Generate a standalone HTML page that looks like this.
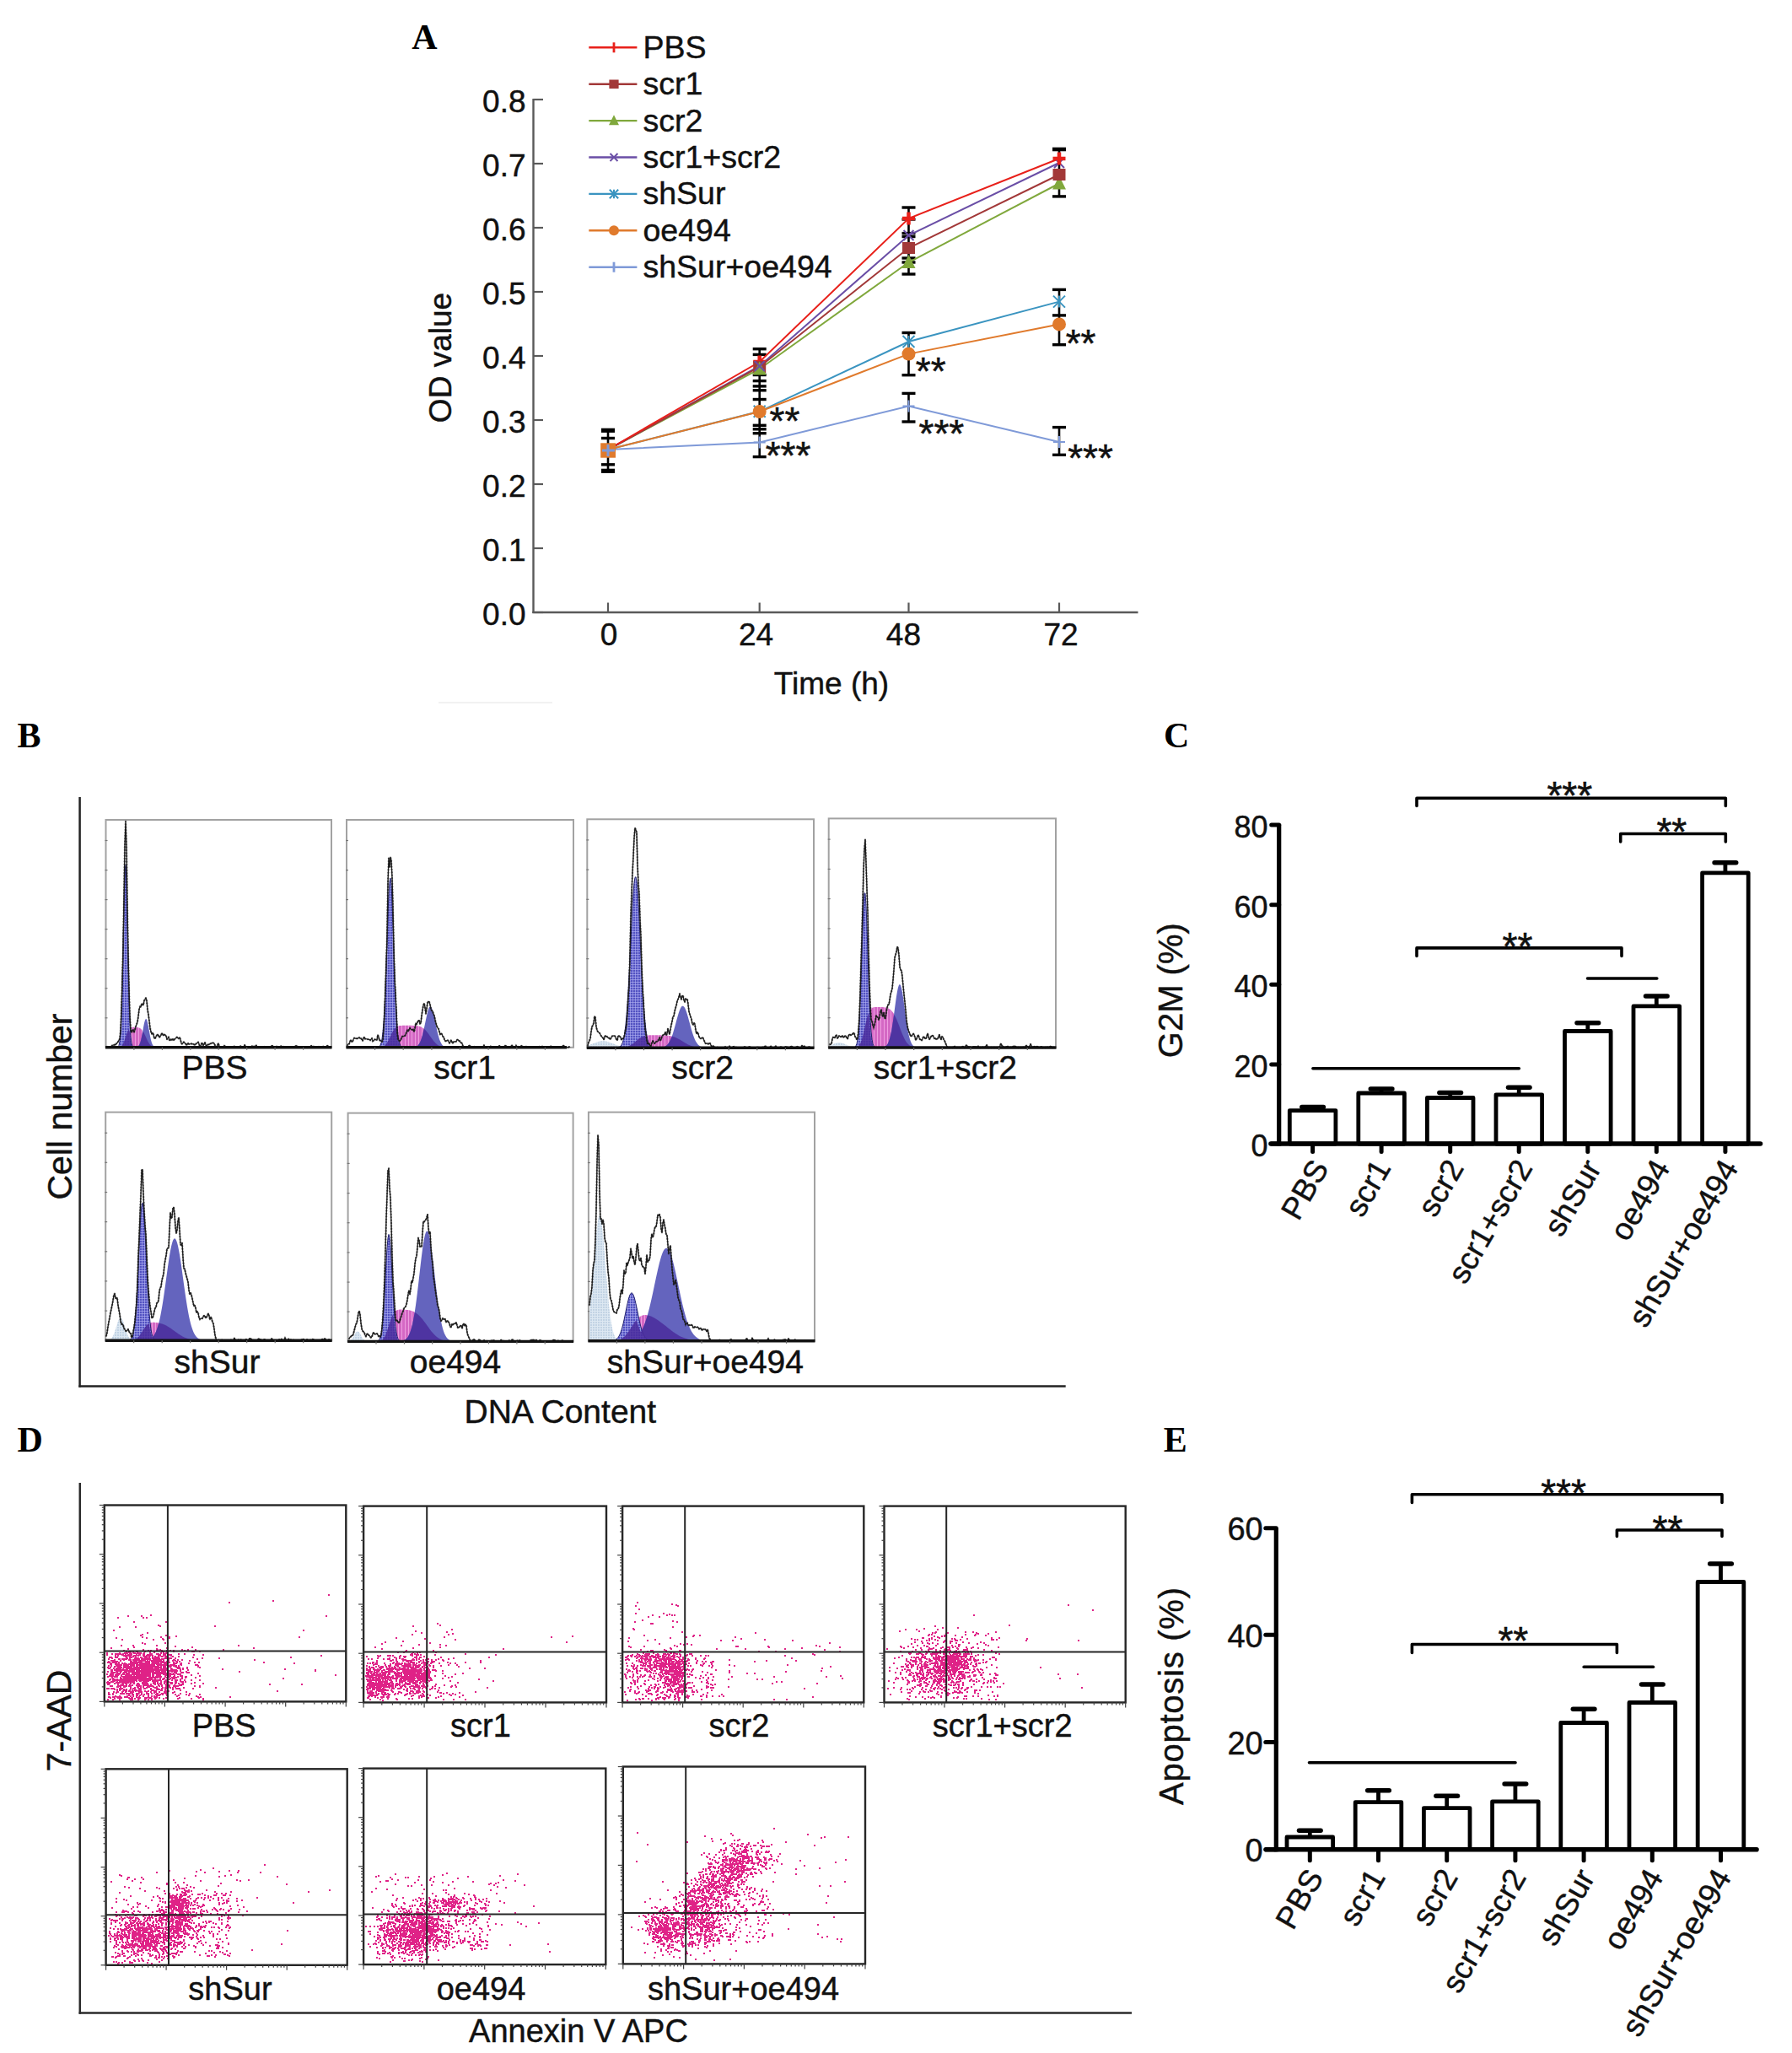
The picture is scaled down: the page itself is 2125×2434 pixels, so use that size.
<!DOCTYPE html>
<html><head><meta charset="utf-8"><style>
html,body{margin:0;padding:0;background:#fff;}
svg{display:block;}
</style></head><body>
<svg width="2125" height="2434" viewBox="0 0 2125 2434">
<rect width="2125" height="2434" fill="#fff"/>
<text x="488.2" y="57.7" font-size="42" text-anchor="start" fill="#000" style="font-family:'Liberation Serif',serif;font-weight:bold">A</text>
<text x="20.4" y="885.6" font-size="42" text-anchor="start" fill="#000" style="font-family:'Liberation Serif',serif;font-weight:bold">B</text>
<text x="1380.1" y="885.6" font-size="42" text-anchor="start" fill="#000" style="font-family:'Liberation Serif',serif;font-weight:bold">C</text>
<text x="20.4" y="1720.6" font-size="42" text-anchor="start" fill="#000" style="font-family:'Liberation Serif',serif;font-weight:bold">D</text>
<text x="1379.8" y="1720.6" font-size="42" text-anchor="start" fill="#000" style="font-family:'Liberation Serif',serif;font-weight:bold">E</text>
<line x1="632.5" y1="117.0" x2="632.5" y2="727.0" stroke="#5a5a5a" stroke-width="2.4" stroke-linecap="butt"/>
<line x1="631.3" y1="726.0" x2="1349.5" y2="726.0" stroke="#5a5a5a" stroke-width="2.4" stroke-linecap="butt"/>
<line x1="632.5" y1="726.0" x2="644.0" y2="726.0" stroke="#5a5a5a" stroke-width="2.2" stroke-linecap="butt"/>
<text x="623.5" y="741.0" font-size="37" text-anchor="end" fill="#111" style="font-family:'Liberation Sans',sans-serif" stroke="#111" stroke-width="0.45">0.0</text>
<line x1="632.5" y1="650.0" x2="644.0" y2="650.0" stroke="#5a5a5a" stroke-width="2.2" stroke-linecap="butt"/>
<text x="623.5" y="665.0" font-size="37" text-anchor="end" fill="#111" style="font-family:'Liberation Sans',sans-serif" stroke="#111" stroke-width="0.45">0.1</text>
<line x1="632.5" y1="574.0" x2="644.0" y2="574.0" stroke="#5a5a5a" stroke-width="2.2" stroke-linecap="butt"/>
<text x="623.5" y="589.0" font-size="37" text-anchor="end" fill="#111" style="font-family:'Liberation Sans',sans-serif" stroke="#111" stroke-width="0.45">0.2</text>
<line x1="632.5" y1="498.0" x2="644.0" y2="498.0" stroke="#5a5a5a" stroke-width="2.2" stroke-linecap="butt"/>
<text x="623.5" y="513.0" font-size="37" text-anchor="end" fill="#111" style="font-family:'Liberation Sans',sans-serif" stroke="#111" stroke-width="0.45">0.3</text>
<line x1="632.5" y1="422.0" x2="644.0" y2="422.0" stroke="#5a5a5a" stroke-width="2.2" stroke-linecap="butt"/>
<text x="623.5" y="437.0" font-size="37" text-anchor="end" fill="#111" style="font-family:'Liberation Sans',sans-serif" stroke="#111" stroke-width="0.45">0.4</text>
<line x1="632.5" y1="346.0" x2="644.0" y2="346.0" stroke="#5a5a5a" stroke-width="2.2" stroke-linecap="butt"/>
<text x="623.5" y="361.0" font-size="37" text-anchor="end" fill="#111" style="font-family:'Liberation Sans',sans-serif" stroke="#111" stroke-width="0.45">0.5</text>
<line x1="632.5" y1="270.0" x2="644.0" y2="270.0" stroke="#5a5a5a" stroke-width="2.2" stroke-linecap="butt"/>
<text x="623.5" y="285.0" font-size="37" text-anchor="end" fill="#111" style="font-family:'Liberation Sans',sans-serif" stroke="#111" stroke-width="0.45">0.6</text>
<line x1="632.5" y1="194.0" x2="644.0" y2="194.0" stroke="#5a5a5a" stroke-width="2.2" stroke-linecap="butt"/>
<text x="623.5" y="209.0" font-size="37" text-anchor="end" fill="#111" style="font-family:'Liberation Sans',sans-serif" stroke="#111" stroke-width="0.45">0.7</text>
<line x1="632.5" y1="118.0" x2="644.0" y2="118.0" stroke="#5a5a5a" stroke-width="2.2" stroke-linecap="butt"/>
<text x="623.5" y="133.0" font-size="37" text-anchor="end" fill="#111" style="font-family:'Liberation Sans',sans-serif" stroke="#111" stroke-width="0.45">0.8</text>
<line x1="721.0" y1="714.5" x2="721.0" y2="726.0" stroke="#5a5a5a" stroke-width="2.2" stroke-linecap="butt"/>
<text x="722.0" y="765.0" font-size="37" text-anchor="middle" fill="#111" style="font-family:'Liberation Sans',sans-serif" stroke="#111" stroke-width="0.45">0</text>
<line x1="900.7" y1="714.5" x2="900.7" y2="726.0" stroke="#5a5a5a" stroke-width="2.2" stroke-linecap="butt"/>
<text x="896.6" y="765.0" font-size="37" text-anchor="middle" fill="#111" style="font-family:'Liberation Sans',sans-serif" stroke="#111" stroke-width="0.45">24</text>
<line x1="1077.5" y1="714.5" x2="1077.5" y2="726.0" stroke="#5a5a5a" stroke-width="2.2" stroke-linecap="butt"/>
<text x="1071.4" y="765.0" font-size="37" text-anchor="middle" fill="#111" style="font-family:'Liberation Sans',sans-serif" stroke="#111" stroke-width="0.45">48</text>
<line x1="1256.0" y1="714.5" x2="1256.0" y2="726.0" stroke="#5a5a5a" stroke-width="2.2" stroke-linecap="butt"/>
<text x="1258.0" y="765.0" font-size="37" text-anchor="middle" fill="#111" style="font-family:'Liberation Sans',sans-serif" stroke="#111" stroke-width="0.45">72</text>
<text x="986.0" y="823.0" font-size="37" text-anchor="middle" fill="#111" style="font-family:'Liberation Sans',sans-serif" stroke="#111" stroke-width="0.45">Time (h)</text>
<text x="535.0" y="424.0" font-size="37" text-anchor="middle" fill="#111" style="font-family:'Liberation Sans',sans-serif" transform="rotate(-90 535.0 424.0)" stroke="#111" stroke-width="0.45">OD value</text>
<line x1="698.3" y1="56.3" x2="755.4" y2="56.3" stroke="#e8201a" stroke-width="2.4" stroke-linecap="butt"/>
<line x1="728.0" y1="50.3" x2="728.0" y2="62.3" stroke="#e8201a" stroke-width="2.8" stroke-linecap="butt"/>
<text x="762.5" y="68.7" font-size="37.5" text-anchor="start" fill="#111" style="font-family:'Liberation Sans',sans-serif" stroke="#111" stroke-width="0.45">PBS</text>
<line x1="698.3" y1="99.7" x2="755.4" y2="99.7" stroke="#a23838" stroke-width="2.4" stroke-linecap="butt"/>
<rect x="722.4" y="94.5" width="11.2" height="10.5" fill="#a23838"/>
<text x="762.5" y="112.1" font-size="37.5" text-anchor="start" fill="#111" style="font-family:'Liberation Sans',sans-serif" stroke="#111" stroke-width="0.45">scr1</text>
<line x1="698.3" y1="143.1" x2="755.4" y2="143.1" stroke="#80a83c" stroke-width="2.4" stroke-linecap="butt"/>
<path d="M728.0 136.3L734.0 148.3H722.0Z" fill="#80a83c"/>
<text x="762.5" y="155.5" font-size="37.5" text-anchor="start" fill="#111" style="font-family:'Liberation Sans',sans-serif" stroke="#111" stroke-width="0.45">scr2</text>
<line x1="698.3" y1="186.5" x2="755.4" y2="186.5" stroke="#6a4ea6" stroke-width="2.4" stroke-linecap="butt"/>
<path d="M723.5 182.0L732.5 191.0M732.5 182.0L723.5 191.0" stroke="#6a4ea6" stroke-width="2"/>
<text x="762.5" y="198.9" font-size="37.5" text-anchor="start" fill="#111" style="font-family:'Liberation Sans',sans-serif" stroke="#111" stroke-width="0.45">scr1+scr2</text>
<line x1="698.3" y1="229.9" x2="755.4" y2="229.9" stroke="#3a94c0" stroke-width="2.4" stroke-linecap="butt"/>
<path d="M722.8 224.7L733.2 235.2M733.2 224.7L722.8 235.2M728.0 224.7V235.2" stroke="#3a94c0" stroke-width="2"/>
<text x="762.5" y="242.3" font-size="37.5" text-anchor="start" fill="#111" style="font-family:'Liberation Sans',sans-serif" stroke="#111" stroke-width="0.45">shSur</text>
<line x1="698.3" y1="273.3" x2="755.4" y2="273.3" stroke="#e07a2c" stroke-width="2.4" stroke-linecap="butt"/>
<circle cx="728.0" cy="273.3" r="6.0" fill="#e07a2c"/>
<text x="762.5" y="285.7" font-size="37.5" text-anchor="start" fill="#111" style="font-family:'Liberation Sans',sans-serif" stroke="#111" stroke-width="0.45">oe494</text>
<line x1="698.3" y1="316.7" x2="755.4" y2="316.7" stroke="#7f9ad8" stroke-width="2.4" stroke-linecap="butt"/>
<line x1="728.0" y1="310.7" x2="728.0" y2="322.7" stroke="#7f9ad8" stroke-width="2.8" stroke-linecap="butt"/>
<text x="762.5" y="329.1" font-size="37.5" text-anchor="start" fill="#111" style="font-family:'Liberation Sans',sans-serif" stroke="#111" stroke-width="0.45">shSur+oe494</text>
<line x1="721.0" y1="510.0" x2="721.0" y2="558.5" stroke="#000" stroke-width="2.6" stroke-linecap="butt"/>
<line x1="713.0" y1="510.3" x2="729.0" y2="510.3" stroke="#000" stroke-width="5.2" stroke-linecap="butt"/>
<line x1="713.0" y1="519.5" x2="729.0" y2="519.5" stroke="#000" stroke-width="3.4" stroke-linecap="butt"/>
<line x1="713.0" y1="550.8" x2="729.0" y2="550.8" stroke="#000" stroke-width="3.4" stroke-linecap="butt"/>
<line x1="713.0" y1="558.3" x2="729.0" y2="558.3" stroke="#000" stroke-width="5.2" stroke-linecap="butt"/>
<line x1="900.7" y1="413.7" x2="900.7" y2="541.6" stroke="#000" stroke-width="2.6" stroke-linecap="butt"/>
<line x1="892.7" y1="413.7" x2="908.7" y2="413.7" stroke="#000" stroke-width="3.4" stroke-linecap="butt"/>
<line x1="892.7" y1="420.4" x2="908.7" y2="420.4" stroke="#000" stroke-width="3.4" stroke-linecap="butt"/>
<line x1="892.7" y1="444.5" x2="908.7" y2="444.5" stroke="#000" stroke-width="3.4" stroke-linecap="butt"/>
<line x1="892.7" y1="451.6" x2="908.7" y2="451.6" stroke="#000" stroke-width="3.4" stroke-linecap="butt"/>
<line x1="892.7" y1="457.9" x2="908.7" y2="457.9" stroke="#000" stroke-width="3.4" stroke-linecap="butt"/>
<line x1="892.7" y1="462.8" x2="908.7" y2="462.8" stroke="#000" stroke-width="3.4" stroke-linecap="butt"/>
<line x1="892.7" y1="473.5" x2="908.7" y2="473.5" stroke="#000" stroke-width="3.4" stroke-linecap="butt"/>
<line x1="892.7" y1="504.3" x2="908.7" y2="504.3" stroke="#000" stroke-width="3.4" stroke-linecap="butt"/>
<line x1="892.7" y1="508.8" x2="908.7" y2="508.8" stroke="#000" stroke-width="3.4" stroke-linecap="butt"/>
<line x1="892.7" y1="513.7" x2="908.7" y2="513.7" stroke="#000" stroke-width="3.4" stroke-linecap="butt"/>
<line x1="892.7" y1="541.6" x2="908.7" y2="541.6" stroke="#000" stroke-width="3.4" stroke-linecap="butt"/>
<line x1="1077.5" y1="246.0" x2="1077.5" y2="325.0" stroke="#000" stroke-width="2.6" stroke-linecap="butt"/>
<line x1="1069.5" y1="246.0" x2="1085.5" y2="246.0" stroke="#000" stroke-width="3.4" stroke-linecap="butt"/>
<line x1="1069.5" y1="260.0" x2="1085.5" y2="260.0" stroke="#000" stroke-width="3.4" stroke-linecap="butt"/>
<line x1="1069.5" y1="276.6" x2="1085.5" y2="276.6" stroke="#000" stroke-width="3.4" stroke-linecap="butt"/>
<line x1="1069.5" y1="280.5" x2="1085.5" y2="280.5" stroke="#000" stroke-width="3.4" stroke-linecap="butt"/>
<line x1="1069.5" y1="306.0" x2="1085.5" y2="306.0" stroke="#000" stroke-width="3.4" stroke-linecap="butt"/>
<line x1="1069.5" y1="311.0" x2="1085.5" y2="311.0" stroke="#000" stroke-width="3.4" stroke-linecap="butt"/>
<line x1="1069.5" y1="325.0" x2="1085.5" y2="325.0" stroke="#000" stroke-width="3.4" stroke-linecap="butt"/>
<line x1="1077.5" y1="394.5" x2="1077.5" y2="444.7" stroke="#000" stroke-width="2.6" stroke-linecap="butt"/>
<line x1="1069.5" y1="394.5" x2="1085.5" y2="394.5" stroke="#000" stroke-width="3.4" stroke-linecap="butt"/>
<line x1="1069.5" y1="444.7" x2="1085.5" y2="444.7" stroke="#000" stroke-width="3.4" stroke-linecap="butt"/>
<line x1="1077.5" y1="466.4" x2="1077.5" y2="500.0" stroke="#000" stroke-width="2.6" stroke-linecap="butt"/>
<line x1="1069.5" y1="466.4" x2="1085.5" y2="466.4" stroke="#000" stroke-width="3.4" stroke-linecap="butt"/>
<line x1="1069.5" y1="500.0" x2="1085.5" y2="500.0" stroke="#000" stroke-width="3.4" stroke-linecap="butt"/>
<line x1="1256.0" y1="176.4" x2="1256.0" y2="232.9" stroke="#000" stroke-width="2.6" stroke-linecap="butt"/>
<line x1="1248.0" y1="177.0" x2="1264.0" y2="177.0" stroke="#000" stroke-width="4.6" stroke-linecap="butt"/>
<line x1="1248.0" y1="232.9" x2="1264.0" y2="232.9" stroke="#000" stroke-width="3.4" stroke-linecap="butt"/>
<line x1="1256.0" y1="343.4" x2="1256.0" y2="408.7" stroke="#000" stroke-width="2.6" stroke-linecap="butt"/>
<line x1="1248.0" y1="343.4" x2="1264.0" y2="343.4" stroke="#000" stroke-width="3.4" stroke-linecap="butt"/>
<line x1="1248.0" y1="373.9" x2="1264.0" y2="373.9" stroke="#000" stroke-width="3.4" stroke-linecap="butt"/>
<line x1="1248.0" y1="408.7" x2="1264.0" y2="408.7" stroke="#000" stroke-width="3.4" stroke-linecap="butt"/>
<line x1="1256.0" y1="506.6" x2="1256.0" y2="539.3" stroke="#000" stroke-width="2.6" stroke-linecap="butt"/>
<line x1="1248.0" y1="506.6" x2="1264.0" y2="506.6" stroke="#000" stroke-width="3.4" stroke-linecap="butt"/>
<line x1="1248.0" y1="539.3" x2="1264.0" y2="539.3" stroke="#000" stroke-width="3.4" stroke-linecap="butt"/>
<polyline points="721.0,533.0 900.7,524.4 1077.5,481.5 1256.0,524.0" fill="none" stroke="#7f9ad8" stroke-width="2"/>
<polyline points="721.0,533.0 900.7,487.8 1077.5,405.0 1256.0,357.6" fill="none" stroke="#3a94c0" stroke-width="2"/>
<polyline points="721.0,533.0 900.7,488.0 1077.5,419.6 1256.0,384.4" fill="none" stroke="#e07a2c" stroke-width="2"/>
<polyline points="721.0,533.0 900.7,437.5 1077.5,311.0 1256.0,217.5" fill="none" stroke="#80a83c" stroke-width="2"/>
<polyline points="721.0,533.0 900.7,434.0 1077.5,279.0 1256.0,193.0" fill="none" stroke="#6a4ea6" stroke-width="2"/>
<polyline points="721.0,533.0 900.7,435.0 1077.5,294.0 1256.0,207.0" fill="none" stroke="#a23838" stroke-width="2"/>
<polyline points="721.0,533.0 900.7,429.0 1077.5,259.0 1256.0,188.0" fill="none" stroke="#e8201a" stroke-width="2"/>
<path d="M893.2 429.0H908.2M900.7 421.5V436.5" stroke="#e8201a" stroke-width="4.5"/>
<rect x="893.2" y="428.0" width="15.0" height="14.0" fill="#a23838"/>
<path d="M900.7 428.5L908.7 444.5H892.7Z" fill="#80a83c"/>
<path d="M894.7 428.0L906.7 440.0M906.7 428.0L894.7 440.0" stroke="#6a4ea6" stroke-width="2"/>
<path d="M893.7 480.8L907.7 494.8M907.7 480.8L893.7 494.8M900.7 480.8V494.8" stroke="#3a94c0" stroke-width="2"/>
<circle cx="900.7" cy="488.0" r="8.0" fill="#e07a2c"/>
<path d="M893.7 524.4H907.7M900.7 517.4V531.4" stroke="#7f9ad8" stroke-width="2"/>
<path d="M1070.5 481.5H1084.5M1077.5 474.5V488.5" stroke="#7f9ad8" stroke-width="2"/>
<path d="M1249.0 524.0H1263.0M1256.0 517.0V531.0" stroke="#7f9ad8" stroke-width="2"/>
<circle cx="1077.5" cy="419.6" r="8.0" fill="#e07a2c"/>
<circle cx="1256.0" cy="384.4" r="8.0" fill="#e07a2c"/>
<path d="M1070.5 398.0L1084.5 412.0M1084.5 398.0L1070.5 412.0M1077.5 398.0V412.0" stroke="#3a94c0" stroke-width="2"/>
<path d="M1249.0 350.6L1263.0 364.6M1263.0 350.6L1249.0 364.6M1256.0 350.6V364.6" stroke="#3a94c0" stroke-width="2"/>
<path d="M1077.5 302.0L1085.5 318.0H1069.5Z" fill="#80a83c"/>
<path d="M1256.0 208.5L1264.0 224.5H1248.0Z" fill="#80a83c"/>
<rect x="1070.0" y="287.0" width="15.0" height="14.0" fill="#a23838"/>
<rect x="1248.5" y="200.0" width="15.0" height="14.0" fill="#a23838"/>
<path d="M1071.5 273.0L1083.5 285.0M1083.5 273.0L1071.5 285.0" stroke="#6a4ea6" stroke-width="2"/>
<path d="M1250.0 187.0L1262.0 199.0M1262.0 187.0L1250.0 199.0" stroke="#6a4ea6" stroke-width="2"/>
<path d="M1070.0 259.0H1085.0M1077.5 251.5V266.5" stroke="#e8201a" stroke-width="4.5"/>
<path d="M1248.5 188.0H1263.5M1256.0 180.5V195.5" stroke="#e8201a" stroke-width="4.5"/>
<rect x="712.2" y="525.3" width="17.8" height="17.4" fill="#e07a2c"/>
<path d="M714 534H729M721 527V541" stroke="#7f9ad8" stroke-width="3"/>
<text x="912.6" y="515.2" font-size="46" text-anchor="start" fill="#111" style="font-family:'Liberation Sans',sans-serif" stroke="#111" stroke-width="0.5">**</text>
<text x="907.7" y="556.2" font-size="46" text-anchor="start" fill="#111" style="font-family:'Liberation Sans',sans-serif" stroke="#111" stroke-width="0.5">***</text>
<text x="1085.8" y="456.4" font-size="46" text-anchor="start" fill="#111" style="font-family:'Liberation Sans',sans-serif" stroke="#111" stroke-width="0.5">**</text>
<text x="1089.5" y="529.9" font-size="46" text-anchor="start" fill="#111" style="font-family:'Liberation Sans',sans-serif" stroke="#111" stroke-width="0.5">***</text>
<text x="1263.7" y="423.4" font-size="46" text-anchor="start" fill="#111" style="font-family:'Liberation Sans',sans-serif" stroke="#111" stroke-width="0.5">**</text>
<text x="1266.2" y="559.2" font-size="46" text-anchor="start" fill="#111" style="font-family:'Liberation Sans',sans-serif" stroke="#111" stroke-width="0.5">***</text>
<line x1="520.0" y1="833.0" x2="655.0" y2="833.0" stroke="#eeeeee" stroke-width="1.5" stroke-linecap="butt"/>
<defs>
<pattern id="grid" width="3" height="3" patternUnits="userSpaceOnUse">
<rect width="3" height="3" fill="#5252c2"/><path d="M0 0.35H3M0.35 0V3" stroke="#b4b4f4" stroke-width="0.7"/></pattern>
<pattern id="grid2" width="3" height="3" patternUnits="userSpaceOnUse">
<rect width="3" height="3" fill="#c2d3e4"/><path d="M0 0.5H3M0.5 0V3" stroke="#dde8f2" stroke-width="1"/></pattern>
<pattern id="vstripe" width="4" height="4" patternUnits="userSpaceOnUse">
<rect width="4" height="4" fill="#d468c4"/><path d="M0.5 0V4" stroke="#ee9ee0" stroke-width="1"/></pattern>
</defs>
<rect x="125.5" y="972.0" width="267.5" height="269.8" fill="none" stroke="#a2a2a2" stroke-width="2"/>
<line x1="124.5" y1="1206.8" x2="127.5" y2="1206.8" stroke="#777" stroke-width="1.2" stroke-linecap="butt"/>
<line x1="124.5" y1="1171.7" x2="127.5" y2="1171.7" stroke="#777" stroke-width="1.2" stroke-linecap="butt"/>
<line x1="124.5" y1="1136.7" x2="127.5" y2="1136.7" stroke="#777" stroke-width="1.2" stroke-linecap="butt"/>
<line x1="124.5" y1="1101.6" x2="127.5" y2="1101.6" stroke="#777" stroke-width="1.2" stroke-linecap="butt"/>
<line x1="124.5" y1="1066.6" x2="127.5" y2="1066.6" stroke="#777" stroke-width="1.2" stroke-linecap="butt"/>
<line x1="124.5" y1="1031.6" x2="127.5" y2="1031.6" stroke="#777" stroke-width="1.2" stroke-linecap="butt"/>
<line x1="124.5" y1="996.5" x2="127.5" y2="996.5" stroke="#777" stroke-width="1.2" stroke-linecap="butt"/>
<path d="M141 1241.8L141 1241.7 142 1241.4 143 1241 144 1240.3 145 1239.1 146 1237.4 147 1235 148 1232.2 149 1229.2 150 1226.2 151 1223.6 152 1221.5 153 1219.9 154 1218.9 155 1218.4 156 1218.1 157 1217.9 158 1217.8 159 1217.8 160 1217.8 161 1217.9 162 1217.9 163 1218 164 1218.2 165 1218.5 166 1219 167 1219.7 168 1220.7 169 1221.9 170 1223.5 171 1225.3 172 1227.4 173 1229.6 174 1231.8 175 1233.9 176 1235.8 177 1237.4 178 1238.7 179 1239.7 180 1240.5 181 1241 182 1241.3 183 1241.5 184 1241.7L184 1241.8Z" fill="url(#vstripe)"/>
<path d="M161 1241.8L161 1241.7 162 1241.5 163 1241.1 164 1240.4 165 1239.1 166 1236.9 167 1233.7 168 1229.3 169 1224 170 1218.3 171 1213.1 172 1209.4 173 1207.8 174 1208.8 175 1212.2 176 1217.2 177 1222.9 178 1228.3 179 1232.9 180 1236.4 181 1238.7 182 1240.2 183 1241 184 1241.5 185 1241.7L185 1241.8Z" fill="#6464be"/>
<path d="M139 1241.8L139 1241.6 140 1241.1 141 1239.4 142 1234.7 143 1223.8 144 1202.3 145 1167.2 146 1120.3 147 1071 148 1034.8 149 1025.4 150 1046.7 151 1090.1 152 1140.1 153 1182.9 154 1212.4 155 1229.2 156 1237.1 157 1240.3 158 1241.4 159 1241.7L159 1241.8Z" fill="url(#grid)" stroke="#23236e" stroke-width="1"/>
<path d="M141 1241.8L141 1241.7 142 1241.4 143 1241 144 1240.3 145 1239.1 146 1237.4 147 1235 148 1232.2 149 1229.2 150 1226.2 151 1223.6 152 1221.5 153 1219.9 154 1224.2 155 1234.2 156 1239 157 1240.9 158 1241.6 159 1241.7 160 1241.8 161 1241.7 162 1241.5 163 1241.1 164 1240.4 165 1239.1 166 1236.9 167 1233.7 168 1229.3 169 1224 170 1223.5 171 1225.3 172 1227.4 173 1229.6 174 1231.8 175 1233.9 176 1235.8 177 1237.4 178 1238.7 179 1239.7 180 1240.5 181 1241 182 1241.3 183 1241.5 184 1241.7L184 1241.8Z" fill="#4a2c9c" fill-opacity="0.85"/>
<defs><path id="o10" d="M127 1241 128 1241.6 129 1241.8 130 1241.8 131 1241.8 132 1241.3 133 1239.3 134 1239.2 135 1239.2 136 1238.3 137 1238.8 138 1237.2 139 1236.5 140 1235.1 141 1233.4 142 1231.7 143 1221.9 144 1197.5 145 1161.2 146 1123.3 147 1065 148 1002.1 149 973.9 150 1003.5 151 1075.7 152 1130.2 153 1172 154 1205.4 155 1220.6 156 1224.2 157 1221 158 1221.1 159 1223.9 160 1221.1 161 1216.9 162 1214.4 163 1211.5 164 1204.9 165 1196.8 166 1193.6 167 1194 168 1189.9 169 1190.9 170 1191.7 171 1186.2 172 1185 173 1183.1 174 1186.6 175 1197.4 176 1202.6 177 1210.5 178 1218.9 179 1223.2 180 1225.9 181 1224.4 182 1226.4 183 1231.2 184 1231.2 185 1228.9 186 1227.4 187 1226.3 188 1227.9 189 1230 190 1228.5 191 1227.1 192 1224.8 193 1226.8 194 1227.8 195 1226.5 196 1226.9 197 1228.3 198 1232.1 199 1230.8 200 1229.4 201 1233.7 202 1233.3 203 1232.2 204 1233.2 205 1232 206 1233.5 207 1232.1 208 1231.1 209 1230.5 210 1229.3 211 1230.7 212 1231.2 213 1229.8 214 1232.3 215 1236.9 216 1237.8 217 1236.6 218 1235.2 219 1236.5 220 1237.4 221 1239.2 222 1238 223 1236.5 224 1237.9 225 1238 226 1237.5 227 1237.4 228 1237.9 229 1237.6 230 1238.3 231 1239 232 1238 233 1237 234 1236.7 235 1235.5 236 1237.6 237 1241 238 1240.1 239 1236.9 240 1236.5 241 1239.7 242 1238 243 1235.6 244 1238.8 245 1240.2 246 1238.6 247 1238.3 248 1238.5 249 1237.4 250 1237.3 251 1236.4 252 1236.6 253 1236.5 254 1236.9 255 1239.6 256 1241.2 257 1240.9 258 1238.7 259 1236.9 260 1240.8 261 1241.8 262 1240.8 263 1241 264 1241.2 265 1241.8 266 1239.8 267 1240.1 268 1241.8 269 1241.1 270 1240.7 271 1241.7 272 1241.8 273 1241.8 274 1241.8 275 1241.8 276 1241.1 277 1241.3 278 1240.1 279 1241.2 280 1241.8 281 1241.4 282 1241.8 283 1241.8 284 1240.6 285 1240.1 286 1241 287 1241.4 288 1241.8 289 1241.1 290 1238.9 291 1240.1 292 1241.5 293 1241.8 294 1241.8 295 1241.8 296 1241.8 297 1241.8 298 1241.5 299 1240 300 1240.7 301 1240.4 302 1241.6 303 1240.3 304 1239.1 305 1241.8 306 1241.8 307 1241.8 308 1241.8 309 1240.6 310 1240.9 311 1241.5 312 1241.8 313 1241.8 314 1241 315 1241.8 316 1241.8 317 1241.1 318 1241.8 319 1241.6 320 1241.8 321 1241.8 322 1240.2 323 1239.6 324 1240.5 325 1241.3 326 1241.5 327 1241.6 328 1240.8 329 1240.8 330 1241.8 331 1241.8 332 1241 333 1240.1 334 1240.7 335 1241.8 336 1241.3 337 1240.7 338 1241.8 339 1241.8 340 1241.2 341 1241.3 342 1241.8 343 1241.8 344 1241.8 345 1241.8 346 1241.8 347 1241.8 348 1241.8 349 1241.8 350 1240.1 351 1239.9 352 1240.3 353 1240.5 354 1241.8 355 1241.8 356 1241.8 357 1241.8 358 1241.8 359 1241.8 360 1241.7 361 1241.8 362 1241.4 363 1241.1 364 1241.8 365 1241.3 366 1241.7 367 1241.7 368 1240.9 369 1239.6 370 1241.3 371 1241.3 372 1240.6 373 1241.8 374 1241.4 375 1241.7 376 1241.8 377 1241.3 378 1241 379 1241.8 380 1241.8 381 1241.8 382 1241.7 383 1240.4 384 1241.3 385 1241.8 386 1241.8 387 1240.6 388 1239.4 389 1240.5 390 1241.8"/></defs>
<use href="#o10" fill="none" stroke="#2a2a2a" stroke-width="1.3" stroke-linejoin="round"/>
<use href="#o10" fill="none" stroke="#111" stroke-width="2.4" stroke-dasharray="0.1 3.3" stroke-linecap="round" opacity="0.6"/>
<line x1="125.0" y1="1241.8" x2="393.5" y2="1241.8" stroke="#111" stroke-width="3.4" stroke-linecap="butt"/>
<line x1="158.9" y1="1241.8" x2="158.9" y2="1244.8" stroke="#666" stroke-width="1.2" stroke-linecap="butt"/>
<line x1="192.4" y1="1241.8" x2="192.4" y2="1244.8" stroke="#666" stroke-width="1.2" stroke-linecap="butt"/>
<line x1="225.8" y1="1241.8" x2="225.8" y2="1244.8" stroke="#666" stroke-width="1.2" stroke-linecap="butt"/>
<line x1="259.2" y1="1241.8" x2="259.2" y2="1244.8" stroke="#666" stroke-width="1.2" stroke-linecap="butt"/>
<line x1="292.7" y1="1241.8" x2="292.7" y2="1244.8" stroke="#666" stroke-width="1.2" stroke-linecap="butt"/>
<line x1="326.1" y1="1241.8" x2="326.1" y2="1244.8" stroke="#666" stroke-width="1.2" stroke-linecap="butt"/>
<line x1="359.6" y1="1241.8" x2="359.6" y2="1244.8" stroke="#666" stroke-width="1.2" stroke-linecap="butt"/>
<rect x="411.0" y="972.0" width="269.0" height="269.8" fill="none" stroke="#a2a2a2" stroke-width="2"/>
<line x1="410.0" y1="1206.8" x2="413.0" y2="1206.8" stroke="#777" stroke-width="1.2" stroke-linecap="butt"/>
<line x1="410.0" y1="1171.7" x2="413.0" y2="1171.7" stroke="#777" stroke-width="1.2" stroke-linecap="butt"/>
<line x1="410.0" y1="1136.7" x2="413.0" y2="1136.7" stroke="#777" stroke-width="1.2" stroke-linecap="butt"/>
<line x1="410.0" y1="1101.6" x2="413.0" y2="1101.6" stroke="#777" stroke-width="1.2" stroke-linecap="butt"/>
<line x1="410.0" y1="1066.6" x2="413.0" y2="1066.6" stroke="#777" stroke-width="1.2" stroke-linecap="butt"/>
<line x1="410.0" y1="1031.6" x2="413.0" y2="1031.6" stroke="#777" stroke-width="1.2" stroke-linecap="butt"/>
<line x1="410.0" y1="996.5" x2="413.0" y2="996.5" stroke="#777" stroke-width="1.2" stroke-linecap="butt"/>
<path d="M451 1241.8L451 1241.6 452 1241.5 453 1241.3 454 1240.9 455 1240.4 456 1239.8 457 1238.9 458 1237.7 459 1236.2 460 1234.5 461 1232.6 462 1230.5 463 1228.4 464 1226.2 465 1224.2 466 1222.4 467 1220.8 468 1219.4 469 1218.4 470 1217.5 471 1216.9 472 1216.5 473 1216.2 474 1216.1 475 1215.9 476 1215.9 477 1215.8 478 1215.8 479 1215.8 480 1215.8 481 1215.8 482 1215.8 483 1215.8 484 1215.8 485 1215.8 486 1215.8 487 1215.8 488 1215.8 489 1215.8 490 1215.9 491 1215.9 492 1215.9 493 1216 494 1216.1 495 1216.2 496 1216.4 497 1216.6 498 1216.9 499 1217.3 500 1217.8 501 1218.4 502 1219 503 1219.8 504 1220.8 505 1221.8 506 1223 507 1224.2 508 1225.5 509 1226.9 510 1228.4 511 1229.8 512 1231.2 513 1232.6 514 1233.9 515 1235.1 516 1236.2 517 1237.2 518 1238.1 519 1238.9 520 1239.5 521 1240 522 1240.4 523 1240.8 524 1241.1 525 1241.3 526 1241.4 527 1241.5 528 1241.6L528 1241.8Z" fill="url(#vstripe)"/>
<path d="M490 1241.8L490 1241.6 491 1241.5 492 1241.3 493 1241 494 1240.6 495 1239.9 496 1239 497 1237.6 498 1235.9 499 1233.6 500 1230.7 501 1227.2 502 1223.1 503 1218.6 504 1213.8 505 1208.9 506 1204.2 507 1200 508 1196.6 509 1194.3 510 1193.3 511 1193.5 512 1195.1 513 1197.9 514 1201.6 515 1206 516 1210.8 517 1215.7 518 1220.5 519 1224.8 520 1228.6 521 1231.9 522 1234.5 523 1236.6 524 1238.2 525 1239.4 526 1240.2 527 1240.8 528 1241.2 529 1241.4 530 1241.6L530 1241.8Z" fill="#6464be"/>
<path d="M448 1241.8L448 1241.6 449 1241.3 450 1240.6 451 1239.2 452 1236.5 453 1231.8 454 1223.9 455 1211.8 456 1194.4 457 1171.6 458 1144 459 1113.8 460 1084.5 461 1060.2 462 1044.8 463 1041.1 464 1049.6 465 1069 466 1095.8 467 1126 468 1155.5 469 1181.3 470 1202 471 1217.2 472 1227.5 473 1234 474 1237.8 475 1239.9 476 1240.9 477 1241.4 478 1241.7L478 1241.8Z" fill="url(#grid)" stroke="#23236e" stroke-width="1"/>
<path d="M451 1241.8L451 1241.6 452 1241.5 453 1241.3 454 1240.9 455 1240.4 456 1239.8 457 1238.9 458 1237.7 459 1236.2 460 1234.5 461 1232.6 462 1230.5 463 1228.4 464 1226.2 465 1224.2 466 1222.4 467 1220.8 468 1219.4 469 1218.4 470 1217.9 471 1227.1 472 1233.2 473 1237.1 474 1239.4 475 1240.6 476 1241.3 477 1241.6 478 1241.7 479 1241.8 480 1241.8 481 1241.8 482 1241.8 483 1241.8 484 1241.8 485 1241.8 486 1241.8 487 1241.8 488 1241.8 489 1241.7 490 1241.6 491 1241.5 492 1241.3 493 1241 494 1240.6 495 1239.9 496 1239 497 1237.6 498 1235.9 499 1233.6 500 1230.7 501 1227.2 502 1223.1 503 1219.8 504 1220.8 505 1221.8 506 1223 507 1224.2 508 1225.5 509 1226.9 510 1228.4 511 1229.8 512 1231.2 513 1232.6 514 1233.9 515 1235.1 516 1236.2 517 1237.2 518 1238.1 519 1238.9 520 1239.5 521 1240 522 1240.4 523 1240.8 524 1241.1 525 1241.3 526 1241.4 527 1241.5 528 1241.6L528 1241.8Z" fill="#4a2c9c" fill-opacity="0.85"/>
<defs><path id="o11" d="M412 1239.5 413 1237.6 414 1237.7 415 1235.1 416 1232.8 417 1235.2 418 1235.2 419 1232.4 420 1230.7 421 1230.8 422 1231.5 423 1231.2 424 1231.5 425 1230.6 426 1230.1 427 1231.2 428 1230.8 429 1232.4 430 1234 431 1230.8 432 1229.5 433 1231.7 434 1231.7 435 1232 436 1232.1 437 1232.3 438 1232.3 439 1233.4 440 1232.1 441 1230.8 442 1234.4 443 1234.1 444 1232.5 445 1232.1 446 1233.1 447 1232.8 448 1226.9 449 1229.2 450 1233.7 451 1233.4 452 1234.3 453 1235.3 454 1232.8 455 1220.1 456 1201.3 457 1172.7 458 1141.5 459 1110.5 460 1047.1 461 1017.5 462 1027.9 463 1016.1 464 1020.4 465 1040.5 466 1076.6 467 1125 468 1159.5 469 1178.2 470 1198.9 471 1223.2 472 1232.5 473 1233.6 474 1234.1 475 1233.4 476 1231.1 477 1228.7 478 1228.7 479 1228.3 480 1228.2 481 1226.7 482 1223.4 483 1221.7 484 1223 485 1220.6 486 1218.7 487 1219.9 488 1220.8 489 1220.9 490 1219.9 491 1223.3 492 1219.7 493 1213 494 1214.3 495 1212.4 496 1209.9 497 1209.6 498 1213.7 499 1213.1 500 1204.4 501 1197.7 502 1191.9 503 1189.5 504 1194.4 505 1201.8 506 1195.7 507 1188.7 508 1187.2 509 1187.9 510 1191 511 1196.4 512 1198.2 513 1198.6 514 1202.3 515 1204.2 516 1209.2 517 1213.3 518 1216.6 519 1218.6 520 1219.7 521 1223.2 522 1226.5 523 1225 524 1226.1 525 1228.7 526 1229.3 527 1232.3 528 1234.4 529 1234.2 530 1233.4 531 1233.1 532 1235.1 533 1236.7 534 1235.4 535 1233 536 1235.6 537 1237 538 1234.9 539 1234.9 540 1234.9 541 1234.9 542 1232.6 543 1232.6 544 1234 545 1234.1 546 1235.8 547 1236.3 548 1237.1 549 1240.2 550 1241.3 551 1241.5 552 1241.1 553 1241.1 554 1241.8 555 1241 556 1239.6 557 1239.8 558 1240.1 559 1241.4 560 1241.8 561 1241.8 562 1241.2 563 1240.8 564 1241.8 565 1241.8 566 1241.8 567 1241.8 568 1241.8 569 1241.8 570 1241.8 571 1241.8 572 1241.8 573 1241.8 574 1239.2 575 1241.2 576 1241.5 577 1240.8 578 1241.8 579 1241.8 580 1241.8 581 1241.8 582 1240.2 583 1241.8 584 1241.8 585 1241.8 586 1241.8 587 1241.3 588 1241.8 589 1241.8 590 1241.8 591 1240.7 592 1239.6 593 1241 594 1241.8 595 1241.8 596 1241.7 597 1241.8 598 1241.1 599 1239.3 600 1240 601 1241.7 602 1241.5 603 1241.8 604 1241.8 605 1241.8 606 1240.6 607 1239 608 1241 609 1241.8 610 1241.8 611 1241.8 612 1239.7 613 1241 614 1241.8 615 1240.5 616 1241.8 617 1241.8 618 1239.7 619 1240.4 620 1241.7 621 1241.1 622 1241.8 623 1241.8 624 1240.8 625 1241.8 626 1241.8 627 1241.3 628 1241.8 629 1241.8 630 1241.8 631 1241.8 632 1241.8 633 1241.8 634 1241.5 635 1241.8 636 1241.8 637 1241.8 638 1241 639 1240.5 640 1241.8 641 1241.8 642 1241.8 643 1240.1 644 1241.4 645 1241.8 646 1241.8 647 1241.8 648 1241.8 649 1241.8 650 1241.2 651 1241.8 652 1241.8 653 1240.4 654 1240.9 655 1240.7 656 1241.1 657 1241.8 658 1241.5 659 1241.4 660 1241.1 661 1241.8 662 1241.6 663 1241.2 664 1241.8 665 1241.8 666 1241.8 667 1240.1 668 1239.7 669 1240.1 670 1241.8 671 1241.8 672 1241.8 673 1241.8 674 1241.6 675 1240.6 676 1241.7"/></defs>
<use href="#o11" fill="none" stroke="#2a2a2a" stroke-width="1.3" stroke-linejoin="round"/>
<use href="#o11" fill="none" stroke="#111" stroke-width="2.4" stroke-dasharray="0.1 3.3" stroke-linecap="round" opacity="0.6"/>
<line x1="410.5" y1="1241.8" x2="672.0" y2="1241.8" stroke="#111" stroke-width="3.4" stroke-linecap="butt"/>
<line x1="444.6" y1="1241.8" x2="444.6" y2="1244.8" stroke="#666" stroke-width="1.2" stroke-linecap="butt"/>
<line x1="478.2" y1="1241.8" x2="478.2" y2="1244.8" stroke="#666" stroke-width="1.2" stroke-linecap="butt"/>
<line x1="511.9" y1="1241.8" x2="511.9" y2="1244.8" stroke="#666" stroke-width="1.2" stroke-linecap="butt"/>
<line x1="545.5" y1="1241.8" x2="545.5" y2="1244.8" stroke="#666" stroke-width="1.2" stroke-linecap="butt"/>
<line x1="579.1" y1="1241.8" x2="579.1" y2="1244.8" stroke="#666" stroke-width="1.2" stroke-linecap="butt"/>
<line x1="612.8" y1="1241.8" x2="612.8" y2="1244.8" stroke="#666" stroke-width="1.2" stroke-linecap="butt"/>
<line x1="646.4" y1="1241.8" x2="646.4" y2="1244.8" stroke="#666" stroke-width="1.2" stroke-linecap="butt"/>
<rect x="696.3" y="971.3" width="268.7" height="270.9" fill="none" stroke="#a2a2a2" stroke-width="2"/>
<line x1="695.3" y1="1207.0" x2="698.3" y2="1207.0" stroke="#777" stroke-width="1.2" stroke-linecap="butt"/>
<line x1="695.3" y1="1171.8" x2="698.3" y2="1171.8" stroke="#777" stroke-width="1.2" stroke-linecap="butt"/>
<line x1="695.3" y1="1136.7" x2="698.3" y2="1136.7" stroke="#777" stroke-width="1.2" stroke-linecap="butt"/>
<line x1="695.3" y1="1101.5" x2="698.3" y2="1101.5" stroke="#777" stroke-width="1.2" stroke-linecap="butt"/>
<line x1="695.3" y1="1066.3" x2="698.3" y2="1066.3" stroke="#777" stroke-width="1.2" stroke-linecap="butt"/>
<line x1="695.3" y1="1031.1" x2="698.3" y2="1031.1" stroke="#777" stroke-width="1.2" stroke-linecap="butt"/>
<line x1="695.3" y1="995.9" x2="698.3" y2="995.9" stroke="#777" stroke-width="1.2" stroke-linecap="butt"/>
<path d="M697 1242.2L697 1239.6 698 1239.3 699 1238.9 700 1238.5 701 1238.1 702 1237.8 703 1237.3 704 1236.9 705 1236.5 706 1236.2 707 1235.8 708 1235.5 709 1235.1 710 1234.9 711 1234.6 712 1234.4 713 1234.3 714 1234.2 715 1234.2 716 1234.2 717 1234.3 718 1234.4 719 1234.6 720 1234.9 721 1235.1 722 1235.5 723 1235.8 724 1236.2 725 1236.5 726 1236.9 727 1237.3 728 1237.8 729 1238.1 730 1238.5 731 1238.9 732 1239.3 733 1239.6 734 1239.9 735 1240.2 736 1240.5 737 1240.7 738 1240.9 739 1241.1 740 1241.3 741 1241.4 742 1241.6 743 1241.7 744 1241.8 745 1241.8 746 1241.9 747 1242L747 1242.2Z" fill="url(#grid2)"/>
<path d="M738 1242.2L738 1242 739 1241.9 740 1241.8 741 1241.7 742 1241.5 743 1241.2 744 1240.9 745 1240.6 746 1240.1 747 1239.6 748 1239 749 1238.4 750 1237.7 751 1236.9 752 1236.1 753 1235.2 754 1234.4 755 1233.5 756 1232.7 757 1231.9 758 1231.2 759 1230.5 760 1229.9 761 1229.4 762 1228.9 763 1228.5 764 1228.2 765 1228 766 1227.8 767 1227.6 768 1227.5 769 1227.4 770 1227.3 771 1227.3 772 1227.3 773 1227.2 774 1227.2 775 1227.2 776 1227.2 777 1227.2 778 1227.2 779 1227.2 780 1227.2 781 1227.2 782 1227.2 783 1227.2 784 1227.3 785 1227.3 786 1227.3 787 1227.3 788 1227.4 789 1227.4 790 1227.5 791 1227.6 792 1227.7 793 1227.8 794 1228 795 1228.2 796 1228.4 797 1228.6 798 1228.9 799 1229.2 800 1229.6 801 1230 802 1230.4 803 1230.9 804 1231.4 805 1231.9 806 1232.5 807 1233.1 808 1233.7 809 1234.3 810 1234.9 811 1235.6 812 1236.2 813 1236.8 814 1237.3 815 1237.9 816 1238.4 817 1238.9 818 1239.3 819 1239.7 820 1240.1 821 1240.4 822 1240.7 823 1241 824 1241.2 825 1241.4 826 1241.5 827 1241.7 828 1241.8 829 1241.9 830 1241.9 831 1242L831 1242.2Z" fill="url(#vstripe)"/>
<path d="M783 1242.2L783 1242 784 1241.9 785 1241.8 786 1241.6 787 1241.3 788 1240.9 789 1240.4 790 1239.7 791 1238.9 792 1237.8 793 1236.4 794 1234.8 795 1232.8 796 1230.5 797 1227.9 798 1224.9 799 1221.6 800 1218.1 801 1214.4 802 1210.6 803 1206.9 804 1203.4 805 1200.2 806 1197.4 807 1195.2 808 1193.6 809 1192.7 810 1192.7 811 1193.4 812 1194.8 813 1196.9 814 1199.6 815 1202.7 816 1206.2 817 1209.9 818 1213.6 819 1217.3 820 1220.9 821 1224.2 822 1227.3 823 1230 824 1232.4 825 1234.4 826 1236.1 827 1237.5 828 1238.7 829 1239.6 830 1240.3 831 1240.8 832 1241.2 833 1241.5 834 1241.7 835 1241.9 836 1242L836 1242.2Z" fill="#6464be"/>
<path d="M732 1242.2L732 1242 733 1241.8 734 1241.5 735 1241 736 1240.2 737 1238.8 738 1236.7 739 1233.7 740 1229.2 741 1223 742 1214.7 743 1204 744 1190.6 745 1174.6 746 1156.2 747 1136 748 1114.8 749 1094 750 1074.8 751 1058.6 752 1046.8 753 1040.3 754 1039.7 755 1045 756 1055.9 757 1071.2 758 1090 759 1110.6 760 1131.8 761 1152.2 762 1171.1 763 1187.6 764 1201.5 765 1212.8 766 1221.5 767 1228.1 768 1232.9 769 1236.2 770 1238.5 771 1239.9 772 1240.9 773 1241.4 774 1241.8 775 1242L775 1242.2Z" fill="url(#grid)" stroke="#23236e" stroke-width="1"/>
<path d="M738 1242.2L738 1242 739 1241.9 740 1241.8 741 1241.7 742 1241.5 743 1241.2 744 1240.9 745 1240.6 746 1240.1 747 1239.6 748 1239 749 1238.4 750 1237.7 751 1236.9 752 1236.1 753 1235.2 754 1234.4 755 1233.5 756 1232.7 757 1231.9 758 1231.2 759 1230.5 760 1229.9 761 1229.4 762 1228.9 763 1228.5 764 1228.2 765 1228 766 1229.8 767 1233.8 768 1236.6 769 1238.6 770 1240 771 1240.8 772 1241.4 773 1241.7 774 1241.9 775 1242.1 776 1242.1 777 1242.2 778 1242.2 779 1242.2 780 1242.1 781 1242.1 782 1242.1 783 1242 784 1241.9 785 1241.8 786 1241.6 787 1241.3 788 1240.9 789 1240.4 790 1239.7 791 1238.9 792 1237.8 793 1236.4 794 1234.8 795 1232.8 796 1230.5 797 1228.6 798 1228.9 799 1229.2 800 1229.6 801 1230 802 1230.4 803 1230.9 804 1231.4 805 1231.9 806 1232.5 807 1233.1 808 1233.7 809 1234.3 810 1234.9 811 1235.6 812 1236.2 813 1236.8 814 1237.3 815 1237.9 816 1238.4 817 1238.9 818 1239.3 819 1239.7 820 1240.1 821 1240.4 822 1240.7 823 1241 824 1241.2 825 1241.4 826 1241.5 827 1241.7 828 1241.8 829 1241.9 830 1241.9 831 1242L831 1242.2Z" fill="#4a2c9c" fill-opacity="0.85"/>
<defs><path id="o12" d="M697 1239.6 698 1235.7 699 1233.7 700 1231.2 701 1223.2 702 1217.3 703 1215.6 704 1213.2 705 1204.9 706 1206.4 707 1217.3 708 1221.2 709 1223.4 710 1223.9 711 1224.7 712 1226.6 713 1228.4 714 1229.5 715 1230.5 716 1232.7 717 1229.2 718 1227.8 719 1229.2 720 1229 721 1230.5 722 1230.3 723 1232 724 1231.9 725 1229.6 726 1228.4 727 1228.2 728 1228 729 1228.2 730 1229.6 731 1232.6 732 1233.3 733 1228.6 734 1227.8 735 1228.9 736 1229.8 737 1232.8 738 1231.5 739 1231 740 1229.9 741 1225 742 1220.1 743 1215 744 1200.8 745 1181.4 746 1168.9 747 1132.2 748 1086.8 749 1059.1 750 1034.7 751 1015.6 752 993.7 753 981.6 754 984 755 986.9 756 1026.7 757 1047.4 758 1060.6 759 1090.8 760 1111 761 1146.9 762 1171.9 763 1186.9 764 1206.1 765 1219.8 766 1226.2 767 1233.7 768 1237.5 769 1236.7 770 1237.7 771 1240 772 1239.9 773 1236.3 774 1234 775 1235.3 776 1237.1 777 1236.4 778 1234.8 779 1234.9 780 1234.7 781 1232.4 782 1230.1 783 1233.3 784 1232.6 785 1228.4 786 1227.4 787 1226.7 788 1226.7 789 1223.3 790 1227.1 791 1225.9 792 1219.4 793 1223.2 794 1226.3 795 1220.5 796 1215.1 797 1211 798 1205.4 799 1204.5 800 1199.3 801 1195 802 1192.1 803 1186.9 804 1184.8 805 1182.1 806 1178.2 807 1182.8 808 1184.8 809 1180.4 810 1180.7 811 1186 812 1187.9 813 1184.2 814 1184.7 815 1184.6 816 1190.5 817 1199.2 818 1202.7 819 1205.5 820 1208.3 821 1214.1 822 1214.9 823 1212.6 824 1214.5 825 1221.1 826 1225.7 827 1223.6 828 1225.6 829 1229.4 830 1230.8 831 1231.2 832 1230.7 833 1230 834 1231.2 835 1233.8 836 1236.1 837 1237.4 838 1237 839 1237.1 840 1237.9 841 1236.6 842 1236.9 843 1239.1 844 1240.7 845 1241.8 846 1239.8 847 1241.2 848 1242.2 849 1241.9 850 1242 851 1241.6 852 1242.2 853 1242.2 854 1242.2 855 1242.2 856 1242.2 857 1242.2 858 1242 859 1242.2 860 1241.1 861 1242.2 862 1242.2 863 1242 864 1242.2 865 1240.3 866 1241.5 867 1242.2 868 1242.2 869 1241 870 1240.5 871 1242.2 872 1242.2 873 1241.6 874 1242.2 875 1242.2 876 1242.2 877 1242.2 878 1242.2 879 1242.2 880 1242.2 881 1242.2 882 1242.2 883 1240.9 884 1241.1 885 1242.2 886 1242.2 887 1242.2 888 1241.5 889 1240.9 890 1241.3 891 1242.2 892 1242.1 893 1242.2 894 1242.2 895 1242.2 896 1242.2 897 1242.2 898 1241.6 899 1241.3 900 1241.6 901 1242.2 902 1242.2 903 1242.2 904 1241.9 905 1241.3 906 1241.8 907 1240.5 908 1240 909 1242 910 1242.2 911 1242.2 912 1242.2 913 1241.2 914 1240.2 915 1241.9 916 1242.2 917 1242.2 918 1242.2 919 1241.2 920 1240.2 921 1241.5 922 1242.1 923 1242.2 924 1242.2 925 1241.7 926 1241.1 927 1241.1 928 1242.2 929 1242.2 930 1242.2 931 1241.5 932 1240.7 933 1241.5 934 1241.5 935 1242.1 936 1242 937 1241.5 938 1240.4 939 1240.5 940 1241.7 941 1242.2 942 1242.2 943 1242.2 944 1241.2 945 1240.8 946 1241.1 947 1241.4 948 1242.2 949 1242.2 950 1242.2 951 1239.4 952 1240.4 953 1240.9 954 1240 955 1241.9 956 1242 957 1242.1 958 1242.2 959 1241.2 960 1240.8 961 1242.2"/></defs>
<use href="#o12" fill="none" stroke="#2a2a2a" stroke-width="1.3" stroke-linejoin="round"/>
<use href="#o12" fill="none" stroke="#111" stroke-width="2.4" stroke-dasharray="0.1 3.3" stroke-linecap="round" opacity="0.6"/>
<line x1="695.8" y1="1242.2" x2="965.5" y2="1242.2" stroke="#111" stroke-width="3.4" stroke-linecap="butt"/>
<line x1="729.9" y1="1242.2" x2="729.9" y2="1245.2" stroke="#666" stroke-width="1.2" stroke-linecap="butt"/>
<line x1="763.5" y1="1242.2" x2="763.5" y2="1245.2" stroke="#666" stroke-width="1.2" stroke-linecap="butt"/>
<line x1="797.1" y1="1242.2" x2="797.1" y2="1245.2" stroke="#666" stroke-width="1.2" stroke-linecap="butt"/>
<line x1="830.6" y1="1242.2" x2="830.6" y2="1245.2" stroke="#666" stroke-width="1.2" stroke-linecap="butt"/>
<line x1="864.2" y1="1242.2" x2="864.2" y2="1245.2" stroke="#666" stroke-width="1.2" stroke-linecap="butt"/>
<line x1="897.8" y1="1242.2" x2="897.8" y2="1245.2" stroke="#666" stroke-width="1.2" stroke-linecap="butt"/>
<line x1="931.4" y1="1242.2" x2="931.4" y2="1245.2" stroke="#666" stroke-width="1.2" stroke-linecap="butt"/>
<rect x="982.7" y="970.4" width="269.3" height="271.6" fill="none" stroke="#a2a2a2" stroke-width="2"/>
<line x1="981.7" y1="1206.7" x2="984.7" y2="1206.7" stroke="#777" stroke-width="1.2" stroke-linecap="butt"/>
<line x1="981.7" y1="1171.5" x2="984.7" y2="1171.5" stroke="#777" stroke-width="1.2" stroke-linecap="butt"/>
<line x1="981.7" y1="1136.2" x2="984.7" y2="1136.2" stroke="#777" stroke-width="1.2" stroke-linecap="butt"/>
<line x1="981.7" y1="1100.9" x2="984.7" y2="1100.9" stroke="#777" stroke-width="1.2" stroke-linecap="butt"/>
<line x1="981.7" y1="1065.6" x2="984.7" y2="1065.6" stroke="#777" stroke-width="1.2" stroke-linecap="butt"/>
<line x1="981.7" y1="1030.4" x2="984.7" y2="1030.4" stroke="#777" stroke-width="1.2" stroke-linecap="butt"/>
<line x1="981.7" y1="995.1" x2="984.7" y2="995.1" stroke="#777" stroke-width="1.2" stroke-linecap="butt"/>
<path d="M984 1242L984 1239.7 985 1239.3 986 1238.8 987 1238.4 988 1237.9 989 1237.5 990 1237.1 991 1236.7 992 1236.4 993 1236.2 994 1236 995 1236 996 1236 997 1236.2 998 1236.4 999 1236.7 1000 1237.1 1001 1237.5 1002 1237.9 1003 1238.4 1004 1238.8 1005 1239.3 1006 1239.7 1007 1240.1 1008 1240.4 1009 1240.7 1010 1241 1011 1241.2 1012 1241.4 1013 1241.5 1014 1241.6 1015 1241.7 1016 1241.8L1016 1242Z" fill="url(#grid2)"/>
<path d="M1014 1242L1014 1241.9 1015 1241.7 1016 1241.4 1017 1241 1018 1240.2 1019 1239.1 1020 1237.4 1021 1235.2 1022 1232.3 1023 1228.8 1024 1224.7 1025 1220.3 1026 1215.7 1027 1211.3 1028 1207.2 1029 1203.7 1030 1200.8 1031 1198.6 1032 1196.9 1033 1195.8 1034 1195 1035 1194.6 1036 1194.3 1037 1194.1 1038 1194.1 1039 1194 1040 1194 1041 1194 1042 1194 1043 1194 1044 1194 1045 1194.1 1046 1194.1 1047 1194.1 1048 1194.2 1049 1194.3 1050 1194.5 1051 1194.7 1052 1194.9 1053 1195.3 1054 1195.8 1055 1196.4 1056 1197.1 1057 1198.1 1058 1199.2 1059 1200.5 1060 1202.1 1061 1203.9 1062 1205.9 1063 1208.1 1064 1210.5 1065 1213 1066 1215.6 1067 1218.3 1068 1220.9 1069 1223.5 1070 1226 1071 1228.3 1072 1230.5 1073 1232.5 1074 1234.2 1075 1235.7 1076 1237 1077 1238.1 1078 1239 1079 1239.8 1080 1240.3 1081 1240.8 1082 1241.1 1083 1241.4 1084 1241.6 1085 1241.7 1086 1241.8L1086 1242Z" fill="url(#vstripe)"/>
<path d="M1046 1242L1046 1241.8 1047 1241.7 1048 1241.5 1049 1241.1 1050 1240.6 1051 1239.8 1052 1238.6 1053 1236.9 1054 1234.6 1055 1231.5 1056 1227.6 1057 1222.8 1058 1217 1059 1210.5 1060 1203.3 1061 1195.8 1062 1188.3 1063 1181.3 1064 1175.3 1065 1170.7 1066 1167.8 1067 1167 1068 1168.2 1069 1171.5 1070 1176.4 1071 1182.6 1072 1189.7 1073 1197.3 1074 1204.8 1075 1211.8 1076 1218.3 1077 1223.8 1078 1228.5 1079 1232.2 1080 1235.1 1081 1237.3 1082 1238.8 1083 1240 1084 1240.7 1085 1241.2 1086 1241.5 1087 1241.7 1088 1241.8L1088 1242Z" fill="#6464be"/>
<path d="M1012 1242L1012 1241.9 1013 1241.7 1014 1241.2 1015 1239.9 1016 1237.4 1017 1232.3 1018 1223.4 1019 1209 1020 1188.2 1021 1161.1 1022 1129.8 1023 1098.7 1024 1073.2 1025 1058.9 1026 1058.9 1027 1073.2 1028 1098.7 1029 1129.8 1030 1161.1 1031 1188.2 1032 1209 1033 1223.4 1034 1232.3 1035 1237.4 1036 1239.9 1037 1241.2 1038 1241.7 1039 1241.9L1039 1242Z" fill="url(#grid)" stroke="#23236e" stroke-width="1"/>
<path d="M1014 1242L1014 1241.9 1015 1241.7 1016 1241.4 1017 1241 1018 1240.2 1019 1239.1 1020 1237.4 1021 1235.2 1022 1232.3 1023 1228.8 1024 1224.7 1025 1220.3 1026 1215.7 1027 1211.3 1028 1207.2 1029 1203.7 1030 1200.8 1031 1209.7 1032 1222.2 1033 1230.8 1034 1236.2 1035 1239.2 1036 1240.8 1037 1241.5 1038 1241.8 1039 1241.9 1040 1242 1041 1242 1042 1242 1043 1242 1044 1241.9 1045 1241.9 1046 1241.8 1047 1241.7 1048 1241.5 1049 1241.1 1050 1240.6 1051 1239.8 1052 1238.6 1053 1236.9 1054 1234.6 1055 1231.5 1056 1227.6 1057 1222.8 1058 1217 1059 1210.5 1060 1203.3 1061 1203.9 1062 1205.9 1063 1208.1 1064 1210.5 1065 1213 1066 1215.6 1067 1218.3 1068 1220.9 1069 1223.5 1070 1226 1071 1228.3 1072 1230.5 1073 1232.5 1074 1234.2 1075 1235.7 1076 1237 1077 1238.1 1078 1239 1079 1239.8 1080 1240.3 1081 1240.8 1082 1241.1 1083 1241.4 1084 1241.6 1085 1241.7 1086 1241.8L1086 1242Z" fill="#4a2c9c" fill-opacity="0.85"/>
<defs><path id="o13" d="M984 1238.3 985 1238.3 986 1237.2 987 1231.6 988 1229.6 989 1230.1 990 1230.6 991 1227.4 992 1227.4 993 1230.8 994 1230.2 995 1228.1 996 1228.3 997 1229.5 998 1228.6 999 1227.7 1000 1230.1 1001 1229.6 1002 1228 1003 1228.1 1004 1230.4 1005 1231.7 1006 1228.7 1007 1226.3 1008 1226.4 1009 1227.5 1010 1226.9 1011 1225.8 1012 1224.4 1013 1225.3 1014 1229.1 1015 1230 1016 1232.6 1017 1231.4 1018 1221.9 1019 1206.6 1020 1178.9 1021 1142.8 1022 1110.7 1023 1071.9 1024 1031.5 1025 1007.3 1026 995.2 1027 1023.1 1028 1054.3 1029 1081.9 1030 1129.6 1031 1165.6 1032 1192.4 1033 1208.9 1034 1210.6 1035 1215.5 1036 1218.1 1037 1215.1 1038 1210 1039 1203.8 1040 1205.5 1041 1206.1 1042 1209.2 1043 1206.5 1044 1198.9 1045 1197.2 1046 1203.2 1047 1205.3 1048 1200.4 1049 1207.1 1050 1207.3 1051 1200.2 1052 1194.7 1053 1191.3 1054 1191.1 1055 1185.8 1056 1178.9 1057 1175.8 1058 1172 1059 1161.8 1060 1149.7 1061 1135.4 1062 1131.9 1063 1128.6 1064 1122.4 1065 1124.3 1066 1132.6 1067 1146.4 1068 1149.9 1069 1150.5 1070 1158.2 1071 1169 1072 1179 1073 1188.4 1074 1198.3 1075 1210 1076 1216.4 1077 1221.1 1078 1223.5 1079 1226.1 1080 1228.7 1081 1228.4 1082 1226.8 1083 1225.5 1084 1226.6 1085 1229.9 1086 1233.2 1087 1231.3 1088 1228.5 1089 1227 1090 1230.4 1091 1232.6 1092 1232.4 1093 1233.5 1094 1231.6 1095 1229 1096 1229.4 1097 1231.6 1098 1231.4 1099 1228.8 1100 1225.2 1101 1228.8 1102 1232.4 1103 1230.9 1104 1229 1105 1227.9 1106 1227.4 1107 1229.3 1108 1231.3 1109 1230.6 1110 1232 1111 1231.7 1112 1231.8 1113 1228.7 1114 1226.6 1115 1230.8 1116 1232.3 1117 1229 1118 1229.5 1119 1232.3 1120 1233.6 1121 1236.3 1122 1238.5 1123 1240.9 1124 1242 1125 1242 1126 1242 1127 1241.9 1128 1242 1129 1242 1130 1242 1131 1241.1 1132 1240.5 1133 1242 1134 1242 1135 1242 1136 1241.5 1137 1242 1138 1242 1139 1242 1140 1242 1141 1241.2 1142 1240.4 1143 1241.9 1144 1242 1145 1240.4 1146 1239.1 1147 1240 1148 1241.2 1149 1241.1 1150 1240.8 1151 1242 1152 1242 1153 1242 1154 1241.2 1155 1240.6 1156 1241.3 1157 1241.2 1158 1241.1 1159 1241.2 1160 1240.4 1161 1242 1162 1242 1163 1242 1164 1242 1165 1241.4 1166 1241.8 1167 1242 1168 1242 1169 1240.3 1170 1238.8 1171 1241.1 1172 1242 1173 1242 1174 1242 1175 1242 1176 1242 1177 1242 1178 1242 1179 1242 1180 1242 1181 1242 1182 1242 1183 1242 1184 1242 1185 1242 1186 1239.4 1187 1237.3 1188 1239.7 1189 1240.1 1190 1241.5 1191 1242 1192 1241.7 1193 1241.3 1194 1241.1 1195 1240.1 1196 1242 1197 1242 1198 1241.9 1199 1241.7 1200 1242 1201 1240.8 1202 1240.5 1203 1240.2 1204 1240.4 1205 1241.8 1206 1242 1207 1242 1208 1242 1209 1242 1210 1242 1211 1242 1212 1242 1213 1241.3 1214 1241.9 1215 1242 1216 1241.2 1217 1239.2 1218 1240.4 1219 1241.8 1220 1241.9 1221 1240.2 1222 1237.9 1223 1239.5 1224 1242 1225 1242 1226 1241.1 1227 1240.5 1228 1242 1229 1240.8 1230 1240.3 1231 1241.6 1232 1242 1233 1242 1234 1241.5 1235 1240.6 1236 1242 1237 1242 1238 1242 1239 1242 1240 1242 1241 1241.4 1242 1241.3 1243 1242 1244 1242 1245 1240.9 1246 1240.7 1247 1240.8 1248 1242 1249 1242 1250 1241"/></defs>
<use href="#o13" fill="none" stroke="#2a2a2a" stroke-width="1.3" stroke-linejoin="round"/>
<use href="#o13" fill="none" stroke="#111" stroke-width="2.4" stroke-dasharray="0.1 3.3" stroke-linecap="round" opacity="0.6"/>
<line x1="982.2" y1="1242.0" x2="1252.5" y2="1242.0" stroke="#111" stroke-width="3.4" stroke-linecap="butt"/>
<line x1="1016.4" y1="1242.0" x2="1016.4" y2="1245.0" stroke="#666" stroke-width="1.2" stroke-linecap="butt"/>
<line x1="1050.0" y1="1242.0" x2="1050.0" y2="1245.0" stroke="#666" stroke-width="1.2" stroke-linecap="butt"/>
<line x1="1083.7" y1="1242.0" x2="1083.7" y2="1245.0" stroke="#666" stroke-width="1.2" stroke-linecap="butt"/>
<line x1="1117.3" y1="1242.0" x2="1117.3" y2="1245.0" stroke="#666" stroke-width="1.2" stroke-linecap="butt"/>
<line x1="1151.0" y1="1242.0" x2="1151.0" y2="1245.0" stroke="#666" stroke-width="1.2" stroke-linecap="butt"/>
<line x1="1184.7" y1="1242.0" x2="1184.7" y2="1245.0" stroke="#666" stroke-width="1.2" stroke-linecap="butt"/>
<line x1="1218.3" y1="1242.0" x2="1218.3" y2="1245.0" stroke="#666" stroke-width="1.2" stroke-linecap="butt"/>
<rect x="125.2" y="1318.6" width="268.0" height="270.6" fill="none" stroke="#a2a2a2" stroke-width="2"/>
<line x1="124.2" y1="1554.1" x2="127.2" y2="1554.1" stroke="#777" stroke-width="1.2" stroke-linecap="butt"/>
<line x1="124.2" y1="1518.9" x2="127.2" y2="1518.9" stroke="#777" stroke-width="1.2" stroke-linecap="butt"/>
<line x1="124.2" y1="1483.8" x2="127.2" y2="1483.8" stroke="#777" stroke-width="1.2" stroke-linecap="butt"/>
<line x1="124.2" y1="1448.6" x2="127.2" y2="1448.6" stroke="#777" stroke-width="1.2" stroke-linecap="butt"/>
<line x1="124.2" y1="1413.5" x2="127.2" y2="1413.5" stroke="#777" stroke-width="1.2" stroke-linecap="butt"/>
<line x1="124.2" y1="1378.3" x2="127.2" y2="1378.3" stroke="#777" stroke-width="1.2" stroke-linecap="butt"/>
<line x1="124.2" y1="1343.2" x2="127.2" y2="1343.2" stroke="#777" stroke-width="1.2" stroke-linecap="butt"/>
<path d="M127 1589.2L127 1589 128 1588.9 129 1588.7 130 1588.3 131 1587.7 132 1586.8 133 1585.5 134 1583.9 135 1581.7 136 1579.1 137 1576.1 138 1572.8 139 1569.6 140 1566.6 141 1564.3 142 1562.7 143 1562.2 144 1562.7 145 1564.3 146 1566.6 147 1569.6 148 1572.8 149 1576.1 150 1579.1 151 1581.7 152 1583.9 153 1585.5 154 1586.8 155 1587.7 156 1588.3 157 1588.7 158 1588.9 159 1589L159 1589.2Z" fill="url(#grid2)"/>
<path d="M156 1589.2L156 1589 157 1588.9 158 1588.7 159 1588.5 160 1588.1 161 1587.6 162 1587 163 1586.2 164 1585.2 165 1584 166 1582.7 167 1581.2 168 1579.7 169 1578.1 170 1576.4 171 1574.9 172 1573.5 173 1572.2 174 1571.1 175 1570.1 176 1569.4 177 1568.8 178 1568.4 179 1568.1 180 1567.9 181 1567.8 182 1567.8 183 1567.8 184 1567.9 185 1568 186 1568.1 187 1568.2 188 1568.4 189 1568.6 190 1568.9 191 1569.2 192 1569.5 193 1569.8 194 1570.2 195 1570.6 196 1571.1 197 1571.6 198 1572.1 199 1572.7 200 1573.3 201 1573.9 202 1574.6 203 1575.3 204 1576 205 1576.7 206 1577.4 207 1578.1 208 1578.9 209 1579.6 210 1580.3 211 1581 212 1581.7 213 1582.3 214 1583 215 1583.6 216 1584.2 217 1584.7 218 1585.2 219 1585.7 220 1586.1 221 1586.5 222 1586.8 223 1587.2 224 1587.5 225 1587.7 226 1587.9 227 1588.1 228 1588.3 229 1588.5 230 1588.6 231 1588.7 232 1588.8 233 1588.9 234 1588.9 235 1589L235 1589.2Z" fill="url(#vstripe)"/>
<path d="M171 1589.2L171 1589 172 1588.9 173 1588.8 174 1588.7 175 1588.5 176 1588.2 177 1587.9 178 1587.4 179 1586.9 180 1586.1 181 1585.2 182 1584 183 1582.6 184 1580.8 185 1578.7 186 1576.1 187 1573.1 188 1569.7 189 1565.7 190 1561.2 191 1556.1 192 1550.5 193 1544.4 194 1537.9 195 1531 196 1523.9 197 1516.5 198 1509.2 199 1502 200 1495.2 201 1488.7 202 1483 203 1478 204 1473.9 205 1470.8 206 1468.9 207 1468.2 208 1468.7 209 1470.4 210 1473.2 211 1477.1 212 1481.9 213 1487.5 214 1493.8 215 1500.6 216 1507.8 217 1515.1 218 1522.4 219 1529.6 220 1536.5 221 1543.1 222 1549.3 223 1555 224 1560.2 225 1564.8 226 1568.9 227 1572.5 228 1575.6 229 1578.2 230 1580.4 231 1582.2 232 1583.7 233 1585 234 1586 235 1586.7 236 1587.3 237 1587.8 238 1588.2 239 1588.5 240 1588.7 241 1588.8 242 1588.9 243 1589L243 1589.2Z" fill="#6464be"/>
<path d="M152 1589.2L152 1589.1 153 1588.9 154 1588.5 155 1587.8 156 1586.5 157 1584.3 158 1580.5 159 1574.7 160 1566.1 161 1554.3 162 1538.9 163 1520.2 164 1499.1 165 1477.2 166 1456.8 167 1440.1 168 1429.4 169 1426.2 170 1431 171 1443 172 1460.6 173 1481.6 174 1503.4 175 1524.2 176 1542.3 177 1556.9 178 1568.1 179 1576.1 180 1581.4 181 1584.8 182 1586.8 183 1588 184 1588.6 185 1588.9 186 1589.1L186 1589.2Z" fill="url(#grid)" stroke="#23236e" stroke-width="1"/>
<path d="M156 1589.2L156 1589 157 1588.9 158 1588.7 159 1588.5 160 1588.1 161 1587.6 162 1587 163 1586.2 164 1585.2 165 1584 166 1582.7 167 1581.2 168 1579.7 169 1578.1 170 1576.4 171 1574.9 172 1573.5 173 1572.2 174 1571.1 175 1570.1 176 1569.4 177 1569.8 178 1576.5 179 1581.3 180 1584.5 181 1585.2 182 1584 183 1582.6 184 1580.8 185 1578.7 186 1576.1 187 1573.1 188 1569.7 189 1568.6 190 1568.9 191 1569.2 192 1569.5 193 1569.8 194 1570.2 195 1570.6 196 1571.1 197 1571.6 198 1572.1 199 1572.7 200 1573.3 201 1573.9 202 1574.6 203 1575.3 204 1576 205 1576.7 206 1577.4 207 1578.1 208 1578.9 209 1579.6 210 1580.3 211 1581 212 1581.7 213 1582.3 214 1583 215 1583.6 216 1584.2 217 1584.7 218 1585.2 219 1585.7 220 1586.1 221 1586.5 222 1586.8 223 1587.2 224 1587.5 225 1587.7 226 1587.9 227 1588.1 228 1588.3 229 1588.5 230 1588.6 231 1588.7 232 1588.8 233 1588.9 234 1588.9 235 1589L235 1589.2Z" fill="#4a2c9c" fill-opacity="0.85"/>
<defs><path id="o14" d="M126 1583.8 127 1580 128 1572.9 129 1567.4 130 1562.4 131 1556.5 132 1551.9 133 1547.3 134 1541.8 135 1535.5 136 1533.7 137 1539.4 138 1539.2 139 1538.6 140 1547.7 141 1553 142 1558.4 143 1566.1 144 1570.2 145 1569.6 146 1571 147 1574.7 148 1576.2 149 1578 150 1578.1 151 1577.2 152 1575.8 153 1578.5 154 1580.4 155 1580.7 156 1585.6 157 1585 158 1578.8 159 1573.2 160 1566.3 161 1555.2 162 1543.7 163 1522.6 164 1489 165 1467.4 166 1441.1 167 1417.4 168 1387.4 169 1386.4 170 1415.8 171 1436.3 172 1452.9 173 1464.1 174 1487.7 175 1513.5 176 1529.1 177 1540.7 178 1549.2 179 1555 180 1562.6 181 1562.3 182 1559.2 183 1554.7 184 1550.7 185 1549.8 186 1544.9 187 1544.4 188 1541.7 189 1530.9 190 1526.8 191 1525.3 192 1517.8 193 1514.1 194 1510.1 195 1499.6 196 1493.5 197 1488.6 198 1480.8 199 1479.7 200 1479.5 201 1457.8 202 1437.5 203 1444.4 204 1443 205 1432.9 206 1431.2 207 1439.6 208 1454.8 209 1462.1 210 1458.2 211 1447.7 212 1443.6 213 1458.9 214 1475.6 215 1476.3 216 1473.7 217 1490.9 218 1503.9 219 1504.2 220 1509.3 221 1512.7 222 1516.2 223 1520 224 1529.3 225 1534.4 226 1532.7 227 1535.4 228 1539.6 229 1544.3 230 1548.7 231 1547.8 232 1550.8 233 1556.3 234 1555 235 1556.4 236 1562.3 237 1564.1 238 1563.1 239 1562.8 240 1563.2 241 1561.3 242 1559.4 243 1560.5 244 1562.6 245 1561.7 246 1559.3 247 1557.2 248 1560.2 249 1564.5 250 1561.2 251 1563.7 252 1567.5 253 1569.3 254 1575.7 255 1583.1 256 1586.9 257 1589.2 258 1588.9 259 1588.3 260 1589.2 261 1589 262 1589 263 1588.8 264 1588.6 265 1589.1 266 1589.2 267 1589.2 268 1589.2 269 1589.2 270 1589.2 271 1589.2 272 1589.2 273 1589.2 274 1588.2 275 1589.2 276 1589.2 277 1588.6 278 1586.4 279 1588.2 280 1589.2 281 1589.2 282 1589.2 283 1588.2 284 1588.9 285 1588.6 286 1588.3 287 1589.2 288 1589.2 289 1589.2 290 1589.2 291 1589.2 292 1587.5 293 1589.2 294 1589.2 295 1589 296 1586.9 297 1586.6 298 1587.6 299 1589.2 300 1589.2 301 1589 302 1589.2 303 1589.2 304 1589 305 1589.2 306 1587.6 307 1587.4 308 1587.6 309 1587.8 310 1589.2 311 1589.2 312 1589.2 313 1588.2 314 1587.7 315 1589.2 316 1589.2 317 1588.7 318 1589.2 319 1589.2 320 1589.2 321 1589.2 322 1586.7 323 1588.3 324 1589.2 325 1589.1 326 1589.2 327 1589.2 328 1589.2 329 1589.2 330 1589.2 331 1588 332 1588.8 333 1589.2 334 1587.4 335 1588.4 336 1589.2 337 1588.1 338 1586.3 339 1587.9 340 1589.2 341 1589.2 342 1587.4 343 1588.4 344 1589.2 345 1588.1 346 1589.2 347 1589.2 348 1588.3 349 1588.6 350 1589.2 351 1589.2 352 1589.2 353 1589.2 354 1589.2 355 1589.2 356 1589.2 357 1588.9 358 1587.8 359 1588.1 360 1587.9 361 1588.5 362 1589.2 363 1589.2 364 1587.7 365 1588.9 366 1589.2 367 1588.9 368 1588.6 369 1589.2 370 1589.2 371 1587.5 372 1587.8 373 1589.2 374 1589.2 375 1589.2 376 1589.2 377 1589.2 378 1589.2 379 1589.1 380 1588.9 381 1588.6 382 1587.5 383 1588.5 384 1588.7 385 1587.1 386 1587.2 387 1589.2 388 1589.2 389 1589.2 390 1588.1 391 1588.4"/></defs>
<use href="#o14" fill="none" stroke="#2a2a2a" stroke-width="1.3" stroke-linejoin="round"/>
<use href="#o14" fill="none" stroke="#111" stroke-width="2.4" stroke-dasharray="0.1 3.3" stroke-linecap="round" opacity="0.6"/>
<line x1="124.7" y1="1589.2" x2="393.7" y2="1589.2" stroke="#111" stroke-width="3.4" stroke-linecap="butt"/>
<line x1="158.7" y1="1589.2" x2="158.7" y2="1592.2" stroke="#666" stroke-width="1.2" stroke-linecap="butt"/>
<line x1="192.2" y1="1589.2" x2="192.2" y2="1592.2" stroke="#666" stroke-width="1.2" stroke-linecap="butt"/>
<line x1="225.7" y1="1589.2" x2="225.7" y2="1592.2" stroke="#666" stroke-width="1.2" stroke-linecap="butt"/>
<line x1="259.2" y1="1589.2" x2="259.2" y2="1592.2" stroke="#666" stroke-width="1.2" stroke-linecap="butt"/>
<line x1="292.7" y1="1589.2" x2="292.7" y2="1592.2" stroke="#666" stroke-width="1.2" stroke-linecap="butt"/>
<line x1="326.2" y1="1589.2" x2="326.2" y2="1592.2" stroke="#666" stroke-width="1.2" stroke-linecap="butt"/>
<line x1="359.7" y1="1589.2" x2="359.7" y2="1592.2" stroke="#666" stroke-width="1.2" stroke-linecap="butt"/>
<rect x="412.6" y="1319.6" width="267.0" height="270.8" fill="none" stroke="#a2a2a2" stroke-width="2"/>
<line x1="411.6" y1="1555.2" x2="414.6" y2="1555.2" stroke="#777" stroke-width="1.2" stroke-linecap="butt"/>
<line x1="411.6" y1="1520.1" x2="414.6" y2="1520.1" stroke="#777" stroke-width="1.2" stroke-linecap="butt"/>
<line x1="411.6" y1="1484.9" x2="414.6" y2="1484.9" stroke="#777" stroke-width="1.2" stroke-linecap="butt"/>
<line x1="411.6" y1="1449.7" x2="414.6" y2="1449.7" stroke="#777" stroke-width="1.2" stroke-linecap="butt"/>
<line x1="411.6" y1="1414.6" x2="414.6" y2="1414.6" stroke="#777" stroke-width="1.2" stroke-linecap="butt"/>
<line x1="411.6" y1="1379.4" x2="414.6" y2="1379.4" stroke="#777" stroke-width="1.2" stroke-linecap="butt"/>
<line x1="411.6" y1="1344.2" x2="414.6" y2="1344.2" stroke="#777" stroke-width="1.2" stroke-linecap="butt"/>
<path d="M414 1590.4L414 1589.9 415 1589.4 416 1588.8 417 1587.8 418 1586.5 419 1584.9 420 1583.1 421 1581.3 422 1579.8 423 1578.8 424 1578.4 425 1578.8 426 1579.8 427 1581.3 428 1583.1 429 1584.9 430 1586.5 431 1587.8 432 1588.8 433 1589.4 434 1589.9 435 1590.1 436 1590.3L436 1590.4Z" fill="url(#grid2)"/>
<path d="M449 1590.4L449 1590.2 450 1590 451 1589.7 452 1589.3 453 1588.7 454 1587.8 455 1586.5 456 1584.9 457 1582.9 458 1580.6 459 1577.8 460 1574.8 461 1571.7 462 1568.6 463 1565.6 464 1562.8 465 1560.3 466 1558.2 467 1556.6 468 1555.3 469 1554.3 470 1553.6 471 1553.2 472 1552.9 473 1552.7 474 1552.6 475 1552.5 476 1552.5 477 1552.5 478 1552.6 479 1552.6 480 1552.7 481 1552.8 482 1552.9 483 1553 484 1553.1 485 1553.3 486 1553.5 487 1553.8 488 1554.1 489 1554.4 490 1554.8 491 1555.3 492 1555.9 493 1556.5 494 1557.2 495 1557.9 496 1558.8 497 1559.7 498 1560.7 499 1561.8 500 1562.9 501 1564.1 502 1565.4 503 1566.7 504 1568.1 505 1569.4 506 1570.8 507 1572.2 508 1573.6 509 1575 510 1576.4 511 1577.7 512 1578.9 513 1580.1 514 1581.2 515 1582.3 516 1583.3 517 1584.2 518 1585 519 1585.8 520 1586.4 521 1587 522 1587.6 523 1588 524 1588.4 525 1588.8 526 1589.1 527 1589.3 528 1589.5 529 1589.7 530 1589.9 531 1590 532 1590.1 533 1590.1 534 1590.2L534 1590.4Z" fill="url(#vstripe)"/>
<path d="M474 1590.4L474 1590.2 475 1590.1 476 1590 477 1589.8 478 1589.5 479 1589.1 480 1588.6 481 1588 482 1587.1 483 1585.9 484 1584.5 485 1582.6 486 1580.4 487 1577.6 488 1574.2 489 1570.2 490 1565.5 491 1560.1 492 1554 493 1547.2 494 1539.7 495 1531.7 496 1523.2 497 1514.5 498 1505.7 499 1497 500 1488.7 501 1481 502 1474.2 503 1468.4 504 1464 505 1461 506 1459.5 507 1459.7 508 1461.5 509 1464.8 510 1469.5 511 1475.4 512 1482.5 513 1490.3 514 1498.7 515 1507.4 516 1516.2 517 1524.9 518 1533.3 519 1541.2 520 1548.6 521 1555.3 522 1561.2 523 1566.5 524 1571 525 1574.9 526 1578.2 527 1580.9 528 1583 529 1584.8 530 1586.2 531 1587.3 532 1588.1 533 1588.7 534 1589.2 535 1589.6 536 1589.8 537 1590 538 1590.1 539 1590.2L539 1590.4Z" fill="#6464be"/>
<path d="M446 1590.4L446 1590.3 447 1590.1 448 1589.8 449 1589.1 450 1587.7 451 1585.2 452 1580.9 453 1574.1 454 1564.1 455 1550.7 456 1534.1 457 1515.3 458 1496.3 459 1479.7 460 1468.1 461 1463.4 462 1466.6 463 1476.9 464 1492.8 465 1511.4 466 1530.4 467 1547.6 468 1561.7 469 1572.3 470 1579.7 471 1584.5 472 1587.3 473 1588.9 474 1589.7 475 1590.1 476 1590.3L476 1590.4Z" fill="url(#grid)" stroke="#23236e" stroke-width="1"/>
<path d="M449 1590.4L449 1590.2 450 1590 451 1589.7 452 1589.3 453 1588.7 454 1587.8 455 1586.5 456 1584.9 457 1582.9 458 1580.6 459 1577.8 460 1574.8 461 1571.7 462 1568.6 463 1565.6 464 1562.8 465 1560.3 466 1558.2 467 1564.7 468 1573.2 469 1579.6 470 1584 471 1586.8 472 1588.5 473 1589.5 474 1590 475 1590.1 476 1590 477 1589.8 478 1589.5 479 1589.1 480 1588.6 481 1588 482 1587.1 483 1585.9 484 1584.5 485 1582.6 486 1580.4 487 1577.6 488 1574.2 489 1570.2 490 1565.5 491 1560.1 492 1555.9 493 1556.5 494 1557.2 495 1557.9 496 1558.8 497 1559.7 498 1560.7 499 1561.8 500 1562.9 501 1564.1 502 1565.4 503 1566.7 504 1568.1 505 1569.4 506 1570.8 507 1572.2 508 1573.6 509 1575 510 1576.4 511 1577.7 512 1578.9 513 1580.1 514 1581.2 515 1582.3 516 1583.3 517 1584.2 518 1585 519 1585.8 520 1586.4 521 1587 522 1587.6 523 1588 524 1588.4 525 1588.8 526 1589.1 527 1589.3 528 1589.5 529 1589.7 530 1589.9 531 1590 532 1590.1 533 1590.1 534 1590.2L534 1590.4Z" fill="#4a2c9c" fill-opacity="0.85"/>
<defs><path id="o15" d="M414 1587.1 415 1585.4 416 1584.7 417 1583.5 418 1583.5 419 1581.7 420 1577.6 421 1573.8 422 1570.1 423 1568.6 424 1563.4 425 1556.8 426 1554.3 427 1558.7 428 1568.4 429 1575.2 430 1578.1 431 1578.8 432 1579.8 433 1583 434 1584.6 435 1581.8 436 1581.1 437 1582.8 438 1583.3 439 1584.8 440 1586 441 1584.7 442 1581.6 443 1579.7 444 1581.3 445 1581.9 446 1581.3 447 1580.9 448 1582.6 449 1584.4 450 1583.4 451 1584.8 452 1583.2 453 1574.5 454 1561.6 455 1542.5 456 1516.6 457 1483.4 458 1445.2 459 1417.3 460 1388.6 461 1385.1 462 1408.3 463 1420.5 464 1451 465 1489.7 466 1518.5 467 1532.4 468 1548.3 469 1564.5 470 1565.7 471 1565.1 472 1567.8 473 1568.5 474 1566.2 475 1562.8 476 1560.1 477 1556.3 478 1554.5 479 1551.2 480 1550.1 481 1549 482 1546.1 483 1541.3 484 1534.4 485 1530 486 1534.4 487 1528.1 488 1518.7 489 1520.4 490 1515 491 1509.6 492 1498.8 493 1491.8 494 1489.4 495 1479.1 496 1467.6 497 1470.8 498 1478.1 499 1478.2 500 1478 501 1462.1 502 1448.1 503 1448.6 504 1447 505 1446.1 506 1443.7 507 1439.6 508 1455.8 509 1462.9 510 1460.4 511 1479.3 512 1491.3 513 1497.9 514 1513.6 515 1519.7 516 1527.3 517 1534.9 518 1540.5 519 1548.2 520 1550.2 521 1555.1 522 1563.1 523 1566.2 524 1565 525 1563 526 1564.5 527 1564 528 1563.6 529 1567.8 530 1566.6 531 1565.8 532 1567.5 533 1569 534 1573.4 535 1573.3 536 1569.9 537 1571 538 1569.5 539 1569.2 540 1569.3 541 1567.8 542 1571.4 543 1574.5 544 1574 545 1572.8 546 1571.3 547 1572.1 548 1574.8 549 1570.6 550 1569.1 551 1572.1 552 1570.1 553 1571.7 554 1580.1 555 1583.5 556 1585.6 557 1587.8 558 1590.2 559 1590.4 560 1589.3 561 1588.2 562 1588.1 563 1588.6 564 1589.4 565 1590.3 566 1590.4 567 1590.3 568 1588 569 1588.3 570 1590.4 571 1590.4 572 1590.4 573 1589.3 574 1588.7 575 1590.4 576 1590.4 577 1589.9 578 1590.1 579 1590.4 580 1590.4 581 1590.4 582 1589.3 583 1589.2 584 1590.4 585 1589 586 1589.3 587 1590.4 588 1590.4 589 1590.4 590 1590.4 591 1590.4 592 1590.4 593 1590.4 594 1588.6 595 1589.1 596 1589.9 597 1589.7 598 1590.4 599 1590.4 600 1590.4 601 1590.4 602 1590.4 603 1590.2 604 1589 605 1589.7 606 1590.2 607 1588 608 1588.3 609 1590 610 1590.4 611 1589.8 612 1590.3 613 1589.6 614 1589.5 615 1590.1 616 1589.1 617 1589.4 618 1590.4 619 1590.4 620 1590.4 621 1590.4 622 1590.4 623 1590.4 624 1590.4 625 1590.4 626 1590.4 627 1590.4 628 1590.3 629 1589.3 630 1588.5 631 1588.4 632 1588.9 633 1588.2 634 1589.3 635 1589.6 636 1588.2 637 1590.4 638 1590.4 639 1590.4 640 1588.6 641 1589 642 1590.4 643 1590.4 644 1590.4 645 1589.8 646 1590.4 647 1590.4 648 1590.4 649 1589.6 650 1590.4 651 1590.4 652 1589.7 653 1589.9 654 1590.4 655 1590.4 656 1588.9 657 1588.4 658 1588.8 659 1589.9 660 1590.4 661 1589.9 662 1589.5 663 1590.4 664 1590.4 665 1590.4 666 1589.2 667 1589.2 668 1590.4 669 1590.4 670 1590.4 671 1590.4 672 1590.3 673 1590.4 674 1590.4 675 1590.4 676 1590.4 677 1590.4 678 1589.4"/></defs>
<use href="#o15" fill="none" stroke="#2a2a2a" stroke-width="1.3" stroke-linejoin="round"/>
<use href="#o15" fill="none" stroke="#111" stroke-width="2.4" stroke-dasharray="0.1 3.3" stroke-linecap="round" opacity="0.6"/>
<line x1="412.1" y1="1590.4" x2="680.1" y2="1590.4" stroke="#111" stroke-width="3.4" stroke-linecap="butt"/>
<line x1="446.0" y1="1590.4" x2="446.0" y2="1593.4" stroke="#666" stroke-width="1.2" stroke-linecap="butt"/>
<line x1="479.4" y1="1590.4" x2="479.4" y2="1593.4" stroke="#666" stroke-width="1.2" stroke-linecap="butt"/>
<line x1="512.7" y1="1590.4" x2="512.7" y2="1593.4" stroke="#666" stroke-width="1.2" stroke-linecap="butt"/>
<line x1="546.1" y1="1590.4" x2="546.1" y2="1593.4" stroke="#666" stroke-width="1.2" stroke-linecap="butt"/>
<line x1="579.5" y1="1590.4" x2="579.5" y2="1593.4" stroke="#666" stroke-width="1.2" stroke-linecap="butt"/>
<line x1="612.9" y1="1590.4" x2="612.9" y2="1593.4" stroke="#666" stroke-width="1.2" stroke-linecap="butt"/>
<line x1="646.2" y1="1590.4" x2="646.2" y2="1593.4" stroke="#666" stroke-width="1.2" stroke-linecap="butt"/>
<rect x="697.9" y="1318.6" width="268.1" height="271.2" fill="none" stroke="#a2a2a2" stroke-width="2"/>
<line x1="696.9" y1="1554.6" x2="699.9" y2="1554.6" stroke="#777" stroke-width="1.2" stroke-linecap="butt"/>
<line x1="696.9" y1="1519.4" x2="699.9" y2="1519.4" stroke="#777" stroke-width="1.2" stroke-linecap="butt"/>
<line x1="696.9" y1="1484.1" x2="699.9" y2="1484.1" stroke="#777" stroke-width="1.2" stroke-linecap="butt"/>
<line x1="696.9" y1="1448.9" x2="699.9" y2="1448.9" stroke="#777" stroke-width="1.2" stroke-linecap="butt"/>
<line x1="696.9" y1="1413.7" x2="699.9" y2="1413.7" stroke="#777" stroke-width="1.2" stroke-linecap="butt"/>
<line x1="696.9" y1="1378.5" x2="699.9" y2="1378.5" stroke="#777" stroke-width="1.2" stroke-linecap="butt"/>
<line x1="696.9" y1="1343.3" x2="699.9" y2="1343.3" stroke="#777" stroke-width="1.2" stroke-linecap="butt"/>
<path d="M699 1589.8L699 1555.5 700 1546.5 701 1536.1 702 1524.6 703 1512.3 704 1499.4 705 1486.6 706 1474.3 707 1463.2 708 1453.9 709 1446.8 710 1442.3 711 1440.8 712 1442.3 713 1446.8 714 1453.9 715 1463.2 716 1474.3 717 1486.6 718 1499.4 719 1512.3 720 1524.6 721 1536.1 722 1546.5 723 1555.5 724 1563.2 725 1569.6 726 1574.8 727 1578.9 728 1582 729 1584.3 730 1586.1 731 1587.3 732 1588.1 733 1588.7 734 1589.1 735 1589.4 736 1589.5 737 1589.6L737 1589.8Z" fill="url(#grid2)"/>
<path d="M728 1589.8L728 1589.6 729 1589.5 730 1589.4 731 1589.3 732 1589.1 733 1588.8 734 1588.6 735 1588.2 736 1587.8 737 1587.2 738 1586.6 739 1585.9 740 1585 741 1584.1 742 1583 743 1581.8 744 1580.5 745 1579.1 746 1577.7 747 1576.2 748 1574.6 749 1573 750 1571.5 751 1569.9 752 1568.4 753 1567 754 1565.7 755 1564.5 756 1563.4 757 1562.4 758 1561.6 759 1560.9 760 1560.3 761 1559.8 762 1559.5 763 1559.2 764 1559.1 765 1559 766 1559.1 767 1559.2 768 1559.4 769 1559.6 770 1559.9 771 1560.3 772 1560.6 773 1561.1 774 1561.5 775 1562 776 1562.6 777 1563.2 778 1563.8 779 1564.4 780 1565 781 1565.7 782 1566.4 783 1567.2 784 1567.9 785 1568.7 786 1569.4 787 1570.2 788 1571 789 1571.8 790 1572.6 791 1573.4 792 1574.3 793 1575.1 794 1575.8 795 1576.6 796 1577.4 797 1578.1 798 1578.9 799 1579.6 800 1580.3 801 1581 802 1581.6 803 1582.2 804 1582.8 805 1583.4 806 1583.9 807 1584.4 808 1584.9 809 1585.3 810 1585.7 811 1586.1 812 1586.5 813 1586.8 814 1587.1 815 1587.4 816 1587.7 817 1587.9 818 1588.1 819 1588.3 820 1588.5 821 1588.7 822 1588.8 823 1588.9 824 1589 825 1589.1 826 1589.2 827 1589.3 828 1589.4 829 1589.4 830 1589.5 831 1589.5 832 1589.6L832 1589.8Z" fill="url(#vstripe)"/>
<path d="M741 1589.8L741 1589.6 742 1589.5 743 1589.4 744 1589.3 745 1589.2 746 1589 747 1588.9 748 1588.6 749 1588.4 750 1588 751 1587.6 752 1587.1 753 1586.6 754 1585.9 755 1585.1 756 1584.2 757 1583.2 758 1582 759 1580.6 760 1579.1 761 1577.3 762 1575.3 763 1573.1 764 1570.7 765 1568 766 1565.1 767 1561.9 768 1558.5 769 1554.8 770 1551 771 1546.8 772 1542.5 773 1538.1 774 1533.5 775 1528.8 776 1524 777 1519.3 778 1514.6 779 1509.9 780 1505.4 781 1501.2 782 1497.1 783 1493.4 784 1490.1 785 1487.1 786 1484.6 787 1482.6 788 1481.1 789 1480.2 790 1479.8 791 1480 792 1480.7 793 1482 794 1483.8 795 1486.1 796 1488.8 797 1492 798 1495.6 799 1499.5 800 1503.7 801 1508.1 802 1512.7 803 1517.4 804 1522.1 805 1526.9 806 1531.6 807 1536.3 808 1540.8 809 1545.2 810 1549.3 811 1553.3 812 1557.1 813 1560.6 814 1563.9 815 1566.9 816 1569.7 817 1572.2 818 1574.5 819 1576.5 820 1578.4 821 1580 822 1581.5 823 1582.7 824 1583.8 825 1584.8 826 1585.6 827 1586.3 828 1586.9 829 1587.4 830 1587.9 831 1588.2 832 1588.5 833 1588.8 834 1589 835 1589.1 836 1589.3 837 1589.4 838 1589.5 839 1589.5 840 1589.6L840 1589.8Z" fill="#6464be"/>
<path d="M725 1589.8L725 1589.6 726 1589.5 727 1589.4 728 1589.2 729 1588.8 730 1588.4 731 1587.7 732 1586.8 733 1585.6 734 1584.1 735 1582.1 736 1579.6 737 1576.7 738 1573.2 739 1569.3 740 1564.9 741 1560.1 742 1555.2 743 1550.3 744 1545.6 745 1541.4 746 1537.8 747 1535.1 748 1533.4 749 1532.8 750 1533.4 751 1535.1 752 1537.8 753 1541.4 754 1545.6 755 1550.3 756 1555.2 757 1560.1 758 1564.9 759 1569.3 760 1573.2 761 1576.7 762 1579.6 763 1582.1 764 1584.1 765 1585.6 766 1586.8 767 1587.7 768 1588.4 769 1588.8 770 1589.2 771 1589.4 772 1589.5 773 1589.6L773 1589.8Z" fill="url(#grid)" stroke="#23236e" stroke-width="1"/>
<path d="M728 1589.8L728 1589.6 729 1589.5 730 1589.4 731 1589.3 732 1589.1 733 1588.8 734 1588.6 735 1588.2 736 1587.8 737 1587.2 738 1586.6 739 1585.9 740 1585 741 1584.1 742 1583 743 1581.8 744 1580.5 745 1579.1 746 1577.7 747 1576.2 748 1574.6 749 1573 750 1571.5 751 1569.9 752 1568.4 753 1567 754 1565.7 755 1566.1 756 1569.1 757 1572 758 1574.8 759 1577.5 760 1579.1 761 1577.3 762 1575.3 763 1573.1 764 1570.7 765 1568 766 1565.1 767 1561.9 768 1559.4 769 1559.6 770 1559.9 771 1560.3 772 1560.6 773 1561.1 774 1561.5 775 1562 776 1562.6 777 1563.2 778 1563.8 779 1564.4 780 1565 781 1565.7 782 1566.4 783 1567.2 784 1567.9 785 1568.7 786 1569.4 787 1570.2 788 1571 789 1571.8 790 1572.6 791 1573.4 792 1574.3 793 1575.1 794 1575.8 795 1576.6 796 1577.4 797 1578.1 798 1578.9 799 1579.6 800 1580.3 801 1581 802 1581.6 803 1582.2 804 1582.8 805 1583.4 806 1583.9 807 1584.4 808 1584.9 809 1585.3 810 1585.7 811 1586.1 812 1586.5 813 1586.8 814 1587.1 815 1587.4 816 1587.7 817 1587.9 818 1588.1 819 1588.3 820 1588.5 821 1588.7 822 1588.8 823 1588.9 824 1589 825 1589.1 826 1589.2 827 1589.3 828 1589.4 829 1589.4 830 1589.5 831 1589.5 832 1589.6L832 1589.8Z" fill="#4a2c9c" fill-opacity="0.85"/>
<defs><path id="o16" d="M699 1547.1 700 1537.6 701 1533.7 702 1525.1 703 1506.3 704 1498.1 705 1494.1 706 1470.6 707 1434.6 708 1380.1 709 1345.6 710 1357.9 711 1412.9 712 1445.4 713 1445 714 1451.1 715 1446 716 1451.3 717 1467.5 718 1472.7 719 1474.2 720 1492.3 721 1507.3 722 1515.5 723 1532 724 1540.5 725 1542.1 726 1546.9 727 1552.9 728 1555 729 1556 730 1556.5 731 1556.8 732 1552.4 733 1551.9 734 1548.8 735 1540.1 736 1533.1 737 1528.8 738 1533.5 739 1523.2 740 1506.3 741 1510.5 742 1509 743 1497.3 744 1500.2 745 1496.4 746 1494 747 1490.8 748 1480.5 749 1485.8 750 1491.9 751 1489.3 752 1496.1 753 1499.5 754 1491.3 755 1479 756 1474.5 757 1484.1 758 1494.2 759 1494.6 760 1491.5 761 1499.6 762 1501.6 763 1501.9 764 1502.7 765 1510.3 766 1501.1 767 1487.6 768 1496.4 769 1494.3 770 1494 771 1488.3 772 1469.7 773 1462.8 774 1466.9 775 1464.5 776 1457.5 777 1454.5 778 1454.5 779 1448.6 780 1440.4 781 1441.5 782 1439.8 783 1443.1 784 1456.3 785 1461.7 786 1450.2 787 1446.1 788 1452.3 789 1456.8 790 1463.8 791 1464.4 792 1476.2 793 1486.9 794 1480.3 795 1476.6 796 1490.2 797 1504.6 798 1513.8 799 1523.1 800 1521.9 801 1517.7 802 1523 803 1530 804 1538.3 805 1541.5 806 1543.5 807 1551.8 808 1553.6 809 1557.3 810 1564 811 1564.5 812 1566.6 813 1570.3 814 1569 815 1568.2 816 1571 817 1571.2 818 1570.9 819 1571.3 820 1570.8 821 1571.1 822 1574.2 823 1574.3 824 1572.9 825 1573.7 826 1573.7 827 1573.4 828 1573.7 829 1575.6 830 1574.6 831 1574.4 832 1577 833 1576.8 834 1575.6 835 1575.9 836 1575.9 837 1576.8 838 1578.6 839 1576.2 840 1580.1 841 1586.5 842 1587.6 843 1589.6 844 1589.8 845 1589.8 846 1589.8 847 1589.6 848 1589.4 849 1589.8 850 1589.8 851 1589.8 852 1589.8 853 1588.8 854 1588.8 855 1589.5 856 1589.8 857 1589.8 858 1589.6 859 1589.8 860 1589.8 861 1589.2 862 1589.8 863 1589.8 864 1589.6 865 1589.8 866 1588.2 867 1587.5 868 1589.6 869 1589.8 870 1589 871 1589.7 872 1589.8 873 1589.8 874 1589.8 875 1589.8 876 1589.8 877 1589.8 878 1589.8 879 1589.3 880 1589.8 881 1589.8 882 1589.8 883 1589.8 884 1588.4 885 1587.1 886 1587.2 887 1589.5 888 1589.8 889 1589.8 890 1589.8 891 1589.8 892 1586.2 893 1588 894 1589.8 895 1589 896 1589.4 897 1589.7 898 1589.8 899 1589.8 900 1589.8 901 1589.8 902 1589.8 903 1589.8 904 1589.8 905 1589.8 906 1589.3 907 1589.4 908 1589.1 909 1589.8 910 1588.3 911 1587.2 912 1588.5 913 1589.3 914 1589.8 915 1589.1 916 1589.8 917 1589.8 918 1588.2 919 1588.7 920 1589.8 921 1589.8 922 1589.8 923 1589.3 924 1589.5 925 1589.3 926 1589.6 927 1589.8 928 1589 929 1588 930 1588.7 931 1587.9 932 1588.2 933 1589.8 934 1589.2 935 1587.1 936 1588 937 1589.8 938 1589.8 939 1589.8 940 1589.8 941 1589.8 942 1588.3 943 1588.4 944 1588.9 945 1589.8 946 1589.6 947 1589 948 1589.8 949 1589.8 950 1589.8 951 1589.8 952 1589.8 953 1589.8 954 1589.7 955 1589.8 956 1589.8 957 1589.8 958 1589 959 1589.3"/></defs>
<use href="#o16" fill="none" stroke="#2a2a2a" stroke-width="1.3" stroke-linejoin="round"/>
<use href="#o16" fill="none" stroke="#111" stroke-width="2.4" stroke-dasharray="0.1 3.3" stroke-linecap="round" opacity="0.6"/>
<line x1="697.4" y1="1589.8" x2="966.5" y2="1589.8" stroke="#111" stroke-width="3.4" stroke-linecap="butt"/>
<line x1="731.4" y1="1589.8" x2="731.4" y2="1592.8" stroke="#666" stroke-width="1.2" stroke-linecap="butt"/>
<line x1="764.9" y1="1589.8" x2="764.9" y2="1592.8" stroke="#666" stroke-width="1.2" stroke-linecap="butt"/>
<line x1="798.4" y1="1589.8" x2="798.4" y2="1592.8" stroke="#666" stroke-width="1.2" stroke-linecap="butt"/>
<line x1="832.0" y1="1589.8" x2="832.0" y2="1592.8" stroke="#666" stroke-width="1.2" stroke-linecap="butt"/>
<line x1="865.5" y1="1589.8" x2="865.5" y2="1592.8" stroke="#666" stroke-width="1.2" stroke-linecap="butt"/>
<line x1="899.0" y1="1589.8" x2="899.0" y2="1592.8" stroke="#666" stroke-width="1.2" stroke-linecap="butt"/>
<line x1="932.5" y1="1589.8" x2="932.5" y2="1592.8" stroke="#666" stroke-width="1.2" stroke-linecap="butt"/>
<line x1="94.6" y1="945.0" x2="94.6" y2="1644.8" stroke="#222" stroke-width="2.5" stroke-linecap="butt"/>
<line x1="93.4" y1="1643.6" x2="1263.7" y2="1643.6" stroke="#222" stroke-width="2.5" stroke-linecap="butt"/>
<text x="254.6" y="1279.0" font-size="39" text-anchor="middle" fill="#111" style="font-family:'Liberation Sans',sans-serif" stroke="#111" stroke-width="0.45">PBS</text>
<text x="551.0" y="1279.0" font-size="39" text-anchor="middle" fill="#111" style="font-family:'Liberation Sans',sans-serif" stroke="#111" stroke-width="0.45">scr1</text>
<text x="833.0" y="1279.0" font-size="39" text-anchor="middle" fill="#111" style="font-family:'Liberation Sans',sans-serif" stroke="#111" stroke-width="0.45">scr2</text>
<text x="1120.8" y="1279.0" font-size="39" text-anchor="middle" fill="#111" style="font-family:'Liberation Sans',sans-serif" stroke="#111" stroke-width="0.45">scr1+scr2</text>
<text x="257.5" y="1628.0" font-size="39" text-anchor="middle" fill="#111" style="font-family:'Liberation Sans',sans-serif" stroke="#111" stroke-width="0.45">shSur</text>
<text x="540.0" y="1628.0" font-size="39" text-anchor="middle" fill="#111" style="font-family:'Liberation Sans',sans-serif" stroke="#111" stroke-width="0.45">oe494</text>
<text x="836.4" y="1628.0" font-size="39" text-anchor="middle" fill="#111" style="font-family:'Liberation Sans',sans-serif" stroke="#111" stroke-width="0.45">shSur+oe494</text>
<text x="664.3" y="1687.0" font-size="39" text-anchor="middle" fill="#111" style="font-family:'Liberation Sans',sans-serif" stroke="#111" stroke-width="0.45">DNA Content</text>
<text x="85.0" y="1312.0" font-size="41" text-anchor="middle" fill="#111" style="font-family:'Liberation Sans',sans-serif" transform="rotate(-90 85.0 1312.0)" stroke="#111" stroke-width="0.45">Cell number</text>
<line x1="1556.6" y1="1312.5" x2="1556.6" y2="1316.6" stroke="#000" stroke-width="4.8" stroke-linecap="butt"/>
<line x1="1543.8" y1="1312.5" x2="1569.4" y2="1312.5" stroke="#000" stroke-width="5.5" stroke-linecap="round"/>
<rect x="1529.3" y="1316.6" width="54.6" height="39.4" fill="#fff" stroke="#000" stroke-width="4.8" stroke-linejoin="round"/>
<line x1="1556.6" y1="1356.0" x2="1556.6" y2="1365.5" stroke="#000" stroke-width="5" stroke-linecap="round"/>
<line x1="1638.1" y1="1291.0" x2="1638.1" y2="1296.0" stroke="#000" stroke-width="4.8" stroke-linecap="butt"/>
<line x1="1625.3" y1="1291.0" x2="1650.9" y2="1291.0" stroke="#000" stroke-width="5.5" stroke-linecap="round"/>
<rect x="1610.8" y="1296.0" width="54.6" height="60.0" fill="#fff" stroke="#000" stroke-width="4.8" stroke-linejoin="round"/>
<line x1="1638.1" y1="1356.0" x2="1638.1" y2="1365.5" stroke="#000" stroke-width="5" stroke-linecap="round"/>
<line x1="1719.7" y1="1295.5" x2="1719.7" y2="1301.5" stroke="#000" stroke-width="4.8" stroke-linecap="butt"/>
<line x1="1706.9" y1="1295.5" x2="1732.5" y2="1295.5" stroke="#000" stroke-width="5.5" stroke-linecap="round"/>
<rect x="1692.4" y="1301.5" width="54.6" height="54.5" fill="#fff" stroke="#000" stroke-width="4.8" stroke-linejoin="round"/>
<line x1="1719.7" y1="1356.0" x2="1719.7" y2="1365.5" stroke="#000" stroke-width="5" stroke-linecap="round"/>
<line x1="1801.2" y1="1289.2" x2="1801.2" y2="1297.8" stroke="#000" stroke-width="4.8" stroke-linecap="butt"/>
<line x1="1788.5" y1="1289.2" x2="1814.0" y2="1289.2" stroke="#000" stroke-width="5.5" stroke-linecap="round"/>
<rect x="1774.0" y="1297.8" width="54.6" height="58.2" fill="#fff" stroke="#000" stroke-width="4.8" stroke-linejoin="round"/>
<line x1="1801.2" y1="1356.0" x2="1801.2" y2="1365.5" stroke="#000" stroke-width="5" stroke-linecap="round"/>
<line x1="1882.8" y1="1212.8" x2="1882.8" y2="1222.5" stroke="#000" stroke-width="4.8" stroke-linecap="butt"/>
<line x1="1870.0" y1="1212.8" x2="1895.6" y2="1212.8" stroke="#000" stroke-width="5.5" stroke-linecap="round"/>
<rect x="1855.5" y="1222.5" width="54.6" height="133.5" fill="#fff" stroke="#000" stroke-width="4.8" stroke-linejoin="round"/>
<line x1="1882.8" y1="1356.0" x2="1882.8" y2="1365.5" stroke="#000" stroke-width="5" stroke-linecap="round"/>
<line x1="1964.3" y1="1181.0" x2="1964.3" y2="1192.8" stroke="#000" stroke-width="4.8" stroke-linecap="butt"/>
<line x1="1951.5" y1="1181.0" x2="1977.1" y2="1181.0" stroke="#000" stroke-width="5.5" stroke-linecap="round"/>
<rect x="1937.0" y="1192.8" width="54.6" height="163.2" fill="#fff" stroke="#000" stroke-width="4.8" stroke-linejoin="round"/>
<line x1="1964.3" y1="1356.0" x2="1964.3" y2="1365.5" stroke="#000" stroke-width="5" stroke-linecap="round"/>
<line x1="2045.9" y1="1022.7" x2="2045.9" y2="1034.8" stroke="#000" stroke-width="4.8" stroke-linecap="butt"/>
<line x1="2033.1" y1="1022.7" x2="2058.7" y2="1022.7" stroke="#000" stroke-width="5.5" stroke-linecap="round"/>
<rect x="2018.6" y="1034.8" width="54.6" height="321.2" fill="#fff" stroke="#000" stroke-width="4.8" stroke-linejoin="round"/>
<line x1="2045.9" y1="1356.0" x2="2045.9" y2="1365.5" stroke="#000" stroke-width="5" stroke-linecap="round"/>
<line x1="1516.7" y1="977.5" x2="1516.7" y2="1358.5" stroke="#000" stroke-width="5.2" stroke-linecap="butt"/>
<line x1="1507.0" y1="1356.0" x2="2087.5" y2="1356.0" stroke="#000" stroke-width="5.6" stroke-linecap="round"/>
<line x1="1507.7" y1="977.9" x2="1516.7" y2="977.9" stroke="#000" stroke-width="5" stroke-linecap="round"/>
<text x="1503.5" y="992.9" font-size="36" text-anchor="end" fill="#111" style="font-family:'Liberation Sans',sans-serif" stroke="#111" stroke-width="0.45">80</text>
<line x1="1507.7" y1="1072.7" x2="1516.7" y2="1072.7" stroke="#000" stroke-width="5" stroke-linecap="round"/>
<text x="1503.5" y="1087.7" font-size="36" text-anchor="end" fill="#111" style="font-family:'Liberation Sans',sans-serif" stroke="#111" stroke-width="0.45">60</text>
<line x1="1507.7" y1="1167.3" x2="1516.7" y2="1167.3" stroke="#000" stroke-width="5" stroke-linecap="round"/>
<text x="1503.5" y="1182.3" font-size="36" text-anchor="end" fill="#111" style="font-family:'Liberation Sans',sans-serif" stroke="#111" stroke-width="0.45">40</text>
<line x1="1507.7" y1="1262.0" x2="1516.7" y2="1262.0" stroke="#000" stroke-width="5" stroke-linecap="round"/>
<text x="1503.5" y="1277.0" font-size="36" text-anchor="end" fill="#111" style="font-family:'Liberation Sans',sans-serif" stroke="#111" stroke-width="0.45">20</text>
<line x1="1507.7" y1="1356.0" x2="1516.7" y2="1356.0" stroke="#000" stroke-width="5" stroke-linecap="round"/>
<text x="1503.5" y="1371.0" font-size="36" text-anchor="end" fill="#111" style="font-family:'Liberation Sans',sans-serif" stroke="#111" stroke-width="0.45">0</text>
<path d="M1680.0,955.5V946.2H2046.3V955.5" fill="none" stroke="#000" stroke-width="3.6" stroke-linecap="round" stroke-linejoin="round"/>
<text x="1861.3" y="959.0" font-size="46" text-anchor="middle" fill="#111" style="font-family:'Liberation Sans',sans-serif" stroke="#000" stroke-width="0.5">***</text>
<path d="M1921.7,998.0V988.5H2046.3V998.0" fill="none" stroke="#000" stroke-width="3.6" stroke-linecap="round" stroke-linejoin="round"/>
<text x="1982.3" y="1002.0" font-size="46" text-anchor="middle" fill="#111" style="font-family:'Liberation Sans',sans-serif" stroke="#000" stroke-width="0.5">**</text>
<path d="M1680.0,1133.5V1123.9H1923.0V1133.5" fill="none" stroke="#000" stroke-width="3.6" stroke-linecap="round" stroke-linejoin="round"/>
<text x="1799.5" y="1137.5" font-size="46" text-anchor="middle" fill="#111" style="font-family:'Liberation Sans',sans-serif" stroke="#000" stroke-width="0.5">**</text>
<line x1="1882.5" y1="1160.0" x2="1964.8" y2="1160.0" stroke="#000" stroke-width="3.6" stroke-linecap="round"/>
<line x1="1556.9" y1="1266.8" x2="1801.3" y2="1266.8" stroke="#000" stroke-width="3.6" stroke-linecap="round"/>
<text x="1576.7" y="1384.5" font-size="37" text-anchor="end" fill="#111" style="font-family:'Liberation Sans',sans-serif" transform="rotate(-60 1576.7 1384.5)" stroke="#111" stroke-width="0.45">PBS</text>
<text x="1650.4" y="1384.5" font-size="37" text-anchor="end" fill="#111" style="font-family:'Liberation Sans',sans-serif" transform="rotate(-60 1650.4 1384.5)" stroke="#111" stroke-width="0.45">scr1</text>
<text x="1736.7" y="1384.5" font-size="37" text-anchor="end" fill="#111" style="font-family:'Liberation Sans',sans-serif" transform="rotate(-60 1736.7 1384.5)" stroke="#111" stroke-width="0.45">scr2</text>
<text x="1818.2" y="1384.5" font-size="37" text-anchor="end" fill="#111" style="font-family:'Liberation Sans',sans-serif" transform="rotate(-60 1818.2 1384.5)" stroke="#111" stroke-width="0.45">scr1+scr2</text>
<text x="1899.8" y="1384.5" font-size="37" text-anchor="end" fill="#111" style="font-family:'Liberation Sans',sans-serif" transform="rotate(-60 1899.8 1384.5)" stroke="#111" stroke-width="0.45">shSur</text>
<text x="1981.3" y="1384.5" font-size="37" text-anchor="end" fill="#111" style="font-family:'Liberation Sans',sans-serif" transform="rotate(-60 1981.3 1384.5)" stroke="#111" stroke-width="0.45">oe494</text>
<text x="2062.4" y="1384.5" font-size="37" text-anchor="end" fill="#111" style="font-family:'Liberation Sans',sans-serif" transform="rotate(-60 2062.4 1384.5)" stroke="#111" stroke-width="0.45">shSur+oe494</text>
<text x="1402.0" y="1254.2" font-size="40" text-anchor="start" fill="#111" style="font-family:'Liberation Sans',sans-serif" transform="rotate(-90 1402.0 1254.2)" stroke="#111" stroke-width="0.45">G2M (%)</text>
<line x1="1553.3" y1="2170.3" x2="1553.3" y2="2178.0" stroke="#000" stroke-width="4.8" stroke-linecap="butt"/>
<line x1="1540.5" y1="2170.3" x2="1566.1" y2="2170.3" stroke="#000" stroke-width="5.5" stroke-linecap="round"/>
<rect x="1526.0" y="2178.0" width="54.6" height="14.7" fill="#fff" stroke="#000" stroke-width="4.8" stroke-linejoin="round"/>
<line x1="1553.3" y1="2192.7" x2="1553.3" y2="2205.7" stroke="#000" stroke-width="5" stroke-linecap="round"/>
<line x1="1634.5" y1="2122.8" x2="1634.5" y2="2136.7" stroke="#000" stroke-width="4.8" stroke-linecap="butt"/>
<line x1="1621.7" y1="2122.8" x2="1647.3" y2="2122.8" stroke="#000" stroke-width="5.5" stroke-linecap="round"/>
<rect x="1607.2" y="2136.7" width="54.6" height="56.0" fill="#fff" stroke="#000" stroke-width="4.8" stroke-linejoin="round"/>
<line x1="1634.5" y1="2192.7" x2="1634.5" y2="2205.7" stroke="#000" stroke-width="5" stroke-linecap="round"/>
<line x1="1715.7" y1="2129.3" x2="1715.7" y2="2143.6" stroke="#000" stroke-width="4.8" stroke-linecap="butt"/>
<line x1="1702.9" y1="2129.3" x2="1728.5" y2="2129.3" stroke="#000" stroke-width="5.5" stroke-linecap="round"/>
<rect x="1688.4" y="2143.6" width="54.6" height="49.1" fill="#fff" stroke="#000" stroke-width="4.8" stroke-linejoin="round"/>
<line x1="1715.7" y1="2192.7" x2="1715.7" y2="2205.7" stroke="#000" stroke-width="5" stroke-linecap="round"/>
<line x1="1796.9" y1="2115.0" x2="1796.9" y2="2135.8" stroke="#000" stroke-width="4.8" stroke-linecap="butt"/>
<line x1="1784.1" y1="2115.0" x2="1809.7" y2="2115.0" stroke="#000" stroke-width="5.5" stroke-linecap="round"/>
<rect x="1769.6" y="2135.8" width="54.6" height="56.9" fill="#fff" stroke="#000" stroke-width="4.8" stroke-linejoin="round"/>
<line x1="1796.9" y1="2192.7" x2="1796.9" y2="2205.7" stroke="#000" stroke-width="5" stroke-linecap="round"/>
<line x1="1878.1" y1="2026.2" x2="1878.1" y2="2042.5" stroke="#000" stroke-width="4.8" stroke-linecap="butt"/>
<line x1="1865.3" y1="2026.2" x2="1890.9" y2="2026.2" stroke="#000" stroke-width="5.5" stroke-linecap="round"/>
<rect x="1850.8" y="2042.5" width="54.6" height="150.2" fill="#fff" stroke="#000" stroke-width="4.8" stroke-linejoin="round"/>
<line x1="1878.1" y1="2192.7" x2="1878.1" y2="2205.7" stroke="#000" stroke-width="5" stroke-linecap="round"/>
<line x1="1959.3" y1="1997.0" x2="1959.3" y2="2018.5" stroke="#000" stroke-width="4.8" stroke-linecap="butt"/>
<line x1="1946.5" y1="1997.0" x2="1972.1" y2="1997.0" stroke="#000" stroke-width="5.5" stroke-linecap="round"/>
<rect x="1932.0" y="2018.5" width="54.6" height="174.2" fill="#fff" stroke="#000" stroke-width="4.8" stroke-linejoin="round"/>
<line x1="1959.3" y1="2192.7" x2="1959.3" y2="2205.7" stroke="#000" stroke-width="5" stroke-linecap="round"/>
<line x1="2040.5" y1="1854.0" x2="2040.5" y2="1875.5" stroke="#000" stroke-width="4.8" stroke-linecap="butt"/>
<line x1="2027.7" y1="1854.0" x2="2053.3" y2="1854.0" stroke="#000" stroke-width="5.5" stroke-linecap="round"/>
<rect x="2013.2" y="1875.5" width="54.6" height="317.2" fill="#fff" stroke="#000" stroke-width="4.8" stroke-linejoin="round"/>
<line x1="2040.5" y1="2192.7" x2="2040.5" y2="2205.7" stroke="#000" stroke-width="5" stroke-linecap="round"/>
<line x1="1513.3" y1="1811.8" x2="1513.3" y2="2195.2" stroke="#000" stroke-width="5.2" stroke-linecap="butt"/>
<line x1="1501.4" y1="2192.7" x2="2083.0" y2="2192.7" stroke="#000" stroke-width="5.6" stroke-linecap="round"/>
<line x1="1500.8" y1="1811.8" x2="1513.3" y2="1811.8" stroke="#000" stroke-width="5" stroke-linecap="round"/>
<text x="1497.7" y="1826.3" font-size="38" text-anchor="end" fill="#111" style="font-family:'Liberation Sans',sans-serif" stroke="#111" stroke-width="0.45">60</text>
<line x1="1500.8" y1="1938.3" x2="1513.3" y2="1938.3" stroke="#000" stroke-width="5" stroke-linecap="round"/>
<text x="1497.7" y="1952.8" font-size="38" text-anchor="end" fill="#111" style="font-family:'Liberation Sans',sans-serif" stroke="#111" stroke-width="0.45">40</text>
<line x1="1500.8" y1="2065.5" x2="1513.3" y2="2065.5" stroke="#000" stroke-width="5" stroke-linecap="round"/>
<text x="1497.7" y="2080.0" font-size="38" text-anchor="end" fill="#111" style="font-family:'Liberation Sans',sans-serif" stroke="#111" stroke-width="0.45">20</text>
<line x1="1500.8" y1="2192.7" x2="1513.3" y2="2192.7" stroke="#000" stroke-width="5" stroke-linecap="round"/>
<text x="1497.7" y="2207.2" font-size="38" text-anchor="end" fill="#111" style="font-family:'Liberation Sans',sans-serif" stroke="#111" stroke-width="0.45">0</text>
<path d="M1674.4,1781.5V1771.8H2042.0V1781.5" fill="none" stroke="#000" stroke-width="3.6" stroke-linecap="round" stroke-linejoin="round"/>
<text x="1854.0" y="1786.4" font-size="46" text-anchor="middle" fill="#111" style="font-family:'Liberation Sans',sans-serif" stroke="#000" stroke-width="0.5">***</text>
<path d="M1917.4,1821.5V1814.0H2042.0V1821.5" fill="none" stroke="#000" stroke-width="3.6" stroke-linecap="round" stroke-linejoin="round"/>
<text x="1977.4" y="1828.6" font-size="46" text-anchor="middle" fill="#111" style="font-family:'Liberation Sans',sans-serif" stroke="#000" stroke-width="0.5">**</text>
<path d="M1674.4,1959.5V1949.5H1917.4V1959.5" fill="none" stroke="#000" stroke-width="3.6" stroke-linecap="round" stroke-linejoin="round"/>
<text x="1794.3" y="1961.4" font-size="46" text-anchor="middle" fill="#111" style="font-family:'Liberation Sans',sans-serif" stroke="#000" stroke-width="0.5">**</text>
<line x1="1878.2" y1="1976.2" x2="1960.5" y2="1976.2" stroke="#000" stroke-width="3.6" stroke-linecap="round"/>
<line x1="1552.5" y1="2089.8" x2="1797.0" y2="2089.8" stroke="#000" stroke-width="3.6" stroke-linecap="round"/>
<text x="1570.4" y="2225.5" font-size="37" text-anchor="end" fill="#111" style="font-family:'Liberation Sans',sans-serif" transform="rotate(-60 1570.4 2225.5)" stroke="#111" stroke-width="0.45">PBS</text>
<text x="1643.8" y="2225.5" font-size="37" text-anchor="end" fill="#111" style="font-family:'Liberation Sans',sans-serif" transform="rotate(-60 1643.8 2225.5)" stroke="#111" stroke-width="0.45">scr1</text>
<text x="1729.7" y="2225.5" font-size="37" text-anchor="end" fill="#111" style="font-family:'Liberation Sans',sans-serif" transform="rotate(-60 1729.7 2225.5)" stroke="#111" stroke-width="0.45">scr2</text>
<text x="1810.9" y="2225.5" font-size="37" text-anchor="end" fill="#111" style="font-family:'Liberation Sans',sans-serif" transform="rotate(-60 1810.9 2225.5)" stroke="#111" stroke-width="0.45">scr1+scr2</text>
<text x="1892.1" y="2225.5" font-size="37" text-anchor="end" fill="#111" style="font-family:'Liberation Sans',sans-serif" transform="rotate(-60 1892.1 2225.5)" stroke="#111" stroke-width="0.45">shSur</text>
<text x="1973.3" y="2225.5" font-size="37" text-anchor="end" fill="#111" style="font-family:'Liberation Sans',sans-serif" transform="rotate(-60 1973.3 2225.5)" stroke="#111" stroke-width="0.45">oe494</text>
<text x="2054.0" y="2225.5" font-size="37" text-anchor="end" fill="#111" style="font-family:'Liberation Sans',sans-serif" transform="rotate(-60 2054.0 2225.5)" stroke="#111" stroke-width="0.45">shSur+oe494</text>
<text x="1403.0" y="2140.0" font-size="40" text-anchor="start" fill="#111" style="font-family:'Liberation Sans',sans-serif" transform="rotate(-90 1403.0 2140.0)" textLength="258" lengthAdjust="spacing" stroke="#111" stroke-width="0.45">Apoptosis (%)</text>
<path d="M163 2015h2m30 -35h2m-60 -7h2m56 -8h2m-48 19h2m6 21h2m27 -33h2m-32 35h2m8 -7h2m-40 -30h2m51 25h2m-18 11h2m-17 6h2m32 -44h2m-38 38h2m9 -3h2m-25 -30h2m17 3h2m-16 38h2m2 -34h2m34 -5h2m-37 25h2m13 -33h2m35 20h2m-4 -8h2m-19 11h2m-15 3h2m-22 2h2m-10 -11h2m57 26h2m-35 -3h2m-32 5h2m36 -28h2m9 17h2m-14 -17h2m20 -9h2m-66 21h2m34 17h2m-7 -8h2m-31 -30h2m40 -3h2m13 31h2m-21 -4h2m-26 9h2m40 -41h2m-26 41h2m-2 -24h2m16 -9h2m-46 4h2m37 34h2m5 -49h2m-45 13h2m43 23h2m-47 -39h2m-10 0h2m54 1h2m-1 47h2m-1 -31h2m-32 -1h2m-16 27h2m-21 -27h2m44 24h2m4 -21h2m6 -4h2m-42 5h2m-7 -12h2m29 -6h2m10 46h2m9 -1h2m-61 -23h2m22 13h2m28 10h2m-36 -27h2m10 19h2m-43 2h2m45 -39h2m16 4h2m-9 35h2m3 -3h2m-19 -29h2m-32 36h2m36 -1h2m-43 -27h2m44 0h2m-58 -13h2m53 19h2m-50 -19h2m13 25h2m-6 5h2m25 -3h2m-39 -29h2m14 31h2m-31 8h2m17 -35h2m10 26h2m-25 13h2m36 -36h2m-20 41h2m23 3h2m-7 -14h2m-19 9h2m30 -35h2m-19 23h2m11 15h2m-36 -50h2m13 44h2m-28 -33h2m57 32h2m-57 -9h2m-1 9h2m-16 -23h2m12 3h2m35 27h2m-7 -49h2m-44 5h2m16 46h2m2 -3h2m16 -44h2m-18 47h2m8 -40h2m16 36h2m-10 1h2m-28 -51h2m4 0h2m-8 18h2m-21 34h2m5 -8h2m4 -23h2m0 27h2m-2 -31h2m17 2h2m27 -9h2m-16 44h2m-1 -9h2m-5 -20h2m-13 -11h2m21 40h2m-19 -32h2m-15 -11h2m-33 12h2m28 17h2m-22 3h2m-8 -38h2m25 48h2m18 -16h2m-37 -34h2m32 44h2m-20 7h2m-29 -7h2m57 -47h2m-43 26h2m-9 7h2m38 17h2m-55 -22h2m43 -25h2m-42 49h2m13 1h2m-14 -26h2m42 -25h2m-35 45h2m41 -6h2m-27 13h2m3 -55h2m-15 25h2m-17 -9h2m4 -10h2m38 36h2m-56 -23h2m55 -17h2m-19 6h2m-31 38h2m19 -11h2m-21 -23h2m-2 28h2m7 -33h2m-38 31h2m33 -1h2m33 -37h2m-52 29h2m32 12h2m-25 2h2m-19 -3h2m49 10h2m-67 -7h2m19 10h2m49 -29h2m-56 -22h2m41 8h2m-20 6h2m13 -14h2m-15 4h2m-22 24h2m28 -16h2m-56 2h2m29 26h2m-8 7h2m6 0h2m-28 -28h2m5 19h2m23 9h2m-15 -40h2m28 2h2m-16 26h2m17 -22h2m-12 -4h2m-11 10h2m-25 -20h2m34 24h2m-41 -22h2m-15 11h2m63 -2h2m-33 7h2m15 -12h2m-19 20h2m4 12h2m-45 -20h2m10 34h2m33 -4h2m-9 -32h2m-32 -15h2m55 42h2m-60 -30h2m24 5h2m-28 14h2m7 -16h2m-12 10h2m-9 9h2m8 3h2m-1 -27h2m23 22h2m-8 -3h2m35 7h2m-2 -31h2m-14 0h2m-11 49h2m11 -9h2m5 0h2m-69 6h2m5 2h2m15 -33h2m-21 21h2m35 -6h2m-27 -5h2m-2 7h2m0 -21h2m-16 31h2m45 -26h2m-9 -15h2m-5 -7h2m-44 35h2m27 -23h2m17 41h2m-41 -43h2m15 7h2m-29 38h2m3 -26h2m8 23h2m12 -8h2m2 -38h2m29 5h2m-44 10h2m-23 28h2m56 -31h2m-57 7h2m0 1h2m61 -8h2m-17 26h2m-32 -42h2m-17 10h2m16 34h2m-5 -12h2m37 -6h2m-35 -8h2m-27 -14h2m60 19h2m-25 30h2m-38 -22h2m-3 -1h2m-3 17h2m36 4h2m-45 -16h2m55 -21h2m-4 19h2m8 -16h2m-20 26h2m0 -38h2m-41 18h2m-12 22h2m1 -22h2m63 8h2m-25 -28h2m20 10h2m-45 38h2m27 -17h2m-52 -16h2m5 8h2m6 15h2m18 1h2m-1 2h2m-7 -30h2m-7 -3h2m9 22h2m27 -6h2m-40 2h2m26 -20h2m-59 6h2m22 25h2m11 -23h2m2 23h2m-29 -40h2m9 51h2m38 -42h2m-24 15h2m-6 25h2m-40 -38h2m-3 -1h2m9 43h2m-7 -4h2m60 -22h2m-74 -27h2m25 31h2m-25 -20h2m41 -2h2m-46 41h2m0 -18h2m-1 -10h2m12 -21h2m20 17h2m15 28h2m-41 -32h2m-1 1h2m37 17h2m-8 -21h2m-47 18h2m48 12h2m0 -28h2m-50 11h2m31 6h2m-34 -12h2m2 -8h2m16 -6h2m0 25h2m-5 21h2m3 -52h2m-26 48h2m39 6h2m-39 -24h2m45 24h2m-31 -15h2m-18 -9h2m-11 -5h2m20 1h2m-10 12h2m16 -26h2m-11 28h2m-35 -13h2m56 10h2m-59 16h2m54 -41h2m-3 10h2m6 -7h2m-20 -13h2m-39 32h2m18 1h2m12 -2h2m-20 -11h2m19 28h2m-36 -50h2m9 16h2m12 26h2m-11 -34h2m-24 12h2m60 27h2m-23 -28h2m9 -6h2m-37 37h2m41 -47h2m-12 45h2m11 -31h2m-60 -6h2m19 16h2m-9 0h2m15 27h2m-29 -12h2m-13 -17h2m26 6h2m10 -14h2m-21 38h2m42 -34h2m-44 28h2m-10 -13h2m35 15h2m-27 -32h2m-16 4h2m-1 -3h2m46 26h2m-1 7h2m-25 -7h2m-29 -21h2m30 21h2m-38 -5h2m6 -12h2m14 -20h2m-13 4h2m-5 26h2m43 -29h2m-61 21h2m31 14h2m-44 -9h2m2 -2h2m6 -20h2m55 -8h2m-21 -5h2m8 1h2m-61 10h2m44 19h2m-20 -8h2m-4 -12h2m20 5h2m-31 9h2m12 20h2m-20 -9h2m8 -35h2m8 25h2m-29 -16h2m6 38h2m9 1h2m2 -18h2m21 10h2m-13 -3h2m-8 8h2m21 -31h2m-52 -3h2m-8 30h2m19 12h2m-21 -42h2m29 19h2m-1 -1h2m-34 -10h2m40 22h2m-13 -35h2m-12 13h2m34 4h2m-7 29h2m-48 -15h2m-6 2h2m-3 -28h2m42 21h2m-34 -28h2m1 3h2m12 31h2m26 7h2m-70 -11h2m10 -3h2m39 12h2m-26 10h2m-10 -2h2m47 -7h2m-53 -21h2m31 19h2m16 -31h2m-16 39h2m-6 -36h2m-1 40h2m4 -39h2m-41 -2h2m24 4h2m11 9h2m4 -17h2m-1 4h2m-2 35h2m-61 3h2m18 -44h2m4 16h2m30 -1h2m-36 23h2m-14 -9h2m-20 -15h2m18 22h2m34 -11h2m-58 -22h2m9 33h2m9 -18h2m14 24h2m-14 -13h2m35 -29h2m-51 34h2m24 -10h2m14 -2h2m9 -7h2m-6 14h2m-56 -34h2m46 25h2m-11 24h2m-20 -41h2m-31 -4h2m8 15h2m41 7h2m-51 -9h2m15 7h2m-6 10h2m33 7h2m-30 -42h2m-22 19h2m19 13h2m-5 -34h2m26 53h2m-31 -17h2m26 -9h2m-14 -2h2m24 -18h2m-13 -4h2m-26 35h2m3 14h2m-3 -8h2m28 -44h2m-56 1h2m19 27h2m6 4h2m-9 2h2m10 15h2m-10 1h2m-8 5h2m18 -37h2m-28 8h2m27 13h2m-45 -37h2m12 49h2m43 -17h2m0 -24h2m-1 9h2m-71 13h2m55 4h2m6 -14h2m-4 19h2m-16 -12h2m-5 26h2m2 -7h2m-13 -40h2m14 -3h2m-23 43h2m-23 -14h2m-11 21h2m57 -31h2m-13 -15h2m-44 -8h2m45 42h2m-40 -39h2m22 32h2m-22 -5h2m-12 10h2m-5 12h2m-10 -41h2m-2 15h2m-2 15h2m0 -31h2m52 -7h2m-25 3h2m-31 45h2m27 -8h2m0 -34h2m-6 -10h2m-23 35h2m15 -18h2m30 -5h2m-38 -2h2m7 16h2m29 -7h2m-53 34h2m34 -22h2m-20 19h2m20 2h2m-33 -2h2m12 -23h2m-15 5h2m34 -3h2m2 -29h2m-23 53h2m24 -45h2m-21 23h2m6 7h2m2 6h2m-47 -14h2m50 5h2m-45 11h2m5 -10h2m-25 1h2m45 11h2m-37 -45h2m23 26h2m-36 -28h2m8 7h2m0 -7h2m-13 47h2m-16 -30h2m51 11h2m11 15h2m-54 -6h2m-7 14h2m11 -25h2m-21 12h2m39 9h2m-22 -43h2m12 21h2m23 -22h2m-5 27h2m2 -14h2m-1 30h2m-27 -21h2m-8 -18h2m-36 41h2m2 -26h2m29 -23h2m22 14h2m-32 7h2m-34 -21h2m13 7h2m38 9h2m-45 2h2m1 6h2m4 -8h2m21 1h2m15 8h2m-47 -6h2m26 23h2m-7 2h2m-9 -44h2m8 8h2m15 -3h2m-45 14h2m18 0h2m-31 23h2m28 -1h2m19 8h2m13 -11h2m-40 -5h2m5 3h2m-17 -15h2m-20 -5h2m27 -15h2m18 52h2m5 -11h2m-18 -28h2m-1 11h2m-3 2h2m36 6h2m-63 -20h2m25 2h2m14 3h2m-10 -15h2m-18 22h2m29 -5h2m-44 -16h2m-6 28h2m27 1h2m-33 -29h2m-16 21h2m47 7h2m-4 -4h2m-2 -20h2m-20 -5h2m8 14h2m-19 -4h2m38 5h2m-16 -1h2m-3 7h2m-42 -12h2m39 5h2m8 34h2m-6 -34h2m-8 9h2m-14 -5h2m-7 0h2m12 -13h2m-5 16h2m-4 -6h2m-11 9h2m28 14h2m-45 -21h2m16 7h2m-11 -20h2m22 13h2m4 15h2m-4 -17h2m-10 -7h2m-34 10h2m50 -5h2m-25 0h2m-12 -2h2m0 26h2m-7 -31h2m9 5h2m-3 -2h2m-12 20h2m-36 -17h2m36 18h2m6 -13h2m-1 -2h2m-12 -16h2m7 30h2m6 -8h2m-24 -1h2m27 -6h2m-53 -3h2m8 -10h2m3 25h2m-25 -8h2m20 -7h2m32 -3h2m-2 9h2m-20 -3h2m23 19h2m-24 -9h2m-13 -15h2m9 -6h2m-8 10h2m11 -8h2m-36 11h2m36 4h2m-24 2h2m18 -2h2m-38 -7h2m15 9h2m5 -17h2m11 9h2m-34 10h2m41 -6h2m-20 -17h2m-17 2h2m24 -5h2m-18 37h2m13 -37h2m16 16h2m-25 22h2m-22 -9h2m0 3h2m13 -20h2m-7 13h2m-18 26h2m0 -34h2m18 5h2m23 -8h2m-76 3h2m48 4h2m-16 12h2m13 -26h2m-1 -5h2m-14 16h2m-18 2h2m-8 13h2m-9 -8h2m44 -14h2m-23 13h2m-7 6h2m2 -9h2m-18 -7h2m23 11h2m13 -12h2m-5 -16h2m-42 35h2m41 -29h2m-33 11h2m-20 0h2m9 0h2m2 0h2m12 -12h2m-17 21h2m-10 -5h2m17 0h2m31 11h2m-42 0h2m16 3h2m-8 6h2m37 -16h2m-70 -22h2m42 20h2m-37 -3h2m8 1h2m6 -7h2m47 -3h2m-61 18h2m-19 2h2m45 -23h2m-34 18h2m7 -8h2m2 -2h2m-1 12h2m-6 -8h2m5 -6h2m0 7h2m5 -23h2m-21 16h2m-7 1h2m-7 -10h2m23 17h2m-12 1h2m7 -9h2m-2 4h2m15 10h2m-24 4h2m6 -20h2m-31 12h2m0 8h2m9 -12h2m-15 -8h2m26 0h2m-32 5h2m19 -8h2m-40 33h2m18 -28h2m10 10h2m-1 -2h2m-25 5h2m27 -11h2m11 -10h2m-7 32h2m-22 -19h2m-1 2h2m-11 1h2m25 12h2m11 -6h2m-32 5h2m-19 -4h2m26 -7h2m6 1h2m-54 -11h2m41 -13h2m28 18h2m-22 -9h2m-6 40h2m-4 -11h2m8 -4h2m-32 -19h2m-1 29h2m17 -42h2m-18 6h2m12 4h2m-35 -2h2m38 12h2m0 1h2m-14 19h2m-1 -10h2m20 2h2m-42 -8h2m0 -7h2m-4 -6h2m8 -9h2m-11 7h2m14 6h2m-13 12h2m-14 -27h2m-3 4h2m39 17h2m-21 -14h2m-4 16h2m1 -9h2m-3 -3h2m10 -7h2m-5 14h2m-19 -7h2m-5 1h2m-6 0h2m-5 9h2m38 0h2m-37 -21h2m-18 17h2m15 6h2m-1 7h2m15 -2h2m-20 -7h2m19 -15h2m-4 5h2m11 18h2m12 -18h2m8 19h2m-25 3h2m-39 -26h2m9 17h2m8 -6h2m25 23h2m-23 -13h2m6 -15h2m-23 10h2m10 -14h2m0 8h2m-20 4h2m17 0h2m2 1h2m-20 -13h2m15 -10h2m8 16h2m-26 -6h2m-3 2h2m-7 32h2m-6 -11h2m9 -15h2m-10 -14h2m-1 2h2m-9 18h2m-13 8h2m7 -15h2m17 4h2m-25 2h2m6 9h2m33 -33h2m-10 23h2m-29 2h2m17 6h2m-21 -6h2m32 -16h2m-35 6h2m8 -11h2m18 19h2m-35 0h2m30 4h2m-34 -17h2m14 -2h2m-10 30h2m1 -15h2m1 17h2m-5 -14h2m-16 -21h2m26 25h2m-4 5h2m6 -19h2m0 -16h2m-43 28h2m37 -9h2m-2 5h2m-29 -33h2m22 35h2m4 -35h2m-32 20h2m-15 20h2m14 -30h2m45 -1h2m-40 16h2m-24 23h2m12 0h2m-13 -25h2m7 18h2m5 -5h2m-41 -3h2m41 1h2m14 -12h2m-26 17h2m-5 3h2m20 18h2m-37 -20h2m-2 -37h2m-4 14h2m17 17h2m6 -3h2m-9 -22h2m7 19h2m2 -2h2m-7 3h2m-21 0h2m6 11h2m21 6h2m-37 -9h2m10 -19h2m-4 2h2m1 3h2m-15 6h2m-6 -4h2m56 1h2m-26 -6h2m-27 20h2m8 -1h2m9 1h2m-17 -11h2m12 6h2m-20 -15h2m2 -1h2m2 5h2m-8 12h2m-32 -8h2m35 -11h2m2 14h2m1 4h2m-24 -3h2m18 -9h2m-4 8h2m-32 -6h2m-8 1h2m38 3h2m-23 9h2m27 12h2m15 -3h2m-43 -10h2m-3 -11h2m8 1h2m8 0h2m-29 16h2m34 -43h2m-6 33h2m-7 -25h2m-20 22h2m20 15h2m-3 -25h2m-33 -15h2m47 39h2m-38 3h2m9 -12h2m-16 9h2m12 -23h2m9 22h2m-31 6h2m-15 -12h2m16 -4h2m-15 11h2m7 -2h2m7 -20h2m-1 23h2m18 -7h2m-36 -6h2m18 12h2m-15 -4h2m26 -2h2m16 -14h2m-35 15h2m18 -21h2m-35 11h2m-18 -18h2m3 0h2m-7 24h2m8 -6h2m8 2h2m19 6h2m-9 -3h2m-5 -14h2m-15 11h2m-7 -2h2m9 -5h2m0 5h2m0 -3h2m0 -3h2m-10 3h2m-29 7h2m10 20h2m3 -32h2m35 15h2m-33 -22h2m14 33h2m10 -21h2m-19 6h2m-13 12h2m0 -3h2m-13 -27h2m18 22h2m10 -9h2m-10 10h2m1 -5h2m-3 6h2m17 -5h2m-42 -5h2m10 15h2m7 -30h2m6 12h2m-57 -6h2m26 9h2m3 -3h2m-14 3h2m26 -3h2m-12 0h2m-11 -13h2m-21 18h2m3 3h2m3 -10h2m20 0h2m-27 0h2m-15 25h2m7 -16h2m11 2h2m32 -7h2m11 -2h2m-47 -5h2m19 27h2m5 -36h2m-4 22h2m-23 -3h2m-20 -3h2m11 -14h2m-23 3h2m30 25h2m6 -19h2m-42 18h2m25 -3h2m3 -1h2m13 2h2m0 -21h2m-11 8h2m-24 12h2m2 -21h2m22 32h2m-29 -24h2m6 5h2m22 -10h2m-23 15h2m-25 -12h2m15 5h2m12 -10h2m-15 26h2m18 -31h2m0 23h2m-31 -2h2m0 2h2m4 -16h2m-18 22h2m22 0h2m-11 -9h2m13 1h2m-23 -5h2m-6 9h2m39 -16h2m-43 15h2m2 -2h2m-4 -20h2m4 -13h2m-11 28h2m11 -1h2m-12 15h2m3 -12h2m9 -6h2m4 -10h2m-6 14h2m-20 -5h2m15 -6h2m-10 11h2m-2 13h2m-26 -11h2m34 -13h2m-14 16h2m26 -16h2m-18 -5h2m-29 22h2m-6 -11h2m36 18h2m-32 -9h2m21 -12h2m-17 11h2m35 12h2m-33 -16h2m20 -10h2m-5 5h2m-29 -2h2m0 -4h2m25 -1h2m-24 19h2m-15 7h2m29 -16h2m19 13h2m-41 1h2m19 9h2m-25 -21h2m21 -2h2m-26 9h2m21 -4h2m-13 2h2m-13 11h2m4 -19h2m-14 7h2m-10 -13h2m-1 9h2m13 -5h2m-17 -1h2m20 6h2m0 -3h2m-3 9h2m-17 5h2m7 -25h2m-3 27h2m18 -35h2m-34 27h2m4 5h2m0 -15h2m0 4h2m-11 -6h2m0 19h2m22 -45h2m-27 24h2m22 -10h2m15 23h2m-14 12h2m-48 -1h2m37 -6h2m-7 -4h2m-1 -11h2m-34 21h2m33 -6h2m-29 -16h2m33 -5h2m-5 7h2m20 19h2m-46 2h2m-19 4h2m37 -27h2m-5 5h2m-21 19h2m24 -13h2m-12 6h2m-31 -23h2m12 11h2m-4 4h2m3 -4h2m3 -1h2m-16 -13h2m6 36h2m10 -16h2m-12 -18h2m-5 28h2m-3 -11h2m1 7h2m-29 -10h2m29 -7h2m-20 1h2m15 12h2m-25 5h2m34 -3h2m-13 1h2m-25 6h2m21 -10h2m-16 8h2m36 1h2m-22 -9h2m-21 -4h2m13 -3h2m-6 -9h2m17 -4h2m-15 32h2m1 -15h2m-27 -6h2m27 24h2m17 -7h2m-23 -10h2m-13 11h2m1 -14h2m-18 6h2m15 17h2m-21 -9h2m15 -14h2m-9 10h2m-8 6h2m19 -15h2m-33 -3h2m19 25h2m-21 -24h2m45 -11h2m1 16h2m-19 24h2m14 -18h2m-22 3h2m-3 -34h2m-16 18h2m-9 19h2m13 -17h2m-12 19h2m-1 -9h2m16 -1h2m-15 14h2m-23 -24h2m18 0h2m-10 7h2m5 1h2m-14 -21h2m32 32h2m9 -11h2m-48 -4h2m25 8h2m-3 -11h2m-27 18h2m15 -13h2m18 7h2m-10 -17h2m9 6h2m-44 8h2m5 -15h2m13 3h2m-1 7h2m-7 13h2m-8 -4h2m-2 1h2m-5 -6h2m14 6h2m-51 7h2m64 -15h2m-34 3h2m-16 2h2m28 -29h2m-31 21h2m25 6h2m-23 3h2m-17 8h2m16 -3h2m-24 2h2m4 -35h2m24 32h2m-44 -1h2m15 3h2m-2 -16h2m-2 14h2m-8 6h2m15 7h2m-27 -16h2m-5 -19h2m23 17h2m-25 7h2m20 -2h2m-7 17h2m-12 -25h2m2 -10h2m2 5h2m5 15h2m-17 -17h2m4 -3h2m-19 2h2m14 24h2m1 -18h2m-7 14h2m33 -2h2m-13 -19h2m-22 21h2m13 -7h2m-11 -27h2m-22 10h2m29 20h2m-12 -9h2m2 6h2m1 -25h2m-24 29h2m19 -9h2m-38 2h2m19 -8h2m2 18h2m8 -37h2m-7 17h2m-4 17h2m2 -15h2m-19 26h2m28 -13h2m-27 -14h2m14 22h2m-14 -14h2m-5 8h2m10 -14h2m-4 0h2m10 16h2m-6 -7h2m-25 -11h2m13 -1h2m-7 18h2m-15 13h2m-6 -30h2m17 18h2m-13 -43h2m-14 18h2m16 25h2m2 10h2m-3 -18h2m-21 6h2m7 -3h2m25 9h2m-31 -25h2m4 20h2m35 -13h2m-30 2h2m-14 4h2m10 -10h2m-26 7h2m17 -9h2m-14 29h2m-13 -9h2m44 -13h2m-26 23h2m12 -3h2m-5 -10h2m-22 -12h2m9 10h2m-8 3h2m17 10h2m-10 -19h2m-13 -4h2m26 34h2m-18 -11h2m-2 -13h2m-20 -14h2m15 16h2m-28 8h2m25 -4h2m-22 0h2m14 -9h2m-9 13h2m5 -21h2m0 2h2m-8 0h2m-2 -2h2m-22 31h2m37 -21h2m-12 -14h2m-31 -3h2m46 16h2m-39 -20h2m15 17h2m-3 29h2m-6 -29h2m5 7h2m-30 -16h2m16 16h2m-5 -23h2m3 20h2m-7 -4h2m-7 27h2m-3 -27h2m20 -3h2m-26 -2h2m15 -8h2m-2 23h2m-8 9h2m5 -22h2m0 13h2m-17 -13h2m10 9h2m20 1h2m-44 -23h2m9 8h2m-9 20h2m37 -34h2m-50 23h2m18 -4h2m11 -7h2m-27 12h2m8 3h2m-10 3h2m-11 -38h2m16 51h2m6 -26h2m-15 19h2m6 -14h2m6 -6h2m5 6h2m-10 20h2m-20 -23h2m-4 18h2m18 -7h2m-7 -6h2m-21 -3h2m35 -11h2m-18 22h2m-9 4h2m-9 14h2m12 -33h2m-13 14h2m19 -8h2m-14 15h2m3 -16h2m-15 -7h2m-19 -12h2m26 29h2m-23 -7h2m11 12h2m-1 -21h2m10 -1h2m-34 14h2m39 -1h2m-31 8h2m19 -15h2m3 -9h2m-32 -1h2m0 22h2m21 -9h2m-12 3h2m-4 -14h2m-26 13h2m28 4h2m11 -25h2m-32 9h2m-4 30h2m13 -26h2m1 4h2m0 -4h2m-16 -13h2m24 22h2m-29 -12h2m22 32h2m-14 -47h2m-14 18h2m-10 -10h2m27 32h2m2 -22h2m-28 11h2m15 -23h2m-26 25h2m4 0h2m4 7h2m-4 -12h2m12 3h2m-28 -4h2m28 9h2m-2 -16h2m-18 11h2m-15 -13h2m13 4h2m-11 -5h2m9 0h2m-18 26h2m13 -37h2m-3 1h2m-1 26h2m2 -20h2m-2 6h2m7 0h2m-26 33h2m19 -35h2m-10 -1h2m-10 4h2m-10 8h2m32 3h2m-19 -24h2m-12 23h2m6 18h2m-3 -45h2m-9 29h2m-14 2h2m19 -7h2m-6 -4h2m-4 -26h2m16 42h2m-34 -18h2m3 1h2m76 -14h2m-31 14h2m16 25h2m4 -39h2m-1 10h2m-3 7h2m9 -2h2m-16 -7h2m4 11h2m-4 -23h2m-20 12h2m4 0h2m21 4h2m-21 0h2m-1 5h2m-12 -5h2m6 -1h2m-10 11h2m4 8h2m7 1h2m-13 -32h2m0 21h2m14 8h2m-9 -15h2m-2 11h2m2 -11h2m-14 9h2m-1 -28h2m-15 30h2m20 -15h2m-10 -3h2m0 6h2m-11 19h2m12 0h2m-2 -11h2m-6 10h2m-16 -19h2m4 -13h2m5 -9h2m-9 27h2m8 -2h2m3 3h2m-16 1h2m3 17h2m-6 -32h2m11 2h2m-3 40h2m12 -17h2m-23 -16h2m-9 -26h2m8 18h2m-7 7h2m2 4h2m6 4h2m-14 -6h2m6 21h2m-25 -35h2m23 13h2m-9 -6h2m-5 22h2m-4 -9h2m13 9h2m-17 -10h2m-2 9h2m2 -22h2m1 11h2m11 -6h2m-16 18h2m-2 3h2m-4 -9h2m-4 -8h2m-5 -7h2m18 34h2m-5 -8h2m-19 -60h2m4 45h2m-12 -14h2m15 7h2m-4 31h2m-7 -42h2m-9 1h2m9 9h2m-8 3h2m5 21h2m-19 -25h2m4 8h2m-4 4h2m6 17h2m10 -45h2m-14 11h2m6 11h2m-11 16h2m-5 -24h2m9 17h2m-6 -15h2m5 2h2m-5 25h2m-16 -23h2m5 9h2m-12 12h2m-4 -6h2m-3 -34h2m5 0h2m1 30h2m0 -24h2m14 9h2m-28 3h2m8 -9h2m-12 32h2m0 -6h2m7 -9h2m0 5h2m-15 -22h2m17 27h2m-18 -26h2m13 36h2m-10 -33h2m5 2h2m-4 25h2m-9 -7h2m4 -24h2m-17 23h2m-1 -9h2m5 0h2m12 9h2m-19 0h2m-1 6h2m16 -8h2m-15 -2h2m-2 -6h2m-10 23h2m7 -34h2m2 41h2m-4 -31h2m2 19h2m-10 -1h2m13 -13h2m-14 6h2m-14 -28h2m10 -14h2m-6 37h2m21 3h2m-17 4h2m18 -7h2m7 -27h2m-37 -4h2m29 42h2m-4 -24h2m-28 -4h2m-3 24h2m-2 -27h2m2 8h2m3 1h2m-10 24h2m2 -4h2m9 12h2m-2 -38h2m15 43h2m-37 -27h2m29 -11h2m-29 34h2m-4 -45h2m26 47h2m-15 -57h2m4 9h2m6 22h2m-8 -16h2m-2 28h2m-19 -8h2m-3 -21h2m6 12h2m-7 -26h2m-10 53h2m20 -51h2m0 16h2m3 35h2m-12 -23h2m-8 2h2m-8 6h2m0 3h2m15 -23h2m-6 -12h2m-28 30h2m18 -9h2m11 9h2m-4 20h2m-21 -23h2m16 -22h2m-1 8h2m-12 33h2m9 -37h2m-32 2h2m30 39h2m-5 -28h2m-20 12h2m14 15h2m-14 -5h2m9 -50h2m-21 29h2m12 11h2m-26 -33h2m35 3h2m-13 36h2m6 -3h2m-12 15h2m-1 -56h2m7 0h2m2 56h2m-28 -17h2m-5 -36h2m17 34h2m-13 -1h2m19 2h2m131 -16h2m-18 17h2m-31 8h2m-30 -51h2m-30 58h2m123 -26h2m-87 -15h2m-31 11h2m59 -17h2m2 7h2m-15 18h2m43 -27h2m-45 16h2m-38 -11h2m-48 33h2m2 -35h2m58 31h2m-39 -46h2m-21 28h2m108 2h2m-217 -58h2m6 16h2m21 -11h2m-24 -12h2m18 11h2m-8 17h2m-39 0h2m5 -28h2m-12 13h2m42 22h2m-50 -9h2m51 -1h2m-23 15h2m-11 -27h2m7 -11h2m-3 23h2m3 1h2m-7 -4h2m-19 17h2m40 -11h2m-22 -26h2m25 24h2m-63 -24h2m55 21h2m-24 -3h2m2 -21h2m16 8h2m-64 10h2m128 23h2m-39 -3h2m94 -55h2m64 -7h2m-183 49h2m144 1h2m-85 -41h2m-19 28h2m103 5h2m25 -17h2" stroke="#dc0a7a" stroke-width="2" fill="none" opacity="0.9"/>
<rect x="123.8" y="1784.5" width="286.5" height="232.9" fill="none" stroke="#262626" stroke-width="2.4"/>
<line x1="198.9" y1="1784.5" x2="198.9" y2="2017.4" stroke="#262626" stroke-width="2" stroke-linecap="butt"/>
<line x1="123.8" y1="1957.5" x2="410.3" y2="1957.5" stroke="#262626" stroke-width="2" stroke-linecap="butt"/>
<line x1="117.8" y1="2017.4" x2="123.8" y2="2017.4" stroke="#444" stroke-width="1.2" stroke-linecap="butt"/>
<line x1="120.8" y1="1999.9" x2="123.8" y2="1999.9" stroke="#444" stroke-width="1.2" stroke-linecap="butt"/>
<line x1="120.8" y1="1989.6" x2="123.8" y2="1989.6" stroke="#444" stroke-width="1.2" stroke-linecap="butt"/>
<line x1="120.8" y1="1982.3" x2="123.8" y2="1982.3" stroke="#444" stroke-width="1.2" stroke-linecap="butt"/>
<line x1="120.8" y1="1976.7" x2="123.8" y2="1976.7" stroke="#444" stroke-width="1.2" stroke-linecap="butt"/>
<line x1="120.8" y1="1972.1" x2="123.8" y2="1972.1" stroke="#444" stroke-width="1.2" stroke-linecap="butt"/>
<line x1="120.8" y1="1968.2" x2="123.8" y2="1968.2" stroke="#444" stroke-width="1.2" stroke-linecap="butt"/>
<line x1="120.8" y1="1964.8" x2="123.8" y2="1964.8" stroke="#444" stroke-width="1.2" stroke-linecap="butt"/>
<line x1="120.8" y1="1961.8" x2="123.8" y2="1961.8" stroke="#444" stroke-width="1.2" stroke-linecap="butt"/>
<line x1="117.8" y1="1959.2" x2="123.8" y2="1959.2" stroke="#444" stroke-width="1.2" stroke-linecap="butt"/>
<line x1="120.8" y1="1941.6" x2="123.8" y2="1941.6" stroke="#444" stroke-width="1.2" stroke-linecap="butt"/>
<line x1="120.8" y1="1931.4" x2="123.8" y2="1931.4" stroke="#444" stroke-width="1.2" stroke-linecap="butt"/>
<line x1="120.8" y1="1924.1" x2="123.8" y2="1924.1" stroke="#444" stroke-width="1.2" stroke-linecap="butt"/>
<line x1="120.8" y1="1918.5" x2="123.8" y2="1918.5" stroke="#444" stroke-width="1.2" stroke-linecap="butt"/>
<line x1="120.8" y1="1913.9" x2="123.8" y2="1913.9" stroke="#444" stroke-width="1.2" stroke-linecap="butt"/>
<line x1="120.8" y1="1910.0" x2="123.8" y2="1910.0" stroke="#444" stroke-width="1.2" stroke-linecap="butt"/>
<line x1="120.8" y1="1906.6" x2="123.8" y2="1906.6" stroke="#444" stroke-width="1.2" stroke-linecap="butt"/>
<line x1="120.8" y1="1903.6" x2="123.8" y2="1903.6" stroke="#444" stroke-width="1.2" stroke-linecap="butt"/>
<line x1="117.8" y1="1901.0" x2="123.8" y2="1901.0" stroke="#444" stroke-width="1.2" stroke-linecap="butt"/>
<line x1="120.8" y1="1883.4" x2="123.8" y2="1883.4" stroke="#444" stroke-width="1.2" stroke-linecap="butt"/>
<line x1="120.8" y1="1873.2" x2="123.8" y2="1873.2" stroke="#444" stroke-width="1.2" stroke-linecap="butt"/>
<line x1="120.8" y1="1865.9" x2="123.8" y2="1865.9" stroke="#444" stroke-width="1.2" stroke-linecap="butt"/>
<line x1="120.8" y1="1860.3" x2="123.8" y2="1860.3" stroke="#444" stroke-width="1.2" stroke-linecap="butt"/>
<line x1="120.8" y1="1855.6" x2="123.8" y2="1855.6" stroke="#444" stroke-width="1.2" stroke-linecap="butt"/>
<line x1="120.8" y1="1851.7" x2="123.8" y2="1851.7" stroke="#444" stroke-width="1.2" stroke-linecap="butt"/>
<line x1="120.8" y1="1848.4" x2="123.8" y2="1848.4" stroke="#444" stroke-width="1.2" stroke-linecap="butt"/>
<line x1="120.8" y1="1845.4" x2="123.8" y2="1845.4" stroke="#444" stroke-width="1.2" stroke-linecap="butt"/>
<line x1="117.8" y1="1842.7" x2="123.8" y2="1842.7" stroke="#444" stroke-width="1.2" stroke-linecap="butt"/>
<line x1="120.8" y1="1825.2" x2="123.8" y2="1825.2" stroke="#444" stroke-width="1.2" stroke-linecap="butt"/>
<line x1="120.8" y1="1814.9" x2="123.8" y2="1814.9" stroke="#444" stroke-width="1.2" stroke-linecap="butt"/>
<line x1="120.8" y1="1807.7" x2="123.8" y2="1807.7" stroke="#444" stroke-width="1.2" stroke-linecap="butt"/>
<line x1="120.8" y1="1802.0" x2="123.8" y2="1802.0" stroke="#444" stroke-width="1.2" stroke-linecap="butt"/>
<line x1="120.8" y1="1797.4" x2="123.8" y2="1797.4" stroke="#444" stroke-width="1.2" stroke-linecap="butt"/>
<line x1="120.8" y1="1793.5" x2="123.8" y2="1793.5" stroke="#444" stroke-width="1.2" stroke-linecap="butt"/>
<line x1="120.8" y1="1790.1" x2="123.8" y2="1790.1" stroke="#444" stroke-width="1.2" stroke-linecap="butt"/>
<line x1="120.8" y1="1787.2" x2="123.8" y2="1787.2" stroke="#444" stroke-width="1.2" stroke-linecap="butt"/>
<line x1="117.8" y1="1784.5" x2="123.8" y2="1784.5" stroke="#444" stroke-width="1.2" stroke-linecap="butt"/>
<line x1="123.8" y1="2017.4" x2="123.8" y2="2023.4" stroke="#444" stroke-width="1.2" stroke-linecap="butt"/>
<line x1="145.4" y1="2017.4" x2="145.4" y2="2020.4" stroke="#444" stroke-width="1.2" stroke-linecap="butt"/>
<line x1="158.0" y1="2017.4" x2="158.0" y2="2020.4" stroke="#444" stroke-width="1.2" stroke-linecap="butt"/>
<line x1="166.9" y1="2017.4" x2="166.9" y2="2020.4" stroke="#444" stroke-width="1.2" stroke-linecap="butt"/>
<line x1="173.9" y1="2017.4" x2="173.9" y2="2020.4" stroke="#444" stroke-width="1.2" stroke-linecap="butt"/>
<line x1="179.5" y1="2017.4" x2="179.5" y2="2020.4" stroke="#444" stroke-width="1.2" stroke-linecap="butt"/>
<line x1="184.3" y1="2017.4" x2="184.3" y2="2020.4" stroke="#444" stroke-width="1.2" stroke-linecap="butt"/>
<line x1="188.5" y1="2017.4" x2="188.5" y2="2020.4" stroke="#444" stroke-width="1.2" stroke-linecap="butt"/>
<line x1="192.1" y1="2017.4" x2="192.1" y2="2020.4" stroke="#444" stroke-width="1.2" stroke-linecap="butt"/>
<line x1="195.4" y1="2017.4" x2="195.4" y2="2023.4" stroke="#444" stroke-width="1.2" stroke-linecap="butt"/>
<line x1="217.0" y1="2017.4" x2="217.0" y2="2020.4" stroke="#444" stroke-width="1.2" stroke-linecap="butt"/>
<line x1="229.6" y1="2017.4" x2="229.6" y2="2020.4" stroke="#444" stroke-width="1.2" stroke-linecap="butt"/>
<line x1="238.5" y1="2017.4" x2="238.5" y2="2020.4" stroke="#444" stroke-width="1.2" stroke-linecap="butt"/>
<line x1="245.5" y1="2017.4" x2="245.5" y2="2020.4" stroke="#444" stroke-width="1.2" stroke-linecap="butt"/>
<line x1="251.2" y1="2017.4" x2="251.2" y2="2020.4" stroke="#444" stroke-width="1.2" stroke-linecap="butt"/>
<line x1="256.0" y1="2017.4" x2="256.0" y2="2020.4" stroke="#444" stroke-width="1.2" stroke-linecap="butt"/>
<line x1="260.1" y1="2017.4" x2="260.1" y2="2020.4" stroke="#444" stroke-width="1.2" stroke-linecap="butt"/>
<line x1="263.8" y1="2017.4" x2="263.8" y2="2020.4" stroke="#444" stroke-width="1.2" stroke-linecap="butt"/>
<line x1="267.1" y1="2017.4" x2="267.1" y2="2023.4" stroke="#444" stroke-width="1.2" stroke-linecap="butt"/>
<line x1="288.6" y1="2017.4" x2="288.6" y2="2020.4" stroke="#444" stroke-width="1.2" stroke-linecap="butt"/>
<line x1="301.2" y1="2017.4" x2="301.2" y2="2020.4" stroke="#444" stroke-width="1.2" stroke-linecap="butt"/>
<line x1="310.2" y1="2017.4" x2="310.2" y2="2020.4" stroke="#444" stroke-width="1.2" stroke-linecap="butt"/>
<line x1="317.1" y1="2017.4" x2="317.1" y2="2020.4" stroke="#444" stroke-width="1.2" stroke-linecap="butt"/>
<line x1="322.8" y1="2017.4" x2="322.8" y2="2020.4" stroke="#444" stroke-width="1.2" stroke-linecap="butt"/>
<line x1="327.6" y1="2017.4" x2="327.6" y2="2020.4" stroke="#444" stroke-width="1.2" stroke-linecap="butt"/>
<line x1="331.7" y1="2017.4" x2="331.7" y2="2020.4" stroke="#444" stroke-width="1.2" stroke-linecap="butt"/>
<line x1="335.4" y1="2017.4" x2="335.4" y2="2020.4" stroke="#444" stroke-width="1.2" stroke-linecap="butt"/>
<line x1="338.7" y1="2017.4" x2="338.7" y2="2023.4" stroke="#444" stroke-width="1.2" stroke-linecap="butt"/>
<line x1="360.2" y1="2017.4" x2="360.2" y2="2020.4" stroke="#444" stroke-width="1.2" stroke-linecap="butt"/>
<line x1="372.8" y1="2017.4" x2="372.8" y2="2020.4" stroke="#444" stroke-width="1.2" stroke-linecap="butt"/>
<line x1="381.8" y1="2017.4" x2="381.8" y2="2020.4" stroke="#444" stroke-width="1.2" stroke-linecap="butt"/>
<line x1="388.7" y1="2017.4" x2="388.7" y2="2020.4" stroke="#444" stroke-width="1.2" stroke-linecap="butt"/>
<line x1="394.4" y1="2017.4" x2="394.4" y2="2020.4" stroke="#444" stroke-width="1.2" stroke-linecap="butt"/>
<line x1="399.2" y1="2017.4" x2="399.2" y2="2020.4" stroke="#444" stroke-width="1.2" stroke-linecap="butt"/>
<line x1="403.4" y1="2017.4" x2="403.4" y2="2020.4" stroke="#444" stroke-width="1.2" stroke-linecap="butt"/>
<line x1="407.0" y1="2017.4" x2="407.0" y2="2020.4" stroke="#444" stroke-width="1.2" stroke-linecap="butt"/>
<line x1="410.3" y1="2017.4" x2="410.3" y2="2023.4" stroke="#444" stroke-width="1.2" stroke-linecap="butt"/>
<path d="M449 1992h2m-10 16h2m-1 -31h2m25 7h2m-10 -5h2m-20 2h2m11 4h2m-8 16h2m-12 -9h2m17 -3h2m-18 11h2m-2 -3h2m-8 -5h2m13 6h2m-8 -12h2m6 14h2m-16 -1h2m7 -9h2m-15 -8h2m19 27h2m-10 -14h2m1 -8h2m-19 16h2m19 -13h2m14 7h2m-17 -1h2m-10 -1h2m9 5h2m-6 4h2m-8 -2h2m-2 -5h2m-7 -6h2m10 -8h2m-26 4h2m7 2h2m6 12h2m17 -11h2m-33 -8h2m-6 18h2m4 -14h2m17 0h2m-17 6h2m17 7h2m-4 -16h2m-4 13h2m-12 -11h2m11 4h2m-16 19h2m9 -19h2m14 12h2m-27 1h2m-8 -13h2m-8 9h2m15 -9h2m-12 -1h2m-2 -5h2m-1 20h2m7 -13h2m-23 -2h2m25 13h2m-15 -8h2m15 -6h2m-20 -8h2m-11 18h2m13 0h2m-9 -17h2m-12 22h2m30 -18h2m-19 4h2m-1 2h2m-10 6h2m-7 -3h2m17 -15h2m-14 31h2m-10 -12h2m5 10h2m-11 0h2m11 -15h2m10 5h2m-26 4h2m25 1h2m-27 -10h2m8 -4h2m-14 6h2m5 -8h2m2 2h2m-8 -14h2m-5 21h2m-2 -11h2m-4 4h2m5 9h2m6 16h2m4 -17h2m-5 -16h2m19 15h2m-27 -7h2m-11 10h2m25 -11h2m-37 0h2m23 2h2m-25 -1h2m13 -12h2m5 18h2m-15 12h2m-12 -15h2m30 -1h2m-13 10h2m-10 -1h2m-12 11h2m6 -10h2m-3 -6h2m9 13h2m-1 2h2m-20 -20h2m-1 7h2m-1 -19h2m-3 8h2m4 7h2m7 -3h2m6 3h2m-28 1h2m15 6h2m-14 -3h2m28 -8h2m-28 -7h2m5 25h2m-19 2h2m-1 -19h2m10 11h2m-9 -21h2m7 -1h2m2 31h2m-21 -25h2m30 2h2m-26 24h2m14 -35h2m-10 24h2m-18 -7h2m3 4h2m0 -13h2m5 8h2m4 1h2m-3 -5h2m-11 -6h2m-11 15h2m6 -20h2m9 22h2m-14 0h2m-2 -18h2m12 13h2m-5 4h2m-7 1h2m-17 0h2m14 -22h2m-2 36h2m-17 -16h2m22 16h2m-14 -30h2m11 10h2m-6 -3h2m-25 -5h2m0 27h2m10 -21h2m-6 -10h2m19 10h2m-11 -8h2m-14 14h2m8 -6h2m-5 10h2m4 -12h2m-14 13h2m-9 6h2m14 -17h2m15 -2h2m-24 8h2m-17 7h2m28 -9h2m-13 0h2m-15 3h2m16 3h2m-23 -13h2m24 2h2m-14 5h2m-10 5h2m18 -5h2m-16 -6h2m-3 -2h2m-6 26h2m10 -9h2m-6 -20h2m-4 3h2m-17 27h2m24 -4h2m0 -14h2m10 -16h2m-21 15h2m-17 7h2m12 -15h2m-3 16h2m-16 3h2m18 -8h2m-22 13h2m-1 -20h2m38 -9h2m-10 12h2m-17 -3h2m-18 17h2m11 -11h2m-19 -7h2m13 13h2m-7 -6h2m-1 4h2m6 -7h2m-22 -13h2m4 12h2m11 3h2m-13 -7h2m8 19h2m-16 -35h2m-5 22h2m29 -26h2m-14 30h2m-21 -10h2m-2 2h2m6 -3h2m4 19h2m-11 -5h2m-10 -8h2m4 2h2m-8 -8h2m2 11h2m2 4h2m3 -5h2m15 9h2m-23 -33h2m10 21h2m-19 -6h2m23 1h2m-12 -9h2m0 11h2m-1 -3h2m-21 0h2m1 -17h2m-9 20h2m0 -6h2m15 12h2m-4 -10h2m26 -15h2m-39 31h2m17 -26h2m-15 15h2m0 3h2m-14 1h2m16 -10h2m8 4h2m-14 15h2m-3 7h2m-18 -13h2m26 -11h2m-4 16h2m-24 -14h2m3 0h2m-13 1h2m28 9h2m-15 -3h2m-8 7h2m4 3h2m-2 -8h2m-12 -28h2m9 45h2m19 -22h2m-27 9h2m1 2h2m-19 -13h2m12 7h2m-17 -16h2m25 2h2m-23 21h2m6 -26h2m5 23h2m-15 -2h2m-3 2h2m13 -3h2m-12 -27h2m2 11h2m-18 4h2m13 15h2m5 -20h2m-11 4h2m21 3h2m-27 17h2m-12 -27h2m24 20h2m-17 -27h2m11 24h2m-9 -8h2m13 -11h2m-7 12h2m-22 -6h2m6 12h2m8 2h2m2 -4h2m-4 1h2m-5 -7h2m-16 6h2m4 10h2m-19 -29h2m12 26h2m-10 -12h2m6 6h2m-9 2h2m7 6h2m9 -7h2m-5 1h2m-14 -1h2m-1 7h2m3 -8h2m-8 -14h2m1 12h2m11 -18h2m-18 26h2m5 -16h2m-20 22h2m5 -17h2m11 17h2m-22 -9h2m0 -10h2m15 -2h2m12 14h2m-18 8h2m-3 -10h2m-10 -19h2m15 5h2m-9 8h2m13 16h2m-19 -11h2m-17 0h2m2 9h2m-7 -14h2m25 0h2m-7 -16h2m9 22h2m-20 6h2m-16 -22h2m14 4h2m-8 17h2m-10 -6h2m7 -12h2m2 11h2m1 1h2m-2 -8h2m-15 10h2m5 6h2m-6 -4h2m-9 -25h2m4 27h2m18 -5h2m-15 -13h2m-3 9h2m-12 6h2m1 -11h2m-7 8h2m8 -1h2m-13 -15h2m2 30h2m7 -14h2m-7 14h2m-4 -16h2m19 9h2m-24 -17h2m20 8h2m-4 -11h2m-29 -6h2m23 13h2m-22 -4h2m39 13h2m-40 7h2m-8 -15h2m2 -15h2m-7 20h2m2 -3h2m34 0h2m-13 -6h2m19 -8h2m5 7h2m10 -19h2m-4 26h2m1 -3h2m-15 -5h2m8 -22h2m-18 41h2m8 -55h2m1 22h2m19 0h2m-31 18h2m-20 -24h2m30 19h2m-28 -4h2m6 -2h2m-5 13h2m-9 6h2m25 -11h2m-11 -7h2m-16 -23h2m6 42h2m-8 -20h2m10 -17h2m-14 22h2m-6 15h2m-1 -18h2m1 -11h2m6 38h2m-16 -18h2m8 -3h2m4 7h2m21 -35h2m-20 23h2m-48 -1h2m28 27h2m-1 -31h2m7 0h2m13 -10h2m-12 7h2m-39 7h2m30 5h2m-5 -5h2m2 24h2m9 -17h2m-31 2h2m24 8h2m-35 -8h2m19 -13h2m2 -11h2m20 21h2m-37 -13h2m-14 24h2m26 -24h2m-18 -16h2m25 25h2m-29 12h2m-5 -14h2m24 4h2m-16 0h2m9 17h2m-31 -16h2m35 -4h2m-29 -6h2m15 -11h2m-24 34h2m-9 -3h2m14 -24h2m3 18h2m15 -3h2m-17 -8h2m3 0h2m-3 12h2m27 -22h2m-49 8h2m23 5h2m-19 1h2m3 -2h2m-12 4h2m19 4h2m-31 -16h2m-3 11h2m12 -7h2m-14 23h2m20 -33h2m1 13h2m-22 11h2m16 -11h2m-19 -1h2m5 -2h2m-1 9h2m21 -16h2m-25 12h2m-13 0h2m-2 -15h2m23 19h2m-36 -8h2m12 8h2m-1 7h2m-26 -6h2m21 -17h2m16 17h2m-11 -22h2m-16 10h2m17 27h2m-4 -19h2m16 18h2m-35 -20h2m2 2h2m3 -12h2m-4 23h2m1 -13h2m-4 9h2m-9 -2h2m-13 1h2m10 -2h2m-12 -4h2m2 0h2m4 -7h2m11 -16h2m2 29h2m-25 18h2m15 -11h2m4 14h2m-13 -21h2m-21 -16h2m-8 0h2m33 19h2m0 -4h2m-10 -6h2m-18 10h2m28 -18h2m-5 16h2m-17 -9h2m-4 5h2m-23 11h2m31 -15h2m-31 17h2m26 0h2m-2 -23h2m-9 34h2m16 -40h2m-25 13h2m9 9h2m0 -33h2m-8 37h2m-10 1h2m17 -14h2m-11 4h2m-10 0h2m-1 -5h2m1 14h2m24 -16h2m-28 4h2m-6 4h2m-12 6h2m-4 2h2m-10 -28h2m24 -7h2m-5 22h2m-15 1h2m-7 -12h2m12 16h2m-5 3h2m-11 -3h2m17 15h2m-4 -30h2m-4 11h2m8 22h2m-19 -14h2m22 -20h2m-31 14h2m17 11h2m-1 10h2m-12 -16h2m5 6h2m-22 -25h2m-4 9h2m13 16h2m-8 -24h2m14 10h2m-9 -20h2m5 38h2m-6 -18h2m-3 7h2m-3 -23h2m-8 2h2m-3 35h2m28 -24h2m-48 -2h2m17 12h2m13 0h2m-9 -28h2m10 11h2m-13 12h2m-24 -1h2m10 4h2m-15 -9h2m26 2h2m4 5h2m-25 -10h2m10 -1h2m-13 3h2m-15 6h2m10 -2h2m-15 -3h2m10 2h2m7 2h2m4 5h2m5 0h2m-22 -18h2m5 25h2m1 -29h2m-1 24h2m-43 -14h2m23 14h2m17 6h2m-25 -33h2m14 28h2m5 -4h2m-34 -8h2m18 9h2m3 -10h2m-4 7h2m-21 -13h2m21 21h2m-13 -3h2m14 2h2m-7 -15h2m-13 27h2m6 2h2m-12 -23h2m-2 -4h2m-13 0h2m14 12h2m11 4h2m-10 -19h2m-4 -15h2m-9 28h2m-1 -6h2m13 3h2m-29 4h2m41 -19h2m-28 14h2m25 -5h2m-14 8h2m-21 9h2m12 -13h2m-8 -10h2m0 24h2m2 -6h2m-18 -11h2m-3 -17h2m1 10h2m-14 11h2m12 5h2m3 -12h2m-1 10h2m-3 -11h2m-9 2h2m12 10h2m-36 -8h2m18 4h2m-1 8h2m12 3h2m-5 -19h2m0 4h2m-11 -12h2m9 0h2m-26 18h2m11 -9h2m-28 -15h2m44 26h2m-4 -15h2m-28 6h2m-5 8h2m-17 0h2m5 -5h2m18 -22h2m-6 29h2m-18 -13h2m10 -9h2m-4 -9h2m12 39h2m1 -13h2m-13 0h2m2 5h2m-4 -7h2m-27 -16h2m25 24h2m-5 3h2m8 -5h2m-33 11h2m29 4h2m-18 -29h2m8 4h2m10 14h2m-34 -8h2m0 1h2m25 8h2m-27 -2h2m0 -13h2m17 6h2m-12 -9h2m10 5h2m-8 -10h2m-6 -9h2m10 16h2m13 -1h2m-30 16h2m17 8h2m-6 -17h2m-14 5h2m2 -12h2m-19 -4h2m2 7h2m9 0h2m-6 7h2m14 -2h2m-33 17h2m10 -21h2m-6 -16h2m4 20h2m13 -9h2m-30 10h2m23 10h2m-20 -19h2m1 6h2m14 6h2m-17 -16h2m9 13h2m-8 4h2m-6 3h2m-4 3h2m-18 -6h2m9 -2h2m9 -20h2m-1 -14h2m-22 19h2m28 26h2m-8 -14h2m-24 -26h2m1 20h2m17 9h2m-30 -25h2m11 27h2m6 -19h2m-3 24h2m-1 -11h2m-11 -15h2m2 18h2m28 -19h2m-43 28h2m9 -11h2m5 9h2m-11 -9h2m20 -14h2m-15 6h2m6 -7h2m-43 2h2m44 14h2m-2 10h2m-25 -3h2m22 -3h2m-14 -12h2m6 12h2m9 -15h2m-23 11h2m-15 7h2m10 -11h2m-17 -3h2m3 0h2m-1 12h2m-2 -10h2m21 -13h2m-6 11h2m-23 -7h2m23 28h2m-36 -16h2m10 -16h2m4 19h2m14 5h2m-7 -4h2m-6 -8h2m9 6h2m-9 1h2m6 8h2m-28 -7h2m-13 21h2m13 -27h2m13 19h2m-9 -17h2m6 -19h2m-4 6h2m-5 -7h2m2 1h2m-20 32h2m19 -20h2m-27 14h2m9 -17h2m-18 10h2m21 -12h2m-26 21h2m33 -12h2m-35 -2h2m17 3h2m-6 26h2m-11 -19h2m23 4h2m-22 -23h2m21 7h2m-32 10h2m1 -23h2m-17 35h2m29 -12h2m2 -3h2m-10 -2h2m-7 -1h2m-11 -3h2m37 21h2m-21 -8h2m-33 7h2m17 -17h2m-30 -7h2m48 25h2m3 -28h2m-8 6h2m-20 15h2m-9 4h2m-12 -26h2m22 11h2m-18 3h2m3 -2h2m-5 -7h2m2 16h2m12 -13h2m8 3h2m-21 -22h2m-3 24h2m-16 -20h2m-3 29h2m0 -3h2m21 -11h2m-10 8h2m7 -1h2m-9 -3h2m-11 6h2m-13 -5h2m9 -4h2m-15 -4h2m39 27h2m-22 -16h2m-10 -2h2m26 8h2m-30 -12h2m9 0h2m-11 11h2m5 4h2m-11 -4h2m8 -23h2m10 17h2m-35 -1h2m-13 5h2m41 -15h2m-17 -2h2m7 11h2m-16 -9h2m20 -2h2m1 11h2m-38 11h2m21 -9h2m-18 11h2m-14 -23h2m14 19h2m8 -8h2m-25 -10h2m-1 5h2m28 -4h2m-16 7h2m2 -6h2m-21 22h2m4 -18h2m8 -12h2m-2 14h2m-2 6h2m15 -8h2m-19 13h2m-23 -19h2m6 1h2m8 27h2m14 -18h2m-25 6h2m1 -1h2m2 1h2m-10 -6h2m-3 -2h2m5 14h2m17 -13h2m0 1h2m1 5h2m-7 3h2m-6 -8h2m6 1h2m0 4h2m-5 -13h2m-10 12h2m7 -3h2m4 -10h2m-16 15h2m-7 -8h2m8 8h2m-1 3h2m1 -13h2m-2 0h2m-5 6h2m0 -8h2m-3 12h2m-3 -3h2m-2 4h2m-3 -14h2m2 10h2m-3 1h2m-6 -11h2m4 13h2m-9 -11h2m0 8h2m0 -7h2m-10 10h2m4 4h2m2 -8h2m-2 0h2m-10 6h2m0 -8h2m-3 2h2m1 4h2m-1 -2h2m-8 6h2m5 -2h2m-3 4h2m-2 -10h2m-5 6h2m0 -10h2m-8 9h2m6 4h2m-2 3h2m-3 -18h2m-7 6h2m8 4h2m-3 -8h2m-13 7h2m7 0h2m-3 -5h2m-13 0h2m10 -2h2m-1 6h2m-2 5h2m-4 -5h2m-66 22h2m41 -10h2m6 -20h2m-59 -13h2m55 40h2m-41 -40h2m3 45h2m2 -34h2m34 34h2m-42 -49h2m30 2h2m13 44h2m-24 -37h2m-4 1h2m-2 15h2m-10 2h2m-41 -18h2m24 37h2m-4 -42h2m-15 2h2m36 45h2m-40 -28h2m-1 -20h2m-9 1h2m16 12h2m4 3h2m35 27h2m-63 -27h2m46 1h2m-40 3h2m42 -6h2m-35 4h2m16 26h2m-1 -1h2m8 -17h2m4 -25h2m-24 34h2m-4 -21h2m-15 28h2m2 -9h2m34 -8h2m-48 -14h2m22 16h2m-21 19h2m33 -12h2m-36 -18h2m-13 15h2m14 -20h2m7 0h2m-29 21h2m-10 10h2m15 -8h2m-19 -22h2m50 -5h2m-34 31h2m22 -29h2m12 26h2m-25 1h2m23 -40h2m-30 53h2m-34 0h2m30 -42h2m-11 8h2m-4 30h2m6 -35h2m27 8h2m-8 -16h2m-3 39h2m-45 -24h2m39 28h2m-1 3h2m-41 -23h2m51 -11h2m-43 -14h2m33 38h2m-29 10h2m-4 -49h2m13 40h2m5 -31h2m-39 12h2m30 -5h2m-44 11h2m5 -12h2m9 30h2m-28 -46h2m58 30h2m-27 3h2m-24 16h2m30 -20h2m-27 -8h2m-11 -13h2m12 6h2m-11 27h2m-2 -42h2m48 45h2m-64 -1h2m31 -20h2m-1 19h2m-3 -30h2m31 -4h2m-71 30h2m54 -2h2m-55 -20h2m-1 19h2m22 -30h2m8 -5h2m-2 42h2m-20 -19h2m48 15h2m-12 -12h2m-22 -3h2m25 24h2m-50 1h2m42 -25h2m-36 -7h2m-32 0h2m65 25h2m-53 -26h2m-11 8h2m5 -23h2m36 11h2m-3 32h2m9 4h2m-48 4h2m-4 -40h2m52 18h2m-54 -1h2m-12 16h2m49 -24h2m-47 26h2m31 -33h2m-27 6h2m26 -10h2m-22 -4h2m29 29h2m-44 5h2m-18 -17h2m22 18h2m-24 -11h2m10 12h2m-1 -20h2m-2 -7h2m-5 21h2m7 -25h2m24 28h2m-46 3h2m52 -31h2m-52 24h2m46 -9h2m-7 19h2m-18 -42h2m-6 6h2m-30 5h2m63 29h2m-24 -32h2m-32 5h2m-7 10h2m54 16h2m-25 -2h2m13 -37h2m-5 17h2m-56 28h2m59 -27h2m-17 -11h2m-15 -4h2m0 15h2m-3 12h2m24 17h2m-45 -4h2m-17 1h2m6 -39h2m37 -2h2m-25 10h2m-2 20h2m37 -13h2m-32 22h2m-35 -16h2m19 22h2m4 -18h2m38 -13h2m-65 3h2m42 19h2m2 -18h2m-49 -2h2m58 -14h2m-52 32h2m-17 -16h2m61 -18h2m1 18h2m-36 11h2m-22 7h2m-16 8h2m64 -40h2m-35 18h2m33 -14h2m-29 5h2m10 11h2m-26 5h2m-5 -35h2m12 4h2m-43 38h2m25 -23h2m16 -18h2m-33 26h2m-5 -5h2m10 -7h2m-6 33h2m32 -6h2m-49 -17h2m52 17h2m-54 5h2m4 -33h2m19 -7h2m-15 12h2m-4 12h2m-20 17h2m-1 -9h2m54 -3h2m9 -13h2m-5 12h2m-33 -18h2m-26 -17h2m17 8h2m11 15h2m-15 -4h2m13 27h2m-17 -7h2m21 0h2m5 -27h2m-11 24h2m-8 -26h2m20 27h2m-24 -31h2m-45 3h2m65 -6h2m-6 22h2m-57 4h2m-1 17h2m53 -31h2m-35 1h2m22 -4h2m-5 26h2m3 -24h2m-35 22h2m30 -6h2m-22 -9h2m-16 -4h2m2 25h2m34 6h2m-44 -32h2m69 28h2m10 -33h2m-28 -12h2m-7 10h2m25 -6h2m-17 45h2m9 -39h2m9 35h2m-27 -40h2m10 22h2m-11 -24h2m19 11h2m-23 -1h2m0 9h2m9 15h2m-21 14h2m21 -4h2m-25 -28h2m16 19h2m3 -2h2m-34 15h2m15 -32h2m0 17h2m11 -13h2m-16 30h2m8 -27h2m-22 14h2m7 -34h2m8 42h2m-24 -10h2m-2 -30h2m-5 33h2m3 -33h2m0 27h2m1 15h2m6 -25h2m-19 5h2m7 12h2m-5 -36h2m13 -1h2m-3 4h2m5 44h2m-3 -7h2m-20 -2h2m13 -13h2m-15 8h2m2 -11h2m6 19h2m-12 -2h2m15 -35h2m-33 13h2m32 10h2m-19 13h2m4 -34h2m-24 36h2m10 -3h2m-15 -33h2m30 26h2m-23 12h2m23 0h2m38 -19h2m-35 -22h2m34 -9h2m-26 44h2m-14 -45h2m-5 23h2m27 17h2m-10 -30h2m-2 -2h2m-15 9h2m16 0h2m3 -13h2m-14 26h2m-18 24h2m-5 -5h2m-37 -53h2m-46 -15h2m58 -7h2m-87 18h2m46 -19h2m15 14h2m10 -21h2m12 5h2m-34 11h2m-6 -7h2m17 -11h2m11 13h2m-77 9h2m63 3h2m-2 3h2m-34 -25h2m37 23h2m-4 -10h2m-76 8h2m82 -12h2m-50 1h2m-38 17h2m23 -9h2m60 -2h2m-66 7h2m119 4h2m80 -15h2m-27 1h2m16 6h2" stroke="#dc0a7a" stroke-width="2" fill="none" opacity="0.9"/>
<rect x="431.1" y="1785.6" width="287.9" height="232.8" fill="none" stroke="#262626" stroke-width="2.4"/>
<line x1="506.2" y1="1785.6" x2="506.2" y2="2018.4" stroke="#262626" stroke-width="2" stroke-linecap="butt"/>
<line x1="431.1" y1="1958.6" x2="719.0" y2="1958.6" stroke="#262626" stroke-width="2" stroke-linecap="butt"/>
<line x1="425.1" y1="2018.4" x2="431.1" y2="2018.4" stroke="#444" stroke-width="1.2" stroke-linecap="butt"/>
<line x1="428.1" y1="2000.9" x2="431.1" y2="2000.9" stroke="#444" stroke-width="1.2" stroke-linecap="butt"/>
<line x1="428.1" y1="1990.6" x2="431.1" y2="1990.6" stroke="#444" stroke-width="1.2" stroke-linecap="butt"/>
<line x1="428.1" y1="1983.4" x2="431.1" y2="1983.4" stroke="#444" stroke-width="1.2" stroke-linecap="butt"/>
<line x1="428.1" y1="1977.7" x2="431.1" y2="1977.7" stroke="#444" stroke-width="1.2" stroke-linecap="butt"/>
<line x1="428.1" y1="1973.1" x2="431.1" y2="1973.1" stroke="#444" stroke-width="1.2" stroke-linecap="butt"/>
<line x1="428.1" y1="1969.2" x2="431.1" y2="1969.2" stroke="#444" stroke-width="1.2" stroke-linecap="butt"/>
<line x1="428.1" y1="1965.8" x2="431.1" y2="1965.8" stroke="#444" stroke-width="1.2" stroke-linecap="butt"/>
<line x1="428.1" y1="1962.9" x2="431.1" y2="1962.9" stroke="#444" stroke-width="1.2" stroke-linecap="butt"/>
<line x1="425.1" y1="1960.2" x2="431.1" y2="1960.2" stroke="#444" stroke-width="1.2" stroke-linecap="butt"/>
<line x1="428.1" y1="1942.7" x2="431.1" y2="1942.7" stroke="#444" stroke-width="1.2" stroke-linecap="butt"/>
<line x1="428.1" y1="1932.4" x2="431.1" y2="1932.4" stroke="#444" stroke-width="1.2" stroke-linecap="butt"/>
<line x1="428.1" y1="1925.2" x2="431.1" y2="1925.2" stroke="#444" stroke-width="1.2" stroke-linecap="butt"/>
<line x1="428.1" y1="1919.5" x2="431.1" y2="1919.5" stroke="#444" stroke-width="1.2" stroke-linecap="butt"/>
<line x1="428.1" y1="1914.9" x2="431.1" y2="1914.9" stroke="#444" stroke-width="1.2" stroke-linecap="butt"/>
<line x1="428.1" y1="1911.0" x2="431.1" y2="1911.0" stroke="#444" stroke-width="1.2" stroke-linecap="butt"/>
<line x1="428.1" y1="1907.6" x2="431.1" y2="1907.6" stroke="#444" stroke-width="1.2" stroke-linecap="butt"/>
<line x1="428.1" y1="1904.7" x2="431.1" y2="1904.7" stroke="#444" stroke-width="1.2" stroke-linecap="butt"/>
<line x1="425.1" y1="1902.0" x2="431.1" y2="1902.0" stroke="#444" stroke-width="1.2" stroke-linecap="butt"/>
<line x1="428.1" y1="1884.5" x2="431.1" y2="1884.5" stroke="#444" stroke-width="1.2" stroke-linecap="butt"/>
<line x1="428.1" y1="1874.2" x2="431.1" y2="1874.2" stroke="#444" stroke-width="1.2" stroke-linecap="butt"/>
<line x1="428.1" y1="1867.0" x2="431.1" y2="1867.0" stroke="#444" stroke-width="1.2" stroke-linecap="butt"/>
<line x1="428.1" y1="1861.3" x2="431.1" y2="1861.3" stroke="#444" stroke-width="1.2" stroke-linecap="butt"/>
<line x1="428.1" y1="1856.7" x2="431.1" y2="1856.7" stroke="#444" stroke-width="1.2" stroke-linecap="butt"/>
<line x1="428.1" y1="1852.8" x2="431.1" y2="1852.8" stroke="#444" stroke-width="1.2" stroke-linecap="butt"/>
<line x1="428.1" y1="1849.4" x2="431.1" y2="1849.4" stroke="#444" stroke-width="1.2" stroke-linecap="butt"/>
<line x1="428.1" y1="1846.5" x2="431.1" y2="1846.5" stroke="#444" stroke-width="1.2" stroke-linecap="butt"/>
<line x1="425.1" y1="1843.8" x2="431.1" y2="1843.8" stroke="#444" stroke-width="1.2" stroke-linecap="butt"/>
<line x1="428.1" y1="1826.3" x2="431.1" y2="1826.3" stroke="#444" stroke-width="1.2" stroke-linecap="butt"/>
<line x1="428.1" y1="1816.0" x2="431.1" y2="1816.0" stroke="#444" stroke-width="1.2" stroke-linecap="butt"/>
<line x1="428.1" y1="1808.8" x2="431.1" y2="1808.8" stroke="#444" stroke-width="1.2" stroke-linecap="butt"/>
<line x1="428.1" y1="1803.1" x2="431.1" y2="1803.1" stroke="#444" stroke-width="1.2" stroke-linecap="butt"/>
<line x1="428.1" y1="1798.5" x2="431.1" y2="1798.5" stroke="#444" stroke-width="1.2" stroke-linecap="butt"/>
<line x1="428.1" y1="1794.6" x2="431.1" y2="1794.6" stroke="#444" stroke-width="1.2" stroke-linecap="butt"/>
<line x1="428.1" y1="1791.2" x2="431.1" y2="1791.2" stroke="#444" stroke-width="1.2" stroke-linecap="butt"/>
<line x1="428.1" y1="1788.3" x2="431.1" y2="1788.3" stroke="#444" stroke-width="1.2" stroke-linecap="butt"/>
<line x1="425.1" y1="1785.6" x2="431.1" y2="1785.6" stroke="#444" stroke-width="1.2" stroke-linecap="butt"/>
<line x1="431.1" y1="2018.4" x2="431.1" y2="2024.4" stroke="#444" stroke-width="1.2" stroke-linecap="butt"/>
<line x1="452.8" y1="2018.4" x2="452.8" y2="2021.4" stroke="#444" stroke-width="1.2" stroke-linecap="butt"/>
<line x1="465.4" y1="2018.4" x2="465.4" y2="2021.4" stroke="#444" stroke-width="1.2" stroke-linecap="butt"/>
<line x1="474.4" y1="2018.4" x2="474.4" y2="2021.4" stroke="#444" stroke-width="1.2" stroke-linecap="butt"/>
<line x1="481.4" y1="2018.4" x2="481.4" y2="2021.4" stroke="#444" stroke-width="1.2" stroke-linecap="butt"/>
<line x1="487.1" y1="2018.4" x2="487.1" y2="2021.4" stroke="#444" stroke-width="1.2" stroke-linecap="butt"/>
<line x1="491.9" y1="2018.4" x2="491.9" y2="2021.4" stroke="#444" stroke-width="1.2" stroke-linecap="butt"/>
<line x1="496.1" y1="2018.4" x2="496.1" y2="2021.4" stroke="#444" stroke-width="1.2" stroke-linecap="butt"/>
<line x1="499.8" y1="2018.4" x2="499.8" y2="2021.4" stroke="#444" stroke-width="1.2" stroke-linecap="butt"/>
<line x1="503.1" y1="2018.4" x2="503.1" y2="2024.4" stroke="#444" stroke-width="1.2" stroke-linecap="butt"/>
<line x1="524.7" y1="2018.4" x2="524.7" y2="2021.4" stroke="#444" stroke-width="1.2" stroke-linecap="butt"/>
<line x1="537.4" y1="2018.4" x2="537.4" y2="2021.4" stroke="#444" stroke-width="1.2" stroke-linecap="butt"/>
<line x1="546.4" y1="2018.4" x2="546.4" y2="2021.4" stroke="#444" stroke-width="1.2" stroke-linecap="butt"/>
<line x1="553.4" y1="2018.4" x2="553.4" y2="2021.4" stroke="#444" stroke-width="1.2" stroke-linecap="butt"/>
<line x1="559.1" y1="2018.4" x2="559.1" y2="2021.4" stroke="#444" stroke-width="1.2" stroke-linecap="butt"/>
<line x1="563.9" y1="2018.4" x2="563.9" y2="2021.4" stroke="#444" stroke-width="1.2" stroke-linecap="butt"/>
<line x1="568.1" y1="2018.4" x2="568.1" y2="2021.4" stroke="#444" stroke-width="1.2" stroke-linecap="butt"/>
<line x1="571.8" y1="2018.4" x2="571.8" y2="2021.4" stroke="#444" stroke-width="1.2" stroke-linecap="butt"/>
<line x1="575.0" y1="2018.4" x2="575.0" y2="2024.4" stroke="#444" stroke-width="1.2" stroke-linecap="butt"/>
<line x1="596.7" y1="2018.4" x2="596.7" y2="2021.4" stroke="#444" stroke-width="1.2" stroke-linecap="butt"/>
<line x1="609.4" y1="2018.4" x2="609.4" y2="2021.4" stroke="#444" stroke-width="1.2" stroke-linecap="butt"/>
<line x1="618.4" y1="2018.4" x2="618.4" y2="2021.4" stroke="#444" stroke-width="1.2" stroke-linecap="butt"/>
<line x1="625.4" y1="2018.4" x2="625.4" y2="2021.4" stroke="#444" stroke-width="1.2" stroke-linecap="butt"/>
<line x1="631.1" y1="2018.4" x2="631.1" y2="2021.4" stroke="#444" stroke-width="1.2" stroke-linecap="butt"/>
<line x1="635.9" y1="2018.4" x2="635.9" y2="2021.4" stroke="#444" stroke-width="1.2" stroke-linecap="butt"/>
<line x1="640.0" y1="2018.4" x2="640.0" y2="2021.4" stroke="#444" stroke-width="1.2" stroke-linecap="butt"/>
<line x1="643.7" y1="2018.4" x2="643.7" y2="2021.4" stroke="#444" stroke-width="1.2" stroke-linecap="butt"/>
<line x1="647.0" y1="2018.4" x2="647.0" y2="2024.4" stroke="#444" stroke-width="1.2" stroke-linecap="butt"/>
<line x1="668.7" y1="2018.4" x2="668.7" y2="2021.4" stroke="#444" stroke-width="1.2" stroke-linecap="butt"/>
<line x1="681.4" y1="2018.4" x2="681.4" y2="2021.4" stroke="#444" stroke-width="1.2" stroke-linecap="butt"/>
<line x1="690.4" y1="2018.4" x2="690.4" y2="2021.4" stroke="#444" stroke-width="1.2" stroke-linecap="butt"/>
<line x1="697.3" y1="2018.4" x2="697.3" y2="2021.4" stroke="#444" stroke-width="1.2" stroke-linecap="butt"/>
<line x1="703.0" y1="2018.4" x2="703.0" y2="2021.4" stroke="#444" stroke-width="1.2" stroke-linecap="butt"/>
<line x1="707.9" y1="2018.4" x2="707.9" y2="2021.4" stroke="#444" stroke-width="1.2" stroke-linecap="butt"/>
<line x1="712.0" y1="2018.4" x2="712.0" y2="2021.4" stroke="#444" stroke-width="1.2" stroke-linecap="butt"/>
<line x1="715.7" y1="2018.4" x2="715.7" y2="2021.4" stroke="#444" stroke-width="1.2" stroke-linecap="butt"/>
<line x1="719.0" y1="2018.4" x2="719.0" y2="2024.4" stroke="#444" stroke-width="1.2" stroke-linecap="butt"/>
<path d="M746 2005h2m9 9h2m39 -49h2m-18 -1h2m-37 39h2m22 -15h2m1 -4h2m-24 11h2m39 8h2m-47 -39h2m18 50h2m7 0h2m-8 -31h2m9 3h2m9 -11h2m14 18h2m-51 -22h2m25 19h2m1 21h2m-31 -23h2m-23 18h2m68 -36h2m-51 39h2m0 -42h2m39 5h2m-24 28h2m-10 -23h2m20 -10h2m-56 -2h2m47 39h2m-26 -43h2m-22 2h2m39 50h2m17 -9h2m-54 -23h2m28 -10h2m-26 38h2m30 -5h2m-3 -7h2m-38 -7h2m42 -1h2m-15 26h2m0 -26h2m8 -24h2m-30 -1h2m22 29h2m6 8h2m-58 -6h2m52 7h2m-35 -26h2m5 5h2m-26 -6h2m37 6h2m-31 -6h2m40 32h2m-45 -39h2m18 4h2m-13 28h2m13 -18h2m-32 -3h2m-3 36h2m39 -5h2m-2 -38h2m-15 -3h2m23 19h2m-53 4h2m44 -13h2m-51 14h2m55 5h2m-26 8h2m-3 -32h2m24 22h2m-15 -33h2m-2 1h2m-55 -1h2m21 4h2m-23 37h2m6 -23h2m-1 7h2m45 -3h2m-55 -13h2m10 -9h2m12 7h2m24 38h2m6 -29h2m-20 5h2m-38 -9h2m22 27h2m10 -3h2m-49 -18h2m43 7h2m-24 -6h2m13 10h2m4 1h2m-2 -1h2m-12 18h2m0 3h2m-28 -50h2m20 18h2m-29 -19h2m24 19h2m2 24h2m15 -7h2m-30 -6h2m-29 -27h2m35 40h2m-25 -11h2m36 -17h2m-27 27h2m-3 -42h2m36 9h2m-39 33h2m-5 -41h2m-2 4h2m8 21h2m-30 12h2m30 -7h2m25 -31h2m-27 13h2m11 25h2m12 -20h2m-9 -9h2m-9 -11h2m3 15h2m-2 37h2m-43 -49h2m15 28h2m-12 20h2m-8 -12h2m20 -23h2m-20 20h2m20 -29h2m-5 21h2m-36 -13h2m22 34h2m-6 -1h2m21 -5h2m-47 -22h2m4 24h2m23 10h2m-10 -34h2m17 8h2m-26 -20h2m-12 -3h2m51 34h2m-51 -37h2m-9 31h2m7 -28h2m2 31h2m-10 5h2m21 11h2m26 -31h2m-60 0h2m19 0h2m16 18h2m14 4h2m6 -38h2m-64 12h2m27 -15h2m22 10h2m-61 28h2m36 11h2m-31 3h2m40 -51h2m11 19h2m-31 26h2m-40 -21h2m2 -8h2m23 24h2m29 4h2m-46 -40h2m29 21h2m-21 -21h2m-12 2h2m30 20h2m-31 -16h2m3 31h2m26 -25h2m-21 -10h2m18 25h2m-21 -20h2m-27 -11h2m18 52h2m29 -46h2m-24 -3h2m26 20h2m-46 17h2m28 -40h2m-8 -2h2m-11 52h2m6 -25h2m13 23h2m-16 -2h2m-12 -9h2m-1 -39h2m6 34h2m-27 -32h2m23 -3h2m-6 46h2m11 -30h2m-24 25h2m-35 -12h2m35 14h2m21 -8h2m-18 18h2m-2 -27h2m-20 21h2m-4 -2h2m24 -13h2m-48 -5h2m54 -4h2m-1 12h2m4 -25h2m-61 14h2m-4 11h2m54 -19h2m-37 -5h2m-12 -6h2m7 39h2m17 4h2m-37 -2h2m21 -7h2m11 -6h2m2 -31h2m-53 46h2m55 -22h2m-29 11h2m-2 -31h2m7 35h2m-22 -34h2m42 46h2m-51 -14h2m22 -10h2m-29 7h2m30 -24h2m19 15h2m-3 -23h2m-56 11h2m33 0h2m17 -7h2m-52 14h2m14 -19h2m19 -3h2m0 18h2m-23 37h2m12 -15h2m0 -17h2m-25 -13h2m20 -4h2m-7 16h2m6 14h2m-15 9h2m-15 -20h2m5 22h2m33 -3h2m-54 3h2m-5 -29h2m-12 7h2m58 -17h2m8 24h2m-56 -31h2m0 24h2m-7 -17h2m27 18h2m-10 -17h2m22 -10h2m-46 24h2m46 0h2m-32 6h2m23 -23h2m-2 21h2m6 -11h2m-32 -12h2m6 18h2m-6 14h2m-28 -20h2m20 23h2m29 4h2m-4 -43h2m-65 11h2m44 4h2m-26 17h2m-16 -6h2m-2 5h2m45 -28h2m10 12h2m-34 -7h2m-11 33h2m7 -4h2m21 -21h2m-8 32h2m-51 -41h2m8 -7h2m45 20h2m-28 16h2m9 16h2m7 -25h2m-12 -20h2m5 25h2m-16 -32h2m-24 45h2m-6 -28h2m57 -12h2m-73 2h2m47 38h2m11 5h2m-48 -41h2m-16 46h2m24 -8h2m-7 -30h2m7 -15h2m-4 5h2m35 16h2m-61 -12h2m57 -2h2m-67 5h2m63 34h2m-46 -47h2m26 50h2m-54 -27h2m30 16h2m15 -12h2m-6 24h2m11 -43h2m-49 4h2m16 14h2m13 0h2m-44 -9h2m56 -2h2m-32 -12h2m-14 23h2m-4 19h2m29 2h2m-46 -26h2m13 32h2m2 -1h2m-5 -36h2m32 -11h2m-12 40h2m20 6h2m-17 -17h2m-31 18h2m0 -27h2m-16 2h2m6 -25h2m25 17h2m7 31h2m-34 -46h2m2 2h2m13 -4h2m22 12h2m3 -9h2m-34 1h2m7 4h2m-23 1h2m15 0h2m13 0h2m-15 9h2m-9 2h2m-14 -23h2m23 30h2m4 -18h2m-5 8h2m-6 -14h2m-24 8h2m41 -1h2m-28 -1h2m-3 5h2m10 -1h2m-42 -12h2m27 7h2m-3 6h2m5 -1h2m12 -7h2m-14 1h2m-35 0h2m19 -6h2m6 -1h2m-3 20h2m-22 -14h2m-7 3h2m29 -6h2m-5 15h2m-7 3h2m-26 -14h2m47 5h2m-68 -9h2m34 18h2m32 -6h2m-33 -12h2m3 14h2m-22 -6h2m34 0h2m-39 0h2m20 -7h2m-4 1h2m-19 8h2m25 -5h2m-34 -6h2m8 21h2m8 -16h2m-8 -2h2m11 -1h2m4 9h2m-19 2h2m-6 -5h2m-1 5h2m0 -17h2m14 8h2m-16 -1h2m7 4h2m-9 3h2m-13 -18h2m22 36h2m-29 -28h2m13 9h2m19 3h2m-38 0h2m12 -4h2m-23 -22h2m13 13h2m-16 13h2m14 -12h2m-5 -1h2m8 -9h2m18 25h2m-20 -5h2m3 -10h2m-12 5h2m-4 1h2m-11 -8h2m-15 6h2m24 4h2m20 2h2m-18 5h2m-16 -9h2m28 -3h2m-31 6h2m-5 -7h2m-10 -5h2m2 17h2m8 -11h2m29 4h2m-33 4h2m-13 -13h2m4 13h2m3 -2h2m-23 -4h2m24 4h2m6 -8h2m-8 -10h2m2 13h2m-28 -4h2m-8 12h2m40 -4h2m-5 -6h2m-39 4h2m23 10h2m-5 -2h2m6 -5h2m-7 0h2m-12 -5h2m8 1h2m-3 5h2m-5 -5h2m-27 3h2m-18 -10h2m29 -4h2m-14 0h2m25 9h2m4 12h2m-8 -1h2m-11 -15h2m4 -4h2m13 17h2m-28 -3h2m21 -12h2m-5 17h2m-8 -7h2m14 8h2m-32 -6h2m21 3h2m-28 -4h2m0 -9h2m-6 5h2m19 -3h2m-21 11h2m12 -13h2m-19 -4h2m29 16h2m9 3h2m-25 2h2m18 -2h2m-17 -18h2m20 5h2m-31 1h2m-25 4h2m41 -15h2m-25 15h2m-15 2h2m4 -9h2m-16 8h2m19 7h2m-15 -8h2m34 7h2m-14 0h2m-34 -4h2m0 0h2m11 -6h2m-21 12h2m23 -12h2m-1 -2h2m-12 10h2m1 -10h2m13 8h2m11 4h2m-1 -6h2m-23 0h2m10 6h2m-24 -2h2m14 -16h2m-21 2h2m21 18h2m-29 -6h2m1 -17h2m12 5h2m6 9h2m-30 -7h2m10 10h2m8 -2h2m-1 3h2m-17 -12h2m11 12h2m-7 10h2m22 -19h2m-14 14h2m-29 -2h2m-14 -2h2m30 -5h2m14 -8h2m-17 2h2m8 12h2m-21 1h2m-14 2h2m27 -2h2m-11 -1h2m7 -9h2m-31 -5h2m20 10h2m-14 2h2m18 -3h2m-21 -11h2m-3 7h2m-1 -7h2m24 11h2m-20 -8h2m-13 6h2m-5 3h2m-3 -1h2m33 9h2m-47 -18h2m11 -7h2m19 22h2m5 3h2m-20 0h2m11 -8h2m-2 2h2m1 -3h2m-15 -10h2m20 5h2m-22 8h2m17 -8h2m-39 18h2m26 -25h2m-32 8h2m-6 11h2m26 -12h2m-20 -4h2m16 -1h2m-24 4h2m36 16h2m-24 -8h2m-18 1h2m16 -7h2m8 9h2m-25 -5h2m16 -7h2m19 3h2m-18 5h2m-14 6h2m-10 -8h2m14 4h2m-32 10h2m-23 -19h2m31 -3h2m-7 15h2m37 -4h2m-24 -3h2m-18 2h2m24 11h2m4 -11h2m-8 19h2m6 0h2m-16 -28h2m1 30h2m4 -3h2m-6 14h2m6 -36h2m-7 -2h2m-6 27h2m4 -34h2m-7 14h2m-10 -4h2m1 1h2m1 -12h2m0 22h2m2 15h2m4 -6h2m-5 0h2m7 -11h2m-6 24h2m-12 -12h2m11 6h2m-5 -33h2m-14 24h2m3 -19h2m4 19h2m-8 -2h2m3 -17h2m-6 17h2m0 13h2m-9 -9h2m3 2h2m-7 -19h2m5 2h2m-18 -5h2m12 16h2m4 13h2m-7 -9h2m-6 -6h2m2 -15h2m-12 21h2m-1 -9h2m1 -22h2m-1 3h2m6 18h2m-15 -8h2m11 33h2m-20 -21h2m4 -13h2m3 7h2m6 27h2m-14 -33h2m-13 22h2m16 -4h2m-5 13h2m-9 -12h2m-2 -12h2m0 12h2m4 -6h2m2 12h2m-17 -14h2m24 27h2m-18 -27h2m-4 7h2m5 -14h2m-6 10h2m14 -2h2m-11 2h2m-12 10h2m-2 -19h2m-3 -4h2m-1 25h2m5 -18h2m-11 -4h2m14 23h2m-14 -5h2m-3 -44h2m6 29h2m-23 15h2m6 1h2m8 -17h2m-6 26h2m-2 -30h2m1 7h2m-9 5h2m1 -2h2m-10 11h2m-6 2h2m20 -13h2m-17 18h2m-1 -27h2m13 7h2m-4 25h2m-13 -21h2m-2 12h2m1 -19h2m-8 2h2m8 2h2m-5 4h2m-2 -7h2m3 5h2m-3 8h2m6 7h2m-4 -14h2m-25 7h2m17 3h2m-17 -26h2m-4 -6h2m13 41h2m-12 -4h2m1 -16h2m8 4h2m-14 -17h2m-4 -5h2m7 22h2m4 -24h2m-7 31h2m-17 -20h2m5 12h2m1 21h2m13 0h2m-9 -28h2m-3 17h2m1 -27h2m-13 6h2m4 12h2m-2 13h2m-13 -25h2m5 14h2m2 -5h2m-13 -18h2m11 15h2m-2 21h2m0 -21h2m-15 8h2m4 4h2m7 -20h2m-6 25h2m-13 4h2m5 1h2m6 -4h2m-12 -23h2m1 -1h2m13 -3h2m-20 -1h2m-2 1h2m-9 23h2m1 6h2m13 -27h2m-14 19h2m-9 -27h2m0 12h2m4 -9h2m4 -8h2m-13 22h2m8 0h2m-10 -6h2m4 -2h2m-1 -6h2m-2 11h2m-9 -6h2m0 11h2m3 -18h2m-15 18h2m8 4h2m1 9h2m1 -2h2m-9 -11h2m-3 -12h2m0 -15h2m-8 24h2m2 18h2m2 4h2m-3 -55h2m-11 23h2m3 6h2m-15 -9h2m19 16h2m-12 -2h2m4 -8h2m-12 7h2m5 -21h2m2 8h2m2 1h2m-19 24h2m14 -33h2m-9 18h2m-7 13h2m7 -11h2m-7 12h2m-2 -19h2m-5 14h2m4 6h2m-3 17h2m-3 -19h2m-8 9h2m1 -19h2m5 1h2m4 20h2m-11 -13h2m8 11h2m-12 -10h2m-10 19h2m10 3h2m-13 -42h2m8 35h2m2 -18h2m-11 0h2m-1 -7h2m16 11h2m-17 -24h2m-2 5h2m1 -1h2m-8 14h2m-2 8h2m2 -2h2m-22 -5h2m25 -12h2m-20 -16h2m-2 29h2m10 -4h2m-6 3h2m-11 14h2m8 -21h2m-11 0h2m1 -28h2m-8 38h2m3 -8h2m7 -9h2m-4 14h2m-1 -18h2m2 6h2m-8 33h2m-7 -16h2m1 2h2m11 -2h2m-13 -1h2m0 -6h2m-5 27h2m1 -31h2m-1 11h2m-5 -13h2m-3 -1h2m-7 -27h2m-2 6h2m7 45h2m0 0h2m-1 -25h2m12 -17h2m4 6h2m-14 16h2m20 -15h2m-3 -4h2m-17 14h2m-9 -17h2m22 29h2m5 9h2m-30 -13h2m26 4h2m-16 -18h2m-12 12h2m15 9h2m-2 17h2m-15 -23h2m5 26h2m-14 -33h2m10 12h2m-15 7h2m4 -35h2m12 41h2m-2 0h2m-6 -40h2m6 30h2m-6 -14h2m-8 -13h2m0 2h2m-20 -4h2m-5 44h2m5 -6h2m15 -5h2m6 -31h2m-28 31h2m23 -26h2m-7 14h2m-24 -28h2m11 50h2m-11 -32h2m14 20h2m-15 -32h2m-1 4h2m4 32h2m-11 -4h2m14 -5h2m-8 -12h2m-20 14h2m15 15h2m-7 -5h2m15 -2h2m-2 -19h2m-31 0h2m21 25h2m-7 -35h2m-5 15h2m-15 -18h2m24 13h2m-11 -12h2m-2 36h2m9 2h2m-30 -31h2m7 24h2m-14 1h2m6 4h2m22 -8h2m-22 -29h2m12 24h2m-1 -21h2m-12 12h2m7 -24h2m-22 -2h2m-6 50h2m2 -25h2m-6 2h2m-2 7h2m-3 -33h2m-2 34h2m0 5h2m12 -38h2m-10 43h2m21 -18h2m-14 1h2m8 -12h2m-9 -14h2m4 8h2m-1 0h2m-20 33h2m-7 -9h2m-7 18h2m27 -43h2m-26 34h2m22 -6h2m-10 -12h2m1 14h2m-28 -30h2m27 31h2m-29 -26h2m22 15h2m-28 7h2m28 -24h2m150 -20h2m-133 21h2m118 2h2m9 -18h2m-26 -6h2m-58 44h2m50 -45h2m-26 18h2m53 21h2m-47 12h2m-91 -34h2m64 -13h2m-75 56h2m67 -17h2m-65 6h2m55 -6h2m46 2h2m-121 -41h2m48 3h2m-46 51h2m37 -39h2m7 21h2m-58 6h2m45 -13h2m54 -30h2m-35 34h2m-55 -7h2m42 -12h2m-62 11h2m17 8h2m42 -35h2m-43 22h2m58 -12h2m-68 20h2m99 -21h2m7 16h2m-3 3h2m-12 -20h2m-27 5h2m39 22h2m-118 3h2m-13 20h2m43 -20h2m97 -4h2m-81 28h2m13 0h2m-49 -31h2m44 -2h2m30 30h2m-32 -38h2m-136 -59h2m-48 -11h2m-2 9h2m6 8h2m13 23h2m-11 14h2m-14 -58h2m-10 53h2m-4 -1h2m58 5h2m-10 -28h2m-2 -7h2m-13 -9h2m-7 4h2m-10 -2h2m15 0h2m-21 10h2m30 -21h2m-48 4h2m14 17h2m21 -23h2m-17 47h2m11 -7h2m-3 -28h2m-28 31h2m2 12h2m-29 -11h2m22 -29h2m38 18h2m-65 7h2m59 7h2m-6 -26h2m-8 -8h2m-46 8h2m47 -20h2m7 47h2m-49 -11h2m-15 -8h2m-1 1h2m6 24h2m58 -6h2m162 -2h2m-117 -3h2m36 -1h2m-13 -8h2m-25 16h2m9 3h2m34 3h2m-50 -17h2m-19 4h2m-43 -4h2m59 11h2m34 0h2m-90 -13h2m-3 1h2m154 16h2m-165 -7h2m13 -10h2m47 4h2m59 2h2" stroke="#dc0a7a" stroke-width="2" fill="none" opacity="0.9"/>
<rect x="738.1" y="1785.6" width="286.2" height="232.8" fill="none" stroke="#262626" stroke-width="2.4"/>
<line x1="812.2" y1="1785.6" x2="812.2" y2="2018.4" stroke="#262626" stroke-width="2" stroke-linecap="butt"/>
<line x1="738.1" y1="1958.6" x2="1024.3" y2="1958.6" stroke="#262626" stroke-width="2" stroke-linecap="butt"/>
<line x1="732.1" y1="2018.4" x2="738.1" y2="2018.4" stroke="#444" stroke-width="1.2" stroke-linecap="butt"/>
<line x1="735.1" y1="2000.9" x2="738.1" y2="2000.9" stroke="#444" stroke-width="1.2" stroke-linecap="butt"/>
<line x1="735.1" y1="1990.6" x2="738.1" y2="1990.6" stroke="#444" stroke-width="1.2" stroke-linecap="butt"/>
<line x1="735.1" y1="1983.4" x2="738.1" y2="1983.4" stroke="#444" stroke-width="1.2" stroke-linecap="butt"/>
<line x1="735.1" y1="1977.7" x2="738.1" y2="1977.7" stroke="#444" stroke-width="1.2" stroke-linecap="butt"/>
<line x1="735.1" y1="1973.1" x2="738.1" y2="1973.1" stroke="#444" stroke-width="1.2" stroke-linecap="butt"/>
<line x1="735.1" y1="1969.2" x2="738.1" y2="1969.2" stroke="#444" stroke-width="1.2" stroke-linecap="butt"/>
<line x1="735.1" y1="1965.8" x2="738.1" y2="1965.8" stroke="#444" stroke-width="1.2" stroke-linecap="butt"/>
<line x1="735.1" y1="1962.9" x2="738.1" y2="1962.9" stroke="#444" stroke-width="1.2" stroke-linecap="butt"/>
<line x1="732.1" y1="1960.2" x2="738.1" y2="1960.2" stroke="#444" stroke-width="1.2" stroke-linecap="butt"/>
<line x1="735.1" y1="1942.7" x2="738.1" y2="1942.7" stroke="#444" stroke-width="1.2" stroke-linecap="butt"/>
<line x1="735.1" y1="1932.4" x2="738.1" y2="1932.4" stroke="#444" stroke-width="1.2" stroke-linecap="butt"/>
<line x1="735.1" y1="1925.2" x2="738.1" y2="1925.2" stroke="#444" stroke-width="1.2" stroke-linecap="butt"/>
<line x1="735.1" y1="1919.5" x2="738.1" y2="1919.5" stroke="#444" stroke-width="1.2" stroke-linecap="butt"/>
<line x1="735.1" y1="1914.9" x2="738.1" y2="1914.9" stroke="#444" stroke-width="1.2" stroke-linecap="butt"/>
<line x1="735.1" y1="1911.0" x2="738.1" y2="1911.0" stroke="#444" stroke-width="1.2" stroke-linecap="butt"/>
<line x1="735.1" y1="1907.6" x2="738.1" y2="1907.6" stroke="#444" stroke-width="1.2" stroke-linecap="butt"/>
<line x1="735.1" y1="1904.7" x2="738.1" y2="1904.7" stroke="#444" stroke-width="1.2" stroke-linecap="butt"/>
<line x1="732.1" y1="1902.0" x2="738.1" y2="1902.0" stroke="#444" stroke-width="1.2" stroke-linecap="butt"/>
<line x1="735.1" y1="1884.5" x2="738.1" y2="1884.5" stroke="#444" stroke-width="1.2" stroke-linecap="butt"/>
<line x1="735.1" y1="1874.2" x2="738.1" y2="1874.2" stroke="#444" stroke-width="1.2" stroke-linecap="butt"/>
<line x1="735.1" y1="1867.0" x2="738.1" y2="1867.0" stroke="#444" stroke-width="1.2" stroke-linecap="butt"/>
<line x1="735.1" y1="1861.3" x2="738.1" y2="1861.3" stroke="#444" stroke-width="1.2" stroke-linecap="butt"/>
<line x1="735.1" y1="1856.7" x2="738.1" y2="1856.7" stroke="#444" stroke-width="1.2" stroke-linecap="butt"/>
<line x1="735.1" y1="1852.8" x2="738.1" y2="1852.8" stroke="#444" stroke-width="1.2" stroke-linecap="butt"/>
<line x1="735.1" y1="1849.4" x2="738.1" y2="1849.4" stroke="#444" stroke-width="1.2" stroke-linecap="butt"/>
<line x1="735.1" y1="1846.5" x2="738.1" y2="1846.5" stroke="#444" stroke-width="1.2" stroke-linecap="butt"/>
<line x1="732.1" y1="1843.8" x2="738.1" y2="1843.8" stroke="#444" stroke-width="1.2" stroke-linecap="butt"/>
<line x1="735.1" y1="1826.3" x2="738.1" y2="1826.3" stroke="#444" stroke-width="1.2" stroke-linecap="butt"/>
<line x1="735.1" y1="1816.0" x2="738.1" y2="1816.0" stroke="#444" stroke-width="1.2" stroke-linecap="butt"/>
<line x1="735.1" y1="1808.8" x2="738.1" y2="1808.8" stroke="#444" stroke-width="1.2" stroke-linecap="butt"/>
<line x1="735.1" y1="1803.1" x2="738.1" y2="1803.1" stroke="#444" stroke-width="1.2" stroke-linecap="butt"/>
<line x1="735.1" y1="1798.5" x2="738.1" y2="1798.5" stroke="#444" stroke-width="1.2" stroke-linecap="butt"/>
<line x1="735.1" y1="1794.6" x2="738.1" y2="1794.6" stroke="#444" stroke-width="1.2" stroke-linecap="butt"/>
<line x1="735.1" y1="1791.2" x2="738.1" y2="1791.2" stroke="#444" stroke-width="1.2" stroke-linecap="butt"/>
<line x1="735.1" y1="1788.3" x2="738.1" y2="1788.3" stroke="#444" stroke-width="1.2" stroke-linecap="butt"/>
<line x1="732.1" y1="1785.6" x2="738.1" y2="1785.6" stroke="#444" stroke-width="1.2" stroke-linecap="butt"/>
<line x1="738.1" y1="2018.4" x2="738.1" y2="2024.4" stroke="#444" stroke-width="1.2" stroke-linecap="butt"/>
<line x1="759.6" y1="2018.4" x2="759.6" y2="2021.4" stroke="#444" stroke-width="1.2" stroke-linecap="butt"/>
<line x1="772.2" y1="2018.4" x2="772.2" y2="2021.4" stroke="#444" stroke-width="1.2" stroke-linecap="butt"/>
<line x1="781.2" y1="2018.4" x2="781.2" y2="2021.4" stroke="#444" stroke-width="1.2" stroke-linecap="butt"/>
<line x1="788.1" y1="2018.4" x2="788.1" y2="2021.4" stroke="#444" stroke-width="1.2" stroke-linecap="butt"/>
<line x1="793.8" y1="2018.4" x2="793.8" y2="2021.4" stroke="#444" stroke-width="1.2" stroke-linecap="butt"/>
<line x1="798.6" y1="2018.4" x2="798.6" y2="2021.4" stroke="#444" stroke-width="1.2" stroke-linecap="butt"/>
<line x1="802.7" y1="2018.4" x2="802.7" y2="2021.4" stroke="#444" stroke-width="1.2" stroke-linecap="butt"/>
<line x1="806.4" y1="2018.4" x2="806.4" y2="2021.4" stroke="#444" stroke-width="1.2" stroke-linecap="butt"/>
<line x1="809.6" y1="2018.4" x2="809.6" y2="2024.4" stroke="#444" stroke-width="1.2" stroke-linecap="butt"/>
<line x1="831.2" y1="2018.4" x2="831.2" y2="2021.4" stroke="#444" stroke-width="1.2" stroke-linecap="butt"/>
<line x1="843.8" y1="2018.4" x2="843.8" y2="2021.4" stroke="#444" stroke-width="1.2" stroke-linecap="butt"/>
<line x1="852.7" y1="2018.4" x2="852.7" y2="2021.4" stroke="#444" stroke-width="1.2" stroke-linecap="butt"/>
<line x1="859.7" y1="2018.4" x2="859.7" y2="2021.4" stroke="#444" stroke-width="1.2" stroke-linecap="butt"/>
<line x1="865.3" y1="2018.4" x2="865.3" y2="2021.4" stroke="#444" stroke-width="1.2" stroke-linecap="butt"/>
<line x1="870.1" y1="2018.4" x2="870.1" y2="2021.4" stroke="#444" stroke-width="1.2" stroke-linecap="butt"/>
<line x1="874.3" y1="2018.4" x2="874.3" y2="2021.4" stroke="#444" stroke-width="1.2" stroke-linecap="butt"/>
<line x1="877.9" y1="2018.4" x2="877.9" y2="2021.4" stroke="#444" stroke-width="1.2" stroke-linecap="butt"/>
<line x1="881.2" y1="2018.4" x2="881.2" y2="2024.4" stroke="#444" stroke-width="1.2" stroke-linecap="butt"/>
<line x1="902.7" y1="2018.4" x2="902.7" y2="2021.4" stroke="#444" stroke-width="1.2" stroke-linecap="butt"/>
<line x1="915.3" y1="2018.4" x2="915.3" y2="2021.4" stroke="#444" stroke-width="1.2" stroke-linecap="butt"/>
<line x1="924.3" y1="2018.4" x2="924.3" y2="2021.4" stroke="#444" stroke-width="1.2" stroke-linecap="butt"/>
<line x1="931.2" y1="2018.4" x2="931.2" y2="2021.4" stroke="#444" stroke-width="1.2" stroke-linecap="butt"/>
<line x1="936.9" y1="2018.4" x2="936.9" y2="2021.4" stroke="#444" stroke-width="1.2" stroke-linecap="butt"/>
<line x1="941.7" y1="2018.4" x2="941.7" y2="2021.4" stroke="#444" stroke-width="1.2" stroke-linecap="butt"/>
<line x1="945.8" y1="2018.4" x2="945.8" y2="2021.4" stroke="#444" stroke-width="1.2" stroke-linecap="butt"/>
<line x1="949.5" y1="2018.4" x2="949.5" y2="2021.4" stroke="#444" stroke-width="1.2" stroke-linecap="butt"/>
<line x1="952.8" y1="2018.4" x2="952.8" y2="2024.4" stroke="#444" stroke-width="1.2" stroke-linecap="butt"/>
<line x1="974.3" y1="2018.4" x2="974.3" y2="2021.4" stroke="#444" stroke-width="1.2" stroke-linecap="butt"/>
<line x1="986.9" y1="2018.4" x2="986.9" y2="2021.4" stroke="#444" stroke-width="1.2" stroke-linecap="butt"/>
<line x1="995.8" y1="2018.4" x2="995.8" y2="2021.4" stroke="#444" stroke-width="1.2" stroke-linecap="butt"/>
<line x1="1002.8" y1="2018.4" x2="1002.8" y2="2021.4" stroke="#444" stroke-width="1.2" stroke-linecap="butt"/>
<line x1="1008.4" y1="2018.4" x2="1008.4" y2="2021.4" stroke="#444" stroke-width="1.2" stroke-linecap="butt"/>
<line x1="1013.2" y1="2018.4" x2="1013.2" y2="2021.4" stroke="#444" stroke-width="1.2" stroke-linecap="butt"/>
<line x1="1017.4" y1="2018.4" x2="1017.4" y2="2021.4" stroke="#444" stroke-width="1.2" stroke-linecap="butt"/>
<line x1="1021.0" y1="2018.4" x2="1021.0" y2="2021.4" stroke="#444" stroke-width="1.2" stroke-linecap="butt"/>
<line x1="1024.3" y1="2018.4" x2="1024.3" y2="2024.4" stroke="#444" stroke-width="1.2" stroke-linecap="butt"/>
<path d="M1099 1980h2m10 -48h2m44 40h2m-28 -8h2m-59 12h2m39 12h2m-18 2h2m18 14h2m-46 -1h2m44 -6h2m-2 -18h2m31 18h2m-33 -33h2m3 14h2m-52 25h2m91 -10h2m-106 -35h2m74 12h2m-38 25h2m-16 -5h2m4 7h2m-3 -45h2m25 8h2m-15 16h2m38 -12h2m-85 16h2m44 0h2m-24 6h2m39 -8h2m-74 11h2m42 4h2m12 -10h2m-44 -22h2m60 40h2m-23 -17h2m19 3h2m-3 -4h2m-50 -29h2m2 36h2m13 -20h2m22 -9h2m0 40h2m-41 -26h2m1 10h2m-7 10h2m3 11h2m7 -55h2m1 17h2m52 23h2m-66 -21h2m4 -42h2m16 55h2m-37 1h2m13 9h2m7 -9h2m17 -11h2m-54 11h2m65 -4h2m-45 -8h2m11 12h2m15 2h2m-6 -22h2m7 33h2m-24 -3h2m-6 -1h2m6 -57h2m-35 46h2m53 -4h2m-51 -14h2m-15 26h2m81 -34h2m-56 44h2m-28 -14h2m73 -14h2m-56 31h2m33 -15h2m-50 -2h2m13 -27h2m-38 30h2m-8 14h2m22 -5h2m20 -39h2m20 44h2m39 3h2m-89 -12h2m49 -20h2m-42 -18h2m9 9h2m-35 6h2m-2 13h2m16 5h2m-13 -21h2m28 -14h2m-20 19h2m47 -15h2m-29 43h2m-2 -41h2m22 27h2m-17 6h2m-16 -29h2m-3 32h2m-3 -19h2m28 -10h2m-9 -3h2m-13 17h2m9 16h2m-36 -48h2m25 40h2m-50 -12h2m67 -10h2m-34 11h2m1 1h2m8 -1h2m-17 14h2m-8 -27h2m34 46h2m-29 -17h2m-28 -24h2m32 -22h2m-56 31h2m82 -6h2m-47 18h2m3 0h2m53 19h2m-4 -33h2m-53 15h2m11 -19h2m9 1h2m13 30h2m-47 -27h2m4 1h2m26 -4h2m-26 11h2m10 4h2m-6 -11h2m-45 -17h2m5 24h2m12 -11h2m38 9h2m-63 1h2m57 -41h2m-8 64h2m-28 -14h2m-1 18h2m-24 -46h2m13 6h2m4 13h2m14 11h2m3 -23h2m-41 3h2m38 22h2m-42 -32h2m13 18h2m11 14h2m-12 -22h2m-4 17h2m8 -14h2m-23 -24h2m-4 17h2m9 5h2m27 -2h2m-29 6h2m49 5h2m-45 -1h2m-18 -12h2m51 3h2m-44 -2h2m-13 -4h2m-13 32h2m53 -53h2m-10 34h2m-10 -30h2m-8 17h2m23 22h2m-17 -18h2m-54 27h2m48 -37h2m-17 10h2m-9 -5h2m20 10h2m-20 -6h2m36 7h2m-15 16h2m-31 -15h2m-8 -2h2m13 -6h2m-40 -7h2m38 -12h2m-16 7h2m-5 17h2m-16 -31h2m4 41h2m43 -17h2m3 -9h2m-22 6h2m-16 20h2m-23 -5h2m38 -2h2m20 25h2m-82 9h2m67 -58h2m-85 35h2m43 -26h2m17 -10h2m-46 14h2m-6 25h2m41 -21h2m15 -2h2m-36 30h2m44 -14h2m-55 -9h2m61 30h2m-43 -21h2m1 -19h2m7 -6h2m-9 11h2m36 10h2m7 12h2m-43 -1h2m-20 -12h2m-27 -21h2m8 34h2m17 -13h2m-5 -19h2m0 -3h2m-1 24h2m10 1h2m-48 8h2m6 -33h2m52 51h2m-9 -61h2m-36 29h2m43 22h2m-51 -5h2m9 -32h2m-42 25h2m65 10h2m-23 -8h2m25 -27h2m-11 42h2m-18 -53h2m0 27h2m24 -18h2m-36 10h2m-2 2h2m4 13h2m16 -28h2m1 24h2m23 17h2m-51 -20h2m31 8h2m-50 -2h2m30 -19h2m-14 6h2m38 7h2m-30 7h2m-28 25h2m24 -7h2m-8 -34h2m-19 1h2m-1 -9h2m-18 -21h2m90 58h2m-67 -13h2m19 -40h2m-56 32h2m23 8h2m-1 0h2m21 -5h2m-47 -15h2m37 -7h2m22 6h2m-63 15h2m44 -6h2m-49 15h2m31 18h2m-2 -19h2m33 4h2m-63 -19h2m19 -16h2m20 56h2m-57 -23h2m27 8h2m-23 -26h2m2 -21h2m32 49h2m-1 -56h2m45 32h2m-32 -6h2m-5 12h2m-38 10h2m-5 0h2m9 -48h2m-63 50h2m97 -46h2m-61 41h2m-11 -18h2m13 -11h2m31 10h2m7 -13h2m-42 21h2m18 16h2m-15 -3h2m-25 -12h2m27 17h2m-6 -9h2m-41 27h2m64 -27h2m-69 -18h2m44 5h2m-35 -8h2m4 8h2m1 2h2m33 14h2m-51 1h2m25 -12h2m41 6h2m-58 -19h2m15 4h2m15 -32h2m-33 28h2m24 4h2m4 -14h2m-18 24h2m-27 -7h2m57 -20h2m-40 30h2m-7 -4h2m-18 -24h2m10 -14h2m7 36h2m5 -22h2m21 34h2m-63 -15h2m23 13h2m36 -13h2m-27 30h2m4 -14h2m27 13h2m-33 -22h2m1 -19h2m-15 -6h2m44 15h2m-20 13h2m-47 -15h2m-12 9h2m53 8h2m-12 -6h2m-23 -21h2m-8 37h2m-37 -6h2m62 3h2m-24 -29h2m-7 16h2m24 -1h2m-37 19h2m0 -41h2m-4 33h2m-19 10h2m92 -27h2m-67 -7h2m-6 35h2m29 -17h2m-25 8h2m-1 5h2m-26 -20h2m33 -32h2m-64 44h2m49 -20h2m20 21h2m-80 -19h2m17 35h2m30 -30h2m1 17h2m-18 5h2m23 -19h2m-6 6h2m-42 -5h2m29 -15h2m-31 39h2m-22 -39h2m-11 -11h2m84 18h2m-31 10h2m50 -1h2m-88 -7h2m26 -2h2m15 -27h2m-14 45h2m14 18h2m-11 -40h2m-21 -18h2m-44 42h2m32 -15h2m65 -63h2m-26 53h2m14 -11h2m-51 4h2m8 52h2m-19 -16h2m29 -19h2m-10 3h2m8 26h2m31 -44h2m-67 30h2m37 -23h2m-55 25h2m60 -10h2m-40 -16h2m7 29h2m3 -8h2m36 21h2m-44 -37h2m-13 9h2m-20 -13h2m35 31h2m-30 -33h2m6 13h2m10 21h2m16 -12h2m-37 -4h2m33 -1h2m25 1h2m-83 6h2m69 -16h2m18 -28h2m-71 55h2m28 -40h2m-51 48h2m41 -25h2m-3 14h2m-33 -12h2m0 8h2m8 -38h2m-9 26h2m0 -9h2m9 6h2m-25 -34h2m22 -3h2m14 48h2m-72 -11h2m60 -8h2m-25 6h2m-12 -10h2m-7 3h2m10 20h2m0 -16h2m26 16h2m-43 -24h2m56 -18h2m-49 19h2m36 9h2m8 -17h2m-60 13h2m56 -2h2m26 23h2m-67 -1h2m24 4h2m-20 -31h2m4 18h2m-9 16h2m-10 -18h2m29 -4h2m3 -12h2m-24 27h2m36 -11h2m-13 13h2m-11 -19h2m-38 37h2m64 -35h2m-17 -20h2m-88 24h2m24 5h2m14 13h2m33 -29h2m6 -1h2m-41 4h2m12 -2h2m9 -28h2m-51 47h2m45 9h2m-25 -34h2m11 -4h2m-8 14h2m-31 -11h2m3 27h2m24 -23h2m0 20h2m-12 -31h2m32 -3h2m-38 -2h2m-23 2h2m19 31h2m3 7h2m-1 -12h2m30 1h2m-18 -40h2m11 55h2m-12 -38h2m-22 42h2m-4 -21h2m10 9h2m-33 0h2m26 -32h2m-13 3h2m15 8h2m35 14h2m11 11h2m-35 -12h2m-29 16h2m20 -26h2m-17 -15h2m-23 23h2m12 -1h2m-7 -22h2m-11 40h2m48 -33h2m-50 4h2m-1 16h2m28 -22h2m-37 28h2m-14 -4h2m6 2h2m31 -8h2m-4 -8h2m-4 -4h2m-21 17h2m-14 18h2m44 -10h2m-61 -7h2m29 11h2m-30 5h2m21 -42h2m5 20h2m32 21h2m2 -28h2m-59 18h2m28 -14h2m11 23h2m-42 -25h2m15 15h2m-3 10h2m-17 -42h2m21 6h2m-4 0h2m-42 16h2m70 -22h2m-31 32h2m-68 19h2m38 -3h2m62 -38h2m-6 8h2m-34 0h2m-51 -9h2m34 41h2m30 -39h2m-18 -7h2m-20 24h2m-12 0h2m37 19h2m-28 1h2m11 -29h2m2 -31h2m27 45h2m-38 3h2m0 16h2m-54 -56h2m71 7h2m-8 45h2m-24 1h2m-59 -6h2m41 -21h2m14 21h2m48 -30h2m-39 -11h2m3 19h2m-1 3h2m10 11h2m-63 5h2m5 -47h2m-11 33h2m21 4h2m-4 -29h2m9 16h2m-30 6h2m26 6h2m-26 -22h2m73 5h2m-68 -9h2m75 24h2m-25 -11h2m-73 -4h2m52 20h2m-11 -13h2m-56 -17h2m52 38h2m-20 -3h2m9 -8h2m-32 -25h2m18 36h2m10 -28h2m-17 -21h2m-13 28h2m10 32h2m-23 -37h2m31 17h2m-74 13h2m99 -20h2m-38 -8h2m9 6h2m7 9h2m-54 -18h2m86 14h2m-87 3h2m37 -15h2m-5 18h2m23 -3h2m-36 -14h2m-37 2h2m42 5h2m-72 -4h2m55 -1h2m-9 -13h2m49 18h2m-49 10h2m-6 -1h2m-10 -24h2m-4 22h2m6 1h2m26 -24h2m-50 23h2m26 -11h2m-33 -4h2m30 10h2m6 -7h2m-37 -32h2m15 39h2m15 -22h2m14 17h2m3 12h2m-29 -14h2m-24 -4h2m-18 10h2m59 5h2m13 -21h2m-28 3h2m28 18h2m-52 18h2m-1 -26h2m47 14h2m-66 -26h2m38 12h2m-7 1h2m-8 -21h2m37 20h2m-67 -3h2m9 -38h2m-43 40h2m24 6h2m11 -1h2m1 1h2m3 -23h2m10 6h2m-26 9h2m-35 -11h2m52 6h2m5 27h2m-42 -33h2m7 8h2m62 35h2m-20 -31h2m-1 -14h2m-12 20h2m-15 -1h2m-19 -1h2m25 -28h2m-21 31h2m-8 1h2m9 27h2m-4 -22h2m22 -17h2m-48 12h2m85 5h2m-90 -13h2m12 2h2m33 23h2m-47 -14h2m7 0h2m14 -15h2m11 -5h2m-25 2h2m29 -6h2m-18 5h2m9 -3h2m5 11h2m-26 -4h2m20 3h2m-11 -18h2m7 9h2m-17 -2h2m-5 2h2m17 -3h2m-10 1h2m-6 17h2m-14 -14h2m23 -7h2m-19 7h2m0 19h2m-7 -11h2m5 -13h2m4 5h2m-9 2h2m-2 1h2m-7 -15h2m18 7h2m0 6h2m-21 -12h2m-8 12h2m9 2h2m-20 5h2m16 2h2m-2 -9h2m-3 3h2m12 3h2m1 3h2m-16 -7h2m-10 -7h2m12 11h2m-1 2h2m-25 -6h2m2 4h2m3 7h2m-16 -16h2m4 -1h2m25 -3h2m-31 11h2m19 5h2m-18 -12h2m15 18h2m-8 -18h2m3 6h2m-24 -3h2m14 12h2m-10 -15h2m11 17h2m-2 -14h2m-8 -9h2m-5 6h2m-1 3h2m1 14h2m-9 -16h2m-2 3h2m-4 16h2m-6 -14h2m19 -7h2m-25 0h2m23 -7h2m-8 15h2m-25 6h2m-4 -12h2m17 -5h2m-13 10h2m10 -2h2m6 -1h2m-8 5h2m-8 -4h2m-1 -3h2m14 11h2m-20 -22h2m19 5h2m1 7h2m-26 -8h2m5 22h2m11 -29h2m-25 22h2m9 -1h2m4 -1h2m-22 0h2m11 -7h2m-4 -2h2m-8 17h2m18 -12h2m-18 -10h2m21 1h2m-17 -2h2m-16 14h2m8 7h2m-13 -12h2m14 4h2m-4 -5h2m-20 11h2m6 0h2m7 0h2m-6 7h2m-13 -23h2m19 15h2m0 -18h2m-30 18h2m27 0h2m-36 0h2m16 0h2m-7 -7h2m-1 -4h2m6 11h2m-16 -10h2m9 10h2m15 -12h2m-14 9h2m8 0h2m-8 -9h2m-26 4h2m31 9h2m-11 -6h2m-4 3h2m-12 -8h2m-3 5h2m-8 -12h2m7 6h2m1 15h2m-5 -5h2m-2 -4h2m-19 1h2m9 -12h2m-2 14h2m9 -13h2m-10 4h2m-2 11h2m3 -11h2m-7 1h2m0 4h2m11 1h2m-14 9h2m-9 -23h2m12 10h2m0 8h2m-3 -9h2m-21 1h2m20 -3h2m-11 4h2m-1 7h2m-3 5h2m2 -7h2m-2 8h2m8 -10h2m-14 -13h2m-5 18h2m5 -21h2m-9 15h2m9 0h2m-11 -9h2m4 8h2m-14 -3h2m12 5h2m-5 -3h2m-17 7h2m3 -8h2m2 8h2m-15 -5h2m0 2h2m13 -1h2m-1 -5h2m6 13h2m-28 -5h2m7 -21h2m-18 8h2m35 22h2m-32 -15h2m8 23h2m19 -18h2m-7 1h2m-24 -7h2m28 1h2m-19 3h2m-16 6h2m10 -6h2m2 -1h2m-2 -7h2m-29 3h2m36 1h2m-35 2h2m11 -5h2m14 -2h2m-12 5h2m-6 -16h2m-8 7h2m10 5h2m6 10h2m-21 -9h2m7 -3h2m-9 13h2m-3 -6h2m-18 12h2m21 -12h2m4 -4h2m-12 2h2m10 16h2m-11 -1h2m8 -11h2m-12 7h2m-7 -18h2m-3 19h2m4 -6h2m-1 -4h2m-12 1h2m4 2h2m-13 -5h2m-2 0h2m17 -6h2m-5 21h2m3 -19h2m-9 5h2m-1 9h2m13 2h2m-27 1h2m9 -15h2m10 1h2m2 3h2m-16 -14h2m-8 21h2m-11 -19h2m6 11h2m1 8h2m-3 -1h2m3 -9h2m-2 10h2m-12 1h2m-6 -21h2m4 11h2m5 7h2m9 -2h2m-33 -5h2m24 1h2m-15 18h2m11 -20h2m6 11h2m-16 -17h2m-17 13h2m4 4h2m33 -22h2m-41 21h2m-18 24h2m71 -55h2m-65 58h2m-7 -33h2m71 17h2m-74 -4h2m-22 24h2m-16 -13h2m79 -24h2m-4 -30h2m-54 66h2m32 1h2m-1 -29h2m25 6h2m-99 -30h2m37 40h2m-40 -30h2m14 20h2m43 30h2m2 0h2m-35 -75h2m-24 22h2m99 30h2m-86 -19h2m82 15h2m-1 -42h2m-30 31h2m-55 37h2m-1 -67h2m-23 20h2m62 38h2m9 -33h2m-13 -32h2m-10 14h2m-18 48h2m10 -31h2m-41 -6h2m38 -15h2m-49 -16h2m69 4h2m-62 56h2m81 -32h2m-69 -18h2m48 72h2m-19 -59h2m-37 -10h2m60 22h2m-16 -30h2m14 5h2m-56 48h2m-34 18h2m-15 -1h2m57 -32h2m-57 -32h2m100 68h2m-111 -38h2m90 -2h2m-3 18h2m-40 -5h2m53 9h2m-116 -41h2m71 33h2m2 -26h2m-12 0h2m7 45h2m-36 -69h2m10 2h2m51 55h2m4 -57h2m-114 66h2m25 -7h2m21 -47h2m-13 13h2m-42 23h2m67 8h2m-50 -30h2m80 39h2m-7 -4h2m-60 -56h2m44 53h2m-20 14h2m-20 -24h2m27 23h2m-51 -11h2m5 -52h2m49 64h2m-37 -68h2m-23 9h2m34 64h2m-62 -15h2m15 -36h2m17 35h2m67 -29h2m-29 -14h2m-4 8h2m12 1h2m-36 44h2m46 -22h2m-91 7h2m88 24h2m-106 -63h2m24 52h2m80 -62h2m-101 31h2m-19 3h2m62 -32h2m-41 4h2m-18 38h2m-3 -12h2m24 -19h2m0 0h2m74 30h2m-98 8h2m76 -14h2m-57 15h2m-27 -41h2m-14 23h2m96 -26h2m-82 24h2m2 -9h2m28 19h2m59 -31h2m-69 -13h2m-29 -6h2m48 48h2m-8 13h2m8 -38h2m-51 -15h2m38 33h2m27 11h2m-44 22h2m-33 -9h2m73 -31h2m-36 -10h2m-2 12h2m-35 -25h2m71 6h2m-20 -16h2m13 4h2m14 22h2m-83 52h2m-9 -37h2m7 -40h2m-22 76h2m27 -43h2m7 -6h2m21 39h2m-74 -33h2m83 -7h2m-53 -26h2m19 71h2m30 -3h2m-31 -7h2m-46 -32h2m47 42h2m-47 -33h2m-19 1h2m101 36h2m-70 -22h2m19 -46h2m-27 52h2m30 -51h2m-35 4h2m57 32h2m-74 9h2m78 26h2m-68 -49h2m-26 8h2m-3 -16h2m56 44h2m-11 -4h2m27 13h2m-74 -25h2m86 -29h2m-21 -19h2m24 62h2m-67 -70h2m-24 1h2m57 37h2m18 32h2m-75 -57h2m-9 62h2m-13 -18h2m66 13h2m-53 -61h2m32 41h2m-18 -12h2m-44 12h2m33 -21h2m-4 -3h2m0 -15h2m65 48h2m-9 -52h2m-29 -2h2m29 9h2m-1 21h2m0 0h2m-24 3h2m-26 -16h2m-47 24h2m-2 22h2m51 -57h2m-75 44h2m6 -5h2m19 -9h2m37 -41h2m43 38h2m-61 12h2m-33 -20h2m12 1h2m-26 -12h2m10 29h2m61 9h2m-81 -10h2m6 -7h2m51 -10h2m-59 23h2m59 6h2m39 21h2m-4 5h2m-114 -9h2m80 -14h2m-7 22h2m-28 -74h2m-23 43h2m19 -44h2m-23 21h2m-34 -26h2m86 42h2m6 -29h2m13 46h2m-106 -61h2m61 62h2m24 -8h2m-53 8h2m65 1h2m-87 17h2m1 -6h2m59 -12h2m-83 1h2m9 -51h2m43 37h2m-3 4h2m13 -10h2m-61 -24h2m35 52h2m20 -1h2m-32 1h2m159 -18h2m-46 -8h2m-19 -32h2m36 40h2m22 -40h2m-63 -2h2m76 -34h2m-15 92h2m-18 -98h2m-12 87h2m-69 6h2m5 -69h2" stroke="#dc0a7a" stroke-width="2" fill="none" opacity="0.9"/>
<rect x="1048.5" y="1785.6" width="286.2" height="232.8" fill="none" stroke="#262626" stroke-width="2.4"/>
<line x1="1122.2" y1="1785.6" x2="1122.2" y2="2018.4" stroke="#262626" stroke-width="2" stroke-linecap="butt"/>
<line x1="1048.5" y1="1958.6" x2="1334.7" y2="1958.6" stroke="#262626" stroke-width="2" stroke-linecap="butt"/>
<line x1="1042.5" y1="2018.4" x2="1048.5" y2="2018.4" stroke="#444" stroke-width="1.2" stroke-linecap="butt"/>
<line x1="1045.5" y1="2000.9" x2="1048.5" y2="2000.9" stroke="#444" stroke-width="1.2" stroke-linecap="butt"/>
<line x1="1045.5" y1="1990.6" x2="1048.5" y2="1990.6" stroke="#444" stroke-width="1.2" stroke-linecap="butt"/>
<line x1="1045.5" y1="1983.4" x2="1048.5" y2="1983.4" stroke="#444" stroke-width="1.2" stroke-linecap="butt"/>
<line x1="1045.5" y1="1977.7" x2="1048.5" y2="1977.7" stroke="#444" stroke-width="1.2" stroke-linecap="butt"/>
<line x1="1045.5" y1="1973.1" x2="1048.5" y2="1973.1" stroke="#444" stroke-width="1.2" stroke-linecap="butt"/>
<line x1="1045.5" y1="1969.2" x2="1048.5" y2="1969.2" stroke="#444" stroke-width="1.2" stroke-linecap="butt"/>
<line x1="1045.5" y1="1965.8" x2="1048.5" y2="1965.8" stroke="#444" stroke-width="1.2" stroke-linecap="butt"/>
<line x1="1045.5" y1="1962.9" x2="1048.5" y2="1962.9" stroke="#444" stroke-width="1.2" stroke-linecap="butt"/>
<line x1="1042.5" y1="1960.2" x2="1048.5" y2="1960.2" stroke="#444" stroke-width="1.2" stroke-linecap="butt"/>
<line x1="1045.5" y1="1942.7" x2="1048.5" y2="1942.7" stroke="#444" stroke-width="1.2" stroke-linecap="butt"/>
<line x1="1045.5" y1="1932.4" x2="1048.5" y2="1932.4" stroke="#444" stroke-width="1.2" stroke-linecap="butt"/>
<line x1="1045.5" y1="1925.2" x2="1048.5" y2="1925.2" stroke="#444" stroke-width="1.2" stroke-linecap="butt"/>
<line x1="1045.5" y1="1919.5" x2="1048.5" y2="1919.5" stroke="#444" stroke-width="1.2" stroke-linecap="butt"/>
<line x1="1045.5" y1="1914.9" x2="1048.5" y2="1914.9" stroke="#444" stroke-width="1.2" stroke-linecap="butt"/>
<line x1="1045.5" y1="1911.0" x2="1048.5" y2="1911.0" stroke="#444" stroke-width="1.2" stroke-linecap="butt"/>
<line x1="1045.5" y1="1907.6" x2="1048.5" y2="1907.6" stroke="#444" stroke-width="1.2" stroke-linecap="butt"/>
<line x1="1045.5" y1="1904.7" x2="1048.5" y2="1904.7" stroke="#444" stroke-width="1.2" stroke-linecap="butt"/>
<line x1="1042.5" y1="1902.0" x2="1048.5" y2="1902.0" stroke="#444" stroke-width="1.2" stroke-linecap="butt"/>
<line x1="1045.5" y1="1884.5" x2="1048.5" y2="1884.5" stroke="#444" stroke-width="1.2" stroke-linecap="butt"/>
<line x1="1045.5" y1="1874.2" x2="1048.5" y2="1874.2" stroke="#444" stroke-width="1.2" stroke-linecap="butt"/>
<line x1="1045.5" y1="1867.0" x2="1048.5" y2="1867.0" stroke="#444" stroke-width="1.2" stroke-linecap="butt"/>
<line x1="1045.5" y1="1861.3" x2="1048.5" y2="1861.3" stroke="#444" stroke-width="1.2" stroke-linecap="butt"/>
<line x1="1045.5" y1="1856.7" x2="1048.5" y2="1856.7" stroke="#444" stroke-width="1.2" stroke-linecap="butt"/>
<line x1="1045.5" y1="1852.8" x2="1048.5" y2="1852.8" stroke="#444" stroke-width="1.2" stroke-linecap="butt"/>
<line x1="1045.5" y1="1849.4" x2="1048.5" y2="1849.4" stroke="#444" stroke-width="1.2" stroke-linecap="butt"/>
<line x1="1045.5" y1="1846.5" x2="1048.5" y2="1846.5" stroke="#444" stroke-width="1.2" stroke-linecap="butt"/>
<line x1="1042.5" y1="1843.8" x2="1048.5" y2="1843.8" stroke="#444" stroke-width="1.2" stroke-linecap="butt"/>
<line x1="1045.5" y1="1826.3" x2="1048.5" y2="1826.3" stroke="#444" stroke-width="1.2" stroke-linecap="butt"/>
<line x1="1045.5" y1="1816.0" x2="1048.5" y2="1816.0" stroke="#444" stroke-width="1.2" stroke-linecap="butt"/>
<line x1="1045.5" y1="1808.8" x2="1048.5" y2="1808.8" stroke="#444" stroke-width="1.2" stroke-linecap="butt"/>
<line x1="1045.5" y1="1803.1" x2="1048.5" y2="1803.1" stroke="#444" stroke-width="1.2" stroke-linecap="butt"/>
<line x1="1045.5" y1="1798.5" x2="1048.5" y2="1798.5" stroke="#444" stroke-width="1.2" stroke-linecap="butt"/>
<line x1="1045.5" y1="1794.6" x2="1048.5" y2="1794.6" stroke="#444" stroke-width="1.2" stroke-linecap="butt"/>
<line x1="1045.5" y1="1791.2" x2="1048.5" y2="1791.2" stroke="#444" stroke-width="1.2" stroke-linecap="butt"/>
<line x1="1045.5" y1="1788.3" x2="1048.5" y2="1788.3" stroke="#444" stroke-width="1.2" stroke-linecap="butt"/>
<line x1="1042.5" y1="1785.6" x2="1048.5" y2="1785.6" stroke="#444" stroke-width="1.2" stroke-linecap="butt"/>
<line x1="1048.5" y1="2018.4" x2="1048.5" y2="2024.4" stroke="#444" stroke-width="1.2" stroke-linecap="butt"/>
<line x1="1070.0" y1="2018.4" x2="1070.0" y2="2021.4" stroke="#444" stroke-width="1.2" stroke-linecap="butt"/>
<line x1="1082.6" y1="2018.4" x2="1082.6" y2="2021.4" stroke="#444" stroke-width="1.2" stroke-linecap="butt"/>
<line x1="1091.6" y1="2018.4" x2="1091.6" y2="2021.4" stroke="#444" stroke-width="1.2" stroke-linecap="butt"/>
<line x1="1098.5" y1="2018.4" x2="1098.5" y2="2021.4" stroke="#444" stroke-width="1.2" stroke-linecap="butt"/>
<line x1="1104.2" y1="2018.4" x2="1104.2" y2="2021.4" stroke="#444" stroke-width="1.2" stroke-linecap="butt"/>
<line x1="1109.0" y1="2018.4" x2="1109.0" y2="2021.4" stroke="#444" stroke-width="1.2" stroke-linecap="butt"/>
<line x1="1113.1" y1="2018.4" x2="1113.1" y2="2021.4" stroke="#444" stroke-width="1.2" stroke-linecap="butt"/>
<line x1="1116.8" y1="2018.4" x2="1116.8" y2="2021.4" stroke="#444" stroke-width="1.2" stroke-linecap="butt"/>
<line x1="1120.0" y1="2018.4" x2="1120.0" y2="2024.4" stroke="#444" stroke-width="1.2" stroke-linecap="butt"/>
<line x1="1141.6" y1="2018.4" x2="1141.6" y2="2021.4" stroke="#444" stroke-width="1.2" stroke-linecap="butt"/>
<line x1="1154.2" y1="2018.4" x2="1154.2" y2="2021.4" stroke="#444" stroke-width="1.2" stroke-linecap="butt"/>
<line x1="1163.1" y1="2018.4" x2="1163.1" y2="2021.4" stroke="#444" stroke-width="1.2" stroke-linecap="butt"/>
<line x1="1170.1" y1="2018.4" x2="1170.1" y2="2021.4" stroke="#444" stroke-width="1.2" stroke-linecap="butt"/>
<line x1="1175.7" y1="2018.4" x2="1175.7" y2="2021.4" stroke="#444" stroke-width="1.2" stroke-linecap="butt"/>
<line x1="1180.5" y1="2018.4" x2="1180.5" y2="2021.4" stroke="#444" stroke-width="1.2" stroke-linecap="butt"/>
<line x1="1184.7" y1="2018.4" x2="1184.7" y2="2021.4" stroke="#444" stroke-width="1.2" stroke-linecap="butt"/>
<line x1="1188.3" y1="2018.4" x2="1188.3" y2="2021.4" stroke="#444" stroke-width="1.2" stroke-linecap="butt"/>
<line x1="1191.6" y1="2018.4" x2="1191.6" y2="2024.4" stroke="#444" stroke-width="1.2" stroke-linecap="butt"/>
<line x1="1213.1" y1="2018.4" x2="1213.1" y2="2021.4" stroke="#444" stroke-width="1.2" stroke-linecap="butt"/>
<line x1="1225.7" y1="2018.4" x2="1225.7" y2="2021.4" stroke="#444" stroke-width="1.2" stroke-linecap="butt"/>
<line x1="1234.7" y1="2018.4" x2="1234.7" y2="2021.4" stroke="#444" stroke-width="1.2" stroke-linecap="butt"/>
<line x1="1241.6" y1="2018.4" x2="1241.6" y2="2021.4" stroke="#444" stroke-width="1.2" stroke-linecap="butt"/>
<line x1="1247.3" y1="2018.4" x2="1247.3" y2="2021.4" stroke="#444" stroke-width="1.2" stroke-linecap="butt"/>
<line x1="1252.1" y1="2018.4" x2="1252.1" y2="2021.4" stroke="#444" stroke-width="1.2" stroke-linecap="butt"/>
<line x1="1256.2" y1="2018.4" x2="1256.2" y2="2021.4" stroke="#444" stroke-width="1.2" stroke-linecap="butt"/>
<line x1="1259.9" y1="2018.4" x2="1259.9" y2="2021.4" stroke="#444" stroke-width="1.2" stroke-linecap="butt"/>
<line x1="1263.2" y1="2018.4" x2="1263.2" y2="2024.4" stroke="#444" stroke-width="1.2" stroke-linecap="butt"/>
<line x1="1284.7" y1="2018.4" x2="1284.7" y2="2021.4" stroke="#444" stroke-width="1.2" stroke-linecap="butt"/>
<line x1="1297.3" y1="2018.4" x2="1297.3" y2="2021.4" stroke="#444" stroke-width="1.2" stroke-linecap="butt"/>
<line x1="1306.2" y1="2018.4" x2="1306.2" y2="2021.4" stroke="#444" stroke-width="1.2" stroke-linecap="butt"/>
<line x1="1313.2" y1="2018.4" x2="1313.2" y2="2021.4" stroke="#444" stroke-width="1.2" stroke-linecap="butt"/>
<line x1="1318.8" y1="2018.4" x2="1318.8" y2="2021.4" stroke="#444" stroke-width="1.2" stroke-linecap="butt"/>
<line x1="1323.6" y1="2018.4" x2="1323.6" y2="2021.4" stroke="#444" stroke-width="1.2" stroke-linecap="butt"/>
<line x1="1327.8" y1="2018.4" x2="1327.8" y2="2021.4" stroke="#444" stroke-width="1.2" stroke-linecap="butt"/>
<line x1="1331.4" y1="2018.4" x2="1331.4" y2="2021.4" stroke="#444" stroke-width="1.2" stroke-linecap="butt"/>
<line x1="1334.7" y1="2018.4" x2="1334.7" y2="2024.4" stroke="#444" stroke-width="1.2" stroke-linecap="butt"/>
<path d="M154 2281h2m-12 20h2m19 -13h2m11 31h2m13 -18h2m-23 -6h2m-15 -11h2m-7 5h2m29 17h2m16 -21h2m-30 20h2m-32 -40h2m4 32h2m49 9h2m-30 -7h2m-41 -5h2m31 14h2m-23 -26h2m8 -2h2m1 16h2m-6 15h2m23 -11h2m-14 -9h2m-13 7h2m18 2h2m7 -23h2m-52 -22h2m26 25h2m-17 -7h2m15 13h2m-25 -9h2m24 5h2m-3 18h2m-7 -5h2m-17 -1h2m11 23h2m-16 -29h2m-7 1h2m29 23h2m-28 -33h2m43 -8h2m-11 42h2m-56 -14h2m43 4h2m-29 0h2m21 4h2m-2 -19h2m-43 5h2m33 -14h2m-2 17h2m22 2h2m-45 -10h2m37 16h2m-24 -26h2m-12 28h2m44 2h2m-20 2h2m36 -27h2m-38 28h2m2 -7h2m-2 -11h2m-31 -3h2m9 8h2m26 10h2m-37 -1h2m10 20h2m-6 -37h2m10 14h2m-21 -15h2m2 17h2m6 -9h2m-5 -10h2m-21 -10h2m33 7h2m-46 15h2m0 17h2m-4 -10h2m43 -28h2m-28 10h2m-14 8h2m-6 -3h2m29 3h2m-31 9h2m-6 -8h2m35 -12h2m-38 -18h2m16 22h2m4 -19h2m-11 22h2m6 6h2m26 -23h2m-39 16h2m-17 -3h2m-14 32h2m31 -21h2m-5 -33h2m10 33h2m-16 -1h2m-3 -8h2m-6 -3h2m2 14h2m11 1h2m-13 -4h2m8 -20h2m34 11h2m-30 -19h2m-44 1h2m65 13h2m-30 -7h2m-28 9h2m35 40h2m-20 -27h2m-14 -20h2m-3 -18h2m-9 19h2m19 -9h2m18 -10h2m-30 40h2m13 -16h2m28 12h2m-35 -2h2m-13 -2h2m-17 3h2m-2 -8h2m19 -8h2m7 8h2m-22 19h2m10 -20h2m11 -15h2m-10 2h2m9 3h2m-10 14h2m-1 7h2m25 0h2m-27 10h2m-11 -19h2m9 14h2m-34 -7h2m9 6h2m21 -36h2m-5 44h2m16 -39h2m-33 5h2m-31 27h2m66 -16h2m-19 30h2m-45 -22h2m47 -17h2m-29 17h2m-39 -8h2m26 27h2m-4 2h2m40 -13h2m-50 -16h2m9 7h2m-3 13h2m-4 -25h2m-12 0h2m20 23h2m16 -2h2m-12 -13h2m-33 -1h2m-6 -23h2m23 43h2m-18 -18h2m-1 -18h2m-23 4h2m71 3h2m-23 37h2m-39 -14h2m35 -29h2m7 45h2m-40 -41h2m1 -22h2m19 50h2m-17 -21h2m-5 6h2m2 -5h2m36 25h2m4 3h2m-55 -10h2m-11 -13h2m71 6h2m-76 5h2m7 -31h2m10 39h2m7 -21h2m9 8h2m-15 -2h2m-27 11h2m25 2h2m-7 16h2m31 -36h2m-40 -8h2m-29 15h2m4 -11h2m48 21h2m-42 -23h2m-33 13h2m28 11h2m10 1h2m22 -11h2m-46 17h2m31 -2h2m1 -41h2m-32 28h2m8 -2h2m37 -7h2m-3 -5h2m-19 10h2m-12 5h2m14 -2h2m-28 16h2m-1 -6h2m-17 -22h2m15 -2h2m-4 22h2m55 -21h2m-61 12h2m27 4h2m-1 8h2m-32 -7h2m25 13h2m-23 -11h2m13 -19h2m-42 11h2m42 -14h2m-28 -24h2m-19 50h2m13 -8h2m-6 -3h2m23 -12h2m-7 5h2m-17 11h2m-9 -6h2m10 16h2m26 -15h2m-22 -13h2m4 20h2m-18 -17h2m-25 12h2m10 -29h2m25 21h2m-13 12h2m-22 -17h2m-16 9h2m32 9h2m-11 -8h2m-2 24h2m-2 -28h2m11 1h2m-2 0h2m11 -25h2m-2 6h2m6 29h2m-13 -12h2m-25 24h2m4 -21h2m9 -1h2m-18 17h2m15 -11h2m10 19h2m-41 -37h2m-21 21h2m57 3h2m-26 -2h2m12 9h2m-43 -2h2m60 -14h2m-22 -8h2m-20 21h2m-6 -13h2m7 13h2m-7 6h2m-5 -16h2m-18 -16h2m45 9h2m-28 15h2m0 -14h2m-1 20h2m7 -15h2m-20 -11h2m-1 8h2m5 17h2m-22 -21h2m34 1h2m-33 -7h2m-6 22h2m-1 -32h2m18 12h2m10 22h2m-29 7h2m-20 -23h2m49 16h2m-44 -41h2m43 39h2m-27 -7h2m-15 -21h2m-1 -8h2m20 18h2m7 10h2m-24 2h2m21 -4h2m21 10h2m-48 -1h2m-21 -30h2m0 14h2m-9 -1h2m13 21h2m-3 -21h2m-15 21h2m36 -13h2m-39 -2h2m64 1h2m-21 -2h2m-13 4h2m-3 32h2m24 -41h2m-26 -5h2m-11 9h2m-29 12h2m22 -23h2m-16 25h2m-1 -1h2m-2 -13h2m11 -1h2m-8 -7h2m22 7h2m-46 -8h2m22 29h2m38 5h2m-38 -26h2m21 3h2m-3 -26h2m1 19h2m-13 12h2m-45 -1h2m21 -2h2m-5 10h2m-25 -10h2m20 -7h2m-18 28h2m-10 -49h2m35 10h2m-7 6h2m-15 0h2m-7 0h2m6 7h2m1 -7h2m-2 10h2m5 9h2m-10 -8h2m15 1h2m0 -15h2m-5 -3h2m-22 12h2m-1 17h2m19 -8h2m-15 10h2m1 -1h2m6 3h2m-2 -6h2m19 18h2m-16 -21h2m-12 -3h2m-6 -7h2m-31 4h2m45 -25h2m-32 20h2m20 3h2m-8 14h2m-1 -23h2m11 11h2m-30 24h2m0 -33h2m-11 19h2m7 -19h2m39 6h2m-42 8h2m29 5h2m-9 -19h2m-4 -7h2m-1 35h2m-38 -18h2m25 8h2m23 2h2m-48 -2h2m11 -14h2m-15 1h2m18 -19h2m-30 24h2m52 -9h2m-42 6h2m-25 26h2m65 -16h2m-19 -9h2m-11 -20h2m-1 29h2m-20 11h2m1 -32h2m16 17h2m2 -13h2m-1 5h2m-17 -3h2m-15 -17h2m3 15h2m24 -15h2m5 41h2m-38 -4h2m-5 -14h2m33 3h2m-13 -3h2m-2 2h2m-42 0h2m17 -6h2m-5 1h2m12 -16h2m-40 4h2m57 6h2m-21 11h2m1 -8h2m-35 31h2m21 -28h2m26 -3h2m-60 11h2m35 8h2m6 12h2m-30 -12h2m28 -22h2m-25 6h2m30 17h2m-16 -11h2m-9 7h2m34 -12h2m-25 23h2m7 -2h2m-52 -4h2m9 -14h2m28 -24h2m-1 4h2m-21 23h2m15 4h2m-39 -49h2m23 34h2m-29 22h2m28 -3h2m-19 -19h2m-5 15h2m12 -8h2m33 -4h2m-58 19h2m6 0h2m31 -23h2m-31 -6h2m41 -4h2m-33 -2h2m-4 38h2m3 7h2m26 -23h2m-24 12h2m-5 -24h2m-7 9h2m-38 13h2m11 -8h2m46 -5h2m-16 -22h2m-8 3h2m1 14h2m-26 -2h2m16 7h2m-27 -8h2m24 6h2m-24 3h2m8 7h2m11 -7h2m-18 -8h2m18 4h2m-6 16h2m-4 -15h2m17 -11h2m-57 0h2m-5 17h2m42 4h2m5 9h2m19 -21h2m-27 23h2m0 -23h2m-37 1h2m31 -4h2m-4 15h2m-36 7h2m1 -15h2m14 -6h2m6 -15h2m-7 17h2m2 2h2m-11 -6h2m7 -4h2m2 7h2m-31 11h2m26 7h2m-15 -13h2m-16 5h2m21 -7h2m24 1h2m-61 -17h2m-6 30h2m-2 -4h2m71 12h2m-47 -28h2m2 10h2m-17 -14h2m-5 16h2m-24 -5h2m42 10h2m0 -11h2m-47 11h2m17 -15h2m4 14h2m12 -12h2m4 -2h2m16 7h2m2 4h2m-8 -24h2m4 -1h2m-52 23h2m10 -3h2m32 -27h2m-19 4h2m-8 13h2m-42 15h2m1 -2h2m50 11h2m-10 2h2m-15 16h2m-4 -51h2m-29 19h2m40 15h2m12 -32h2m10 -2h2m-34 22h2m-7 12h2m-20 2h2m44 -41h2m8 8h2m-48 15h2m16 -6h2m-6 12h2m-15 -3h2m2 -2h2m17 3h2m-43 -2h2m10 14h2m41 -9h2m-18 -16h2m-11 -9h2m-8 35h2m-10 -8h2m9 11h2m-6 -15h2m-1 5h2m2 -7h2m2 6h2m26 -13h2m-62 29h2m32 -35h2m-19 35h2m-13 -26h2m33 5h2m-34 4h2m3 14h2m22 -18h2m-33 -15h2m20 16h2m-4 6h2m16 -43h2m2 47h2m-40 2h2m34 -39h2m-22 22h2m2 13h2m-8 -27h2m17 10h2m-41 1h2m27 12h2m16 8h2m-31 -16h2m44 2h2m-57 11h2m17 -5h2m-16 -9h2m-5 20h2m-12 -38h2m10 22h2m8 -8h2m-17 -1h2m31 9h2m11 -2h2m-63 34h2m45 -25h2m-14 -4h2m-1 17h2m42 -8h2m-27 -40h2m-20 27h2m-5 9h2m10 -6h2m-32 -11h2m17 12h2m-4 -28h2m15 -4h2m20 19h2m-23 11h2m3 15h2m-32 -22h2m12 -7h2m4 23h2m-46 -12h2m68 24h2m-57 -26h2m-14 -25h2m57 15h2m7 -2h2m-58 -6h2m0 9h2m72 1h2m-62 5h2m-44 -3h2m26 13h2m50 0h2m-29 -3h2m0 0h2m7 -29h2m-12 3h2m-23 11h2m-27 16h2m39 -24h2m-33 15h2m19 9h2m34 24h2m-26 -24h2m-12 -11h2m-2 22h2m12 -12h2m1 -7h2m-46 20h2m28 -28h2m28 15h2m-21 -2h2m-32 12h2m-1 -29h2m-29 -2h2m23 13h2m46 1h2m-35 5h2m-18 -6h2m3 11h2m8 4h2m-2 -7h2m-7 -18h2m-10 31h2m26 -37h2m16 18h2m-44 15h2m-2 -21h2m33 27h2m-55 8h2m15 -4h2m2 -16h2m9 8h2m-10 -21h2m-15 12h2m22 1h2m-32 -5h2m-13 1h2m-8 -5h2m54 -24h2m-52 32h2m42 -1h2m2 24h2m1 -18h2m-21 -9h2m-10 11h2m11 -3h2m-16 -9h2m-16 -5h2m49 -16h2m-45 23h2m52 21h2m-28 -49h2m-21 13h2m16 23h2m14 -7h2m-55 3h2m7 -32h2m-4 18h2m22 15h2m3 1h2m-9 -4h2m-18 -16h2m2 19h2m33 -24h2m-4 4h2m-21 -3h2m-31 36h2m37 -26h2m-9 7h2m-3 -32h2m28 46h2m-21 -9h2m-37 -29h2m-2 0h2m45 46h2m-26 -36h2m12 39h2m-22 -33h2m-19 -28h2m23 50h2m24 -8h2m-26 2h2m-31 -16h2m14 4h2m-6 16h2m12 -25h2m15 -16h2m17 40h2m-37 -21h2m-15 27h2m8 -25h2m-3 1h2m-11 2h2m7 -29h2m-2 49h2m-26 -25h2m33 6h2m-20 23h2m44 -10h2m6 -28h2m-8 -10h2m3 -9h2m-7 10h2m6 26h2m-15 -9h2m4 14h2m-13 -2h2m17 -12h2m-36 -20h2m22 8h2m-1 4h2m-2 -28h2m-5 32h2m11 -22h2m6 15h2m-29 -6h2m-15 17h2m6 33h2m1 -61h2m5 19h2m-2 33h2m10 -48h2m-17 11h2m2 2h2m-1 7h2m-12 -31h2m4 31h2m28 5h2m-30 31h2m-11 -42h2m-14 -8h2m30 11h2m-15 -44h2m-5 47h2m28 20h2m-12 -26h2m-33 0h2m11 -3h2m12 6h2m-4 -22h2m-21 45h2m27 -32h2m-2 0h2m-31 34h2m-9 -26h2m2 -8h2m19 34h2m2 -24h2m-11 12h2m-10 -24h2m3 -19h2m4 31h2m-19 20h2m-7 -30h2m14 13h2m11 6h2m-12 -7h2m-2 -3h2m-11 11h2m14 -9h2m-28 -12h2m14 25h2m-7 -4h2m2 -6h2m-10 5h2m15 -54h2m-10 47h2m-7 -4h2m9 -32h2m-8 65h2m-7 -28h2m-2 -12h2m11 1h2m-19 10h2m5 -5h2m-2 -25h2m4 19h2m-7 14h2m21 3h2m-41 4h2m22 -31h2m-9 7h2m10 16h2m-30 -16h2m27 13h2m-28 -17h2m19 23h2m-4 -8h2m-7 8h2m-10 -8h2m-3 -14h2m8 -7h2m-11 21h2m-14 -11h2m0 -14h2m24 15h2m-2 22h2m-5 7h2m-7 -8h2m1 10h2m0 -28h2m-5 4h2m-12 -13h2m-2 3h2m-6 38h2m11 -19h2m-13 4h2m6 31h2m13 -11h2m-19 -45h2m11 30h2m4 -28h2m-35 28h2m1 -46h2m18 15h2m-14 1h2m10 47h2m0 -61h2m-14 46h2m11 0h2m7 -16h2m-10 12h2m-20 28h2m5 -37h2m-5 -9h2m19 26h2m-20 -9h2m-7 -31h2m5 22h2m3 1h2m-11 -23h2m3 3h2m-3 5h2m5 -9h2m1 28h2m-9 -4h2m-10 -41h2m7 30h2m-15 9h2m18 -25h2m-9 18h2m-3 9h2m-29 -32h2m46 22h2m-11 -33h2m-4 50h2m-14 -24h2m4 -12h2m20 -6h2m-38 3h2m13 48h2m-4 -35h2m-6 4h2m0 3h2m-15 -18h2m14 37h2m-22 -53h2m30 55h2m-12 -27h2m-19 13h2m-14 4h2m20 9h2m2 -34h2m-17 30h2m24 -11h2m-16 -1h2m-9 -2h2m-11 22h2m11 -10h2m-3 13h2m6 -6h2m2 -47h2m-12 30h2m2 18h2m8 -31h2m-10 -12h2m-11 -10h2m7 69h2m-13 -47h2m7 18h2m-6 -21h2m-13 25h2m15 20h2m-7 -51h2m4 23h2m-22 -12h2m22 -18h2m-2 16h2m-17 15h2m1 20h2m-1 1h2m-2 -21h2m6 -27h2m-17 38h2m-7 -11h2m7 0h2m20 -19h2m-25 16h2m-8 35h2m-2 -8h2m9 -3h2m8 -10h2m-21 -18h2m7 7h2m-1 2h2m0 4h2m-5 -12h2m7 -8h2m-6 32h2m-15 -24h2m29 20h2m-40 -17h2m-2 14h2m22 -3h2m-11 4h2m-6 -1h2m2 -26h2m3 -7h2m-13 21h2m-4 28h2m-6 -41h2m0 -1h2m-2 52h2m18 -62h2m-11 16h2m1 2h2m-13 -4h2m14 0h2m-28 29h2m18 -15h2m0 0h2m-15 -30h2m-6 40h2m13 -10h2m-14 0h2m-4 11h2m7 -9h2m-13 -5h2m8 7h2m19 -18h2m-26 -4h2m11 -7h2m-21 38h2m9 -27h2m-5 14h2m-1 15h2m7 12h2m12 -36h2m-25 9h2m12 -1h2m-11 -23h2m2 13h2m-14 54h2m-5 -47h2m3 30h2m-8 -16h2m6 16h2m-12 -7h2m8 -18h2m0 -24h2m14 43h2m-3 -11h2m-14 -4h2m-12 6h2m9 -27h2m0 15h2m-12 -2h2m-8 -24h2m-12 5h2m16 17h2m17 -34h2m-23 48h2m4 1h2m-2 -14h2m-1 6h2m1 -35h2m-30 33h2m17 9h2m3 -4h2m-7 7h2m11 -16h2m-17 33h2m10 -25h2m7 6h2m-22 5h2m1 -31h2m-6 -5h2m9 31h2m-31 -33h2m5 10h2m9 26h2m10 -34h2m-5 2h2m-16 -4h2m22 3h2m-16 47h2m-10 -21h2m10 7h2m5 -48h2m-15 -7h2m-17 20h2m8 36h2m4 2h2m7 -51h2m-22 3h2m11 39h2m-16 -6h2m10 3h2m-16 4h2m7 -28h2m-13 19h2m4 -7h2m-8 25h2m-6 -25h2m30 -26h2m-3 51h2m-9 9h2m-10 -14h2m16 -21h2m-19 -10h2m5 32h2m5 -25h2m-11 17h2m10 4h2m-18 -15h2m-2 -30h2m1 41h2m-15 -25h2m-1 -9h2m16 25h2m-27 3h2m27 -4h2m-11 12h2m8 -42h2m-7 41h2m-3 17h2m9 -28h2m-20 -7h2m-2 6h2m10 22h2m-20 -23h2m16 -9h2m-6 -15h2m-14 51h2m-10 0h2m-10 -23h2m37 33h2m-35 -40h2m1 18h2m18 -33h2m-6 5h2m-4 17h2m-4 7h2m-7 3h2m-7 -25h2m0 6h2m12 7h2m2 -3h2m-1 0h2m-14 18h2m-24 6h2m26 -49h2m-9 51h2m-27 -18h2m38 2h2m-13 0h2m-5 10h2m0 -4h2m-2 -36h2m-1 39h2m-3 -32h2m-3 24h2m3 -3h2m-4 -28h2m19 25h2m-25 -4h2m-8 -7h2m-3 44h2m8 -30h2m-5 -9h2m-1 34h2m-6 -29h2m-2 -1h2m7 -31h2m4 43h2m-12 6h2m-6 15h2m-13 -48h2m-2 34h2m10 6h2m-5 -11h2m0 -12h2m-12 -27h2m7 30h2m-20 -12h2m6 -19h2m2 38h2m11 -12h2m-14 -2h2m-5 36h2m10 -41h2m-6 -25h2m9 -2h2m-8 44h2m-4 -12h2m-6 -8h2m7 -23h2m-16 21h2m-10 -4h2m22 16h2m-16 -12h2m4 0h2m3 13h2m2 -12h2m-41 18h2m17 -61h2m20 35h2m-31 40h2m20 -16h2m-11 -21h2m-7 14h2m6 -6h2m-18 4h2m19 29h2m6 -30h2m-28 10h2m5 -17h2m17 1h2m-10 -13h2m-9 15h2m15 4h2m-33 1h2m12 6h2m2 1h2m-6 9h2m9 -14h2m-27 25h2m15 -12h2m-10 13h2m18 -23h2m-4 20h2m-20 -18h2m-5 -28h2m8 26h2m-10 -2h2m1 -21h2m8 8h2m-11 6h2m15 -8h2m-12 3h2m6 -1h2m-6 5h2m-2 -5h2m-3 -4h2m-14 -5h2m12 11h2m-13 3h2m5 -4h2m-5 -5h2m7 2h2m-4 0h2m1 5h2m-9 -3h2m-4 6h2m2 -7h2m6 -2h2m-11 12h2m-5 -14h2m-8 1h2m0 15h2m2 -9h2m1 7h2m-2 -21h2m-6 18h2m0 -6h2m5 1h2m-1 2h2m-5 -17h2m0 10h2m-4 6h2m1 14h2m-17 -20h2m1 16h2m2 -9h2m-1 2h2m3 -10h2m-18 8h2m8 -7h2m-2 -2h2m-6 13h2m0 -10h2m4 1h2m-5 6h2m-5 -8h2m0 -2h2m-4 7h2m4 0h2m-7 7h2m3 -14h2m-10 10h2m1 0h2m-8 -6h2m3 1h2m3 1h2m-11 -5h2m1 -2h2m1 11h2m-5 -9h2m4 0h2m-12 9h2m8 -7h2m1 1h2m-1 -5h2m-10 1h2m-6 -1h2m-6 0h2m10 13h2m-2 -11h2m-4 -7h2m-2 6h2m-1 9h2m-7 -9h2m-7 6h2m-2 -5h2m1 -4h2m-3 6h2m-5 -2h2m4 6h2m-5 2h2m6 -4h2m-5 14h2m2 -19h2m-13 13h2m0 -5h2m-5 5h2m8 -5h2m12 -14h2m-17 10h2m29 27h2m-26 -8h2m41 1h2m-58 -14h2m13 -6h2m39 32h2m2 29h2m-59 -53h2m-4 27h2m-3 10h2m40 -48h2m-35 -5h2m17 42h2m11 23h2m14 -43h2m-25 -12h2m-32 33h2m56 -36h2m-5 16h2m-42 -20h2m-14 -1h2m18 44h2m-1 -44h2m-13 27h2m-4 -8h2m17 10h2m27 -1h2m-26 41h2m-6 -35h2m24 10h2m-4 23h2m-30 -16h2m19 -16h2m-40 -18h2m36 36h2m-1 4h2m-22 -22h2m-1 21h2m0 -56h2m27 36h2m-16 20h2m-39 -60h2m31 39h2m9 -32h2m-38 41h2m40 -11h2m-39 -24h2m2 2h2m8 29h2m-40 -5h2m26 -15h2m-10 10h2m39 -8h2m-42 -14h2m8 37h2m-5 2h2m-38 7h2m12 10h2m51 -1h2m-62 -25h2m21 21h2m6 -40h2m-37 50h2m64 -14h2m-20 -12h2m10 -29h2m-30 54h2m32 -67h2m-50 43h2m2 -23h2m-9 0h2m25 -21h2m5 65h2m7 -43h2m-46 -21h2m49 31h2m-39 1h2m-22 -14h2m21 33h2m-30 -47h2m29 9h2m-39 4h2m55 42h2m2 -29h2m-62 3h2m54 25h2m0 -45h2m-3 12h2m-24 -8h2m21 31h2m10 -14h2m-3 34h2m-55 -32h2m-13 19h2m49 -56h2m-43 60h2m24 6h2m-14 -8h2m3 -62h2m25 11h2m-57 -9h2m41 16h2m8 -1h2m-25 41h2m21 -34h2m-29 -8h2m-33 7h2m-1 -9h2m-2 56h2m-2 -21h2m46 -44h2m-50 33h2m64 -18h2m-61 15h2m28 8h2m-14 -35h2m2 44h2m-34 -36h2m34 23h2m13 11h2m-23 12h2m-4 -41h2m4 16h2m-28 -33h2m-5 6h2m52 14h2m-33 2h2m36 -4h2m-3 -21h2m-51 39h2m-12 0h2m48 -17h2m-26 35h2m-32 6h2m42 9h2m-35 -24h2m31 -17h2m16 -22h2m-10 37h2m3 -13h2m-63 -25h2m52 63h2m-20 -52h2m13 28h2m-11 9h2m23 -20h2m-69 14h2m47 21h2m11 -16h2m-31 -56h2m26 4h2m8 66h2m-2 -56h2m-15 -2h2m9 13h2m-58 33h2m22 -20h2m5 -17h2m-19 -4h2m9 -3h2m-28 25h2m-1 -22h2m53 20h2m-67 -22h2m44 52h2m2 -50h2m-6 27h2m7 -16h2m-40 -13h2m47 28h2m-23 -20h2m15 48h2m-5 -2h2m-5 -1h2m-36 -15h2m2 15h2m1 -25h2m6 -30h2m-8 1h2m-25 1h2m9 -12h2m-15 23h2m55 13h2m-67 -7h2m10 -25h2m32 54h2m19 11h2m-69 -20h2m38 -51h2m3 32h2m-26 14h2m8 -37h2m-24 47h2m56 -29h2m-36 7h2m26 -24h2m-39 23h2m0 -21h2m11 38h2m0 -19h2m-27 32h2m6 -54h2m-17 41h2m59 -50h2m-21 15h2m-51 -7h2m53 1h2m-5 43h2m-32 -43h2m21 -7h2m-3 43h2m7 -26h2m-1 -15h2m-1 39h2m-29 2h2m-22 -14h2m27 -26h2m-18 32h2m-24 -36h2m8 28h2m0 -10h2m29 -18h2m23 26h2m-24 4h2m7 -25h2m-54 -5h2m52 66h2m-60 -46h2m15 -9h2m21 26h2m-17 13h2m-12 -23h2m40 11h2m-56 1h2m2 -31h2m-6 49h2m-1 2h2m4 -35h2m40 48h2m-4 -40h2m-4 5h2m-15 2h2m-26 -36h2m-9 -1h2m48 60h2m12 -6h2m-4 -51h2m-33 44h2m17 -32h2m-27 -12h2m-30 63h2m-2 -45h2m3 -16h2m53 54h2m2 -64h2m-7 0h2m-20 35h2m-4 4h2m11 -3h2m-32 -6h2m43 0h2m-69 21h2m65 -42h2m-17 52h2m-4 -59h2m-9 1h2m7 -1h2m-27 43h2m-8 -2h2m6 8h2m4 -24h2m15 -8h2m-38 -19h2m2 38h2m-10 -19h2m55 10h2m-17 34h2m-3 -63h2m10 53h2m-32 -48h2m-89 71h2m36 -25h2m-7 -25h2m-49 1h2m42 6h2m-52 3h2m32 17h2m-23 16h2m9 4h2m-17 -7h2m3 -36h2m29 31h2m-9 -20h2m-35 35h2m15 5h2m12 -18h2m8 5h2m14 -26h2m-58 33h2m-5 6h2m1 -31h2m14 32h2m29 -26h2m-15 -14h2m5 13h2m-2 -11h2m-17 34h2m-21 -48h2m-4 8h2m23 6h2m22 31h2m-5 -44h2m-5 47h2m-33 -44h2m13 21h2m23 20h2m-28 -27h2m-36 16h2m61 0h2m-37 -10h2m16 -10h2m-44 3h2m24 16h2m24 3h2m-39 9h2m44 -1h2m-64 -16h2m14 23h2m41 -26h2m-30 24h2m-24 -16h2m36 -14h2m3 -16h2m-24 40h2m-2 -37h2m-9 18h2m-8 28h2m-4 -44h2m5 42h2m-17 -8h2m-10 -33h2m42 28h2m-45 -7h2m58 10h2m-30 -43h2m16 9h2m-53 17h2m17 -15h2m22 24h2m-32 -23h2m18 31h2m18 -42h2m-6 5h2m-18 3h2m-9 36h2m-16 -38h2m41 45h2m-37 -28h2m26 25h2m4 -19h2m-40 -28h2m4 50h2m27 -3h2m-42 -2h2m33 -22h2m-1 13h2m-49 -31h2m30 23h2m-35 5h2m44 -9h2m-38 9h2m48 4h2m-43 -38h2m-20 42h2m2 12h2m20 -14h2m-8 -21h2m23 -9h2m9 3h2m-38 1h2m33 25h2m-13 6h2m1 -5h2m-47 -36h2m26 12h2m24 22h2m-28 -13h2m11 0h2m-12 6h2m6 -30h2m-29 48h2m2 -47h2m33 11h2m-4 15h2m7 -14h2m-53 20h2m23 -28h2m-35 47h2m31 -17h2m-16 -7h2m26 -27h2m-33 17h2m-3 0h2m-17 -15h2m5 50h2m5 -13h2m-21 -38h2m35 49h2m17 -4h2m3 1h2m-56 -23h2m-2 17h2m7 -45h2m-16 6h2m53 -7h2m-54 34h2m16 -20h2m0 22h2m-20 -16h2m-5 25h2m-1 -7h2m49 -4h2m-6 -22h2m-35 24h2m-10 -33h2m40 50h2m-38 -26h2m9 -23h2m31 26h2m-4 12h2m-52 -41h2m-11 49h2m2 -50h2m26 6h2m11 41h2m8 -21h2m-26 -21h2m23 15h2m-8 21h2m-53 -31h2m34 42h2m-22 -35h2m45 23h2m-33 -22h2m-18 37h2m18 -44h2m-9 -5h2m-32 10h2m48 15h2m-51 -24h2m30 41h2m-8 -25h2m1 -16h2m-19 15h2m34 -20h2m-3 32h2m-39 -1h2m4 7h2m43 -40h2m-36 7h2m21 20h2m-6 -22h2m17 7h2m-21 5h2m13 26h2m-63 -18h2m24 2h2m-20 1h2m-4 4h2m44 -6h2m-29 31h2m35 -28h2m-19 12h2m-18 -36h2m-23 12h2m3 3h2m48 3h2m-25 5h2m-18 -18h2m19 31h2m93 -46h2m-114 -37h2m100 5h2m7 32h2m-48 -17h2m-85 -25h2m57 22h2m-44 21h2m63 -25h2m-5 18h2m-41 -10h2m-29 -1h2m76 -29h2m-79 44h2m10 -37h2m22 38h2m-30 -6h2m20 -20h2m-35 -12h2m114 30h2m-12 -20h2m-119 8h2m61 17h2m-41 6h2m45 -28h2m66 -10h2m-9 34h2m-88 -5h2m8 -25h2m-11 6h2m94 -9h2m-135 -4h2m16 2h2m23 14h2m77 -19h2m-38 -6h2m-21 10h2m6 15h2m-9 1h2m-84 8h2m32 -9h2m16 9h2m30 -16h2m17 31h2m38 -15h2m6 10h2m-124 -29h2m91 -7h2m-118 -1h2m5 4h2m107 -9h2m-46 20h2m-85 23h2m73 -9h2m72 -33h2m-41 0h2m27 -2h2m-62 19h2m-48 2h2m-15 -1h2m90 27h2m-58 -15h2m51 16h2m40 -2h2m-4 -5h2m-1 -41h2m-70 48h2m38 -23h2m26 24h2m-47 -37h2m5 11h2m-34 12h2m-9 -24h2m66 14h2m-144 -12h2m29 30h2m-8 -31h2m62 23h2m-75 -16h2m36 -17h2m20 36h2m55 -9h2m-35 -23h2m-87 28h2m138 1h2m-22 -29h2m-16 -9h2m-22 36h2m-17 4h2m-40 -2h2m132 -42h2m18 94h2m30 -62h2m-69 69h2m-6 -83h2m-4 37h2m-7 5h2m15 -21h2m41 6h2m41 -15h2m-52 48h2m-34 -69h2m18 5h2m-50 29h2m57 -20h2" stroke="#dc0a7a" stroke-width="2" fill="none" opacity="0.9"/>
<rect x="125.6" y="2097.3" width="286.1" height="232.5" fill="none" stroke="#262626" stroke-width="2.4"/>
<line x1="200.0" y1="2097.3" x2="200.0" y2="2329.8" stroke="#262626" stroke-width="2" stroke-linecap="butt"/>
<line x1="125.6" y1="2270.3" x2="411.7" y2="2270.3" stroke="#262626" stroke-width="2" stroke-linecap="butt"/>
<line x1="119.6" y1="2329.8" x2="125.6" y2="2329.8" stroke="#444" stroke-width="1.2" stroke-linecap="butt"/>
<line x1="122.6" y1="2312.3" x2="125.6" y2="2312.3" stroke="#444" stroke-width="1.2" stroke-linecap="butt"/>
<line x1="122.6" y1="2302.1" x2="125.6" y2="2302.1" stroke="#444" stroke-width="1.2" stroke-linecap="butt"/>
<line x1="122.6" y1="2294.8" x2="125.6" y2="2294.8" stroke="#444" stroke-width="1.2" stroke-linecap="butt"/>
<line x1="122.6" y1="2289.2" x2="125.6" y2="2289.2" stroke="#444" stroke-width="1.2" stroke-linecap="butt"/>
<line x1="122.6" y1="2284.6" x2="125.6" y2="2284.6" stroke="#444" stroke-width="1.2" stroke-linecap="butt"/>
<line x1="122.6" y1="2280.7" x2="125.6" y2="2280.7" stroke="#444" stroke-width="1.2" stroke-linecap="butt"/>
<line x1="122.6" y1="2277.3" x2="125.6" y2="2277.3" stroke="#444" stroke-width="1.2" stroke-linecap="butt"/>
<line x1="122.6" y1="2274.3" x2="125.6" y2="2274.3" stroke="#444" stroke-width="1.2" stroke-linecap="butt"/>
<line x1="119.6" y1="2271.7" x2="125.6" y2="2271.7" stroke="#444" stroke-width="1.2" stroke-linecap="butt"/>
<line x1="122.6" y1="2254.2" x2="125.6" y2="2254.2" stroke="#444" stroke-width="1.2" stroke-linecap="butt"/>
<line x1="122.6" y1="2243.9" x2="125.6" y2="2243.9" stroke="#444" stroke-width="1.2" stroke-linecap="butt"/>
<line x1="122.6" y1="2236.7" x2="125.6" y2="2236.7" stroke="#444" stroke-width="1.2" stroke-linecap="butt"/>
<line x1="122.6" y1="2231.0" x2="125.6" y2="2231.0" stroke="#444" stroke-width="1.2" stroke-linecap="butt"/>
<line x1="122.6" y1="2226.4" x2="125.6" y2="2226.4" stroke="#444" stroke-width="1.2" stroke-linecap="butt"/>
<line x1="122.6" y1="2222.6" x2="125.6" y2="2222.6" stroke="#444" stroke-width="1.2" stroke-linecap="butt"/>
<line x1="122.6" y1="2219.2" x2="125.6" y2="2219.2" stroke="#444" stroke-width="1.2" stroke-linecap="butt"/>
<line x1="122.6" y1="2216.2" x2="125.6" y2="2216.2" stroke="#444" stroke-width="1.2" stroke-linecap="butt"/>
<line x1="119.6" y1="2213.6" x2="125.6" y2="2213.6" stroke="#444" stroke-width="1.2" stroke-linecap="butt"/>
<line x1="122.6" y1="2196.1" x2="125.6" y2="2196.1" stroke="#444" stroke-width="1.2" stroke-linecap="butt"/>
<line x1="122.6" y1="2185.8" x2="125.6" y2="2185.8" stroke="#444" stroke-width="1.2" stroke-linecap="butt"/>
<line x1="122.6" y1="2178.6" x2="125.6" y2="2178.6" stroke="#444" stroke-width="1.2" stroke-linecap="butt"/>
<line x1="122.6" y1="2172.9" x2="125.6" y2="2172.9" stroke="#444" stroke-width="1.2" stroke-linecap="butt"/>
<line x1="122.6" y1="2168.3" x2="125.6" y2="2168.3" stroke="#444" stroke-width="1.2" stroke-linecap="butt"/>
<line x1="122.6" y1="2164.4" x2="125.6" y2="2164.4" stroke="#444" stroke-width="1.2" stroke-linecap="butt"/>
<line x1="122.6" y1="2161.1" x2="125.6" y2="2161.1" stroke="#444" stroke-width="1.2" stroke-linecap="butt"/>
<line x1="122.6" y1="2158.1" x2="125.6" y2="2158.1" stroke="#444" stroke-width="1.2" stroke-linecap="butt"/>
<line x1="119.6" y1="2155.4" x2="125.6" y2="2155.4" stroke="#444" stroke-width="1.2" stroke-linecap="butt"/>
<line x1="122.6" y1="2137.9" x2="125.6" y2="2137.9" stroke="#444" stroke-width="1.2" stroke-linecap="butt"/>
<line x1="122.6" y1="2127.7" x2="125.6" y2="2127.7" stroke="#444" stroke-width="1.2" stroke-linecap="butt"/>
<line x1="122.6" y1="2120.4" x2="125.6" y2="2120.4" stroke="#444" stroke-width="1.2" stroke-linecap="butt"/>
<line x1="122.6" y1="2114.8" x2="125.6" y2="2114.8" stroke="#444" stroke-width="1.2" stroke-linecap="butt"/>
<line x1="122.6" y1="2110.2" x2="125.6" y2="2110.2" stroke="#444" stroke-width="1.2" stroke-linecap="butt"/>
<line x1="122.6" y1="2106.3" x2="125.6" y2="2106.3" stroke="#444" stroke-width="1.2" stroke-linecap="butt"/>
<line x1="122.6" y1="2102.9" x2="125.6" y2="2102.9" stroke="#444" stroke-width="1.2" stroke-linecap="butt"/>
<line x1="122.6" y1="2100.0" x2="125.6" y2="2100.0" stroke="#444" stroke-width="1.2" stroke-linecap="butt"/>
<line x1="119.6" y1="2097.3" x2="125.6" y2="2097.3" stroke="#444" stroke-width="1.2" stroke-linecap="butt"/>
<line x1="125.6" y1="2329.8" x2="125.6" y2="2335.8" stroke="#444" stroke-width="1.2" stroke-linecap="butt"/>
<line x1="147.1" y1="2329.8" x2="147.1" y2="2332.8" stroke="#444" stroke-width="1.2" stroke-linecap="butt"/>
<line x1="159.7" y1="2329.8" x2="159.7" y2="2332.8" stroke="#444" stroke-width="1.2" stroke-linecap="butt"/>
<line x1="168.7" y1="2329.8" x2="168.7" y2="2332.8" stroke="#444" stroke-width="1.2" stroke-linecap="butt"/>
<line x1="175.6" y1="2329.8" x2="175.6" y2="2332.8" stroke="#444" stroke-width="1.2" stroke-linecap="butt"/>
<line x1="181.3" y1="2329.8" x2="181.3" y2="2332.8" stroke="#444" stroke-width="1.2" stroke-linecap="butt"/>
<line x1="186.0" y1="2329.8" x2="186.0" y2="2332.8" stroke="#444" stroke-width="1.2" stroke-linecap="butt"/>
<line x1="190.2" y1="2329.8" x2="190.2" y2="2332.8" stroke="#444" stroke-width="1.2" stroke-linecap="butt"/>
<line x1="193.9" y1="2329.8" x2="193.9" y2="2332.8" stroke="#444" stroke-width="1.2" stroke-linecap="butt"/>
<line x1="197.1" y1="2329.8" x2="197.1" y2="2335.8" stroke="#444" stroke-width="1.2" stroke-linecap="butt"/>
<line x1="218.7" y1="2329.8" x2="218.7" y2="2332.8" stroke="#444" stroke-width="1.2" stroke-linecap="butt"/>
<line x1="231.3" y1="2329.8" x2="231.3" y2="2332.8" stroke="#444" stroke-width="1.2" stroke-linecap="butt"/>
<line x1="240.2" y1="2329.8" x2="240.2" y2="2332.8" stroke="#444" stroke-width="1.2" stroke-linecap="butt"/>
<line x1="247.1" y1="2329.8" x2="247.1" y2="2332.8" stroke="#444" stroke-width="1.2" stroke-linecap="butt"/>
<line x1="252.8" y1="2329.8" x2="252.8" y2="2332.8" stroke="#444" stroke-width="1.2" stroke-linecap="butt"/>
<line x1="257.6" y1="2329.8" x2="257.6" y2="2332.8" stroke="#444" stroke-width="1.2" stroke-linecap="butt"/>
<line x1="261.7" y1="2329.8" x2="261.7" y2="2332.8" stroke="#444" stroke-width="1.2" stroke-linecap="butt"/>
<line x1="265.4" y1="2329.8" x2="265.4" y2="2332.8" stroke="#444" stroke-width="1.2" stroke-linecap="butt"/>
<line x1="268.6" y1="2329.8" x2="268.6" y2="2335.8" stroke="#444" stroke-width="1.2" stroke-linecap="butt"/>
<line x1="290.2" y1="2329.8" x2="290.2" y2="2332.8" stroke="#444" stroke-width="1.2" stroke-linecap="butt"/>
<line x1="302.8" y1="2329.8" x2="302.8" y2="2332.8" stroke="#444" stroke-width="1.2" stroke-linecap="butt"/>
<line x1="311.7" y1="2329.8" x2="311.7" y2="2332.8" stroke="#444" stroke-width="1.2" stroke-linecap="butt"/>
<line x1="318.6" y1="2329.8" x2="318.6" y2="2332.8" stroke="#444" stroke-width="1.2" stroke-linecap="butt"/>
<line x1="324.3" y1="2329.8" x2="324.3" y2="2332.8" stroke="#444" stroke-width="1.2" stroke-linecap="butt"/>
<line x1="329.1" y1="2329.8" x2="329.1" y2="2332.8" stroke="#444" stroke-width="1.2" stroke-linecap="butt"/>
<line x1="333.2" y1="2329.8" x2="333.2" y2="2332.8" stroke="#444" stroke-width="1.2" stroke-linecap="butt"/>
<line x1="336.9" y1="2329.8" x2="336.9" y2="2332.8" stroke="#444" stroke-width="1.2" stroke-linecap="butt"/>
<line x1="340.2" y1="2329.8" x2="340.2" y2="2335.8" stroke="#444" stroke-width="1.2" stroke-linecap="butt"/>
<line x1="361.7" y1="2329.8" x2="361.7" y2="2332.8" stroke="#444" stroke-width="1.2" stroke-linecap="butt"/>
<line x1="374.3" y1="2329.8" x2="374.3" y2="2332.8" stroke="#444" stroke-width="1.2" stroke-linecap="butt"/>
<line x1="383.2" y1="2329.8" x2="383.2" y2="2332.8" stroke="#444" stroke-width="1.2" stroke-linecap="butt"/>
<line x1="390.2" y1="2329.8" x2="390.2" y2="2332.8" stroke="#444" stroke-width="1.2" stroke-linecap="butt"/>
<line x1="395.8" y1="2329.8" x2="395.8" y2="2332.8" stroke="#444" stroke-width="1.2" stroke-linecap="butt"/>
<line x1="400.6" y1="2329.8" x2="400.6" y2="2332.8" stroke="#444" stroke-width="1.2" stroke-linecap="butt"/>
<line x1="404.8" y1="2329.8" x2="404.8" y2="2332.8" stroke="#444" stroke-width="1.2" stroke-linecap="butt"/>
<line x1="408.4" y1="2329.8" x2="408.4" y2="2332.8" stroke="#444" stroke-width="1.2" stroke-linecap="butt"/>
<line x1="411.7" y1="2329.8" x2="411.7" y2="2335.8" stroke="#444" stroke-width="1.2" stroke-linecap="butt"/>
<path d="M505 2295h2m12 -26h2m-85 36h2m44 -23h2m20 15h2m5 -23h2m-16 23h2m14 -10h2m-24 14h2m2 6h2m-9 -24h2m-25 9h2m2 2h2m21 17h2m-20 -39h2m33 27h2m-1 -9h2m7 -16h2m-36 12h2m24 -5h2m-45 25h2m-1 -29h2m16 28h2m1 -21h2m-37 16h2m-5 -33h2m38 13h2m-25 13h2m37 -15h2m-18 -9h2m-3 22h2m-4 10h2m11 -10h2m-22 -3h2m22 8h2m-33 -11h2m4 18h2m-11 3h2m22 -33h2m-12 32h2m-19 -5h2m52 -5h2m-47 5h2m3 11h2m7 7h2m24 -5h2m-38 -26h2m14 22h2m-13 -42h2m-32 36h2m41 -2h2m2 3h2m-26 -26h2m3 33h2m-31 -2h2m-2 -15h2m20 -23h2m17 24h2m-23 -16h2m13 -10h2m10 12h2m-18 43h2m7 -54h2m15 16h2m-54 7h2m36 11h2m-52 -28h2m42 1h2m-6 26h2m-16 -9h2m-12 13h2m17 -33h2m-9 15h2m8 14h2m-21 -11h2m25 -18h2m-32 18h2m12 -29h2m-3 16h2m29 22h2m-54 1h2m18 -6h2m28 4h2m-37 -31h2m-13 12h2m27 23h2m-13 18h2m20 -26h2m-35 -19h2m19 -1h2m7 31h2m5 -2h2m-43 -32h2m46 19h2m-46 17h2m-14 0h2m9 -26h2m19 4h2m-11 9h2m12 -21h2m-1 -8h2m-5 13h2m-13 27h2m37 -2h2m-78 -9h2m7 -23h2m21 -11h2m-16 13h2m-27 15h2m32 14h2m-1 -27h2m-35 13h2m61 -26h2m7 -4h2m-4 29h2m-35 -17h2m11 2h2m-26 -17h2m23 43h2m-19 -37h2m19 26h2m-17 -22h2m25 16h2m-6 24h2m6 -15h2m-57 -2h2m-6 11h2m41 -5h2m-21 12h2m17 -40h2m-4 39h2m-5 -18h2m12 -15h2m-8 23h2m-4 -1h2m-28 -8h2m48 12h2m-33 -30h2m17 -5h2m-17 15h2m16 24h2m-23 -8h2m-1 -7h2m-3 -9h2m-18 9h2m0 16h2m6 -24h2m-1 0h2m-19 14h2m62 3h2m-66 -7h2m11 18h2m50 -17h2m-61 -16h2m26 -17h2m-4 47h2m-19 -19h2m-25 7h2m-5 2h2m28 13h2m6 -5h2m-51 0h2m42 -10h2m-17 -7h2m27 7h2m-16 -15h2m-20 16h2m5 10h2m7 -5h2m23 -8h2m30 -14h2m-53 0h2m-7 2h2m10 5h2m-15 11h2m10 1h2m-6 1h2m-9 6h2m-17 -27h2m16 10h2m12 11h2m-18 3h2m26 -20h2m-13 -1h2m-23 26h2m34 -6h2m-56 -4h2m41 -10h2m11 -9h2m-42 13h2m1 5h2m18 2h2m7 5h2m-20 -10h2m-6 16h2m11 -22h2m-15 9h2m-30 -4h2m18 -26h2m1 7h2m-30 11h2m34 9h2m-24 3h2m26 13h2m-44 -18h2m9 -4h2m-12 9h2m50 -22h2m-3 14h2m2 -11h2m-2 15h2m-13 -11h2m-2 4h2m-51 32h2m36 -11h2m-17 20h2m1 -33h2m-19 -5h2m46 -8h2m-24 10h2m-33 -24h2m36 26h2m-13 -9h2m-21 -11h2m12 -6h2m-11 12h2m-31 7h2m12 5h2m36 -22h2m-5 22h2m-3 5h2m-30 26h2m9 -25h2m10 8h2m10 -23h2m-31 10h2m-6 -10h2m40 -2h2m-23 19h2m-10 -10h2m-9 23h2m0 -21h2m40 7h2m-14 -23h2m-28 3h2m-18 23h2m54 -19h2m-4 28h2m-9 -30h2m-9 0h2m-54 39h2m9 -51h2m34 17h2m-18 14h2m8 1h2m-17 -24h2m-4 46h2m21 -36h2m-21 -21h2m6 40h2m3 -20h2m-3 8h2m16 10h2m2 -24h2m-54 3h2m19 9h2m-9 13h2m24 -30h2m-36 38h2m33 -15h2m-4 -21h2m-4 17h2m-32 7h2m13 9h2m-19 -5h2m26 4h2m9 -18h2m-49 12h2m11 -47h2m11 51h2m-9 -15h2m36 23h2m-33 -30h2m6 1h2m-28 8h2m48 10h2m-28 -6h2m10 9h2m-15 -13h2m-44 14h2m13 2h2m32 -8h2m-21 -29h2m16 29h2m-5 6h2m-2 -17h2m10 17h2m-16 -45h2m-36 21h2m16 -4h2m43 21h2m-54 -19h2m44 -2h2m3 34h2m-44 -41h2m16 27h2m-36 9h2m40 -20h2m-32 -8h2m-12 10h2m16 -6h2m-4 -3h2m-4 14h2m13 -3h2m-19 18h2m29 -15h2m26 5h2m-47 16h2m-16 -7h2m-8 -16h2m28 -12h2m-18 36h2m3 -25h2m-40 4h2m14 15h2m-2 -16h2m38 16h2m-25 -23h2m-44 7h2m54 -5h2m11 32h2m1 -50h2m-24 8h2m10 2h2m-5 -8h2m-18 7h2m-32 28h2m24 3h2m0 -29h2m15 -8h2m-1 10h2m-19 30h2m19 -24h2m-38 -29h2m5 42h2m10 -14h2m10 10h2m-19 -3h2m27 -23h2m-17 32h2m-28 -5h2m18 -19h2m-21 -22h2m-3 15h2m-11 1h2m52 25h2m-12 -18h2m-49 2h2m49 7h2m-5 -7h2m-27 12h2m15 -1h2m31 9h2m-40 -31h2m1 23h2m11 -9h2m-43 33h2m-6 -9h2m-5 -26h2m24 19h2m16 -38h2m-35 10h2m-12 11h2m28 8h2m-13 -20h2m17 16h2m-16 17h2m-3 -40h2m0 4h2m0 -8h2m-21 43h2m-5 -31h2m50 9h2m27 -7h2m-40 11h2m-54 -3h2m29 7h2m21 0h2m-56 20h2m20 -36h2m-1 16h2m-11 -4h2m-1 -11h2m33 24h2m-30 14h2m3 -41h2m35 50h2m-51 -37h2m-22 1h2m46 -35h2m24 37h2m-36 -3h2m0 -1h2m-32 13h2m4 -12h2m44 7h2m-6 -14h2m-15 -7h2m-25 18h2m-13 6h2m1 2h2m-4 -8h2m31 -12h2m-28 11h2m3 -4h2m21 -14h2m-3 22h2m-14 -7h2m6 -13h2m-11 11h2m-39 13h2m34 12h2m-9 -46h2m-1 20h2m10 13h2m-18 9h2m32 -11h2m-28 -20h2m4 7h2m1 7h2m-11 -11h2m13 -4h2m0 -3h2m-4 54h2m-28 -35h2m-5 -4h2m3 13h2m10 -9h2m-38 -3h2m18 6h2m-8 -14h2m7 5h2m-7 18h2m31 -4h2m-9 -24h2m8 37h2m-39 -27h2m2 -17h2m7 33h2m35 -1h2m-1 -5h2m-46 -18h2m22 31h2m27 -10h2m-63 -2h2m14 -2h2m27 2h2m-13 26h2m-35 -38h2m46 11h2m-12 12h2m-8 -5h2m-39 -22h2m19 10h2m26 -4h2m-18 -15h2m4 18h2m-22 16h2m32 -10h2m-36 12h2m21 -9h2m-14 -16h2m-26 17h2m44 -32h2m-54 42h2m8 -23h2m15 28h2m-32 -42h2m-9 6h2m30 7h2m-8 2h2m1 -18h2m12 4h2m32 25h2m-53 -19h2m52 24h2m-44 11h2m-8 -44h2m-52 15h2m21 30h2m32 -9h2m3 -34h2m-28 24h2m19 18h2m10 -53h2m-30 35h2m-22 10h2m10 -22h2m11 -2h2m9 20h2m7 -33h2m-34 30h2m16 9h2m-8 -16h2m4 -23h2m18 44h2m2 -22h2m-36 8h2m-4 -20h2m-4 11h2m1 17h2m0 -37h2m3 2h2m-8 -10h2m-13 35h2m-4 0h2m21 -18h2m44 17h2m-38 -5h2m0 27h2m-8 -44h2m-12 20h2m39 -9h2m-46 32h2m-14 -20h2m-7 -23h2m25 23h2m-25 -8h2m1 -12h2m-2 19h2m-11 -3h2m27 -19h2m-38 10h2m74 23h2m-72 -18h2m26 -3h2m4 9h2m-16 -6h2m10 -15h2m-4 25h2m-3 -20h2m7 32h2m-9 -12h2m-8 2h2m-3 -15h2m18 7h2m-23 -11h2m13 3h2m17 -9h2m-25 35h2m14 -36h2m-33 40h2m11 -14h2m3 -23h2m-7 31h2m2 -12h2m16 -17h2m-35 14h2m-9 -8h2m17 -6h2m-36 10h2m26 5h2m21 -9h2m-25 4h2m8 12h2m-5 -13h2m14 -3h2m-15 -13h2m-8 17h2m-16 -2h2m21 14h2m-18 1h2m-13 -11h2m29 -9h2m-36 10h2m8 3h2m18 -1h2m-25 -24h2m11 25h2m-6 -19h2m-25 18h2m11 2h2m1 -4h2m-7 15h2m31 -17h2m-23 5h2m-14 -17h2m-17 11h2m19 -2h2m29 4h2m-33 -3h2m18 -31h2m-8 44h2m-20 -1h2m-10 -39h2m26 33h2m-44 10h2m41 -4h2m-36 0h2m37 -12h2m-26 -5h2m4 34h2m20 -21h2m-41 17h2m18 -24h2m-9 14h2m14 -1h2m2 -1h2m-11 -28h2m-3 50h2m-14 -28h2m18 -9h2m-18 9h2m5 -29h2m-1 44h2m-32 -25h2m3 9h2m23 -1h2m-6 -27h2m22 20h2m-72 22h2m48 -28h2m15 14h2m-21 11h2m11 8h2m-16 -34h2m-4 26h2m16 -5h2m-43 -1h2m-20 6h2m49 -4h2m-8 -24h2m-2 21h2m1 -15h2m4 13h2m-22 -11h2m15 27h2m-5 -8h2m-29 -6h2m17 -16h2m6 15h2m-22 -21h2m32 3h2m-27 -11h2m19 35h2m10 -19h2m-57 20h2m1 3h2m34 -2h2m-17 -19h2m11 26h2m21 -4h2m-43 -34h2m23 23h2m-23 -17h2m-9 10h2m19 18h2m-6 -12h2m13 18h2m-16 -14h2m8 2h2m-8 13h2m-44 -6h2m23 -6h2m-1 8h2m21 -2h2m-39 -36h2m22 4h2m-14 16h2m-28 14h2m29 -26h2m13 -13h2m-21 23h2m23 -8h2m-13 29h2m-3 -53h2m-18 44h2m5 -3h2m10 -46h2m-11 23h2m-25 11h2m18 8h2m9 -5h2m11 9h2m-7 -6h2m-37 -14h2m30 34h2m-45 -19h2m16 -16h2m-5 19h2m42 -9h2m-18 -4h2m-9 -3h2m-20 -12h2m34 9h2m-31 -6h2m12 -10h2m10 35h2m-29 -3h2m14 -7h2m-49 -13h2m46 5h2m-45 33h2m38 -34h2m-4 24h2m1 -7h2m33 2h2m-93 -14h2m54 4h2m-18 2h2m20 -14h2m-11 34h2m-6 -31h2m-13 14h2m-6 23h2m43 -20h2m-18 -8h2m7 -4h2m2 -28h2m-26 15h2m30 17h2m-14 1h2m-9 -7h2m0 -14h2m-19 -9h2m21 3h2m5 23h2m-16 2h2m12 17h2m-9 -29h2m-18 12h2m13 -14h2m-23 7h2m0 4h2m18 -7h2m-3 23h2m-7 -30h2m-2 23h2m-14 -12h2m19 -4h2m-11 19h2m-3 -20h2m28 11h2m-28 -4h2m-5 9h2m15 -23h2m-16 18h2m-8 2h2m14 -14h2m-15 -4h2m-7 0h2m1 12h2m1 -9h2m5 16h2m1 -8h2m-22 -2h2m18 3h2m-17 1h2m-1 1h2m-19 5h2m32 7h2m-10 -9h2m-9 1h2m-1 13h2m7 0h2m-10 -18h2m-26 -13h2m24 27h2m-4 -24h2m-1 1h2m-3 -1h2m5 5h2m-15 -23h2m23 22h2m-20 19h2m-9 17h2m5 -25h2m-17 5h2m11 1h2m-7 -18h2m-4 -4h2m13 16h2m-7 9h2m-12 -12h2m1 2h2m6 -4h2m13 -1h2m-21 -5h2m-2 19h2m3 -2h2m-16 -12h2m7 5h2m5 4h2m-5 6h2m-2 10h2m-15 -2h2m8 -21h2m9 3h2m9 -6h2m-16 12h2m-14 4h2m-2 -32h2m1 20h2m16 16h2m-30 -34h2m7 35h2m-13 -5h2m8 -19h2m-1 -6h2m7 33h2m-2 -26h2m-7 -10h2m-6 16h2m-3 -18h2m14 4h2m-16 34h2m-10 -27h2m1 3h2m4 -18h2m-8 10h2m-9 22h2m18 -7h2m-15 7h2m3 -1h2m0 -9h2m-5 -7h2m-2 -21h2m-21 39h2m19 -12h2m-4 29h2m-4 -32h2m1 0h2m17 -4h2m-7 -9h2m-9 15h2m4 3h2m-18 -1h2m1 -6h2m3 -6h2m1 23h2m-3 -2h2m7 -19h2m-18 -8h2m10 8h2m-18 -1h2m7 21h2m-14 -23h2m16 15h2m-16 -16h2m12 11h2m-28 32h2m28 -39h2m-16 13h2m1 -11h2m-3 20h2m-18 -10h2m7 -4h2m-2 18h2m2 -8h2m-14 -2h2m5 -22h2m4 3h2m7 28h2m-6 -31h2m-17 33h2m15 0h2m3 -22h2m-8 -8h2m-11 -4h2m-7 24h2m2 -3h2m15 -16h2m-23 -3h2m-14 18h2m25 -14h2m-15 8h2m3 -18h2m-5 23h2m11 -4h2m-15 -7h2m-4 -8h2m-3 13h2m19 5h2m-4 1h2m-17 -4h2m-3 -10h2m1 17h2m3 5h2m-13 -21h2m17 -7h2m-12 32h2m-25 -15h2m10 -25h2m4 32h2m20 -8h2m-8 -10h2m-14 9h2m-12 -14h2m6 3h2m-1 -10h2m-6 34h2m3 -21h2m2 9h2m-11 2h2m-8 -36h2m8 33h2m-15 -16h2m6 29h2m12 -30h2m-11 25h2m-13 10h2m7 -17h2m-4 9h2m2 4h2m5 -14h2m-15 -5h2m-8 -14h2m21 39h2m-21 -10h2m9 -4h2m-3 -28h2m-8 34h2m5 -18h2m-4 7h2m-3 2h2m3 9h2m-14 -17h2m11 -4h2m-16 15h2m13 -4h2m1 -10h2m-20 32h2m21 -11h2m-23 -33h2m2 -8h2m-8 4h2m2 18h2m1 10h2m-7 16h2m10 -19h2m-16 -10h2m7 10h2m-13 -2h2m-1 -11h2m6 13h2m0 -24h2m-8 18h2m4 10h2m-1 -8h2m-11 9h2m4 6h2m-10 -5h2m-5 0h2m4 0h2m1 -10h2m34 -25h2m-6 0h2m-10 -2h2m10 5h2m-8 -2h2m-20 -4h2m26 5h2m-11 0h2m-7 1h2m7 1h2m-4 -6h2m-3 6h2m7 -3h2m-6 0h2m-10 -1h2m-4 2h2m-6 -3h2m8 -3h2m-3 11h2m3 -12h2m-7 8h2m1 2h2m2 -3h2m-13 -2h2m-5 1h2m4 -7h2m-9 9h2m4 -6h2m-2 4h2m8 -4h2m-13 8h2m7 -6h2m-11 2h2m0 7h2m-5 -11h2m1 3h2m-5 -9h2m-5 8h2m-3 0h2m10 -1h2m-6 6h2m7 4h2m-3 -3h2m-17 0h2m15 1h2m-16 -8h2m-8 -1h2m0 6h2m2 6h2m-14 -11h2m16 -4h2m-7 7h2m4 5h2m-4 -1h2m-3 -2h2m1 -2h2m-3 4h2m-13 -6h2m15 8h2m-14 1h2m1 -3h2m2 6h2m-10 2h2m-1 -15h2m-10 3h2m13 -4h2m-2 -4h2m-9 3h2m-4 5h2m-13 3h2m16 -1h2m-10 -14h2m0 12h2m-1 -5h2m-2 8h2m1 -7h2m1 9h2m-5 4h2m-9 0h2m4 -10h2m-3 2h2m-6 -2h2m2 1h2m4 9h2m-2 -18h2m-4 6h2m-1 3h2m-17 -2h2m11 -3h2m5 10h2m18 16h2m-8 19h2m-34 -36h2m-10 46h2m-6 -39h2m40 35h2m3 10h2m-53 -55h2m65 5h2m-71 19h2m16 -13h2m35 -1h2m-54 29h2m40 -25h2m-22 12h2m-12 18h2m36 5h2m-1 -42h2m-37 -7h2m-8 26h2m-3 17h2m46 -26h2m-29 -9h2m4 35h2m12 -33h2m-9 5h2m-45 40h2m6 -35h2m43 -1h2m-56 13h2m53 -24h2m-35 25h2m-18 -36h2m63 21h2m-4 19h2m-29 4h2m-24 -9h2m-13 -27h2m9 46h2m47 -29h2m-54 7h2m-1 17h2m28 -41h2m-33 39h2m41 -5h2m-21 -45h2m5 13h2m-32 28h2m-11 -32h2m49 33h2m6 17h2m-47 -44h2m7 10h2m-32 18h2m65 8h2m-38 -51h2m12 52h2m6 -51h2m-23 38h2m-35 10h2m-2 -45h2m7 24h2m38 -16h2m-8 20h2m-31 6h2m10 -5h2m9 -10h2m9 36h2m-50 -19h2m30 -35h2m19 39h2m10 -33h2m-49 49h2m-21 -61h2m3 31h2m36 -9h2m8 35h2m-21 -39h2m9 -11h2m-30 6h2m12 27h2m-22 12h2m44 0h2m-51 -12h2m23 13h2m3 -47h2m13 42h2m-15 -21h2m26 -12h2m-61 39h2m12 0h2m-1 -32h2m-2 11h2m27 -20h2m3 44h2m-11 -56h2m16 15h2m-68 35h2m37 -29h2m-31 16h2m48 -26h2m-46 47h2m9 -7h2m7 0h2m-38 -36h2m35 38h2m2 -4h2m-34 -11h2m21 15h2m37 -32h2m-10 -10h2m-34 18h2m8 21h2m-21 -8h2m-5 2h2m38 11h2m2 -4h2m-39 -5h2m22 -34h2m-12 -3h2m23 50h2m-18 -57h2m3 52h2m-51 -22h2m47 -6h2m-39 -12h2m4 13h2m34 22h2m-17 -43h2m8 15h2m-26 -1h2m-31 -1h2m2 12h2m3 20h2m15 0h2m-12 -48h2m4 46h2m-18 -5h2m-5 -39h2m28 33h2m-32 -36h2m14 39h2m6 -37h2m12 35h2m-10 8h2m-24 -33h2m6 42h2m34 -40h2m-33 16h2m-22 -20h2m5 -1h2m1 45h2m39 -50h2m-7 15h2m-43 10h2m5 -22h2m-5 31h2m50 10h2m-3 -44h2m-48 7h2m-10 23h2m6 14h2m23 -36h2m-23 41h2m12 -53h2m30 6h2m-32 22h2m30 7h2m-39 7h2m7 -24h2m-23 -12h2m24 13h2m11 15h2m-4 -1h2m-53 -2h2m47 22h2m-37 -20h2m-19 -10h2m37 -8h2m12 38h2m8 0h2m-58 -9h2m14 -11h2m32 -23h2m-65 40h2m50 -35h2m-2 24h2m-2 -12h2m13 -22h2m-45 33h2m-10 -1h2m39 14h2m-19 -54h2m-33 45h2m17 14h2m-8 -31h2m-19 26h2m21 5h2m-29 -50h2m50 19h2m4 -26h2m-62 38h2m6 -31h2m-3 29h2m54 -33h2m-29 2h2m25 54h2m-24 -10h2m-26 -23h2m-10 -24h2m19 48h2m37 -51h2m-28 4h2m-18 -4h2m40 55h2m-56 -23h2m54 0h2m-41 -6h2m0 5h2m-3 -4h2m27 29h2m-7 -25h2m-11 21h2m-27 -47h2m-14 6h2m8 29h2m-4 12h2m-2 -34h2m29 37h2m-44 -53h2m31 50h2m-38 -9h2m17 -13h2m17 -22h2m17 48h2m-64 -42h2m63 -13h2m4 32h2m-59 -17h2m52 -8h2m-39 49h2m-2 -49h2m-28 22h2m47 19h2m-55 -4h2m52 -27h2m-41 13h2m-16 5h2m57 10h2m-59 -7h2m44 -3h2m-35 -12h2m39 -8h2m-11 9h2m-8 -3h2m-30 27h2m44 -46h2m1 16h2m-51 -4h2m21 -11h2m9 47h2m13 -12h2m-10 -40h2m-11 18h2m5 -4h2m-7 17h2m1 29h2m1 1h2m-36 -25h2m24 4h2m-47 18h2m59 -6h2m-47 -47h2m8 38h2m4 -21h2m15 -9h2m-2 10h2m-39 29h2m-5 -47h2m49 45h2m-106 6h2m32 -20h2m-44 10h2m20 -13h2m-3 3h2m-13 -1h2m28 8h2m2 10h2m-48 10h2m13 -38h2m28 51h2m-27 -16h2m-5 -25h2m-13 -13h2m35 20h2m0 -8h2m-52 13h2m9 5h2m8 -10h2m2 8h2m-21 -4h2m7 4h2m-2 -20h2m-21 -4h2m54 36h2m-16 4h2m-27 -32h2m-15 -1h2m52 40h2m-14 -20h2m-45 -28h2m37 48h2m-36 -34h2m4 -11h2m38 23h2m-5 13h2m-11 -9h2m-42 -2h2m14 9h2m14 -6h2m12 -1h2m-38 1h2m33 -25h2m-48 18h2m50 19h2m-46 -20h2m44 6h2m-37 7h2m12 3h2m-21 -5h2m-4 -23h2m-2 -5h2m9 -8h2m-26 36h2m41 -14h2m-28 1h2m16 16h2m-36 4h2m25 -19h2m8 27h2m-33 -8h2m41 -10h2m-11 -29h2m-7 28h2m9 -27h2m-41 19h2m42 -25h2m-44 24h2m19 -3h2m-15 28h2m-13 -35h2m42 23h2m-30 -22h2m14 28h2m-7 -6h2m-31 -23h2m-2 -1h2m6 31h2m4 -15h2m18 -22h2m-29 28h2m29 6h2m-42 9h2m18 -34h2m19 -5h2m14 22h2m-7 -12h2m-15 1h2m9 -3h2m-39 35h2m34 -43h2m-45 3h2m39 -9h2m-16 -3h2m-16 7h2m13 1h2m-18 28h2m30 -10h2m-24 -7h2m-32 21h2m53 -32h2m-20 15h2m-30 -17h2m27 28h2m-12 7h2m-3 -12h2m-15 12h2m43 7h2m-17 -29h2m-23 2h2m24 23h2m-1 -21h2m-37 -6h2m-17 6h2m46 5h2m-50 -18h2m13 33h2m-17 -26h2m30 31h2m1 -47h2m-19 16h2m-15 15h2m49 -20h2m-53 2h2m43 7h2m-32 26h2m15 -3h2m-20 -28h2m15 14h2m0 7h2m-41 10h2m24 -9h2m-15 4h2m18 9h2m1 -21h2m-22 -23h2m36 36h2m-19 -15h2m-20 22h2m-9 -33h2m41 6h2m-57 -21h2m48 19h2m-28 -7h2m32 24h2m-9 -20h2m-12 26h2m-17 -3h2m-7 -9h2m25 -21h2m-51 16h2m56 -21h2m-20 21h2m-40 -29h2m48 0h2m6 33h2m-43 -1h2m23 -23h2m-8 0h2m-39 -8h2m57 1h2m-43 13h2m-13 23h2m32 -11h2m-21 -8h2m3 -9h2m13 21h2m-35 -10h2m-7 7h2m46 -14h2m-15 10h2m-38 -1h2m25 27h2m-17 -28h2m1 -20h2m30 9h2m-1 39h2m-15 -38h2m8 13h2m-21 10h2m-18 -77h2m13 36h2m7 -40h2m78 30h2m9 7h2m-52 -40h2m-81 16h2m17 20h2m43 -7h2m51 -3h2m-11 6h2m-110 -30h2m77 28h2m-58 -19h2m19 19h2m12 4h2m83 -12h2m-95 19h2m-14 -28h2m96 5h2m-106 9h2m81 -19h2m-92 20h2m125 5h2m-37 3h2m27 7h2m-129 -38h2m58 4h2m24 13h2m-27 -4h2m-18 -12h2m-9 11h2m77 -7h2m-73 -6h2m-44 -5h2m-16 42h2m82 -25h2m-42 12h2m96 -22h2m-113 31h2m9 -35h2m-41 5h2m117 24h2m-54 -3h2m10 -20h2m-22 17h2m-39 9h2m98 -23h2m-123 6h2m40 5h2m-7 -16h2m-35 -3h2m90 -1h2m-106 6h2m40 21h2m-3 -20h2m37 37h2m60 -15h2m-5 -17h2m1 -13h2m-52 42h2m18 -18h2m-95 12h2m-24 10h2m64 -39h2m27 -4h2m-73 2h2m88 18h2m24 -14h2m-78 2h2m-73 8h2m86 -2h2m-26 28h2m-28 -13h2m7 -20h2m-9 -10h2m88 37h2m-41 -28h2m22 11h2m22 9h2m-133 -31h2m49 11h2m84 0h2m-75 10h2m85 -7h2m-87 -13h2m-15 26h2m26 -30h2m-90 41h2m22 -15h2m156 37h2m26 30h2m-59 -32h2m-9 -1h2m43 -21h2m-13 -25h2m26 70h2m-47 1h2m4 -38h2m5 13h2m-9 -51h2m-22 2h2m21 -10h2m-2 57h2m23 1h2" stroke="#dc0a7a" stroke-width="2" fill="none" opacity="0.9"/>
<rect x="431.1" y="2096.6" width="287.2" height="232.5" fill="none" stroke="#262626" stroke-width="2.4"/>
<line x1="506.2" y1="2096.6" x2="506.2" y2="2329.1" stroke="#262626" stroke-width="2" stroke-linecap="butt"/>
<line x1="431.1" y1="2269.6" x2="718.3" y2="2269.6" stroke="#262626" stroke-width="2" stroke-linecap="butt"/>
<line x1="425.1" y1="2329.1" x2="431.1" y2="2329.1" stroke="#444" stroke-width="1.2" stroke-linecap="butt"/>
<line x1="428.1" y1="2311.6" x2="431.1" y2="2311.6" stroke="#444" stroke-width="1.2" stroke-linecap="butt"/>
<line x1="428.1" y1="2301.4" x2="431.1" y2="2301.4" stroke="#444" stroke-width="1.2" stroke-linecap="butt"/>
<line x1="428.1" y1="2294.1" x2="431.1" y2="2294.1" stroke="#444" stroke-width="1.2" stroke-linecap="butt"/>
<line x1="428.1" y1="2288.5" x2="431.1" y2="2288.5" stroke="#444" stroke-width="1.2" stroke-linecap="butt"/>
<line x1="428.1" y1="2283.9" x2="431.1" y2="2283.9" stroke="#444" stroke-width="1.2" stroke-linecap="butt"/>
<line x1="428.1" y1="2280.0" x2="431.1" y2="2280.0" stroke="#444" stroke-width="1.2" stroke-linecap="butt"/>
<line x1="428.1" y1="2276.6" x2="431.1" y2="2276.6" stroke="#444" stroke-width="1.2" stroke-linecap="butt"/>
<line x1="428.1" y1="2273.6" x2="431.1" y2="2273.6" stroke="#444" stroke-width="1.2" stroke-linecap="butt"/>
<line x1="425.1" y1="2271.0" x2="431.1" y2="2271.0" stroke="#444" stroke-width="1.2" stroke-linecap="butt"/>
<line x1="428.1" y1="2253.5" x2="431.1" y2="2253.5" stroke="#444" stroke-width="1.2" stroke-linecap="butt"/>
<line x1="428.1" y1="2243.2" x2="431.1" y2="2243.2" stroke="#444" stroke-width="1.2" stroke-linecap="butt"/>
<line x1="428.1" y1="2236.0" x2="431.1" y2="2236.0" stroke="#444" stroke-width="1.2" stroke-linecap="butt"/>
<line x1="428.1" y1="2230.3" x2="431.1" y2="2230.3" stroke="#444" stroke-width="1.2" stroke-linecap="butt"/>
<line x1="428.1" y1="2225.7" x2="431.1" y2="2225.7" stroke="#444" stroke-width="1.2" stroke-linecap="butt"/>
<line x1="428.1" y1="2221.9" x2="431.1" y2="2221.9" stroke="#444" stroke-width="1.2" stroke-linecap="butt"/>
<line x1="428.1" y1="2218.5" x2="431.1" y2="2218.5" stroke="#444" stroke-width="1.2" stroke-linecap="butt"/>
<line x1="428.1" y1="2215.5" x2="431.1" y2="2215.5" stroke="#444" stroke-width="1.2" stroke-linecap="butt"/>
<line x1="425.1" y1="2212.8" x2="431.1" y2="2212.8" stroke="#444" stroke-width="1.2" stroke-linecap="butt"/>
<line x1="428.1" y1="2195.4" x2="431.1" y2="2195.4" stroke="#444" stroke-width="1.2" stroke-linecap="butt"/>
<line x1="428.1" y1="2185.1" x2="431.1" y2="2185.1" stroke="#444" stroke-width="1.2" stroke-linecap="butt"/>
<line x1="428.1" y1="2177.9" x2="431.1" y2="2177.9" stroke="#444" stroke-width="1.2" stroke-linecap="butt"/>
<line x1="428.1" y1="2172.2" x2="431.1" y2="2172.2" stroke="#444" stroke-width="1.2" stroke-linecap="butt"/>
<line x1="428.1" y1="2167.6" x2="431.1" y2="2167.6" stroke="#444" stroke-width="1.2" stroke-linecap="butt"/>
<line x1="428.1" y1="2163.7" x2="431.1" y2="2163.7" stroke="#444" stroke-width="1.2" stroke-linecap="butt"/>
<line x1="428.1" y1="2160.4" x2="431.1" y2="2160.4" stroke="#444" stroke-width="1.2" stroke-linecap="butt"/>
<line x1="428.1" y1="2157.4" x2="431.1" y2="2157.4" stroke="#444" stroke-width="1.2" stroke-linecap="butt"/>
<line x1="425.1" y1="2154.7" x2="431.1" y2="2154.7" stroke="#444" stroke-width="1.2" stroke-linecap="butt"/>
<line x1="428.1" y1="2137.2" x2="431.1" y2="2137.2" stroke="#444" stroke-width="1.2" stroke-linecap="butt"/>
<line x1="428.1" y1="2127.0" x2="431.1" y2="2127.0" stroke="#444" stroke-width="1.2" stroke-linecap="butt"/>
<line x1="428.1" y1="2119.7" x2="431.1" y2="2119.7" stroke="#444" stroke-width="1.2" stroke-linecap="butt"/>
<line x1="428.1" y1="2114.1" x2="431.1" y2="2114.1" stroke="#444" stroke-width="1.2" stroke-linecap="butt"/>
<line x1="428.1" y1="2109.5" x2="431.1" y2="2109.5" stroke="#444" stroke-width="1.2" stroke-linecap="butt"/>
<line x1="428.1" y1="2105.6" x2="431.1" y2="2105.6" stroke="#444" stroke-width="1.2" stroke-linecap="butt"/>
<line x1="428.1" y1="2102.2" x2="431.1" y2="2102.2" stroke="#444" stroke-width="1.2" stroke-linecap="butt"/>
<line x1="428.1" y1="2099.3" x2="431.1" y2="2099.3" stroke="#444" stroke-width="1.2" stroke-linecap="butt"/>
<line x1="425.1" y1="2096.6" x2="431.1" y2="2096.6" stroke="#444" stroke-width="1.2" stroke-linecap="butt"/>
<line x1="431.1" y1="2329.1" x2="431.1" y2="2335.1" stroke="#444" stroke-width="1.2" stroke-linecap="butt"/>
<line x1="452.7" y1="2329.1" x2="452.7" y2="2332.1" stroke="#444" stroke-width="1.2" stroke-linecap="butt"/>
<line x1="465.4" y1="2329.1" x2="465.4" y2="2332.1" stroke="#444" stroke-width="1.2" stroke-linecap="butt"/>
<line x1="474.3" y1="2329.1" x2="474.3" y2="2332.1" stroke="#444" stroke-width="1.2" stroke-linecap="butt"/>
<line x1="481.3" y1="2329.1" x2="481.3" y2="2332.1" stroke="#444" stroke-width="1.2" stroke-linecap="butt"/>
<line x1="487.0" y1="2329.1" x2="487.0" y2="2332.1" stroke="#444" stroke-width="1.2" stroke-linecap="butt"/>
<line x1="491.8" y1="2329.1" x2="491.8" y2="2332.1" stroke="#444" stroke-width="1.2" stroke-linecap="butt"/>
<line x1="495.9" y1="2329.1" x2="495.9" y2="2332.1" stroke="#444" stroke-width="1.2" stroke-linecap="butt"/>
<line x1="499.6" y1="2329.1" x2="499.6" y2="2332.1" stroke="#444" stroke-width="1.2" stroke-linecap="butt"/>
<line x1="502.9" y1="2329.1" x2="502.9" y2="2335.1" stroke="#444" stroke-width="1.2" stroke-linecap="butt"/>
<line x1="524.5" y1="2329.1" x2="524.5" y2="2332.1" stroke="#444" stroke-width="1.2" stroke-linecap="butt"/>
<line x1="537.2" y1="2329.1" x2="537.2" y2="2332.1" stroke="#444" stroke-width="1.2" stroke-linecap="butt"/>
<line x1="546.1" y1="2329.1" x2="546.1" y2="2332.1" stroke="#444" stroke-width="1.2" stroke-linecap="butt"/>
<line x1="553.1" y1="2329.1" x2="553.1" y2="2332.1" stroke="#444" stroke-width="1.2" stroke-linecap="butt"/>
<line x1="558.8" y1="2329.1" x2="558.8" y2="2332.1" stroke="#444" stroke-width="1.2" stroke-linecap="butt"/>
<line x1="563.6" y1="2329.1" x2="563.6" y2="2332.1" stroke="#444" stroke-width="1.2" stroke-linecap="butt"/>
<line x1="567.7" y1="2329.1" x2="567.7" y2="2332.1" stroke="#444" stroke-width="1.2" stroke-linecap="butt"/>
<line x1="571.4" y1="2329.1" x2="571.4" y2="2332.1" stroke="#444" stroke-width="1.2" stroke-linecap="butt"/>
<line x1="574.7" y1="2329.1" x2="574.7" y2="2335.1" stroke="#444" stroke-width="1.2" stroke-linecap="butt"/>
<line x1="596.3" y1="2329.1" x2="596.3" y2="2332.1" stroke="#444" stroke-width="1.2" stroke-linecap="butt"/>
<line x1="609.0" y1="2329.1" x2="609.0" y2="2332.1" stroke="#444" stroke-width="1.2" stroke-linecap="butt"/>
<line x1="617.9" y1="2329.1" x2="617.9" y2="2332.1" stroke="#444" stroke-width="1.2" stroke-linecap="butt"/>
<line x1="624.9" y1="2329.1" x2="624.9" y2="2332.1" stroke="#444" stroke-width="1.2" stroke-linecap="butt"/>
<line x1="630.6" y1="2329.1" x2="630.6" y2="2332.1" stroke="#444" stroke-width="1.2" stroke-linecap="butt"/>
<line x1="635.4" y1="2329.1" x2="635.4" y2="2332.1" stroke="#444" stroke-width="1.2" stroke-linecap="butt"/>
<line x1="639.5" y1="2329.1" x2="639.5" y2="2332.1" stroke="#444" stroke-width="1.2" stroke-linecap="butt"/>
<line x1="643.2" y1="2329.1" x2="643.2" y2="2332.1" stroke="#444" stroke-width="1.2" stroke-linecap="butt"/>
<line x1="646.5" y1="2329.1" x2="646.5" y2="2335.1" stroke="#444" stroke-width="1.2" stroke-linecap="butt"/>
<line x1="668.1" y1="2329.1" x2="668.1" y2="2332.1" stroke="#444" stroke-width="1.2" stroke-linecap="butt"/>
<line x1="680.8" y1="2329.1" x2="680.8" y2="2332.1" stroke="#444" stroke-width="1.2" stroke-linecap="butt"/>
<line x1="689.7" y1="2329.1" x2="689.7" y2="2332.1" stroke="#444" stroke-width="1.2" stroke-linecap="butt"/>
<line x1="696.7" y1="2329.1" x2="696.7" y2="2332.1" stroke="#444" stroke-width="1.2" stroke-linecap="butt"/>
<line x1="702.4" y1="2329.1" x2="702.4" y2="2332.1" stroke="#444" stroke-width="1.2" stroke-linecap="butt"/>
<line x1="707.2" y1="2329.1" x2="707.2" y2="2332.1" stroke="#444" stroke-width="1.2" stroke-linecap="butt"/>
<line x1="711.3" y1="2329.1" x2="711.3" y2="2332.1" stroke="#444" stroke-width="1.2" stroke-linecap="butt"/>
<line x1="715.0" y1="2329.1" x2="715.0" y2="2332.1" stroke="#444" stroke-width="1.2" stroke-linecap="butt"/>
<line x1="718.3" y1="2329.1" x2="718.3" y2="2335.1" stroke="#444" stroke-width="1.2" stroke-linecap="butt"/>
<path d="M790 2286h2m2 10h2m-10 -9h2m-10 -13h2m4 13h2m-9 2h2m12 11h2m14 -24h2m-25 11h2m-4 -21h2m12 30h2m-3 -22h2m-6 -9h2m-15 22h2m10 15h2m7 -34h2m-28 6h2m9 4h2m-21 -5h2m6 20h2m-9 -15h2m19 1h2m-15 17h2m18 -18h2m-4 16h2m-6 -19h2m-33 -3h2m24 -8h2m4 48h2m0 -28h2m-23 7h2m12 -3h2m-9 2h2m0 -1h2m23 24h2m-26 -39h2m8 -6h2m9 7h2m-21 -4h2m5 27h2m0 1h2m-2 -23h2m-19 -6h2m15 13h2m15 23h2m-40 -55h2m29 44h2m-11 -21h2m-12 28h2m32 -28h2m-18 10h2m-28 -16h2m15 7h2m4 31h2m-11 -7h2m9 -16h2m-12 -6h2m8 -14h2m8 20h2m-30 5h2m10 -1h2m-11 0h2m6 -14h2m-19 14h2m5 0h2m3 18h2m13 7h2m1 -26h2m-34 -8h2m5 9h2m16 -7h2m-36 -2h2m18 9h2m3 -13h2m15 22h2m-9 -9h2m-15 4h2m-3 -5h2m0 -7h2m21 -3h2m-28 9h2m0 -4h2m7 10h2m-9 -3h2m-3 -18h2m-13 19h2m12 -18h2m-8 9h2m19 4h2m-9 -23h2m-10 28h2m7 1h2m-15 -4h2m16 -4h2m-16 1h2m6 -8h2m-27 9h2m20 -3h2m-29 8h2m-6 -17h2m20 19h2m-10 -1h2m12 -4h2m25 -4h2m-42 13h2m1 -29h2m9 28h2m1 -3h2m-10 1h2m-3 1h2m10 -13h2m-4 5h2m-22 11h2m10 -2h2m-1 -3h2m-16 -23h2m15 27h2m-16 8h2m22 -2h2m-12 -10h2m-4 -23h2m-11 32h2m4 -14h2m-26 -31h2m9 38h2m18 -24h2m-35 2h2m37 9h2m-36 25h2m31 -22h2m-23 9h2m19 19h2m-10 -2h2m-24 -22h2m34 -2h2m1 -13h2m-22 7h2m-5 15h2m0 -1h2m-13 -4h2m25 12h2m-23 -23h2m4 9h2m-11 11h2m0 -2h2m-11 6h2m31 -9h2m-20 -9h2m13 9h2m-15 -18h2m-11 -8h2m3 29h2m-5 -9h2m5 5h2m-7 -26h2m-1 17h2m-16 -3h2m6 -3h2m30 -18h2m-33 25h2m-7 16h2m16 -7h2m12 -13h2m-39 8h2m14 10h2m-7 -46h2m-17 34h2m31 9h2m-12 2h2m-1 13h2m-13 -7h2m14 -11h2m-15 0h2m3 6h2m-14 -17h2m-4 6h2m31 13h2m-26 13h2m9 -27h2m-6 1h2m-8 4h2m-3 14h2m13 -17h2m-14 19h2m0 -32h2m0 11h2m13 -1h2m-8 13h2m-6 4h2m-14 -34h2m-13 8h2m28 16h2m-1 -13h2m-17 -11h2m7 34h2m1 -8h2m-1 0h2m-1 -12h2m-20 19h2m24 -16h2m-38 17h2m25 -26h2m-7 1h2m3 14h2m11 -12h2m-7 18h2m-36 -6h2m-9 -15h2m31 13h2m-26 -6h2m11 17h2m9 -20h2m-34 2h2m-8 22h2m28 13h2m-4 -3h2m-6 -25h2m2 2h2m-14 17h2m-11 -22h2m16 -11h2m-13 15h2m-10 4h2m26 -17h2m-10 -10h2m4 2h2m-20 28h2m2 -19h2m-6 8h2m-1 5h2m13 5h2m-15 -12h2m13 10h2m-3 -18h2m20 7h2m-46 -8h2m28 28h2m-15 -15h2m-1 -10h2m-21 5h2m11 2h2m14 12h2m-13 -30h2m0 8h2m-7 8h2m17 38h2m-17 -21h2m-31 -13h2m18 10h2m-19 18h2m-18 -30h2m33 -2h2m22 21h2m-18 -10h2m-18 3h2m1 -16h2m25 32h2m-15 -3h2m-3 -15h2m-4 2h2m-1 -35h2m8 34h2m-5 -11h2m-6 9h2m-19 3h2m19 -13h2m-18 -18h2m21 27h2m-33 -15h2m13 6h2m0 -4h2m-19 4h2m37 -26h2m-5 46h2m-27 -13h2m14 11h2m-7 12h2m-41 -26h2m35 -23h2m-6 11h2m0 -4h2m-17 9h2m8 8h2m0 -27h2m15 30h2m-13 -24h2m-6 24h2m18 -5h2m-29 -3h2m0 3h2m-21 -6h2m42 -1h2m-9 -14h2m-3 22h2m-5 24h2m-10 2h2m0 -9h2m-8 -8h2m-2 -18h2m2 28h2m17 -20h2m-15 0h2m-10 -3h2m-9 5h2m-2 -7h2m27 5h2m-16 -13h2m-8 9h2m-8 35h2m-11 -31h2m11 -2h2m10 10h2m-18 2h2m0 -23h2m-2 11h2m2 15h2m-24 -8h2m16 -2h2m-10 18h2m20 -29h2m-23 10h2m16 -8h2m10 26h2m-26 -44h2m-6 16h2m8 2h2m-4 16h2m-15 -1h2m17 10h2m18 -38h2m-31 30h2m-2 -14h2m-13 -5h2m16 16h2m-22 -19h2m0 -15h2m29 22h2m-31 -14h2m24 11h2m4 13h2m-19 -1h2m2 17h2m16 -24h2m-30 -17h2m-7 10h2m-12 -2h2m17 -4h2m16 22h2m-9 -14h2m-26 -18h2m-1 35h2m2 -10h2m9 6h2m-9 -4h2m4 7h2m-1 -8h2m-10 16h2m1 -10h2m2 -1h2m-6 0h2m6 -24h2m15 17h2m-18 -1h2m-9 6h2m-25 -21h2m25 39h2m-32 -20h2m5 -17h2m27 -6h2m-4 18h2m-13 3h2m-22 -8h2m15 10h2m-6 -9h2m15 15h2m19 -16h2m-28 8h2m-15 14h2m-7 20h2m12 -46h2m-3 7h2m-15 -5h2m15 21h2m-19 -25h2m27 9h2m-2 6h2m-2 -13h2m-22 1h2m11 6h2m-11 -21h2m-5 8h2m-1 14h2m-15 7h2m-4 -4h2m27 -21h2m-14 17h2m3 16h2m8 -3h2m-38 -8h2m11 -11h2m10 20h2m1 -16h2m-12 -7h2m16 5h2m-12 29h2m-21 -16h2m2 12h2m20 -21h2m-6 18h2m-33 -20h2m41 6h2m-12 34h2m7 -22h2m-24 -17h2m-1 6h2m-13 5h2m46 12h2m-37 -22h2m21 -17h2m-31 19h2m8 4h2m-26 1h2m15 16h2m16 -13h2m-31 7h2m28 -25h2m-12 25h2m-20 16h2m5 -17h2m-1 -7h2m3 -1h2m-8 21h2m-6 -35h2m5 11h2m-11 7h2m-6 4h2m14 -16h2m10 10h2m-33 -8h2m18 6h2m-10 -4h2m-7 -13h2m22 15h2m-20 11h2m24 -24h2m-31 10h2m13 12h2m-10 -23h2m-9 16h2m16 -16h2m25 -10h2m5 -12h2m-4 -2h2m-15 5h2m3 -7h2m-5 7h2m-2 18h2m6 -18h2m-19 12h2m12 -15h2m-8 12h2m6 -4h2m-9 2h2m-7 4h2m4 8h2m0 -11h2m-6 0h2m1 -8h2m-8 11h2m-12 -6h2m16 8h2m-3 -6h2m-5 12h2m-3 -26h2m4 12h2m-11 8h2m-3 -8h2m1 -4h2m6 4h2m-17 -8h2m13 11h2m-13 16h2m-5 -9h2m13 -16h2m-11 2h2m-9 3h2m4 10h2m6 -13h2m-1 1h2m-12 11h2m3 0h2m0 -9h2m-10 -5h2m4 -3h2m-4 6h2m-5 -11h2m-2 21h2m1 -9h2m-2 7h2m-5 10h2m-2 -5h2m8 -16h2m-8 14h2m2 2h2m0 -13h2m-5 -2h2m8 6h2m-21 -10h2m8 21h2m-9 -27h2m11 9h2m-3 6h2m-24 0h2m4 3h2m8 1h2m-1 -3h2m-3 9h2m-6 -23h2m1 15h2m-1 -5h2m-6 6h2m4 1h2m-22 -8h2m16 2h2m-12 10h2m10 -4h2m-9 -7h2m-6 19h2m5 2h2m-9 -26h2m-2 12h2m-6 16h2m7 -13h2m1 -3h2m1 -3h2m-9 -3h2m5 3h2m-8 -3h2m-3 9h2m2 -8h2m1 0h2m-10 -5h2m-1 8h2m-2 -6h2m-1 5h2m-7 8h2m9 -4h2m-10 1h2m3 -2h2m-10 -2h2m5 -1h2m-2 -1h2m-7 7h2m13 -13h2m-12 17h2m7 -9h2m-7 -5h2m-12 2h2m0 -2h2m3 6h2m-5 -6h2m-2 13h2m-4 -13h2m-11 -11h2m8 11h2m-14 -9h2m13 14h2m-8 7h2m-2 -2h2m1 -14h2m2 28h2m34 -12h2m-23 16h2m-6 5h2m13 -28h2m17 9h2m-18 -2h2m-18 25h2m1 15h2m2 -13h2m-20 -18h2m-8 27h2m14 -45h2m-16 45h2m10 -32h2m0 -32h2m30 82h2m-47 -16h2m8 -39h2m-2 18h2m6 -6h2m7 5h2m-24 -24h2m-6 12h2m-14 17h2m8 -4h2m19 15h2m-9 -17h2m-17 34h2m7 -46h2m3 15h2m5 -33h2m-17 10h2m2 39h2m-23 -34h2m7 22h2m37 -9h2m-56 -15h2m24 11h2m6 -3h2m-10 1h2m-8 18h2m8 -1h2m-1 -19h2m-3 -5h2m-27 18h2m22 -6h2m-12 17h2m2 25h2m9 -27h2m4 -14h2m2 -2h2m-22 -10h2m18 -1h2m1 -1h2m-2 9h2m1 0h2m-23 17h2m-2 -17h2m12 3h2m-33 -15h2m20 43h2m-12 -17h2m0 19h2m-21 -15h2m10 10h2m10 -26h2m10 15h2m0 30h2m-17 -59h2m-4 36h2m-11 7h2m16 -19h2m-11 5h2m9 8h2m15 -29h2m-27 16h2m-23 -19h2m7 3h2m-10 1h2m1 7h2m33 4h2m-17 5h2m-26 -29h2m28 52h2m7 -12h2m-25 -7h2m-6 -16h2m2 4h2m7 9h2m3 -2h2m6 -32h2m-2 37h2m0 -39h2m-12 43h2m-32 -9h2m17 -8h2m4 23h2m-11 -39h2m16 21h2m-20 20h2m-10 -26h2m31 -3h2m-13 8h2m-8 -9h2m8 31h2m0 -38h2m-12 27h2m-41 -32h2m23 29h2m1 -12h2m-10 -38h2m15 40h2m12 -16h2m-26 9h2m-11 31h2m42 -41h2m-36 1h2m-13 38h2m18 -20h2m1 22h2m-18 -19h2m19 -19h2m-20 13h2m-8 20h2m14 -4h2m6 -15h2m-22 1h2m12 -3h2m-8 -7h2m39 39h2m-52 -30h2m27 -17h2m-22 10h2m-3 18h2m10 -1h2m1 -12h2m3 -8h2m-15 10h2m-15 -26h2m-2 6h2m13 32h2m-1 -19h2m10 13h2m-16 13h2m7 -9h2m4 -10h2m-21 33h2m-25 -23h2m2 -15h2m-5 16h2m40 -5h2m-36 -19h2m27 14h2m-11 -4h2m14 -27h2m-12 27h2m-17 -1h2m-4 -3h2m2 -18h2m-1 20h2m-11 4h2m5 3h2m21 -20h2m-49 28h2m26 -29h2m-19 16h2m14 23h2m7 -31h2m-15 3h2m10 25h2m-35 -23h2m35 1h2m-25 8h2m15 13h2m-8 -50h2m-41 21h2m23 -3h2m12 -1h2m17 4h2m-20 0h2m-2 18h2m-26 -19h2m38 16h2m3 4h2m-27 -17h2m-5 13h2m-22 23h2m33 -20h2m24 -15h2m-30 9h2m6 -13h2m-12 18h2m-24 9h2m31 -26h2m-38 10h2m12 20h2m5 -25h2m6 11h2m-8 -19h2m-3 3h2m-18 5h2m-9 41h2m17 -39h2m-13 -2h2m-10 0h2m-2 6h2m9 12h2m-21 -7h2m5 28h2m-6 -28h2m24 19h2m1 -18h2m20 5h2m-51 -31h2m9 20h2m21 1h2m-18 -3h2m-4 -28h2m27 45h2m-31 -19h2m-13 -1h2m-4 3h2m21 1h2m-3 9h2m-25 -25h2m3 5h2m19 18h2m-1 -2h2m-19 -8h2m16 -3h2m-3 -4h2m-35 12h2m19 19h2m8 -34h2m-16 39h2m-24 -10h2m24 -20h2m13 19h2m9 -34h2m-55 -4h2m66 7h2m-55 13h2m27 1h2m2 -3h2m-5 9h2m-14 -33h2m-20 39h2m23 -28h2m-21 11h2m-27 4h2m73 -11h2m-32 -4h2m13 6h2m-40 15h2m32 9h2m-1 -1h2m-2 -23h2m-24 3h2m-19 -2h2m13 21h2m-31 -38h2m5 50h2m23 -26h2m-17 -5h2m10 17h2m-2 10h2m27 -10h2m-11 11h2m-21 -14h2m16 16h2m-30 1h2m4 -20h2m16 23h2m-32 -20h2m11 -1h2m-16 -15h2m18 10h2m19 16h2m-36 -32h2m12 30h2m-18 -5h2m-5 -1h2m-3 -37h2m35 31h2m11 12h2m-28 -21h2m-19 12h2m18 -37h2m-17 46h2m14 -20h2m-9 23h2m-2 -41h2m3 38h2m-19 -14h2m0 16h2m-20 -26h2m16 5h2m-16 43h2m20 -59h2m74 -62h2m0 19h2m-66 37h2m-12 16h2m57 -72h2m-5 45h2m-73 2h2m56 -23h2m-44 15h2m37 -25h2m-31 26h2m-18 6h2m-25 26h2m11 -41h2m55 -41h2m-22 66h2m23 -15h2m16 -24h2m-65 29h2m-6 9h2m43 -37h2m-50 57h2m39 -84h2m-8 23h2m-36 34h2m24 -42h2m-15 13h2m29 14h2m-40 3h2m23 -8h2m-27 28h2m-3 -2h2m-4 7h2m46 -63h2m-10 10h2m-37 43h2m40 -39h2m-19 10h2m-7 31h2m-42 5h2m63 -68h2m-48 18h2m24 1h2m15 -16h2m-50 47h2m55 -20h2m-62 31h2m23 -42h2m41 6h2m-5 -15h2m-15 3h2m-1 8h2m-6 24h2m-25 18h2m-4 -34h2m-33 16h2m-5 14h2m18 -35h2m32 -5h2m2 -3h2m-59 63h2m56 -69h2m-99 35h2m58 -9h2m7 -29h2m35 10h2m0 7h2m-45 40h2m-2 -29h2m28 -1h2m-36 18h2m25 -29h2m-5 -23h2m-30 27h2m61 0h2m-57 37h2m39 -35h2m-28 13h2m-20 3h2m9 -11h2m13 -7h2m-1 23h2m-42 17h2m48 -57h2m-5 0h2m-33 64h2m35 -55h2m-33 10h2m-5 53h2m43 -57h2m-38 19h2m4 2h2m48 -12h2m-53 3h2m-35 36h2m43 -64h2m-30 13h2m15 -32h2m-22 78h2m35 -67h2m-5 26h2m-54 12h2m-2 -5h2m9 14h2m-42 24h2m49 -9h2m9 8h2m7 -4h2m17 -31h2m-49 1h2m4 8h2m-61 10h2m46 -12h2m33 -18h2m-5 16h2m2 -4h2m-15 13h2m2 -19h2m29 -22h2m-36 54h2m-21 -44h2m19 3h2m-59 61h2m107 -101h2m-41 50h2m-29 31h2m7 -57h2m22 48h2m-21 -52h2m23 32h2m-66 49h2m40 -33h2m0 -26h2m30 -3h2m-32 1h2m-12 22h2m-15 -11h2m6 0h2m16 16h2m7 -45h2m1 13h2m-19 12h2m-5 -29h2m-29 79h2m20 -50h2m2 -5h2m15 2h2m-66 17h2m21 -9h2m30 -11h2m-64 35h2m12 6h2m41 -31h2m10 -1h2m-36 21h2m27 -21h2m-34 17h2m-13 -3h2m27 -22h2m14 15h2m7 -9h2m-10 14h2m-57 26h2m53 -41h2m-7 1h2m-30 22h2m19 -28h2m27 11h2m-4 18h2m-12 -46h2m-50 46h2m2 23h2m-3 -47h2m5 20h2m6 1h2m23 -14h2m-52 21h2m34 -37h2m6 -17h2m-40 68h2m-4 -31h2m45 -23h2m-14 -9h2m12 20h2m-14 12h2m6 8h2m-15 -25h2m-28 35h2m35 -35h2m-24 37h2m3 4h2m5 -17h2m-43 43h2m33 -41h2m14 -13h2m-4 -2h2m20 -23h2m-23 19h2m-40 16h2m38 -44h2m-55 54h2m55 -26h2m-40 34h2m-10 -19h2m67 -47h2m-27 23h2m-21 41h2m42 -35h2m-33 7h2m-10 -8h2m-28 38h2m5 -31h2m-7 -2h2m12 4h2m23 -17h2m-67 49h2m14 -18h2m20 -9h2m17 -4h2m-17 -36h2m-25 44h2m11 3h2m34 -41h2m-48 49h2m-41 9h2m27 -11h2m21 -30h2m39 -14h2m-27 43h2m9 -28h2m-20 -5h2m12 14h2m-7 7h2m-13 15h2m-37 -5h2m30 20h2m30 -55h2m-17 4h2m8 -3h2m-50 49h2m68 -39h2m-41 29h2m29 -39h2m-18 30h2m-17 -7h2m35 -6h2m-36 -16h2m-29 -5h2m12 57h2m12 -51h2m-40 27h2m-7 19h2m-9 -8h2m69 -20h2m-42 35h2m3 -76h2m-17 78h2m-24 23h2m105 -84h2m-97 39h2m-5 -2h2m10 30h2m-8 -36h2m11 4h2m1 -25h2m-19 51h2m75 -50h2m-44 -3h2m12 12h2m-42 17h2m32 -1h2m-34 3h2m-1 -2h2m56 -30h2m-73 36h2m38 -12h2m9 -14h2m-67 22h2m-18 27h2m104 -60h2m-42 19h2m-32 14h2m52 -28h2m-78 36h2m17 -21h2m-12 25h2m36 -6h2m-34 -20h2m21 23h2m17 -29h2m-7 -3h2m11 -13h2m-22 38h2m9 -23h2m-50 53h2m65 -47h2m-54 27h2m3 -4h2m-9 -8h2m-5 26h2m-16 -9h2m60 -34h2m-8 -5h2m-39 35h2m25 -7h2m-18 -12h2m1 -13h2m29 8h2m2 -32h2m-68 54h2m68 -56h2m-9 3h2m-44 45h2m30 -14h2m30 -18h2m-15 35h2m-55 -5h2m51 20h2m-9 -41h2m-51 38h2m32 -33h2m-44 -2h2m90 -15h2m-40 8h2m-77 62h2m87 -79h2m-32 42h2m-41 7h2m-14 -11h2m70 -49h2m-30 53h2m10 -16h2m35 -14h2m-16 12h2m-38 -7h2m-19 50h2m-23 -7h2m57 -42h2m11 11h2m-5 -4h2m-47 1h2m23 -16h2m-13 2h2m3 21h2m-12 16h2m-3 -17h2m-21 -5h2m19 -5h2m8 25h2m-65 7h2m29 -8h2m10 29h2m48 -62h2m-40 -2h2m14 -10h2m-17 24h2m-17 37h2m2 -20h2m20 -35h2m4 24h2m9 -12h2m-32 5h2m-33 42h2m48 -38h2m-17 33h2m-1 -31h2m-40 13h2m51 -13h2m-34 8h2m2 -28h2m-5 23h2m32 -16h2m-37 25h2m18 -11h2m3 -13h2m4 12h2m6 -9h2m-33 19h2m46 -32h2m-69 36h2m38 -30h2m17 -5h2m-16 18h2m35 -19h2m-45 3h2m-11 -6h2m-21 56h2m36 -53h2m-25 24h2m12 20h2m-29 4h2m28 -14h2m9 -15h2m-28 16h2m34 -41h2m-32 39h2m11 -51h2m-25 32h2m21 22h2m-10 -11h2m-36 44h2m-7 -26h2m36 -30h2m-4 -9h2m41 -13h2m-54 44h2m37 -37h2m-51 56h2m55 -49h2m-11 0h2m-55 35h2m21 -55h2m12 25h2m23 -9h2m-32 14h2m-19 5h2m11 22h2m-11 -3h2m30 -27h2m-33 -10h2m-25 42h2m18 -29h2m-33 31h2m12 -14h2m-14 14h2m42 4h2m12 -16h2m-41 0h2m-13 3h2m-10 -22h2m35 6h2m-63 30h2m39 -24h2m-1 12h2m-36 39h2m22 -54h2m31 -12h2m-2 -10h2m-11 5h2m-25 40h2m36 -40h2m-11 37h2m-22 5h2m0 -21h2m45 -15h2m-37 -1h2m19 22h2m-42 17h2m38 -30h2m-10 -20h2m-14 20h2m-57 7h2m38 -12h2m32 -17h2m-28 26h2m-20 9h2m12 -22h2m-28 22h2m0 22h2m1 -18h2m44 -53h2m-51 81h2m28 -65h2m46 -10h2m-67 24h2m50 2h2m-75 33h2m56 -23h2m-26 -14h2m-2 -18h2m2 20h2m41 -30h2m-39 15h2m14 -3h2m-24 16h2m-18 30h2m51 -48h2m-21 25h2m-20 -31h2m5 28h2m33 -30h2m-81 72h2m20 -26h2m-42 6h2m8 16h2m69 -51h2m-66 61h2m9 -30h2m-7 0h2m78 -23h2m-87 25h2m13 -16h2m65 -36h2m-28 30h2m-7 -5h2m9 -16h2m-87 51h2m51 -15h2m14 -27h2m2 -3h2m4 25h2m-45 39h2m-7 -14h2m49 -64h2m-32 23h2m-45 34h2m4 8h2m30 -12h2m-30 -10h2m52 -13h2m-47 8h2m34 -3h2m-39 24h2m31 -10h2m-43 3h2m65 -48h2m-28 16h2m-38 24h2m67 -46h2m7 8h2m1 6h2m-24 1h2m-28 16h2m17 -10h2m-14 -5h2m41 7h2m-25 -2h2m2 8h2m-20 -6h2m-34 14h2m23 -5h2m-9 -15h2m27 -5h2m-7 15h2m-20 -4h2m6 -7h2m37 -15h2m-52 -4h2m-1 24h2m11 4h2m-11 1h2m3 -23h2m18 25h2m22 -17h2m-73 10h2m34 1h2m-1 -14h2m-5 2h2m-4 -16h2m-5 13h2m25 -10h2m-31 25h2m4 -4h2m1 9h2m0 -6h2m-7 -11h2m21 11h2m-22 -8h2m1 11h2m-6 -4h2m-21 -14h2m1 11h2m-6 1h2m23 -4h2m-20 13h2m-9 9h2m24 -23h2m4 0h2m-48 -21h2m67 24h2m-35 -4h2m-5 -19h2m21 27h2m-22 4h2m-15 -15h2m54 4h2m-67 -7h2m17 19h2m17 -25h2m-40 14h2m17 24h2m8 -20h2m38 4h2m-68 -7h2m15 -11h2m12 13h2m-13 4h2m-28 -15h2m30 15h2m-8 10h2m5 -2h2m12 -29h2m-5 6h2m-14 -7h2m-4 30h2m-30 -5h2m17 1h2m5 -18h2m-14 -3h2m8 14h2m-21 0h2m46 -10h2m10 11h2m-53 5h2m14 -4h2m-15 -14h2m28 -12h2m-18 20h2m-9 5h2m-8 -5h2m5 -2h2m-25 -3h2m32 16h2m-30 -9h2m23 2h2m-10 -12h2m17 4h2m-24 9h2m18 -13h2m-40 -3h2m28 10h2m-18 17h2m6 -11h2m-5 14h2m16 -17h2m-61 -2h2m44 -12h2m-38 9h2m52 22h2m-65 -12h2m17 4h2m-15 0h2m64 -8h2m-61 -2h2m26 3h2m-15 6h2m-27 -2h2m27 0h2m18 -3h2m-19 -10h2m21 5h2m-28 -7h2m5 21h2m-10 -34h2m13 21h2m29 28h2m-33 -30h2m-5 -8h2m-18 12h2m-5 14h2m42 -16h2m-53 9h2m2 -6h2m14 -5h2m-9 39h2m46 -34h2m-88 -7h2m52 1h2m5 9h2m-38 1h2m7 3h2m20 -6h2m22 -18h2m-53 22h2m-16 -9h2m49 0h2m9 -13h2m-39 10h2m-39 -2h2m71 8h2m-35 -16h2m24 17h2m-25 0h2m-9 -13h2m-3 5h2m36 -2h2m-2 19h2m-74 -38h2m22 24h2m53 -14h2m-45 13h2m-22 14h2m25 -16h2m-4 9h2m-2 -11h2m-10 30h2m2 -11h2m-5 2h2m14 -27h2m-50 37h2m28 -12h2m-20 23h2m-3 -13h2m7 11h2m-25 0h2m27 8h2m-13 -2h2m5 -16h2m-18 4h2m14 -11h2m-19 30h2m21 -13h2m1 10h2m-5 -17h2m-8 -17h2m0 35h2m-49 -14h2m48 0h2m-18 0h2m3 5h2m-7 -1h2m-17 -21h2m9 27h2m15 -16h2m9 0h2m-31 22h2m-6 -8h2m31 -12h2m-34 -16h2m39 21h2m-30 3h2m-15 -6h2m24 -11h2m8 4h2m-46 -5h2m40 15h2m-28 6h2m23 2h2m-28 -17h2m-19 9h2m27 4h2m4 -11h2m14 4h2m-7 22h2m-16 -19h2m-15 7h2m-6 -13h2m1 4h2m-10 -17h2m6 17h2m-34 12h2m37 9h2m-5 -9h2m34 -5h2m-27 -6h2m-20 -7h2m13 4h2m-27 8h2m7 -14h2m-20 17h2m44 -19h2m-14 -8h2m-26 8h2m13 -7h2m12 3h2m-8 25h2m-4 -13h2m-19 4h2m1 10h2m8 1h2m10 -18h2m-27 18h2m-6 -9h2m30 -4h2m-31 4h2m26 -18h2m-14 6h2m7 7h2m10 7h2m-16 -10h2m-1 3h2m-26 11h2m1 4h2m17 -6h2m10 5h2m-4 -17h2m11 1h2m-30 6h2m-3 -6h2m9 -2h2m-16 22h2m-3 -19h2m-16 -8h2m27 15h2m-31 13h2m20 -17h2m-29 11h2m33 -16h2m-31 -1h2m24 -2h2m-36 6h2m14 19h2m20 -30h2m-29 28h2m10 -26h2m-10 8h2m-27 10h2m34 -2h2m0 -3h2m-24 -19h2m22 20h2m-21 -14h2m-5 36h2m12 -28h2m-12 4h2m40 -13h2m-56 6h2m30 -8h2m2 23h2m-44 -13h2m2 9h2m30 -13h2m-17 2h2m10 18h2m9 -23h2m-23 -8h2m-12 22h2m-25 -15h2m39 7h2m-18 13h2m15 -17h2m-3 17h2m-24 -16h2m41 22h2m-11 -2h2m-5 -18h2m-31 3h2m9 -6h2m-4 10h2m0 9h2m-12 -25h2m20 23h2m-5 -22h2m0 4h2m-14 -9h2m23 39h2m-17 -20h2m-43 1h2m27 -9h2m6 18h2m13 -32h2m-20 21h2m-2 22h2m-7 -26h2m16 4h2m-17 7h2m-4 -15h2m-4 8h2m16 10h2m-33 42h2m61 -33h2m-23 23h2m-54 20h2m82 -43h2m-30 19h2m-18 -18h2m-32 -3h2m31 23h2m43 -2h2m-36 12h2m-14 14h2m13 -10h2m-8 -24h2m5 10h2m-44 12h2m-7 11h2m-16 -11h2m80 -11h2m-85 -24h2m24 47h2m31 -38h2m-11 8h2m38 31h2m-71 -44h2m-12 46h2m3 -44h2m32 -9h2m-23 27h2m15 19h2m21 -26h2m-39 29h2m33 -29h2m-67 27h2m51 -46h2m34 11h2m0 -10h2m-38 40h2m39 -17h2m-76 12h2m4 -28h2m13 33h2m4 17h2m29 -60h2m-39 16h2m-42 36h2m63 -2h2m-50 2h2m64 -42h2m-69 22h2m7 -31h2m-18 22h2m14 9h2m28 -20h2m-35 10h2m-24 -3h2m52 -18h2m12 -2h2m-64 47h2m29 -51h2m-37 64h2m-7 -6h2m33 6h2m-10 -13h2m57 -51h2m-89 8h2m62 13h2m6 -9h2m-33 -8h2m6 56h2m-27 -1h2m-2 -9h2m-22 -34h2m84 39h2m-90 -2h2m9 -32h2m56 -13h2m-28 1h2m3 18h2m-24 27h2m-15 -49h2m62 23h2m-70 -5h2m16 35h2m43 -48h2m-47 33h2m63 -22h2m-79 21h2m33 11h2m-1 1h2m-6 1h2m25 -36h2m-74 -1h2m48 -10h2m22 9h2m-76 -9h2m48 43h2m-13 -48h2m-6 9h2m12 39h2m6 -1h2m6 13h2m18 -38h2m-26 -22h2m32 50h2m-36 -34h2m-41 31h2m-14 -49h2m-10 1h2m18 37h2m-17 5h2m54 -7h2m-1 -2h2m-10 4h2m-25 -30h2m6 -5h2m-22 19h2m64 13h2m-92 -20h2m28 -4h2m23 17h2m-41 -2h2m65 -10h2m-39 43h2m-13 1h2m-33 -58h2m20 28h2m29 -16h2m-33 7h2m-25 -20h2m51 3h2m-30 -3h2m53 6h2m-18 34h2m1 -37h2m15 53h2m-10 -6h2m-50 -34h2m22 27h2m-33 17h2m-8 -54h2m-1 28h2m-12 -6h2m11 -10h2m-4 -1h2m43 -13h2m-44 36h2m-22 -29h2m35 14h2m-24 33h2m47 -37h2m-49 -2h2m32 40h2m-40 -23h2m28 -1h2m37 -23h2m-59 28h2m21 -17h2m-11 10h2m-39 -9h2m-7 -21h2m80 52h2m-52 -12h2m33 17h2m-30 -42h2m41 -2h2m-66 -9h2m26 11h2m5 1h2m22 -9h2m-78 5h2m31 2h2m10 37h2m9 -27h2m-47 24h2m38 -50h2m13 9h2m2 50h2m-53 -59h2m20 2h2m-16 29h2m7 -15h2m-5 -6h2m57 27h2m-96 0h2m92 -28h2m-94 23h2m3 -5h2m11 25h2m6 -51h2m55 11h2m-4 22h2m7 -35h2m-56 53h2m-39 8h2m59 -42h2m25 29h2m-81 -34h2m70 46h2m-85 -48h2m71 -14h2m-26 4h2m40 26h2m-6 -28h2m-84 62h2m43 -23h2m-28 -4h2m18 4h2m-39 -14h2m27 31h2m3 -12h2m-43 -18h2m45 -10h2m40 -9h2m-85 11h2m86 3h2m-47 -18h2m-30 55h2m74 -43h2m-52 18h2m-5 -31h2m-8 32h2m48 6h2m-77 -37h2m6 58h2m5 -52h2m-24 6h2m76 31h2m-37 -26h2m9 35h2m27 -42h2m-42 5h2m-23 25h2m23 11h2m-5 1h2m-22 -38h2m-9 16h2m11 -8h2m36 17h2m-59 -29h2m81 40h2m-78 -9h2m1 -35h2m-17 9h2m25 2h2m-4 38h2m29 -30h2m20 10h2m-67 20h2m54 -34h2m-52 35h2m8 -42h2m-30 -18h2m74 6h2m-54 38h2m31 -20h2m-69 29h2m65 -19h2m-49 10h2m20 -22h2m41 2h2m26 -81h2m-85 76h2m28 16h2m89 6h2m21 17h2m-153 -85h2m-76 -27h2m200 106h2m-105 -119h2m134 31h2m-56 1h2m-104 80h2m123 -50h2m-81 60h2m41 -26h2m43 26h2m-81 -8h2m93 14h2m-144 -91h2m-8 12h2m66 41h2m-63 -7h2m77 30h2m-48 4h2m53 -75h2m20 -28h2m-69 93h2m88 -8h2m-37 -61h2m18 -33h2m-220 -6h2m-3 34h2m159 4h2m-80 -10h2m138 -23h2m-127 18h2m89 26h2m-131 -38h2m98 17h2m68 35h2m-12 61h2m-131 4h2m28 -70h2m12 -42h2m-51 21h2m34 61h2m123 -40h2m-24 25h2m-149 25h2m94 -12h2m67 30h2m-155 -116h2m125 32h2m-16 -40h2m22 73h2m-211 14h2m216 -54h2m13 -30h2m-194 62h2" stroke="#dc0a7a" stroke-width="2" fill="none" opacity="0.9"/>
<rect x="738.8" y="2094.5" width="287.2" height="233.9" fill="none" stroke="#262626" stroke-width="2.4"/>
<line x1="813.2" y1="2094.5" x2="813.2" y2="2328.4" stroke="#262626" stroke-width="2" stroke-linecap="butt"/>
<line x1="738.8" y1="2267.9" x2="1026.0" y2="2267.9" stroke="#262626" stroke-width="2" stroke-linecap="butt"/>
<line x1="732.8" y1="2328.4" x2="738.8" y2="2328.4" stroke="#444" stroke-width="1.2" stroke-linecap="butt"/>
<line x1="735.8" y1="2310.8" x2="738.8" y2="2310.8" stroke="#444" stroke-width="1.2" stroke-linecap="butt"/>
<line x1="735.8" y1="2300.5" x2="738.8" y2="2300.5" stroke="#444" stroke-width="1.2" stroke-linecap="butt"/>
<line x1="735.8" y1="2293.2" x2="738.8" y2="2293.2" stroke="#444" stroke-width="1.2" stroke-linecap="butt"/>
<line x1="735.8" y1="2287.5" x2="738.8" y2="2287.5" stroke="#444" stroke-width="1.2" stroke-linecap="butt"/>
<line x1="735.8" y1="2282.9" x2="738.8" y2="2282.9" stroke="#444" stroke-width="1.2" stroke-linecap="butt"/>
<line x1="735.8" y1="2279.0" x2="738.8" y2="2279.0" stroke="#444" stroke-width="1.2" stroke-linecap="butt"/>
<line x1="735.8" y1="2275.6" x2="738.8" y2="2275.6" stroke="#444" stroke-width="1.2" stroke-linecap="butt"/>
<line x1="735.8" y1="2272.6" x2="738.8" y2="2272.6" stroke="#444" stroke-width="1.2" stroke-linecap="butt"/>
<line x1="732.8" y1="2269.9" x2="738.8" y2="2269.9" stroke="#444" stroke-width="1.2" stroke-linecap="butt"/>
<line x1="735.8" y1="2252.3" x2="738.8" y2="2252.3" stroke="#444" stroke-width="1.2" stroke-linecap="butt"/>
<line x1="735.8" y1="2242.0" x2="738.8" y2="2242.0" stroke="#444" stroke-width="1.2" stroke-linecap="butt"/>
<line x1="735.8" y1="2234.7" x2="738.8" y2="2234.7" stroke="#444" stroke-width="1.2" stroke-linecap="butt"/>
<line x1="735.8" y1="2229.1" x2="738.8" y2="2229.1" stroke="#444" stroke-width="1.2" stroke-linecap="butt"/>
<line x1="735.8" y1="2224.4" x2="738.8" y2="2224.4" stroke="#444" stroke-width="1.2" stroke-linecap="butt"/>
<line x1="735.8" y1="2220.5" x2="738.8" y2="2220.5" stroke="#444" stroke-width="1.2" stroke-linecap="butt"/>
<line x1="735.8" y1="2217.1" x2="738.8" y2="2217.1" stroke="#444" stroke-width="1.2" stroke-linecap="butt"/>
<line x1="735.8" y1="2214.1" x2="738.8" y2="2214.1" stroke="#444" stroke-width="1.2" stroke-linecap="butt"/>
<line x1="732.8" y1="2211.4" x2="738.8" y2="2211.4" stroke="#444" stroke-width="1.2" stroke-linecap="butt"/>
<line x1="735.8" y1="2193.8" x2="738.8" y2="2193.8" stroke="#444" stroke-width="1.2" stroke-linecap="butt"/>
<line x1="735.8" y1="2183.6" x2="738.8" y2="2183.6" stroke="#444" stroke-width="1.2" stroke-linecap="butt"/>
<line x1="735.8" y1="2176.2" x2="738.8" y2="2176.2" stroke="#444" stroke-width="1.2" stroke-linecap="butt"/>
<line x1="735.8" y1="2170.6" x2="738.8" y2="2170.6" stroke="#444" stroke-width="1.2" stroke-linecap="butt"/>
<line x1="735.8" y1="2165.9" x2="738.8" y2="2165.9" stroke="#444" stroke-width="1.2" stroke-linecap="butt"/>
<line x1="735.8" y1="2162.0" x2="738.8" y2="2162.0" stroke="#444" stroke-width="1.2" stroke-linecap="butt"/>
<line x1="735.8" y1="2158.6" x2="738.8" y2="2158.6" stroke="#444" stroke-width="1.2" stroke-linecap="butt"/>
<line x1="735.8" y1="2155.7" x2="738.8" y2="2155.7" stroke="#444" stroke-width="1.2" stroke-linecap="butt"/>
<line x1="732.8" y1="2153.0" x2="738.8" y2="2153.0" stroke="#444" stroke-width="1.2" stroke-linecap="butt"/>
<line x1="735.8" y1="2135.4" x2="738.8" y2="2135.4" stroke="#444" stroke-width="1.2" stroke-linecap="butt"/>
<line x1="735.8" y1="2125.1" x2="738.8" y2="2125.1" stroke="#444" stroke-width="1.2" stroke-linecap="butt"/>
<line x1="735.8" y1="2117.8" x2="738.8" y2="2117.8" stroke="#444" stroke-width="1.2" stroke-linecap="butt"/>
<line x1="735.8" y1="2112.1" x2="738.8" y2="2112.1" stroke="#444" stroke-width="1.2" stroke-linecap="butt"/>
<line x1="735.8" y1="2107.5" x2="738.8" y2="2107.5" stroke="#444" stroke-width="1.2" stroke-linecap="butt"/>
<line x1="735.8" y1="2103.6" x2="738.8" y2="2103.6" stroke="#444" stroke-width="1.2" stroke-linecap="butt"/>
<line x1="735.8" y1="2100.2" x2="738.8" y2="2100.2" stroke="#444" stroke-width="1.2" stroke-linecap="butt"/>
<line x1="735.8" y1="2097.2" x2="738.8" y2="2097.2" stroke="#444" stroke-width="1.2" stroke-linecap="butt"/>
<line x1="732.8" y1="2094.5" x2="738.8" y2="2094.5" stroke="#444" stroke-width="1.2" stroke-linecap="butt"/>
<line x1="738.8" y1="2328.4" x2="738.8" y2="2334.4" stroke="#444" stroke-width="1.2" stroke-linecap="butt"/>
<line x1="760.4" y1="2328.4" x2="760.4" y2="2331.4" stroke="#444" stroke-width="1.2" stroke-linecap="butt"/>
<line x1="773.1" y1="2328.4" x2="773.1" y2="2331.4" stroke="#444" stroke-width="1.2" stroke-linecap="butt"/>
<line x1="782.0" y1="2328.4" x2="782.0" y2="2331.4" stroke="#444" stroke-width="1.2" stroke-linecap="butt"/>
<line x1="789.0" y1="2328.4" x2="789.0" y2="2331.4" stroke="#444" stroke-width="1.2" stroke-linecap="butt"/>
<line x1="794.7" y1="2328.4" x2="794.7" y2="2331.4" stroke="#444" stroke-width="1.2" stroke-linecap="butt"/>
<line x1="799.5" y1="2328.4" x2="799.5" y2="2331.4" stroke="#444" stroke-width="1.2" stroke-linecap="butt"/>
<line x1="803.6" y1="2328.4" x2="803.6" y2="2331.4" stroke="#444" stroke-width="1.2" stroke-linecap="butt"/>
<line x1="807.3" y1="2328.4" x2="807.3" y2="2331.4" stroke="#444" stroke-width="1.2" stroke-linecap="butt"/>
<line x1="810.6" y1="2328.4" x2="810.6" y2="2334.4" stroke="#444" stroke-width="1.2" stroke-linecap="butt"/>
<line x1="832.2" y1="2328.4" x2="832.2" y2="2331.4" stroke="#444" stroke-width="1.2" stroke-linecap="butt"/>
<line x1="844.9" y1="2328.4" x2="844.9" y2="2331.4" stroke="#444" stroke-width="1.2" stroke-linecap="butt"/>
<line x1="853.8" y1="2328.4" x2="853.8" y2="2331.4" stroke="#444" stroke-width="1.2" stroke-linecap="butt"/>
<line x1="860.8" y1="2328.4" x2="860.8" y2="2331.4" stroke="#444" stroke-width="1.2" stroke-linecap="butt"/>
<line x1="866.5" y1="2328.4" x2="866.5" y2="2331.4" stroke="#444" stroke-width="1.2" stroke-linecap="butt"/>
<line x1="871.3" y1="2328.4" x2="871.3" y2="2331.4" stroke="#444" stroke-width="1.2" stroke-linecap="butt"/>
<line x1="875.4" y1="2328.4" x2="875.4" y2="2331.4" stroke="#444" stroke-width="1.2" stroke-linecap="butt"/>
<line x1="879.1" y1="2328.4" x2="879.1" y2="2331.4" stroke="#444" stroke-width="1.2" stroke-linecap="butt"/>
<line x1="882.4" y1="2328.4" x2="882.4" y2="2334.4" stroke="#444" stroke-width="1.2" stroke-linecap="butt"/>
<line x1="904.0" y1="2328.4" x2="904.0" y2="2331.4" stroke="#444" stroke-width="1.2" stroke-linecap="butt"/>
<line x1="916.7" y1="2328.4" x2="916.7" y2="2331.4" stroke="#444" stroke-width="1.2" stroke-linecap="butt"/>
<line x1="925.6" y1="2328.4" x2="925.6" y2="2331.4" stroke="#444" stroke-width="1.2" stroke-linecap="butt"/>
<line x1="932.6" y1="2328.4" x2="932.6" y2="2331.4" stroke="#444" stroke-width="1.2" stroke-linecap="butt"/>
<line x1="938.3" y1="2328.4" x2="938.3" y2="2331.4" stroke="#444" stroke-width="1.2" stroke-linecap="butt"/>
<line x1="943.1" y1="2328.4" x2="943.1" y2="2331.4" stroke="#444" stroke-width="1.2" stroke-linecap="butt"/>
<line x1="947.2" y1="2328.4" x2="947.2" y2="2331.4" stroke="#444" stroke-width="1.2" stroke-linecap="butt"/>
<line x1="950.9" y1="2328.4" x2="950.9" y2="2331.4" stroke="#444" stroke-width="1.2" stroke-linecap="butt"/>
<line x1="954.2" y1="2328.4" x2="954.2" y2="2334.4" stroke="#444" stroke-width="1.2" stroke-linecap="butt"/>
<line x1="975.8" y1="2328.4" x2="975.8" y2="2331.4" stroke="#444" stroke-width="1.2" stroke-linecap="butt"/>
<line x1="988.5" y1="2328.4" x2="988.5" y2="2331.4" stroke="#444" stroke-width="1.2" stroke-linecap="butt"/>
<line x1="997.4" y1="2328.4" x2="997.4" y2="2331.4" stroke="#444" stroke-width="1.2" stroke-linecap="butt"/>
<line x1="1004.4" y1="2328.4" x2="1004.4" y2="2331.4" stroke="#444" stroke-width="1.2" stroke-linecap="butt"/>
<line x1="1010.1" y1="2328.4" x2="1010.1" y2="2331.4" stroke="#444" stroke-width="1.2" stroke-linecap="butt"/>
<line x1="1014.9" y1="2328.4" x2="1014.9" y2="2331.4" stroke="#444" stroke-width="1.2" stroke-linecap="butt"/>
<line x1="1019.0" y1="2328.4" x2="1019.0" y2="2331.4" stroke="#444" stroke-width="1.2" stroke-linecap="butt"/>
<line x1="1022.7" y1="2328.4" x2="1022.7" y2="2331.4" stroke="#444" stroke-width="1.2" stroke-linecap="butt"/>
<line x1="1026.0" y1="2328.4" x2="1026.0" y2="2334.4" stroke="#444" stroke-width="1.2" stroke-linecap="butt"/>
<line x1="94.8" y1="1758.0" x2="94.8" y2="2387.7" stroke="#2a2a2a" stroke-width="2.5" stroke-linecap="butt"/>
<line x1="93.6" y1="2386.5" x2="1342.0" y2="2386.5" stroke="#2a2a2a" stroke-width="2.5" stroke-linecap="butt"/>
<text x="265.7" y="2059.0" font-size="38" text-anchor="middle" fill="#111" style="font-family:'Liberation Sans',sans-serif" stroke="#111" stroke-width="0.45">PBS</text>
<text x="570.0" y="2059.0" font-size="38" text-anchor="middle" fill="#111" style="font-family:'Liberation Sans',sans-serif" stroke="#111" stroke-width="0.45">scr1</text>
<text x="876.4" y="2059.0" font-size="38" text-anchor="middle" fill="#111" style="font-family:'Liberation Sans',sans-serif" stroke="#111" stroke-width="0.45">scr2</text>
<text x="1188.7" y="2059.0" font-size="38" text-anchor="middle" fill="#111" style="font-family:'Liberation Sans',sans-serif" stroke="#111" stroke-width="0.45">scr1+scr2</text>
<text x="273.0" y="2371.0" font-size="38" text-anchor="middle" fill="#111" style="font-family:'Liberation Sans',sans-serif" stroke="#111" stroke-width="0.45">shSur</text>
<text x="570.5" y="2371.0" font-size="38" text-anchor="middle" fill="#111" style="font-family:'Liberation Sans',sans-serif" stroke="#111" stroke-width="0.45">oe494</text>
<text x="881.5" y="2371.0" font-size="38" text-anchor="middle" fill="#111" style="font-family:'Liberation Sans',sans-serif" stroke="#111" stroke-width="0.45">shSur+oe494</text>
<text x="686.0" y="2420.5" font-size="38" text-anchor="middle" fill="#111" style="font-family:'Liberation Sans',sans-serif" stroke="#111" stroke-width="0.45">Annexin V APC</text>
<text x="84.0" y="2040.0" font-size="41" text-anchor="middle" fill="#111" style="font-family:'Liberation Sans',sans-serif" transform="rotate(-90 84.0 2040.0)" stroke="#111" stroke-width="0.45">7-AAD</text>
</svg></body></html>
